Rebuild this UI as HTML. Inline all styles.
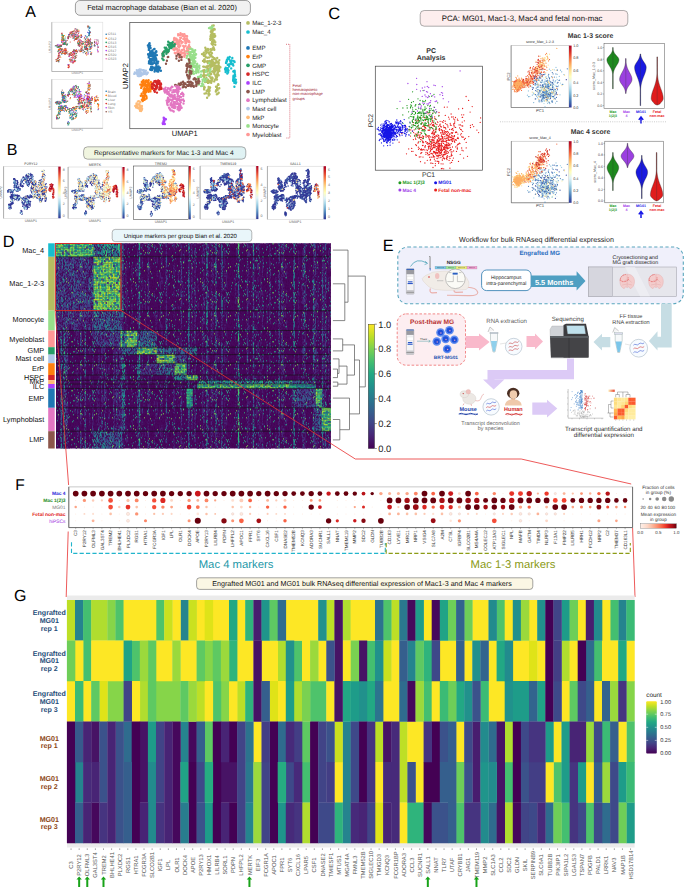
<!DOCTYPE html>
<html><head><meta charset="utf-8"><title>Figure</title>
<style>
html,body{margin:0;padding:0;background:#fff;}
body{width:685px;height:889px;overflow:hidden;}
svg{display:block;font-family:"Liberation Sans",sans-serif;text-rendering:geometricPrecision;}
</style></head><body>
<svg width="685" height="889" viewBox="0 0 685 889">
<rect width="685" height="889" fill="#fff"/>
<!-- panel_a -->
<text x="25.2" y="17.2" font-size="16" fill="#000" text-anchor="start" >A</text>
<rect x="75.4" y="0.5" width="175" height="14.8" rx="4.5" fill="#f1f1f1" stroke="#777" stroke-width="0.7"/>
<text x="162.0" y="10.2" font-size="7.36" fill="#111" text-anchor="middle" >Fetal macrophage database (Bian et al. 2020)</text>
<rect x="129.8" y="22.4" width="110.9" height="106.3" fill="#fff" stroke="#444" stroke-width="0.7"/>
<path stroke="#b5bd61" stroke-width="2.4" stroke-linecap="round" fill="none"  d="M212.7 34.6h0M212.6 44.7h0M214.7 29.6h0M212.6 48.5h0M212.2 36.8h0M211.5 43.6h0M211.5 32.3h0M213.3 43.4h0M214.0 48.8h0M213.0 33.8h0M213.0 29.9h0M211.1 34.4h0M214.6 34.1h0M213.6 48.3h0M214.4 29.0h0M214.3 49.8h0M214.4 36.8h0M211.4 30.8h0M211.1 31.4h0M214.5 37.0h0M213.0 37.8h0M213.7 25.5h0M214.4 40.8h0M211.9 43.9h0M215.3 44.8h0M213.7 48.0h0M213.4 47.3h0M214.5 29.2h0M213.3 40.0h0M212.3 49.2h0M211.3 38.7h0M213.5 35.1h0M215.2 36.0h0M212.3 25.8h0M213.3 44.3h0M210.8 35.4h0M212.6 31.3h0M215.3 42.1h0M212.0 28.0h0M212.1 43.0h0M210.8 31.8h0M211.9 28.8h0M211.8 28.6h0M210.5 36.6h0M211.2 35.4h0M213.8 49.4h0M210.3 38.7h0M213.6 41.4h0M210.4 39.8h0M211.3 36.4h0M213.3 29.1h0M212.1 41.5h0M207.6 57.8h0M203.4 54.8h0M209.8 54.7h0M210.9 62.4h0M204.3 59.5h0M205.7 51.2h0M211.5 50.2h0M211.0 56.4h0M209.5 60.9h0M204.1 55.1h0M210.4 51.8h0M209.1 57.4h0M203.8 52.6h0M210.0 64.8h0M207.9 49.1h0M212.0 53.2h0M202.0 54.1h0M212.7 56.9h0M212.0 59.7h0M203.0 60.9h0M210.4 49.2h0M207.7 61.3h0M205.5 50.5h0M204.6 59.6h0M207.2 61.4h0M206.2 49.3h0M206.3 61.6h0M204.3 62.0h0M207.9 49.0h0M205.6 56.5h0M208.2 50.1h0M203.9 55.8h0M210.0 63.4h0M205.8 57.4h0M209.1 53.5h0M203.7 53.6h0M211.0 55.1h0M212.1 56.5h0M205.6 61.2h0M207.7 52.1h0M205.3 47.7h0M204.8 54.6h0M206.3 53.2h0M209.6 52.8h0M206.1 51.2h0M210.1 64.3h0M204.3 70.0h0M211.7 81.3h0M212.7 78.1h0M218.1 72.0h0M217.7 72.9h0M207.9 63.3h0M215.3 67.2h0M210.9 74.2h0M217.0 74.8h0M204.1 78.4h0M207.3 80.1h0M203.8 74.5h0M205.7 75.4h0M215.7 70.0h0M216.3 78.7h0M213.1 71.3h0M218.7 75.3h0M218.5 68.5h0M206.4 81.7h0M210.3 68.4h0M213.8 72.4h0M202.8 75.7h0M208.3 66.1h0M207.5 68.2h0M212.7 66.0h0M214.9 79.7h0M207.8 74.9h0M206.0 67.3h0M217.9 74.0h0M214.6 64.3h0M209.9 73.0h0M211.0 82.3h0M211.8 79.5h0M207.3 66.5h0M217.2 74.8h0M210.9 78.2h0M208.0 82.1h0M210.5 77.4h0M210.0 64.3h0M207.7 69.9h0M216.5 67.5h0M208.2 62.4h0M208.4 82.3h0M209.3 76.0h0M215.8 78.4h0M211.2 82.7h0M207.6 69.4h0M210.1 65.3h0M208.6 81.3h0M206.5 80.2h0M212.7 65.4h0M217.6 70.1h0M217.0 76.9h0M215.5 75.2h0M211.2 63.5h0M204.0 72.6h0M204.1 76.5h0M206.5 66.5h0M211.1 66.0h0M216.1 75.4h0M219.1 69.8h0M214.5 71.1h0M207.8 74.5h0M209.8 72.6h0M209.6 82.4h0M203.2 66.6h0M212.0 77.5h0M206.3 71.1h0M214.0 69.6h0M203.8 72.0h0M213.7 65.6h0M214.2 81.4h0M213.8 69.0h0M216.7 79.6h0M212.2 79.7h0M209.3 62.6h0M208.2 81.7h0M217.0 79.5h0M216.1 76.4h0M212.6 64.1h0M217.4 73.4h0M214.4 74.0h0M216.7 69.7h0M212.5 62.0h0M204.9 80.0h0M211.2 73.9h0M215.6 65.7h0M212.0 66.2h0M209.1 68.8h0M207.5 71.6h0M202.9 70.8h0M219.4 70.9h0M204.4 71.3h0M215.5 75.8h0M216.4 75.9h0M204.0 66.7h0M209.9 62.9h0M209.2 70.4h0M210.6 67.3h0M208.5 82.2h0M206.4 78.0h0M210.1 81.2h0M205.3 79.3h0M210.0 81.1h0M211.6 60.9h0M214.1 62.8h0M213.7 62.8h0M219.3 60.1h0M218.8 63.0h0M218.6 66.7h0M212.1 71.5h0M220.4 67.2h0M214.1 68.2h0M216.4 61.3h0M214.2 58.7h0M212.2 61.9h0M218.3 67.9h0M217.2 58.0h0M212.6 59.7h0M214.3 73.3h0M216.3 60.2h0M219.7 66.8h0M216.2 67.1h0M216.1 62.5h0M216.9 65.6h0M216.9 67.4h0M211.2 64.8h0M215.0 59.2h0M212.7 61.3h0M219.1 66.4h0M215.4 69.3h0M215.5 62.9h0M214.5 68.3h0M217.4 73.4h0M218.7 65.0h0M215.5 71.2h0M218.1 62.8h0M219.9 67.5h0M211.7 62.2h0M218.4 61.7h0M214.6 58.3h0M215.1 71.0h0M207.1 80.5h0M208.6 87.0h0M210.1 87.5h0M209.2 90.4h0M204.5 93.6h0M209.9 81.8h0M204.1 88.0h0M206.1 93.2h0M208.1 79.8h0M209.9 81.0h0M208.8 93.0h0M204.7 87.5h0M208.4 91.5h0M208.0 91.2h0M204.2 86.7h0M207.4 90.7h0M208.4 81.2h0M206.6 90.8h0M208.7 95.6h0M205.1 82.1h0M207.1 97.8h0M209.6 90.8h0M209.8 88.3h0M208.4 94.0h0M209.6 94.3h0M204.1 89.4h0M208.7 88.4h0M208.0 82.9h0M208.2 89.4h0M209.2 89.5h0M219.3 88.3h0M216.1 90.1h0M218.5 84.7h0M218.2 84.2h0M216.0 86.7h0M217.1 89.3h0M216.0 91.5h0M217.1 88.1h0M217.5 90.0h0M215.8 91.5h0M216.8 86.7h0M216.8 94.3h0M217.7 93.7h0M218.7 92.7h0M217.9 84.8h0"/>
<path stroke="#98df8a" stroke-width="2.4" stroke-linecap="round" fill="none"  d="M189.1 61.4h0M195.4 57.8h0M186.7 57.9h0M188.6 48.9h0M190.3 56.1h0M189.6 47.0h0M191.7 49.0h0M195.5 54.9h0M191.2 57.0h0M189.8 61.0h0M189.0 52.6h0M185.2 54.9h0M186.4 51.5h0M194.5 56.9h0M189.7 60.5h0M192.3 57.5h0M190.7 48.7h0M190.1 52.2h0M189.8 58.2h0M193.0 51.3h0M192.3 56.7h0M194.5 54.9h0M189.8 55.7h0M190.3 53.2h0M193.9 52.8h0M185.1 53.9h0M194.0 59.4h0M187.7 51.3h0M193.3 54.7h0M191.6 51.8h0M189.2 58.9h0M194.5 58.1h0M193.9 60.1h0M192.6 49.5h0M195.2 50.2h0M192.9 60.9h0M196.1 54.2h0M192.9 50.8h0M188.9 59.1h0M193.0 55.3h0M193.3 59.2h0M189.7 54.9h0M191.9 59.5h0M191.8 57.2h0M190.2 59.7h0M192.6 51.9h0M191.0 54.4h0M194.1 51.9h0M187.2 55.9h0M190.5 48.5h0M188.8 54.1h0M194.6 52.4h0M195.4 65.8h0M193.2 71.8h0M190.8 64.0h0M190.6 64.2h0M197.0 66.6h0M193.0 64.1h0M195.3 67.2h0M189.7 65.5h0M199.4 68.3h0M190.8 74.2h0M193.3 63.4h0M190.1 74.2h0M190.1 62.1h0M196.2 70.9h0M192.3 66.1h0M189.2 72.5h0M199.4 65.7h0M198.2 70.7h0M189.6 73.6h0M194.0 63.1h0M190.0 71.4h0M191.9 68.6h0M191.6 72.0h0M198.6 72.2h0M192.7 70.2h0M195.3 66.2h0M193.7 66.8h0M191.9 72.9h0M191.1 63.1h0M194.8 63.0h0M195.3 61.5h0M198.5 70.2h0M196.2 73.1h0M198.3 66.6h0M192.7 73.2h0M193.9 66.1h0M192.2 66.4h0M197.1 63.9h0M196.2 69.7h0M197.3 66.2h0M197.2 64.0h0M193.9 73.8h0M192.8 64.6h0M196.9 68.3h0M195.2 66.1h0M189.1 71.2h0M193.2 61.9h0M194.2 65.6h0M196.8 68.7h0M195.4 66.2h0M197.5 71.6h0M195.5 71.4h0M201.1 86.1h0M197.8 81.2h0M198.0 77.0h0M198.8 84.6h0M201.2 76.9h0M202.3 85.7h0M203.2 84.5h0M199.0 77.5h0M197.8 80.4h0M199.7 76.4h0M202.5 79.6h0M196.0 81.4h0M200.9 76.8h0M198.2 78.0h0M197.6 81.6h0M196.4 81.8h0M202.7 81.6h0M199.1 83.5h0M197.8 83.8h0M198.1 82.4h0M197.9 78.0h0M201.9 83.6h0M210.3 69.2h0M206.5 70.3h0M208.1 75.3h0M208.8 74.5h0M206.5 79.1h0M210.0 71.4h0M210.2 69.5h0M205.8 71.8h0M201.6 71.4h0M209.2 63.1h0M201.1 71.5h0M205.3 81.3h0M204.0 78.9h0M201.0 74.6h0M203.4 79.6h0M212.2 27.7h0M212.1 26.7h0M210.3 27.5h0M209.0 28.1h0M210.7 28.6h0M212.5 26.7h0"/>
<path stroke="#ff9896" stroke-width="2.4" stroke-linecap="round" fill="none"  d="M174.1 43.3h0M185.0 40.8h0M176.2 42.9h0M182.6 53.0h0M185.3 39.9h0M186.8 38.5h0M187.6 53.6h0M181.6 42.7h0M173.9 40.5h0M184.9 55.4h0M179.2 50.1h0M180.5 33.2h0M184.6 55.8h0M175.4 38.8h0M178.5 44.4h0M175.5 43.7h0M184.6 54.9h0M184.4 37.2h0M179.3 44.5h0M178.5 35.3h0M177.4 39.6h0M179.6 50.4h0M180.9 38.1h0M179.1 47.6h0M186.1 41.8h0M180.3 45.7h0M184.4 56.7h0M178.1 46.2h0M177.3 49.7h0M186.0 43.2h0M179.2 53.0h0M185.4 40.7h0M189.7 47.1h0M183.9 49.2h0M178.9 57.0h0M181.1 37.6h0M174.3 38.0h0M176.9 48.8h0M179.2 47.0h0M185.8 35.9h0M182.1 50.0h0M183.2 35.0h0M175.5 53.5h0M179.9 39.9h0M183.4 39.0h0M175.3 49.2h0M184.2 56.0h0M181.9 56.5h0M181.5 53.8h0M186.9 50.5h0M174.2 50.1h0M179.2 41.5h0M174.8 52.9h0M189.4 42.2h0M185.4 43.1h0M182.6 35.7h0M183.4 35.2h0M178.6 54.3h0M181.5 42.0h0M183.5 46.2h0M185.6 46.0h0M184.0 46.9h0M178.8 53.0h0M180.3 34.9h0M188.0 47.1h0M175.1 53.0h0M176.2 40.4h0M184.8 38.5h0M178.4 43.6h0M181.6 57.2h0M187.6 50.4h0M172.5 44.8h0M184.4 34.2h0M182.7 42.1h0M176.3 38.8h0M184.0 53.0h0M188.3 50.1h0M183.2 46.0h0M180.5 55.1h0M174.5 43.2h0M184.6 51.3h0M179.1 42.3h0M178.5 54.6h0M181.9 42.7h0M176.3 43.9h0M181.5 43.2h0M181.2 52.0h0M177.3 42.7h0M186.7 39.0h0M188.7 46.3h0M188.2 41.1h0M176.6 41.0h0M189.1 45.1h0M179.8 55.0h0M174.9 45.8h0M178.2 35.4h0M174.1 38.6h0M176.9 39.4h0M187.1 36.2h0M185.1 53.5h0M180.2 37.8h0M175.6 48.1h0M187.5 40.1h0M186.1 43.1h0M173.3 49.3h0M177.9 51.2h0M187.1 39.6h0M189.1 41.2h0M182.5 34.2h0M187.4 39.6h0M188.5 41.9h0M173.6 46.3h0M177.0 52.5h0M186.9 48.1h0M173.5 49.6h0M182.1 50.0h0M180.9 40.9h0M177.6 40.8h0M185.4 42.9h0M178.1 34.1h0"/>
<path stroke="#8c564b" stroke-width="2.4" stroke-linecap="round" fill="none"  d="M189.7 65.8h0M186.7 71.0h0M189.5 62.8h0M187.1 63.6h0M189.2 59.9h0M186.4 65.1h0M187.8 64.1h0M190.1 67.4h0M186.4 72.3h0M188.5 66.3h0M190.7 67.5h0M191.5 71.5h0M188.5 78.5h0M187.1 74.9h0M186.5 65.9h0M186.8 70.7h0M190.9 66.5h0M189.4 75.3h0M187.7 76.6h0M191.3 73.6h0M189.8 76.8h0M187.6 67.1h0M189.8 70.5h0M191.0 66.2h0M188.8 59.5h0M190.7 73.0h0M189.3 60.5h0M189.8 72.8h0M187.0 68.7h0M189.3 78.6h0M181.6 84.4h0M178.8 83.6h0M196.5 85.6h0M189.5 84.3h0M189.9 85.6h0M191.1 86.3h0M183.1 81.7h0M179.4 84.6h0M188.7 81.8h0M181.2 82.8h0M192.7 85.7h0M176.8 85.4h0M191.4 84.4h0M183.5 86.7h0M187.2 85.1h0M192.7 83.1h0M196.2 86.1h0M183.8 85.0h0M190.0 84.6h0M191.9 82.8h0M193.8 86.8h0M193.7 85.8h0M175.2 84.9h0M183.8 83.0h0M190.6 81.8h0M188.0 85.9h0M177.3 85.8h0M180.0 85.1h0M182.8 87.2h0M185.4 84.1h0M180.1 84.2h0M176.8 86.1h0M187.7 81.9h0M184.0 86.6h0M180.7 83.5h0M188.6 81.7h0M183.7 85.7h0M191.3 84.9h0M189.2 84.6h0M188.7 82.2h0M190.6 81.9h0M185.4 83.5h0M196.3 85.0h0M185.9 87.3h0M191.3 84.2h0M198.7 80.4h0M196.5 83.3h0M198.6 83.4h0M199.4 81.5h0M196.8 82.6h0M198.5 78.9h0M194.2 78.7h0M196.4 84.2h0M193.6 79.2h0M194.7 78.3h0M195.9 81.7h0M198.1 81.1h0M195.9 79.3h0M194.1 79.4h0M198.4 82.2h0M162.8 53.7h0M163.6 56.2h0M162.7 54.7h0M167.8 52.3h0M166.8 52.2h0M168.2 56.9h0M166.0 63.8h0M167.8 57.1h0M163.3 52.3h0M166.9 60.7h0M179.8 57.3h0M181.6 57.3h0M179.7 55.0h0M181.4 59.9h0M176.5 55.9h0M176.4 58.5h0M178.2 54.3h0M178.9 60.8h0"/>
<path stroke="#e377c2" stroke-width="2.4" stroke-linecap="round" fill="none"  d="M181.6 107.7h0M173.8 92.1h0M174.1 107.9h0M176.7 104.1h0M169.0 107.8h0M180.2 88.6h0M178.8 87.0h0M177.5 93.6h0M175.4 106.7h0M167.1 102.8h0M179.0 110.2h0M175.8 103.4h0M178.6 91.3h0M176.9 100.9h0M182.3 92.9h0M183.2 96.1h0M167.3 103.9h0M168.7 92.0h0M180.9 97.0h0M174.3 90.8h0M177.0 88.4h0M175.0 90.2h0M183.5 103.5h0M176.5 90.0h0M173.3 90.3h0M170.6 110.2h0M179.7 100.8h0M172.2 105.1h0M172.9 97.7h0M169.8 108.9h0M169.6 94.2h0M170.5 104.3h0M172.4 87.0h0M183.1 93.9h0M179.3 99.5h0M172.9 95.7h0M178.4 87.2h0M183.9 100.9h0M168.9 101.5h0M177.9 88.2h0M174.8 97.2h0M170.6 105.2h0M173.9 102.1h0M178.4 99.9h0M173.2 98.9h0M178.1 90.0h0M178.3 89.8h0M173.9 90.4h0M167.7 99.3h0M175.3 102.8h0M174.4 105.3h0M177.0 103.9h0M172.2 107.3h0M183.2 99.4h0M171.7 100.6h0M177.0 86.4h0M172.7 105.9h0M177.7 94.2h0M171.1 96.6h0M176.9 87.4h0M176.0 98.9h0M179.9 104.3h0M171.3 103.0h0M178.6 107.4h0M179.0 105.3h0M174.7 94.9h0M178.8 99.1h0M168.0 91.6h0M181.1 93.9h0M167.7 105.1h0M171.9 86.8h0M180.0 106.6h0M175.5 86.1h0M176.2 90.3h0M171.1 95.2h0M182.2 92.9h0M170.4 96.5h0M171.5 95.0h0M181.4 99.9h0M177.7 91.2h0M170.4 109.9h0M172.3 87.0h0M167.7 99.5h0M180.0 109.5h0M170.8 99.8h0M179.4 96.1h0M172.3 92.4h0M180.5 105.7h0M173.9 98.4h0M177.6 96.5h0M179.7 100.0h0M178.0 99.0h0M177.2 92.8h0M172.9 96.6h0M175.3 91.6h0M172.7 106.9h0M169.2 95.1h0M180.0 108.6h0M178.8 103.8h0M170.0 96.2h0M180.2 88.8h0M174.1 98.5h0M181.6 99.9h0M178.3 99.0h0M175.3 97.4h0M169.7 108.4h0M177.6 109.3h0M174.9 108.1h0M182.4 93.3h0M166.6 100.6h0M179.7 106.8h0M177.8 107.2h0M175.5 99.1h0M183.5 94.6h0M167.7 102.1h0M172.5 100.3h0M180.8 102.2h0M174.6 105.5h0M178.5 86.8h0M178.0 92.8h0M172.1 100.6h0M173.7 111.5h0M180.0 97.0h0M173.8 103.3h0M174.9 102.3h0M177.5 103.2h0M169.4 99.4h0M177.7 93.3h0M168.0 97.6h0M179.0 87.5h0M173.7 103.5h0M174.6 96.5h0M178.8 109.4h0M168.3 101.8h0M172.3 110.6h0M168.2 92.4h0M165.6 87.6h0M165.4 90.5h0M170.7 90.3h0M170.1 89.7h0M163.7 89.0h0M168.5 92.0h0M166.9 92.5h0M163.9 89.6h0M168.3 88.5h0M170.5 88.4h0M170.7 87.9h0M168.0 88.3h0M164.4 91.2h0M166.9 90.2h0M167.3 93.7h0M164.9 89.6h0M165.0 92.5h0"/>
<path stroke="#279e68" stroke-width="2.4" stroke-linecap="round" fill="none"  d="M172.2 46.8h0M170.4 43.9h0M171.3 45.4h0M169.4 46.9h0M172.7 42.2h0M169.6 43.1h0M174.8 44.3h0M171.0 44.7h0M168.2 41.8h0M169.7 47.5h0M171.1 44.2h0M173.9 46.4h0M169.1 46.8h0M169.7 42.9h0M167.9 44.8h0M171.4 48.0h0M171.6 45.0h0M170.4 46.2h0M172.1 43.2h0M174.2 45.9h0M172.3 44.8h0M172.1 44.8h0M170.0 43.8h0M174.5 44.8h0M170.5 45.8h0M169.8 47.8h0M170.4 44.5h0M168.7 45.3h0M171.8 43.0h0M170.5 45.8h0M165.5 49.1h0M164.7 47.6h0M166.9 51.6h0M166.3 51.4h0M166.1 50.3h0M169.1 49.5h0M168.7 49.9h0M168.2 51.7h0M166.9 49.2h0M164.3 52.0h0M166.4 50.9h0M164.2 51.2h0M168.8 51.1h0M166.1 47.6h0M166.0 48.5h0M166.4 53.7h0M167.0 50.2h0M166.3 48.1h0M163.4 60.0h0M162.6 55.7h0M163.6 59.9h0M162.3 58.5h0M163.3 54.7h0M163.4 53.3h0M162.4 53.7h0M163.8 55.2h0M163.3 53.7h0"/>
<path stroke="#1f77b4" stroke-width="2.4" stroke-linecap="round" fill="none"  d="M149.1 49.7h0M149.2 43.8h0M148.9 47.9h0M149.0 47.3h0M148.5 46.1h0M148.8 49.9h0M149.6 43.3h0M148.7 45.8h0M150.6 48.0h0M147.9 45.5h0M148.6 47.4h0M150.2 45.7h0M156.2 51.2h0M153.5 55.0h0M153.9 49.3h0M156.0 55.3h0M155.5 53.0h0M153.9 55.0h0M154.8 59.2h0M149.1 55.7h0M154.2 58.6h0M155.9 58.2h0M151.5 55.9h0M155.1 55.6h0M151.8 53.8h0M152.3 51.1h0M148.1 54.3h0M150.0 52.8h0M152.6 59.8h0M148.5 55.3h0M150.2 51.1h0M156.3 52.0h0M150.5 53.9h0M153.8 54.1h0M150.9 55.9h0M151.4 53.1h0M152.4 52.4h0M153.3 55.1h0M153.1 52.9h0M153.3 52.5h0M155.0 57.3h0M151.2 51.5h0M148.7 57.4h0M154.0 58.7h0M153.4 60.1h0M155.0 58.3h0M156.4 51.8h0M154.5 49.0h0M152.3 50.5h0M153.4 57.0h0M152.4 52.6h0M152.1 60.3h0M150.4 54.1h0M156.9 55.1h0M155.8 51.6h0M150.3 58.9h0M152.2 53.2h0M151.9 63.3h0M153.2 60.1h0M155.8 67.5h0M153.3 57.7h0M153.2 67.5h0M150.5 62.0h0M151.6 58.6h0M154.4 68.5h0M158.2 61.6h0M156.9 66.5h0M156.4 60.4h0M157.0 62.0h0M155.5 57.4h0M151.1 63.8h0M154.6 58.5h0M152.0 60.7h0M157.0 62.4h0M152.8 60.0h0M157.1 66.8h0M149.0 61.2h0M156.3 64.5h0M149.2 62.0h0M157.0 66.5h0M148.9 63.3h0M154.9 57.8h0M156.0 63.3h0M151.2 66.7h0M156.1 64.0h0M152.2 66.6h0M152.8 63.8h0M154.3 62.9h0M151.6 68.1h0M152.1 59.1h0M150.2 63.8h0M156.6 66.2h0M152.9 63.4h0M157.7 63.4h0M156.3 66.9h0M152.5 63.4h0M156.1 67.4h0M150.2 61.5h0M156.3 65.8h0M154.1 59.4h0M154.3 61.5h0M154.7 60.4h0M153.8 60.1h0M150.0 59.5h0M156.3 59.2h0M157.3 66.8h0M155.8 63.5h0M151.3 67.5h0M157.8 61.9h0M157.1 71.2h0M151.1 69.1h0M157.3 70.6h0M151.5 70.1h0M150.4 69.8h0M158.4 71.1h0M155.9 69.8h0M152.4 68.4h0M152.9 67.9h0M157.8 68.7h0M155.0 68.7h0M150.9 68.2h0M156.6 69.1h0M159.2 68.9h0M150.9 68.9h0M150.2 69.5h0M159.0 68.6h0M154.8 69.8h0M158.6 66.5h0M157.9 71.5h0M158.3 71.6h0M154.6 71.6h0M150.5 69.1h0M154.7 69.8h0M156.4 70.2h0M160.9 70.7h0M159.0 69.9h0M160.0 67.8h0M157.3 66.7h0M157.0 67.0h0M154.8 68.6h0M151.4 68.2h0M151.6 69.7h0M154.6 67.6h0M152.0 70.0h0M159.3 67.5h0M156.0 69.8h0M152.0 69.7h0"/>
<path stroke="#aec7e8" stroke-width="2.4" stroke-linecap="round" fill="none"  d="M146.9 73.5h0M145.4 71.5h0M139.1 75.7h0M134.9 72.9h0M136.9 73.6h0M138.9 74.9h0M139.7 73.5h0M137.0 72.0h0M138.3 76.0h0M141.2 73.8h0M147.6 73.0h0M137.8 75.7h0M134.8 72.5h0M143.6 73.3h0M147.0 73.9h0M145.9 70.6h0M144.9 73.0h0M143.1 73.6h0M139.2 74.0h0M139.3 71.3h0M139.1 71.4h0M139.1 72.6h0M138.0 73.6h0M137.6 74.2h0M146.8 73.7h0M139.7 69.5h0M141.3 72.7h0M147.6 72.8h0M139.7 76.1h0M134.3 73.9h0M140.7 75.3h0M140.0 70.8h0M140.4 71.3h0M142.5 74.6h0M141.7 74.6h0M144.0 72.0h0M137.1 71.6h0M141.7 73.7h0M139.3 73.9h0M136.7 73.8h0M140.6 72.4h0M143.8 70.1h0M143.0 70.2h0M143.4 74.1h0M146.3 74.3h0M136.8 70.1h0M138.9 70.0h0M144.1 73.9h0M135.4 72.6h0M143.2 70.2h0M141.0 69.7h0M143.7 71.2h0M137.5 72.4h0M136.6 73.5h0M139.9 72.4h0M139.3 69.8h0M140.9 75.7h0M140.7 70.4h0M137.5 74.8h0M147.8 72.8h0"/>
<path stroke="#ff7f0e" stroke-width="2.4" stroke-linecap="round" fill="none"  d="M144.1 83.8h0M146.1 92.1h0M151.9 83.8h0M143.4 81.2h0M148.8 91.0h0M148.6 80.3h0M146.6 84.7h0M150.2 85.2h0M152.7 85.8h0M141.8 86.4h0M148.8 89.3h0M148.4 88.8h0M149.9 86.7h0M146.9 86.9h0M146.2 80.5h0M147.5 86.2h0M141.2 87.9h0M145.8 85.0h0M147.3 88.6h0M143.4 83.1h0M145.5 84.6h0M145.1 85.7h0M152.7 87.1h0M141.8 81.9h0M150.6 89.4h0M151.7 87.5h0M148.0 84.3h0M147.2 85.1h0M149.2 84.6h0M150.0 89.0h0M144.4 91.6h0M148.0 90.4h0M144.6 89.8h0M147.6 87.5h0M143.9 85.5h0M147.9 82.1h0M149.6 85.3h0M147.8 82.1h0M141.5 86.9h0M144.3 88.8h0M143.4 91.9h0M143.0 82.8h0M143.6 80.3h0M143.7 89.8h0M142.8 82.8h0M150.4 91.4h0M150.1 87.6h0M148.0 80.7h0M148.5 91.7h0M148.5 83.8h0M150.1 84.7h0M147.6 90.1h0M146.1 88.5h0M143.3 84.6h0M145.5 89.7h0M151.7 88.4h0M140.3 84.6h0M146.8 86.6h0M141.6 84.4h0M148.4 91.2h0M144.4 83.4h0M148.6 80.5h0M149.1 89.3h0M148.0 85.4h0M145.9 84.7h0M143.6 81.5h0M142.8 80.8h0M145.7 91.1h0M152.1 88.9h0M145.1 83.4h0M144.3 88.3h0M150.8 82.0h0M147.0 90.0h0M146.1 80.6h0M145.9 81.0h0M145.8 81.9h0M142.4 82.4h0M145.7 91.6h0M152.5 84.3h0M144.7 92.2h0M145.1 91.7h0M148.8 83.1h0M146.5 98.6h0M144.6 99.7h0M144.0 97.4h0M145.3 94.1h0M140.8 95.7h0M146.6 98.2h0M144.4 99.1h0M144.8 92.8h0M141.7 93.8h0M142.7 101.1h0M146.6 97.2h0M141.9 99.7h0M142.7 99.8h0M143.2 99.9h0M146.2 95.9h0M144.4 94.6h0M144.0 93.1h0M142.8 96.0h0M144.6 94.6h0M144.0 96.3h0M142.9 96.2h0M142.9 97.5h0"/>
<path stroke="#ffbb78" stroke-width="2.4" stroke-linecap="round" fill="none"  d="M137.6 104.5h0M136.4 105.1h0M137.9 108.1h0M141.0 106.4h0M141.9 109.8h0M139.3 108.3h0M137.4 104.7h0M138.8 101.2h0M140.2 102.0h0M140.3 102.4h0M139.4 107.8h0M139.8 105.1h0M139.6 107.7h0M139.0 108.6h0M139.2 108.7h0M139.0 108.1h0M138.3 107.4h0M137.9 101.4h0M141.1 111.1h0M140.0 110.8h0M136.5 103.4h0M137.2 107.7h0M141.9 105.9h0M141.6 107.2h0M142.1 108.8h0M137.3 106.6h0M140.6 108.6h0M139.0 104.4h0M136.1 107.4h0M135.3 105.9h0M136.7 103.6h0M138.6 104.5h0M137.3 106.8h0"/>
<path stroke="#d62728" stroke-width="2.4" stroke-linecap="round" fill="none"  d="M154.2 85.5h0M155.7 80.9h0M156.8 83.8h0M154.9 89.0h0M156.0 81.1h0M160.2 87.0h0M152.7 88.1h0M154.4 81.3h0M159.5 81.3h0M160.9 84.5h0M156.3 82.5h0M155.9 81.9h0M152.8 88.1h0M152.0 87.7h0M154.8 91.7h0M160.8 83.6h0M154.1 90.6h0M157.0 87.4h0M158.3 82.3h0M151.8 86.2h0M152.8 88.4h0M160.9 83.5h0M161.5 88.8h0M159.5 88.3h0M156.0 85.8h0M161.2 87.5h0M159.6 83.4h0M160.2 85.1h0M156.6 88.2h0M158.6 83.9h0M152.5 87.6h0M152.0 84.1h0M155.9 86.8h0M160.3 83.1h0M155.7 89.4h0M160.7 83.7h0M155.7 88.9h0M157.0 92.6h0M160.2 86.1h0M160.6 89.1h0M159.2 89.5h0M153.5 82.7h0M161.1 84.2h0M158.8 83.2h0M156.8 85.4h0M157.3 86.2h0M159.5 87.6h0M158.2 80.5h0M158.0 81.4h0M160.6 85.6h0M156.3 87.3h0M154.1 85.0h0"/>
<path stroke="#aa40fc" stroke-width="2.4" stroke-linecap="round" fill="none"  d="M164.9 118.8h0M164.4 119.4h0M165.9 119.3h0M162.7 123.1h0M164.4 119.6h0M164.8 124.0h0M163.0 124.1h0M162.8 123.4h0M163.8 123.2h0M164.2 121.2h0M165.1 119.6h0M163.4 121.3h0M163.9 118.0h0M164.5 123.8h0M163.7 117.7h0M163.9 119.0h0M165.2 119.2h0M164.1 122.9h0"/>
<path stroke="#17becf" stroke-width="2.4" stroke-linecap="round" fill="none"  d="M229.7 56.9h0M232.3 58.0h0M228.9 64.5h0M229.2 66.4h0M232.8 64.0h0M234.6 62.1h0M233.3 65.5h0M231.3 61.1h0M232.9 64.8h0M227.1 59.5h0M230.9 61.8h0M226.7 60.5h0M227.0 60.2h0M226.3 62.0h0M231.6 64.1h0M234.4 61.4h0M229.2 59.2h0M233.6 61.0h0M231.5 60.4h0M230.3 64.0h0M230.3 61.3h0M226.9 61.6h0M231.2 68.4h0M226.9 60.5h0M231.2 62.6h0M230.8 63.0h0M227.9 57.6h0M227.7 64.8h0M226.0 62.9h0M228.6 57.9h0M235.2 81.4h0M234.2 77.0h0M235.0 74.2h0M234.6 70.8h0M233.6 71.1h0M235.9 79.8h0M233.3 71.4h0M234.8 72.0h0M234.3 81.1h0M233.2 79.4h0M233.1 80.8h0M233.3 78.1h0M235.0 79.1h0M233.3 77.0h0M234.4 86.8h0M233.5 75.8h0M236.2 82.1h0M234.3 82.7h0M235.8 83.3h0M234.6 70.7h0M235.2 76.3h0M234.4 72.2h0M225.3 69.8h0M228.5 70.4h0M228.1 72.4h0M227.9 69.6h0M226.8 69.7h0M227.3 73.6h0M225.6 72.0h0M225.7 67.6h0M227.7 68.1h0M227.8 71.5h0M226.6 69.7h0M225.1 69.0h0"/>
<text x="184.7" y="135.8" font-size="7.5" fill="#111" text-anchor="middle" >UMAP1</text>
<text transform="translate(127.5,76) rotate(-90)" font-size="7.5" fill="#111" text-anchor="middle">UMAP2</text>
<circle cx="248" cy="22.9" r="1.85" fill="#b5bd61"/>
<text x="252.2" y="25.1" font-size="6.15" fill="#222" text-anchor="start" >Mac_1-2-3</text>
<circle cx="248" cy="32.0" r="1.85" fill="#17becf"/>
<text x="252.2" y="34.2" font-size="6.15" fill="#222" text-anchor="start" >Mac_4</text>
<circle cx="248" cy="47.9" r="1.85" fill="#1f77b4"/>
<text x="252.2" y="50.1" font-size="6.15" fill="#222" text-anchor="start" >EMP</text>
<circle cx="248" cy="56.6" r="1.85" fill="#ff7f0e"/>
<text x="252.2" y="58.8" font-size="6.15" fill="#222" text-anchor="start" >ErP</text>
<circle cx="248" cy="65.3" r="1.85" fill="#279e68"/>
<text x="252.2" y="67.5" font-size="6.15" fill="#222" text-anchor="start" >GMP</text>
<circle cx="248" cy="74.1" r="1.85" fill="#d62728"/>
<text x="252.2" y="76.3" font-size="6.15" fill="#222" text-anchor="start" >HSPC</text>
<circle cx="248" cy="82.9" r="1.85" fill="#aa40fc"/>
<text x="252.2" y="85.1" font-size="6.15" fill="#222" text-anchor="start" >ILC</text>
<circle cx="248" cy="91.6" r="1.85" fill="#8c564b"/>
<text x="252.2" y="93.8" font-size="6.15" fill="#222" text-anchor="start" >LMP</text>
<circle cx="248" cy="100.2" r="1.85" fill="#e377c2"/>
<text x="252.2" y="102.4" font-size="6.15" fill="#222" text-anchor="start" >Lymphoblast</text>
<circle cx="248" cy="108.6" r="1.85" fill="#aec7e8"/>
<text x="252.2" y="110.8" font-size="6.15" fill="#222" text-anchor="start" >Mast cell</text>
<circle cx="248" cy="117.3" r="1.85" fill="#ffbb78"/>
<text x="252.2" y="119.5" font-size="6.15" fill="#222" text-anchor="start" >MkP</text>
<circle cx="248" cy="125.9" r="1.85" fill="#98df8a"/>
<text x="252.2" y="128.1" font-size="6.15" fill="#222" text-anchor="start" >Monocyte</text>
<circle cx="248" cy="134.5" r="1.85" fill="#ff9896"/>
<text x="252.2" y="136.7" font-size="6.15" fill="#222" text-anchor="start" >Myeloblast</text>
<path d="M286 44.3H289.8V138H286.5" stroke="#c8283a" stroke-width="0.8" stroke-dasharray="0.8 1.2" fill="none"/>
<text x="292.6" y="86.6" font-size="4.0" fill="#a02030" text-anchor="start" >Fetal</text>
<text x="292.6" y="90.9" font-size="4.0" fill="#a02030" text-anchor="start" >hematopoietic</text>
<text x="292.6" y="95.2" font-size="4.0" fill="#a02030" text-anchor="start" >non-macrophage</text>
<text x="292.6" y="99.5" font-size="4.0" fill="#a02030" text-anchor="start" >groups</text>
<rect x="51.8" y="22.2" width="51.0" height="49.3" fill="#fff" stroke="#ddd" stroke-width="0.6"/>
<path d="M51.8 22.2V71.5H102.8" stroke="#999" stroke-width="0.6" fill="none"/>
<path stroke="#1f77b4" stroke-width="1.05" stroke-linecap="round" fill="none"  d="M89.3 32.9h0M88.6 26.9h0M89.4 35.8h0M89.2 30.4h0M89.2 33.4h0M89.2 32.6h0M88.8 32.9h0M89.9 28.2h0M88.8 27.3h0M88.5 34.9h0M90.1 31.6h0M89.4 33.9h0M89.5 30.9h0M87.9 32.4h0M88.7 26.1h0M90.0 32.6h0M90.2 32.2h0M89.6 27.0h0M88.8 33.7h0M88.6 35.4h0M89.8 33.4h0M89.4 34.4h0M90.1 31.8h0M89.4 28.3h0M87.9 32.2h0M89.0 28.7h0M89.4 35.2h0M89.7 32.3h0M88.7 29.9h0M89.9 31.7h0M86.8 36.2h0M89.0 39.6h0M89.2 40.4h0M86.2 37.9h0M85.4 36.1h0M85.3 35.6h0M85.3 49.2h0M89.3 46.5h0M84.3 47.8h0M90.4 48.9h0M87.3 44.6h0M84.8 47.9h0M91.9 45.8h0M90.3 48.1h0M86.1 46.9h0M90.8 47.3h0M91.1 46.8h0M86.8 46.9h0M91.5 46.3h0M84.6 46.9h0M86.5 47.8h0M90.5 44.1h0M85.8 48.8h0M90.2 49.3h0M85.1 46.8h0M91.1 44.7h0M90.3 47.0h0M89.1 44.8h0M90.7 44.0h0M87.7 50.9h0M88.1 52.6h0M86.3 49.8h0M85.6 53.4h0M90.2 51.4h0M81.5 37.0h0M81.3 37.5h0M83.3 41.8h0M79.2 42.6h0M88.3 26.2h0M75.6 34.4h0M74.8 35.1h0M78.9 32.7h0M74.8 36.0h0M76.6 35.0h0M73.5 38.0h0M73.4 31.5h0M75.7 38.5h0M74.4 39.1h0M75.6 28.7h0M74.6 36.5h0M79.1 40.1h0M71.5 59.7h0M74.8 52.2h0M71.1 57.5h0M69.9 54.4h0M70.9 61.7h0M69.8 54.3h0M71.1 32.8h0M68.6 34.6h0M68.8 34.5h0M62.1 34.1h0M62.0 34.9h0M61.8 37.2h0M62.6 36.9h0M62.9 36.9h0M62.0 38.5h0M64.2 43.5h0M65.4 42.3h0M61.5 46.0h0M55.3 45.9h0M62.4 51.9h0M61.8 54.4h0M60.1 52.6h0M63.3 51.4h0M58.6 50.4h0M59.0 61.8h0M56.4 61.3h0M65.7 51.5h0M66.7 53.3h0M68.3 64.4h0M98.2 47.1h0M97.7 45.8h0M94.3 45.9h0M95.2 45.6h0"/>
<path stroke="#d62728" stroke-width="1.05" stroke-linecap="round" fill="none"  d="M90.3 32.3h0M88.0 42.4h0M88.0 38.7h0M85.0 42.3h0M87.5 40.9h0M88.6 41.6h0M84.5 37.3h0M88.5 42.0h0M87.2 44.4h0M86.5 45.5h0M90.1 48.2h0M85.5 44.7h0M87.4 41.5h0M87.3 49.6h0M88.0 48.7h0M91.6 44.7h0M91.1 43.3h0M90.9 42.5h0M86.7 46.6h0M88.0 40.5h0M85.3 43.7h0M91.4 47.9h0M86.6 42.5h0M91.0 42.9h0M87.5 43.9h0M88.6 44.6h0M90.7 39.3h0M88.9 40.7h0M89.4 42.0h0M90.5 41.7h0M88.9 43.8h0M92.0 42.7h0M88.3 39.7h0M90.6 46.8h0M86.7 49.6h0M88.0 51.0h0M87.5 48.3h0M85.7 53.8h0M88.0 53.9h0M86.4 48.5h0M91.1 54.6h0M90.8 53.1h0M91.3 53.6h0M90.8 53.0h0M78.5 36.1h0M80.8 37.4h0M78.6 40.7h0M78.0 35.0h0M77.1 37.7h0M81.3 35.9h0M81.5 35.1h0M77.4 36.4h0M79.4 41.9h0M80.4 40.3h0M81.8 44.0h0M81.2 43.6h0M81.4 41.0h0M79.9 43.5h0M80.3 42.1h0M82.5 44.2h0M84.7 48.9h0M81.7 50.0h0M82.4 50.0h0M82.4 47.7h0M87.0 44.4h0M87.3 42.8h0M87.5 49.0h0M86.6 42.3h0M87.4 26.0h0M78.4 37.7h0M74.8 29.0h0M72.5 36.8h0M77.9 36.5h0M78.5 33.3h0M77.2 31.8h0M76.2 37.3h0M75.1 38.8h0M76.1 36.5h0M73.7 34.8h0M77.1 31.0h0M75.5 36.3h0M75.5 36.4h0M74.1 35.6h0M76.1 33.0h0M74.7 33.2h0M78.7 31.4h0M72.8 35.6h0M75.3 39.5h0M72.2 32.8h0M73.3 37.2h0M76.1 29.0h0M76.6 30.4h0M74.0 32.9h0M79.0 31.0h0M71.9 31.7h0M78.4 44.3h0M79.3 45.0h0M78.0 44.9h0M77.7 42.2h0M79.8 45.4h0M79.1 44.6h0M79.4 42.0h0M78.6 45.4h0M78.2 43.8h0M79.5 42.6h0M77.6 41.7h0M75.2 50.8h0M77.3 51.9h0M75.7 51.7h0M76.4 51.6h0M79.8 51.1h0M74.4 50.1h0M81.2 51.5h0M75.8 50.6h0M76.6 50.0h0M76.8 50.4h0M80.1 51.7h0M80.9 51.2h0M76.2 49.8h0M73.7 49.8h0M75.4 50.4h0M82.0 50.7h0M81.3 48.1h0M81.1 49.8h0M81.2 49.4h0M80.7 48.9h0M82.0 50.3h0M68.2 37.2h0M70.8 37.1h0M68.9 36.7h0M68.3 37.5h0M67.3 40.3h0M70.2 41.9h0M76.3 38.7h0M76.8 39.1h0M75.9 39.4h0M74.2 40.6h0M73.6 50.5h0M74.4 58.0h0M71.2 61.9h0M73.9 60.9h0M73.5 51.2h0M70.2 61.2h0M74.7 54.3h0M73.2 62.9h0M72.3 53.7h0M73.6 55.7h0M72.0 54.8h0M73.6 57.4h0M73.2 51.9h0M76.8 55.7h0M75.4 58.2h0M71.5 55.5h0M69.2 55.8h0M74.3 53.1h0M73.4 62.0h0M72.0 57.2h0M75.6 56.6h0M71.0 59.0h0M70.2 53.3h0M75.6 56.7h0M74.5 61.7h0M72.5 54.7h0M70.8 58.9h0M70.8 59.2h0M72.6 56.0h0M74.9 53.2h0M70.7 60.1h0M74.8 61.7h0M75.7 58.0h0M76.6 53.4h0M73.0 57.7h0M74.7 60.2h0M70.8 59.8h0M70.8 61.3h0M75.5 60.9h0M73.7 60.9h0M69.3 59.5h0M73.5 53.0h0M69.0 56.4h0M73.9 54.0h0M72.7 63.0h0M70.7 61.7h0M73.4 62.2h0M74.3 61.2h0M74.1 54.4h0M72.5 51.6h0M69.5 54.7h0M72.5 51.4h0M71.5 53.7h0M68.0 53.8h0M70.3 54.5h0M69.9 53.2h0M69.7 54.5h0M70.1 53.2h0M69.6 53.8h0M69.9 33.0h0M70.1 32.6h0M72.6 33.0h0M71.4 32.0h0M71.8 34.9h0M70.1 33.4h0M70.3 32.0h0M69.0 36.2h0M68.5 37.1h0M68.6 36.7h0M69.7 34.6h0M69.0 35.5h0M67.7 38.2h0M68.5 38.4h0M61.6 33.5h0M62.0 32.9h0M61.9 33.7h0M62.7 40.3h0M63.8 38.4h0M63.9 40.0h0M63.0 35.4h0M62.4 40.1h0M62.8 39.1h0M61.9 40.8h0M63.9 42.9h0M61.8 40.8h0M65.3 43.7h0M61.8 41.7h0M63.8 44.2h0M62.7 43.0h0M65.9 42.1h0M64.9 40.4h0M64.6 42.9h0M66.8 44.0h0M64.8 44.3h0M65.3 43.8h0M62.5 44.5h0M64.1 43.5h0M64.5 42.7h0M63.2 44.4h0M65.0 42.9h0M57.0 45.3h0M60.3 46.2h0M58.5 47.2h0M60.2 46.5h0M56.5 45.3h0M61.0 44.8h0M57.6 46.7h0M61.4 45.6h0M61.5 46.0h0M60.2 45.9h0M60.6 48.2h0M60.3 48.3h0M63.1 49.7h0M59.6 49.1h0M58.1 51.8h0M61.2 50.1h0M62.5 51.0h0M62.3 52.2h0M63.3 53.0h0M60.1 49.3h0M58.8 53.3h0M59.5 52.4h0M61.9 51.6h0M59.3 52.9h0M62.5 49.1h0M59.2 52.9h0M61.4 49.3h0M60.6 51.4h0M58.3 50.1h0M60.2 48.7h0M60.6 52.5h0M59.0 49.6h0M59.2 49.5h0M59.7 49.6h0M59.9 49.8h0M59.1 57.5h0M60.0 56.7h0M58.9 54.0h0M58.8 55.5h0M58.9 55.6h0M59.0 54.7h0M59.3 55.4h0M58.3 56.6h0M58.2 55.8h0M58.6 56.5h0M59.0 53.9h0M57.1 59.0h0M58.6 57.8h0M58.6 60.5h0M58.4 60.4h0M59.0 60.6h0M56.3 61.3h0M56.0 59.4h0M58.1 58.4h0M55.9 59.7h0M57.4 60.7h0M59.7 59.4h0M57.4 57.9h0M58.6 61.8h0M63.1 53.0h0M64.9 49.0h0M65.9 52.8h0M65.2 50.6h0M66.4 50.6h0M64.8 49.8h0M65.8 49.6h0M65.9 49.0h0M63.9 50.6h0M65.5 49.3h0M64.8 50.7h0M67.0 52.2h0M65.7 54.0h0M64.4 53.8h0M65.8 50.2h0M66.6 53.1h0M65.3 52.7h0M63.3 53.1h0M64.5 53.1h0M66.0 51.8h0M65.0 53.4h0M64.9 48.5h0M68.1 65.0h0M69.0 66.0h0M68.0 67.4h0M68.4 65.8h0M68.5 67.7h0M69.1 67.2h0M69.2 64.8h0M69.3 66.3h0M69.0 65.1h0M96.7 42.9h0M96.2 42.0h0M98.3 47.2h0M97.6 44.3h0M94.7 45.7h0"/>
<path stroke="#aa40fc" stroke-width="1.05" stroke-linecap="round" fill="none"  d="M87.8 32.2h0M84.6 47.3h0M90.3 46.8h0M88.0 44.1h0M88.4 53.7h0M91.7 53.2h0M78.1 40.1h0M78.0 38.2h0M82.1 36.5h0M79.6 46.3h0M81.8 41.6h0M80.3 42.4h0M83.1 52.3h0M83.1 50.4h0M85.6 38.9h0M78.3 36.9h0M73.7 34.3h0M75.5 32.0h0M77.8 35.4h0M76.3 49.7h0M72.3 62.0h0M73.1 52.0h0M72.9 61.4h0M69.2 56.6h0M74.0 52.1h0M73.2 58.7h0M72.2 34.7h0M69.0 34.5h0M67.9 38.3h0M61.5 41.5h0M65.2 40.9h0M63.5 41.7h0M62.7 40.9h0M65.6 41.1h0M63.8 44.3h0M63.7 43.4h0M66.0 44.5h0M59.1 44.7h0M60.1 45.7h0M58.0 44.2h0M61.0 46.4h0M57.1 45.3h0M58.3 46.0h0M57.5 45.3h0M62.4 49.2h0M59.7 52.6h0M60.4 50.1h0M62.1 49.2h0M59.4 48.8h0M67.9 64.8h0M94.4 42.2h0M97.5 50.4h0M95.4 43.1h0"/>
<path stroke="#8c564b" stroke-width="1.05" stroke-linecap="round" fill="none"  d="M87.9 27.6h0M85.6 39.4h0M86.7 41.1h0M84.3 38.7h0M88.0 39.3h0M85.0 41.0h0M85.0 46.6h0M90.5 41.4h0M87.2 45.4h0M86.0 46.2h0M86.1 44.8h0M90.6 42.1h0M88.3 42.6h0M85.8 47.4h0M85.4 49.5h0M86.8 45.4h0M89.8 43.4h0M89.3 41.8h0M85.3 49.0h0M88.9 42.7h0M89.1 43.9h0M91.2 42.7h0M88.6 43.0h0M90.0 40.5h0M89.5 40.0h0M90.6 38.8h0M92.5 43.1h0M86.8 53.9h0M86.3 52.2h0M86.8 48.8h0M86.0 48.6h0M90.8 54.2h0M77.2 38.9h0M80.2 35.9h0M81.3 35.6h0M81.1 40.7h0M78.5 36.4h0M77.3 37.3h0M79.2 39.0h0M81.2 43.9h0M82.5 41.5h0M82.3 43.2h0M80.5 45.0h0M79.5 46.3h0M79.0 44.4h0M82.0 45.9h0M79.5 42.6h0M82.4 42.7h0M84.6 51.3h0M81.7 48.5h0M83.2 50.8h0M84.8 51.7h0M88.0 26.6h0M71.6 32.6h0M75.0 35.1h0M77.5 30.3h0M77.3 31.6h0M75.1 31.7h0M72.9 38.2h0M77.0 31.9h0M77.5 34.8h0M76.4 32.5h0M71.9 35.7h0M73.7 36.2h0M76.9 29.4h0M74.4 33.9h0M73.2 31.1h0M75.8 31.3h0M76.2 38.3h0M76.0 36.0h0M74.5 30.8h0M76.0 34.0h0M76.8 38.8h0M73.4 33.2h0M78.0 37.1h0M72.5 31.5h0M77.9 42.7h0M78.3 43.8h0M79.5 44.0h0M81.2 51.3h0M77.7 51.6h0M74.5 51.2h0M76.8 51.0h0M80.2 50.4h0M76.8 50.8h0M75.7 51.1h0M79.9 50.0h0M78.7 49.9h0M81.8 48.8h0M81.7 50.2h0M68.6 35.9h0M75.8 39.1h0M69.0 55.8h0M71.7 52.5h0M72.8 51.2h0M73.9 54.9h0M76.2 57.5h0M70.7 55.4h0M74.3 56.4h0M72.5 60.3h0M75.2 55.8h0M72.5 62.1h0M71.3 60.5h0M74.9 53.4h0M71.4 52.7h0M71.1 35.0h0M72.6 33.0h0M72.1 33.0h0M70.3 33.6h0M72.9 33.3h0M72.1 34.5h0M69.5 34.4h0M68.2 36.2h0M68.4 38.7h0M67.7 37.1h0M68.3 37.6h0M63.0 40.5h0M61.7 39.4h0M66.1 41.1h0M63.9 42.9h0M63.3 40.7h0M63.3 40.4h0M63.8 44.5h0M66.6 44.9h0M62.7 44.5h0M64.0 43.2h0M66.3 44.1h0M59.0 46.5h0M58.4 46.8h0M57.4 45.0h0M58.6 46.0h0M61.5 45.8h0M58.5 46.2h0M60.4 45.2h0M60.1 46.1h0M55.4 45.4h0M59.7 45.3h0M60.7 45.9h0M59.5 46.6h0M61.6 50.1h0M61.5 53.5h0M61.6 49.0h0M59.6 50.8h0M58.7 53.1h0M60.8 52.6h0M58.8 56.2h0M57.6 60.2h0M65.0 54.4h0M65.2 48.2h0M65.0 52.3h0M64.1 53.6h0M94.5 42.7h0M96.8 43.9h0M96.8 40.0h0M98.2 41.7h0M94.7 41.2h0M97.3 44.0h0M94.5 42.0h0M98.1 51.4h0M97.6 47.0h0M94.6 45.0h0M94.4 44.2h0"/>
<path stroke="#ff7f0e" stroke-width="1.05" stroke-linecap="round" fill="none"  d="M89.9 35.3h0M87.2 39.1h0M86.3 40.4h0M84.6 44.7h0M89.8 49.4h0M91.9 44.7h0M89.7 45.4h0M88.2 46.4h0M92.0 46.9h0M89.0 44.8h0M91.0 48.7h0M84.8 42.7h0M88.2 41.7h0M86.3 52.7h0M86.7 52.5h0M86.7 55.1h0M91.7 52.3h0M78.2 37.6h0M80.9 34.8h0M80.1 39.3h0M77.4 38.5h0M78.7 40.8h0M79.9 35.4h0M83.5 42.0h0M81.0 47.0h0M81.2 42.3h0M80.8 45.4h0M79.3 41.6h0M82.8 46.6h0M88.1 26.1h0M73.7 30.9h0M75.2 38.6h0M78.8 30.1h0M75.4 31.6h0M78.7 41.2h0M79.2 40.9h0M76.5 50.4h0M80.8 51.5h0M72.6 58.8h0M69.9 60.6h0M70.5 52.6h0M71.6 33.5h0M62.3 34.2h0M63.5 38.0h0M62.1 36.5h0M63.0 36.5h0M62.4 37.0h0M64.5 35.4h0M62.4 39.7h0M63.5 36.8h0M62.1 38.1h0M63.5 36.9h0M63.4 36.3h0M63.1 36.3h0M62.7 42.6h0M61.9 40.6h0M60.1 49.1h0M63.1 53.2h0M58.7 49.3h0M61.6 49.3h0M60.2 51.6h0M59.5 49.3h0M62.8 49.1h0M58.6 49.5h0M62.1 53.6h0M60.8 57.2h0M57.2 60.6h0M56.9 60.7h0M65.2 49.5h0M67.9 51.2h0M64.2 51.6h0M66.0 49.4h0M65.0 53.5h0M68.3 66.2h0"/>
<path stroke="#279e68" stroke-width="1.05" stroke-linecap="round" fill="none"  d="M90.1 27.3h0M88.2 42.0h0M86.9 37.3h0M85.5 41.3h0M87.8 36.7h0M85.7 42.1h0M90.6 41.9h0M90.2 46.2h0M89.0 49.5h0M87.9 41.6h0M89.3 47.8h0M85.2 42.5h0M91.9 43.2h0M92.1 42.6h0M87.6 50.4h0M90.8 54.2h0M91.0 53.8h0M77.9 37.6h0M79.6 40.7h0M79.4 36.7h0M83.3 43.9h0M82.3 43.7h0M77.8 43.3h0M79.0 44.0h0M83.5 43.3h0M80.0 42.0h0M83.2 52.8h0M84.5 47.5h0M84.8 51.7h0M85.8 38.9h0M88.6 44.1h0M84.7 46.1h0M74.7 37.6h0M77.3 37.4h0M77.1 29.2h0M78.6 45.7h0M78.3 43.5h0M73.9 50.1h0M74.4 50.1h0M82.9 49.2h0M83.1 50.3h0M81.8 50.7h0M72.1 59.7h0M74.5 58.9h0M75.3 57.1h0M76.1 53.5h0M69.7 59.0h0M76.0 54.9h0M75.7 60.3h0M70.1 53.3h0M68.1 54.2h0M71.3 34.4h0M72.8 32.9h0M72.0 35.1h0M69.7 36.8h0M62.7 34.9h0M61.8 34.9h0M65.1 38.7h0M62.7 35.2h0M63.4 35.5h0M63.5 36.2h0M63.7 39.5h0M62.8 38.1h0M65.2 36.9h0M66.1 40.2h0M65.8 42.1h0M65.1 43.9h0M63.8 40.5h0M61.7 42.5h0M63.1 38.9h0M64.5 43.6h0M64.9 39.3h0M64.6 43.5h0M64.5 42.2h0M63.2 43.2h0M67.5 44.4h0M67.7 43.7h0M65.3 44.4h0M65.2 43.6h0M64.0 44.5h0M63.9 43.6h0M67.1 45.0h0M57.1 47.2h0M59.4 47.2h0M60.7 46.7h0M57.6 47.3h0M56.5 46.1h0M56.7 46.0h0M58.2 47.3h0M61.2 46.2h0M58.1 47.0h0M58.2 51.1h0M62.5 52.7h0M57.9 51.5h0M61.6 49.1h0M61.6 49.8h0M60.0 55.7h0M58.7 60.0h0M58.6 57.7h0M56.9 59.8h0M58.1 61.4h0M66.9 52.3h0M97.8 39.9h0M97.4 49.2h0M94.1 45.2h0"/>
<path stroke="#e377c2" stroke-width="1.05" stroke-linecap="round" fill="none"  d="M87.0 38.3h0M87.7 40.8h0M85.5 36.3h0M86.9 41.7h0M85.2 42.0h0M91.5 47.4h0M87.9 40.8h0M90.7 42.0h0M90.5 40.4h0M87.2 53.7h0M81.0 40.4h0M77.6 36.8h0M77.8 35.7h0M79.6 40.0h0M77.6 35.8h0M80.5 39.8h0M81.4 46.8h0M82.5 42.3h0M82.3 50.3h0M87.3 43.8h0M85.1 44.2h0M72.1 32.7h0M72.5 32.8h0M75.0 35.3h0M75.3 32.3h0M77.8 34.6h0M75.6 31.0h0M76.9 32.9h0M76.6 29.7h0M71.8 36.2h0M78.8 45.7h0M73.3 57.2h0M72.0 58.9h0M74.2 54.6h0M70.6 61.4h0M72.8 61.7h0M68.8 53.9h0M71.0 34.7h0M69.7 35.6h0M62.7 42.8h0M63.2 41.5h0M62.3 44.6h0M58.7 56.7h0M66.7 48.7h0M96.6 42.5h0M98.2 42.7h0M98.1 40.1h0M96.1 39.5h0M96.6 44.3h0M96.6 41.9h0M94.8 39.7h0M96.7 43.7h0M98.2 40.3h0M97.9 47.5h0M98.0 52.5h0M97.8 51.5h0M98.5 50.9h0M97.6 48.9h0M98.6 43.2h0M98.2 46.4h0M95.3 45.9h0"/>
<circle cx="106.2" cy="34.2" r="0.8" fill="#1f77b4"/>
<text x="107.8" y="35.4" font-size="3.4" fill="#777" text-anchor="start" >CS11</text>
<circle cx="106.2" cy="38.3" r="0.8" fill="#ff7f0e"/>
<text x="107.8" y="39.5" font-size="3.4" fill="#777" text-anchor="start" >CS12</text>
<circle cx="106.2" cy="42.4" r="0.8" fill="#279e68"/>
<text x="107.8" y="43.6" font-size="3.4" fill="#777" text-anchor="start" >CS13</text>
<circle cx="106.2" cy="46.5" r="0.8" fill="#d62728"/>
<text x="107.8" y="47.7" font-size="3.4" fill="#777" text-anchor="start" >CS15</text>
<circle cx="106.2" cy="50.6" r="0.8" fill="#aa40fc"/>
<text x="107.8" y="51.8" font-size="3.4" fill="#777" text-anchor="start" >CS17</text>
<circle cx="106.2" cy="54.7" r="0.8" fill="#8c564b"/>
<text x="107.8" y="55.9" font-size="3.4" fill="#777" text-anchor="start" >CS20</text>
<circle cx="106.2" cy="58.8" r="0.8" fill="#e377c2"/>
<text x="107.8" y="60.0" font-size="3.4" fill="#777" text-anchor="start" >CS23</text>
<text x="77.3" y="74.3" font-size="3.4" fill="#888" text-anchor="middle" >UMAP1</text>
<text transform="translate(50.599999999999994,46.9) rotate(-90)" font-size="3.4" fill="#888" text-anchor="middle">UMAP2</text>
<rect x="51.8" y="79.3" width="51.0" height="49.0" fill="#fff" stroke="#ddd" stroke-width="0.6"/>
<path d="M51.8 79.3V128.3H102.8" stroke="#999" stroke-width="0.6" fill="none"/>
<path stroke="#ff7f0e" stroke-width="1.05" stroke-linecap="round" fill="none"  d="M89.1 84.8h0M89.6 87.1h0M89.4 90.1h0M88.4 85.8h0M88.5 89.6h0M89.3 90.0h0M88.9 86.0h0M88.4 87.3h0M88.2 86.6h0M89.8 85.6h0M88.9 92.4h0M89.7 87.0h0M89.6 87.1h0M89.3 88.9h0M88.7 84.3h0M88.6 86.0h0M89.3 85.4h0M89.4 89.5h0M86.0 100.1h0M85.9 92.0h0M87.6 96.3h0M89.3 107.0h0M87.0 103.0h0M89.8 102.7h0M90.5 100.3h0M91.3 99.0h0M89.7 104.5h0M88.2 101.4h0M86.9 104.6h0M88.2 102.2h0M87.4 102.9h0M91.1 100.3h0M87.7 106.8h0M90.8 104.0h0M88.3 102.0h0M90.3 102.2h0M89.5 101.7h0M87.8 98.8h0M92.4 99.3h0M89.3 103.0h0M88.9 99.8h0M88.7 101.0h0M88.3 101.7h0M89.9 100.1h0M85.9 106.4h0M85.9 110.9h0M87.2 110.2h0M88.3 110.7h0M86.1 107.7h0M87.8 112.4h0M87.8 108.6h0M86.6 110.3h0M88.0 111.8h0M88.1 107.4h0M90.6 109.7h0M91.0 107.0h0M90.6 109.5h0M79.2 95.3h0M78.3 97.3h0M81.7 103.0h0M82.6 98.3h0M81.1 102.0h0M80.5 103.7h0M83.4 99.4h0M81.2 98.2h0M81.1 100.6h0M82.1 102.8h0M80.8 102.1h0M83.1 104.3h0M84.6 107.0h0M85.9 95.8h0M86.1 106.1h0M76.7 88.1h0M77.7 95.9h0M75.0 89.1h0M75.5 89.3h0M72.3 94.6h0M73.8 87.3h0M74.9 94.4h0M74.7 95.7h0M74.0 92.6h0M73.3 88.5h0M77.7 88.6h0M75.7 93.0h0M76.6 86.3h0M75.4 90.1h0M76.5 92.0h0M75.1 90.9h0M78.2 94.6h0M78.3 87.0h0M79.7 99.6h0M78.8 101.8h0M77.8 99.8h0M78.3 101.4h0M78.7 100.8h0M79.3 102.6h0M78.6 103.4h0M79.4 101.0h0M74.6 107.7h0M79.8 108.9h0M75.3 106.4h0M76.4 108.6h0M78.9 108.2h0M80.3 107.4h0M82.1 107.5h0M76.8 108.7h0M80.0 106.5h0M73.4 106.9h0M82.7 107.1h0M79.6 108.0h0M82.8 106.3h0M82.4 106.4h0M81.7 105.7h0M80.6 106.0h0M68.3 95.9h0M70.0 98.8h0M70.3 98.4h0M70.1 94.7h0M75.1 95.1h0M75.4 95.3h0M69.7 115.8h0M73.1 110.6h0M73.0 117.1h0M74.3 109.9h0M75.5 112.7h0M74.7 109.1h0M71.4 115.0h0M72.6 119.2h0M76.6 113.7h0M70.6 117.3h0M75.0 118.4h0M75.5 109.1h0M76.5 116.9h0M73.7 108.0h0M69.3 112.6h0M75.7 117.8h0M74.2 114.5h0M69.0 112.3h0M68.8 111.3h0M71.2 110.5h0M67.9 109.5h0M71.5 90.4h0M72.7 90.4h0M72.4 90.9h0M71.4 89.5h0M68.6 94.5h0M68.1 94.1h0M67.3 95.1h0M63.1 92.0h0M63.2 96.5h0M62.2 94.2h0M63.1 95.2h0M63.2 98.5h0M58.5 101.9h0M56.9 102.0h0M56.7 103.9h0M60.7 110.3h0M62.0 110.3h0M59.2 110.4h0M61.6 110.5h0M61.3 107.3h0M58.5 107.2h0M61.9 110.3h0M58.9 107.7h0M60.4 106.2h0M60.7 107.0h0M63.1 107.0h0M58.7 107.4h0M59.0 108.7h0M59.2 114.8h0M59.0 114.7h0M58.6 111.5h0M59.5 111.9h0M57.1 119.1h0M59.5 117.3h0M56.4 115.2h0M57.3 117.9h0M66.5 110.2h0M66.9 110.6h0M65.2 109.3h0M65.1 108.6h0M65.6 109.8h0M65.9 110.4h0M64.9 109.8h0M67.8 109.0h0M66.3 110.8h0M67.5 123.0h0M95.3 100.4h0M97.8 100.5h0M96.0 100.2h0M96.2 97.2h0M94.7 99.5h0M95.5 99.1h0M96.9 95.8h0M94.6 97.3h0M96.6 96.0h0M98.1 97.5h0M94.3 98.3h0M98.1 99.2h0M96.6 96.8h0M97.2 99.0h0M94.8 97.4h0M98.7 108.4h0M97.8 103.9h0M98.4 109.3h0M98.1 107.7h0M98.9 104.8h0M98.6 105.8h0M98.6 100.3h0M98.2 105.7h0M98.2 106.6h0M98.6 104.9h0M97.6 104.4h0M94.7 101.5h0M95.9 101.5h0M94.5 102.9h0M95.0 100.7h0"/>
<path stroke="#8c564b" stroke-width="1.05" stroke-linecap="round" fill="none"  d="M90.3 88.8h0M88.6 92.8h0M89.3 82.1h0M90.1 85.0h0M88.0 88.8h0M89.5 82.1h0M89.0 81.9h0M90.2 86.2h0M90.1 84.3h0M88.0 88.0h0M87.9 89.9h0M87.9 90.3h0M88.8 93.1h0M90.1 85.3h0M87.8 93.4h0M87.1 91.4h0M87.0 93.1h0M86.7 92.1h0M86.1 92.7h0M87.9 106.1h0M91.8 100.6h0M89.7 101.0h0M90.8 102.4h0M85.9 106.2h0M84.9 102.6h0M88.6 105.8h0M88.7 101.7h0M90.7 104.8h0M87.1 102.6h0M84.2 102.9h0M89.1 100.5h0M91.6 102.6h0M91.9 99.9h0M89.6 100.8h0M86.4 111.5h0M87.0 112.4h0M91.5 111.5h0M81.7 95.9h0M79.8 98.2h0M82.3 103.3h0M82.4 109.2h0M82.8 107.6h0M88.6 102.1h0M73.2 86.2h0M78.0 90.9h0M72.2 87.9h0M75.8 89.1h0M75.5 85.5h0M78.7 104.0h0M77.9 103.7h0M74.7 108.8h0M77.7 106.7h0M79.1 108.2h0M82.8 105.6h0M70.4 97.4h0M73.5 117.8h0M75.8 113.3h0M75.0 112.7h0M72.5 107.5h0M73.0 114.3h0M69.7 110.4h0M71.6 109.5h0M69.0 109.1h0M69.7 90.6h0M70.4 91.6h0M72.1 89.7h0M68.5 92.3h0M69.2 94.4h0M67.3 95.2h0M62.2 90.1h0M61.7 93.0h0M61.4 91.7h0M61.5 92.1h0M63.7 93.7h0M62.5 94.4h0M65.0 95.3h0M63.1 93.3h0M62.8 96.8h0M63.7 97.5h0M62.1 95.4h0M63.0 92.3h0M65.0 95.6h0M61.5 93.8h0M61.6 93.7h0M63.9 92.4h0M63.4 93.1h0M63.1 96.9h0M62.0 97.1h0M62.7 97.0h0M62.5 100.5h0M64.0 95.5h0M66.1 97.1h0M64.3 98.8h0M63.8 96.0h0M62.6 99.3h0M63.5 97.9h0M63.6 101.2h0M64.3 100.8h0M62.7 100.3h0M66.3 101.0h0M66.2 102.3h0M63.8 100.5h0M64.9 101.9h0M65.9 102.0h0M57.0 104.1h0M57.3 101.6h0M57.0 103.3h0M58.8 101.9h0M60.9 103.8h0M58.6 103.5h0M57.6 102.4h0M60.7 103.2h0M60.2 111.4h0M58.6 108.6h0M63.0 107.5h0M60.1 113.7h0M60.7 111.1h0M58.4 113.1h0M56.6 118.8h0M57.2 118.5h0M56.7 116.4h0M59.4 117.2h0M57.1 117.5h0M64.5 108.2h0M63.7 110.2h0M67.7 107.6h0M64.6 106.1h0M65.6 109.0h0M62.8 108.0h0M68.2 123.3h0M67.5 123.5h0M97.7 99.4h0"/>
<path stroke="#1f77b4" stroke-width="1.05" stroke-linecap="round" fill="none"  d="M89.0 87.7h0M84.4 94.8h0M85.1 102.9h0M90.0 100.9h0M90.9 103.2h0M90.1 102.6h0M89.2 105.0h0M90.6 103.5h0M87.0 99.5h0M88.6 100.3h0M87.7 104.8h0M88.4 106.5h0M87.4 97.8h0M91.2 97.9h0M87.2 108.5h0M86.9 106.3h0M85.4 109.3h0M90.6 108.3h0M91.4 109.0h0M78.9 94.0h0M77.9 96.4h0M80.8 103.1h0M78.8 102.3h0M83.6 110.0h0M72.9 87.7h0M76.8 87.1h0M77.8 88.4h0M74.5 89.8h0M76.3 90.5h0M75.8 91.9h0M74.3 95.9h0M76.3 86.9h0M75.8 95.1h0M75.0 95.9h0M79.9 91.6h0M78.5 100.2h0M78.6 103.4h0M79.2 107.6h0M81.8 106.8h0M79.8 108.2h0M82.9 106.4h0M81.0 106.0h0M68.0 94.6h0M72.2 118.8h0M72.4 114.4h0M73.4 118.5h0M76.4 116.1h0M75.6 116.5h0M71.9 116.4h0M70.3 117.8h0M72.6 115.6h0M76.3 111.0h0M71.4 117.3h0M69.3 111.2h0M76.4 110.5h0M77.1 113.0h0M74.5 113.8h0M71.3 109.1h0M73.7 108.1h0M69.8 116.9h0M76.7 114.1h0M74.4 113.4h0M71.9 119.8h0M69.8 112.6h0M72.3 117.9h0M71.0 110.8h0M70.9 114.5h0M72.0 112.3h0M72.5 114.8h0M70.6 113.3h0M72.2 113.9h0M74.0 114.7h0M70.2 111.0h0M70.2 108.5h0M72.0 89.4h0M71.8 90.6h0M69.9 90.1h0M69.4 94.1h0M68.4 93.9h0M68.8 94.3h0M68.1 92.7h0M62.6 92.4h0M61.5 91.9h0M61.9 92.7h0M63.8 95.9h0M63.5 97.4h0M62.9 92.6h0M64.6 96.7h0M63.6 92.2h0M62.7 100.4h0M63.0 100.5h0M62.8 97.4h0M65.2 100.7h0M64.6 100.8h0M62.8 98.1h0M64.8 98.8h0M62.4 98.9h0M64.1 98.1h0M63.2 97.0h0M63.3 96.5h0M62.8 96.5h0M64.6 102.5h0M63.9 100.6h0M63.4 100.8h0M64.5 102.1h0M62.7 100.5h0M65.0 101.7h0M64.1 102.1h0M57.3 102.9h0M58.0 103.0h0M56.0 103.1h0M56.1 101.8h0M55.7 102.9h0M59.1 103.1h0M57.5 101.3h0M61.4 102.8h0M60.5 102.4h0M58.9 101.2h0M57.3 102.4h0M56.6 101.9h0M57.1 102.8h0M59.3 103.4h0M58.9 104.2h0M59.9 106.2h0M62.8 108.5h0M60.4 109.4h0M59.9 108.2h0M63.0 110.1h0M60.6 111.3h0M62.4 107.4h0M61.0 108.6h0M61.3 106.5h0M61.6 106.8h0M61.8 106.1h0M58.5 106.6h0M61.8 108.2h0M59.3 109.7h0M59.6 106.8h0M60.3 112.0h0M59.4 113.1h0M58.9 113.6h0M60.0 114.5h0M59.8 114.2h0M57.3 115.5h0M56.7 118.6h0M57.9 118.2h0M66.5 107.5h0M64.3 111.2h0M66.4 110.7h0M65.3 107.6h0M64.4 106.3h0M67.7 107.8h0M65.4 106.4h0M66.5 106.7h0M65.3 105.5h0M68.9 122.8h0M68.0 125.0h0M68.3 121.5h0M67.8 122.5h0M97.0 97.3h0M98.0 109.7h0"/>
<path stroke="#279e68" stroke-width="1.05" stroke-linecap="round" fill="none"  d="M88.3 85.3h0M87.3 96.2h0M85.7 92.2h0M86.8 99.8h0M87.9 102.8h0M89.4 98.0h0M89.9 100.5h0M90.7 100.2h0M89.1 103.6h0M90.9 106.4h0M85.0 101.0h0M88.0 97.2h0M92.4 98.4h0M90.2 98.3h0M89.6 99.9h0M88.5 101.6h0M91.6 97.0h0M90.9 111.1h0M90.2 108.1h0M80.8 96.2h0M80.7 94.9h0M77.2 95.0h0M79.1 92.9h0M79.1 97.6h0M82.2 102.5h0M82.6 102.8h0M83.1 101.3h0M81.9 98.6h0M79.4 103.6h0M83.8 105.4h0M85.0 102.6h0M84.6 97.0h0M76.9 86.2h0M75.6 91.9h0M76.6 90.8h0M74.8 90.4h0M79.1 93.8h0M74.4 87.7h0M74.1 88.5h0M75.0 94.5h0M72.9 89.0h0M78.3 86.5h0M74.2 92.0h0M79.5 89.5h0M71.9 91.8h0M73.4 93.6h0M76.1 85.3h0M73.3 95.0h0M78.6 87.6h0M73.7 89.8h0M74.6 93.8h0M74.7 92.8h0M74.2 93.4h0M79.3 90.6h0M76.3 90.6h0M71.8 92.0h0M74.5 86.5h0M73.2 93.0h0M71.8 90.9h0M75.8 86.8h0M78.6 97.3h0M77.3 99.6h0M79.3 101.2h0M78.4 98.0h0M79.0 101.6h0M80.1 102.6h0M76.1 106.8h0M76.3 107.3h0M76.6 106.5h0M80.2 106.8h0M81.4 107.3h0M81.6 106.7h0M78.8 106.2h0M74.8 108.1h0M82.2 105.9h0M82.4 107.2h0M81.3 105.6h0M67.8 95.0h0M73.8 111.7h0M72.1 110.5h0M73.2 119.3h0M73.8 108.2h0M76.7 115.6h0M76.0 115.0h0M72.5 109.1h0M75.3 116.7h0M73.1 112.1h0M76.6 115.8h0M71.9 113.5h0M75.6 110.2h0M70.4 110.5h0M72.7 114.2h0M70.0 118.2h0M73.5 117.9h0M70.3 118.0h0M75.2 114.4h0M74.3 113.4h0M70.7 115.1h0M71.4 119.1h0M73.2 109.1h0M69.1 113.6h0M73.3 119.0h0M73.7 114.9h0M70.5 114.4h0M69.1 111.6h0M68.7 109.5h0M69.0 109.0h0M69.4 109.1h0M72.5 91.8h0M72.1 91.7h0M70.2 91.4h0M72.9 90.9h0M68.8 91.6h0M69.6 92.8h0M69.4 93.2h0M61.9 93.3h0M62.0 94.5h0M63.8 95.2h0M64.8 96.9h0M62.8 97.4h0M62.6 99.8h0M64.1 97.2h0M62.8 97.8h0M61.9 100.1h0M65.6 96.6h0M64.1 98.0h0M65.9 99.1h0M65.8 99.1h0M62.9 101.6h0M66.1 101.7h0M67.4 101.3h0M65.6 100.6h0M64.3 100.0h0M63.8 101.9h0M61.2 102.1h0M56.3 102.5h0M60.2 102.1h0M59.5 104.2h0M60.9 103.1h0M59.1 104.0h0M57.1 103.7h0M59.4 102.6h0M60.0 102.5h0M59.2 108.6h0M61.6 108.0h0M62.8 110.1h0M63.3 107.5h0M61.1 106.3h0M58.6 108.3h0M59.4 110.2h0M60.5 108.8h0M58.7 109.7h0M62.4 107.1h0M62.5 109.0h0M60.4 107.7h0M63.6 108.0h0M59.2 106.1h0M63.0 106.1h0M58.6 112.9h0M58.8 112.0h0M58.3 113.1h0M57.8 117.2h0M58.5 118.8h0M57.9 115.6h0M59.5 118.0h0M57.8 114.4h0M57.8 115.6h0M63.2 108.4h0M64.9 105.8h0M66.5 111.1h0M67.6 109.1h0M63.1 108.0h0M69.2 123.2h0M69.3 122.8h0M68.8 124.7h0M68.0 124.1h0M97.6 103.5h0M95.6 100.3h0M95.9 100.8h0"/>
<path stroke="#aa40fc" stroke-width="1.05" stroke-linecap="round" fill="none"  d="M89.3 94.2h0M87.5 97.6h0M86.7 93.6h0M87.7 94.5h0M87.4 96.2h0M84.1 96.1h0M87.4 98.7h0M89.1 93.9h0M87.6 96.7h0M87.4 98.9h0M87.6 95.8h0M84.7 98.0h0M88.9 101.4h0M90.5 98.8h0M87.3 100.0h0M86.4 98.0h0M87.3 105.7h0M89.5 97.8h0M85.8 99.7h0M91.6 104.7h0M86.4 101.9h0M89.2 99.9h0M86.9 99.1h0M90.5 99.7h0M88.0 98.2h0M88.4 97.3h0M92.0 97.8h0M88.4 96.6h0M79.3 97.9h0M77.6 97.0h0M78.3 96.0h0M80.8 94.2h0M79.7 96.2h0M77.8 95.1h0M79.1 96.5h0M80.5 97.6h0M78.9 97.4h0M81.9 95.2h0M79.6 92.0h0M77.2 96.4h0M80.9 91.5h0M79.5 95.2h0M80.1 91.9h0M80.9 95.6h0M79.2 96.1h0M81.7 96.4h0M77.0 94.9h0M79.5 103.6h0M81.9 98.6h0M83.4 98.8h0M83.0 100.0h0M82.1 102.9h0M78.2 100.2h0M80.1 99.4h0M83.0 108.4h0M83.7 98.1h0M89.1 83.5h0M89.3 83.3h0M88.1 83.2h0M73.2 92.1h0M74.9 96.1h0M78.0 91.9h0M76.9 91.5h0M76.4 93.8h0M74.6 92.7h0M73.6 87.0h0M76.6 95.1h0M78.3 89.0h0M73.8 86.6h0M74.6 90.1h0M76.2 86.7h0M74.1 86.1h0M73.4 88.1h0M79.2 105.0h0M76.3 97.4h0M72.8 110.4h0M73.6 108.0h0M72.1 116.8h0M75.1 112.1h0M73.5 111.9h0M71.0 110.7h0M71.5 91.0h0M70.2 89.6h0M68.9 94.2h0M68.2 96.5h0M65.3 94.6h0M65.1 100.6h0M64.2 97.7h0M63.0 97.7h0M63.3 100.7h0M65.3 100.6h0M59.5 102.2h0M58.0 109.2h0M60.8 105.6h0M60.3 107.5h0M61.8 105.6h0M56.4 117.5h0M57.0 118.8h0M67.6 108.1h0M64.2 110.0h0M66.7 107.1h0M68.1 121.8h0M95.9 96.5h0M98.3 109.1h0"/>
<path stroke="#d62728" stroke-width="1.05" stroke-linecap="round" fill="none"  d="M87.7 99.8h0M89.0 95.9h0M86.3 91.9h0M85.9 95.7h0M87.9 96.2h0M88.3 98.4h0M89.0 93.6h0M87.3 101.1h0M87.5 105.8h0M84.7 103.7h0M88.7 99.4h0M87.9 99.1h0M89.1 103.9h0M90.2 101.9h0M84.6 105.1h0M89.5 97.5h0M86.6 98.2h0M92.2 96.7h0M89.3 96.3h0M91.6 98.0h0M92.3 100.0h0M92.5 98.7h0M89.6 102.7h0M86.6 113.5h0M86.5 105.0h0M88.0 108.5h0M86.8 106.0h0M85.4 112.0h0M91.4 107.9h0M91.2 112.0h0M79.5 97.0h0M80.7 96.3h0M80.7 93.9h0M80.1 98.0h0M81.1 94.4h0M80.2 99.6h0M81.5 102.0h0M79.9 101.9h0M79.5 100.3h0M79.1 97.9h0M81.9 98.1h0M81.4 100.7h0M78.9 103.0h0M81.5 98.7h0M82.2 102.9h0M83.0 100.4h0M83.9 106.2h0M83.0 106.4h0M84.1 107.4h0M84.5 107.8h0M83.8 106.2h0M84.8 104.3h0M83.4 108.9h0M82.6 105.6h0M83.7 100.6h0M86.9 106.2h0M87.7 98.1h0M84.5 99.6h0M87.3 83.8h0M72.3 94.3h0M79.3 91.7h0M76.4 87.1h0M73.0 89.1h0M79.2 99.5h0M77.2 106.6h0M80.8 108.2h0M77.0 106.3h0M75.8 107.9h0M75.3 97.0h0M74.2 97.3h0M72.8 107.8h0M71.3 108.5h0M73.9 118.8h0M74.0 107.5h0M73.9 114.5h0M69.5 108.7h0M70.9 90.4h0M71.4 88.9h0M71.6 89.1h0M70.6 88.9h0M69.6 94.2h0M68.4 95.8h0M67.8 95.0h0M62.6 95.3h0M62.8 95.5h0M63.6 99.6h0M67.8 100.9h0M64.5 100.4h0M63.0 102.1h0M56.9 102.0h0M55.4 102.5h0M58.9 103.5h0M59.9 101.3h0M60.8 107.8h0M62.1 110.1h0M61.5 109.8h0M60.0 108.0h0M63.2 106.8h0M58.3 114.7h0M56.5 117.7h0M63.2 108.3h0M66.1 105.4h0M65.6 107.6h0M94.8 100.1h0M96.6 100.0h0M98.6 104.1h0M95.4 100.4h0M96.0 101.0h0"/>
<circle cx="106.2" cy="91.3" r="0.8" fill="#1f77b4"/>
<text x="107.8" y="92.5" font-size="3.4" fill="#777" text-anchor="start" >Brain</text>
<circle cx="106.2" cy="95.4" r="0.8" fill="#ff7f0e"/>
<text x="107.8" y="96.6" font-size="3.4" fill="#777" text-anchor="start" >Blood</text>
<circle cx="106.2" cy="99.5" r="0.8" fill="#279e68"/>
<text x="107.8" y="100.7" font-size="3.4" fill="#777" text-anchor="start" >Liver</text>
<circle cx="106.2" cy="103.6" r="0.8" fill="#d62728"/>
<text x="107.8" y="104.8" font-size="3.4" fill="#777" text-anchor="start" >Lung</text>
<circle cx="106.2" cy="107.7" r="0.8" fill="#aa40fc"/>
<text x="107.8" y="108.9" font-size="3.4" fill="#777" text-anchor="start" >Skin</text>
<circle cx="106.2" cy="111.8" r="0.8" fill="#8c564b"/>
<text x="107.8" y="113.0" font-size="3.4" fill="#777" text-anchor="start" >YS</text>
<text x="77.3" y="131.1" font-size="3.4" fill="#888" text-anchor="middle" >UMAP1</text>
<text transform="translate(50.599999999999994,103.8) rotate(-90)" font-size="3.4" fill="#888" text-anchor="middle">UMAP2</text>
<!-- panel_b -->
<text x="6.8" y="155.0" font-size="16" fill="#000" text-anchor="start" >B</text>
<defs><linearGradient id="btg" x1="0" y1="0" x2="1" y2="0"><stop offset="0" stop-color="#f1f5df"/><stop offset="1" stop-color="#dff2f4"/></linearGradient><linearGradient id="brd" x1="0" y1="1" x2="0" y2="0"><stop offset="0.0" stop-color="#313695"/><stop offset="0.1" stop-color="#4574b3"/><stop offset="0.2" stop-color="#74add1"/><stop offset="0.3" stop-color="#aad8e9"/><stop offset="0.4" stop-color="#e0f3f8"/><stop offset="0.5" stop-color="#fffebe"/><stop offset="0.6" stop-color="#fee090"/><stop offset="0.7" stop-color="#fdad60"/><stop offset="0.8" stop-color="#f46d43"/><stop offset="0.9" stop-color="#d62f27"/><stop offset="1.0" stop-color="#a50026"/></linearGradient></defs>
<rect x="83.6" y="146.8" width="162.2" height="12.4" rx="4" fill="url(#btg)" stroke="#777" stroke-width="0.6"/>
<text x="163.8" y="155.3" font-size="6.7" fill="#111" text-anchor="middle" >Representative markers for Mac 1-3 and Mac 4</text>
<rect x="3.6" y="166.6" width="54.5" height="51.7" fill="#fff" stroke="#ccc" stroke-width="0.5"/>
<path d="M3.6 166.6V218.3" stroke="#888" stroke-width="0.6"/>
<path stroke="#3a54a4" stroke-width="1.55" stroke-linecap="round" fill="none"  d="M33.6 187.5h0M18.3 190.9h0M31.3 196.1h0M31.3 180.7h0M45.9 200.7h0M25.4 181.0h0M15.0 183.4h0M29.9 182.6h0M36.6 188.6h0M24.1 178.2h0M23.8 179.0h0M26.0 178.5h0M30.8 178.6h0M8.4 191.8h0M43.7 186.7h0M9.2 189.9h0M26.0 196.3h0M29.3 176.3h0M43.0 195.1h0M45.4 195.9h0M43.4 177.4h0M41.2 194.4h0M23.7 197.9h0M13.9 198.5h0M22.5 202.3h0M40.0 187.8h0M16.5 183.8h0M39.7 192.8h0M11.1 191.3h0M38.9 185.4h0M29.5 174.6h0M45.9 188.2h0M28.5 181.9h0M10.2 190.3h0M24.1 202.6h0M32.7 180.9h0M32.6 185.1h0M22.3 198.5h0M11.6 203.8h0M12.8 203.5h0M45.6 187.6h0M17.2 181.6h0M9.3 207.8h0M41.5 192.1h0M13.9 178.8h0M19.8 188.7h0M19.7 198.4h0M19.4 198.5h0M40.5 183.6h0M11.8 196.7h0M10.6 204.1h0M32.5 186.8h0M27.2 203.1h0M16.2 186.6h0M42.0 170.8h0M38.8 189.9h0M9.0 207.0h0M29.4 178.2h0M14.7 186.9h0M42.4 177.2h0M9.5 206.7h0M35.8 184.6h0M22.2 200.2h0M12.1 196.7h0M43.2 186.2h0M17.5 190.5h0M26.0 178.9h0M14.3 182.3h0M16.0 180.5h0M8.7 204.5h0M26.3 205.9h0M50.5 184.8h0M21.6 181.6h0M16.9 186.5h0M16.5 190.9h0M37.4 194.5h0M11.9 203.1h0M15.5 184.1h0M26.5 174.8h0M45.9 190.9h0M43.5 182.1h0M8.4 190.7h0M36.7 189.8h0M27.3 176.3h0M43.4 179.9h0M30.3 201.9h0M14.9 198.8h0M10.6 207.9h0"/>
<path stroke="#313695" stroke-width="1.55" stroke-linecap="round" fill="none"  d="M45.0 189.7h0M28.8 175.0h0M31.2 177.1h0M45.4 190.1h0M19.5 199.2h0M11.3 196.3h0M9.9 208.7h0M11.8 202.7h0M21.1 185.1h0M22.2 202.4h0M11.6 191.8h0M35.5 186.5h0M41.9 186.2h0M10.7 197.5h0M17.4 184.3h0M37.0 197.9h0M18.3 199.4h0M28.1 202.7h0M28.9 202.2h0M26.6 174.9h0M26.3 205.2h0M33.1 188.7h0M27.4 204.9h0M13.5 195.1h0M15.4 197.1h0M23.3 180.2h0M32.2 183.8h0M41.4 193.0h0M28.5 201.0h0M31.3 197.3h0M22.3 200.6h0M11.3 190.5h0M35.6 191.0h0M9.0 191.0h0M17.9 200.4h0M25.8 179.1h0M17.6 196.5h0M29.5 181.8h0M42.8 171.1h0M25.1 208.6h0M26.8 202.7h0M15.2 195.2h0M26.4 198.8h0M27.8 177.0h0M32.3 190.9h0M43.3 176.9h0M22.5 186.8h0M34.8 181.7h0M17.0 196.1h0M32.5 175.3h0M17.0 186.7h0M11.5 199.0h0M45.1 189.4h0M15.2 182.1h0M26.4 202.0h0M30.4 181.6h0M10.2 196.7h0M17.6 182.9h0M40.9 195.2h0M26.1 196.6h0M26.1 200.2h0M22.1 179.3h0M24.3 177.8h0M43.0 190.1h0M12.2 196.6h0M23.4 203.7h0M17.9 182.3h0M29.9 206.2h0M35.1 196.2h0M41.5 188.4h0M16.0 189.0h0M35.0 182.2h0M24.3 177.8h0M13.0 202.3h0M31.8 186.6h0M12.9 194.4h0M16.2 183.8h0M28.6 176.1h0M40.8 201.7h0M14.9 185.9h0M34.6 183.0h0M25.3 177.7h0M18.6 187.6h0M31.0 190.7h0M16.0 183.7h0M23.9 198.4h0M29.0 180.0h0M15.6 183.2h0M29.8 178.2h0M13.7 179.3h0M32.5 178.0h0M46.8 187.1h0M14.6 198.9h0M33.3 197.8h0M35.0 196.0h0M38.4 185.1h0M24.4 178.2h0M32.4 179.5h0M42.9 173.9h0M12.9 200.2h0M15.0 188.7h0M21.6 211.2h0M9.0 190.3h0M28.1 203.2h0M42.3 193.9h0M26.7 182.3h0M22.2 181.6h0M27.5 195.7h0M28.9 196.4h0M15.1 186.2h0M43.6 190.5h0M38.4 191.0h0M18.2 188.3h0M9.3 190.3h0M11.1 195.1h0M28.6 177.2h0M17.4 186.9h0M40.4 200.7h0M30.2 173.6h0M28.9 206.1h0M16.8 187.4h0M41.4 201.4h0M29.4 202.3h0M28.9 201.1h0M44.1 189.2h0M18.9 197.2h0M39.3 192.6h0M31.6 196.3h0M23.7 201.9h0M33.7 196.8h0M30.2 175.2h0M35.4 182.5h0M42.7 193.6h0M26.4 205.7h0M22.2 182.0h0M14.4 198.5h0M14.6 181.9h0M41.2 179.6h0M34.3 196.9h0M13.4 198.0h0M15.9 198.3h0M44.5 177.9h0M43.2 192.3h0M14.8 194.5h0M24.4 179.6h0M16.8 185.0h0M38.8 197.6h0M38.6 190.1h0M14.0 178.7h0M39.0 182.6h0M29.0 184.4h0M32.9 181.2h0M31.7 192.8h0M16.0 198.0h0M29.5 197.9h0M9.6 191.3h0M31.1 176.9h0M40.3 197.4h0M24.8 205.1h0M32.9 176.4h0M23.7 179.4h0M30.7 180.0h0M32.7 181.3h0M15.0 188.0h0M43.9 170.4h0M43.7 190.3h0M28.3 183.3h0M11.9 190.3h0M27.3 203.0h0M14.4 199.1h0M17.8 182.5h0M16.1 199.4h0M45.7 190.9h0M45.1 198.2h0M16.7 188.7h0M28.6 197.5h0M30.7 182.2h0M18.5 198.5h0M23.1 199.2h0M26.1 177.8h0M23.5 204.3h0M46.3 198.9h0M12.2 195.6h0M27.3 204.5h0M42.7 193.4h0M12.7 192.4h0M29.7 178.3h0M23.5 197.5h0M11.9 194.6h0M30.1 195.2h0M11.6 197.2h0M45.8 189.5h0M9.8 206.8h0M20.4 212.9h0M42.8 176.1h0M17.1 186.1h0M32.1 191.8h0M16.3 187.5h0M32.6 179.1h0M30.5 195.3h0M37.9 189.7h0M45.6 190.3h0M35.3 194.5h0M30.2 205.7h0M32.2 189.7h0M25.4 208.3h0M39.3 194.4h0M10.8 190.8h0M14.1 178.8h0M31.9 183.3h0M9.0 204.5h0M41.3 185.4h0M9.4 204.3h0M17.4 190.9h0M14.1 183.0h0M23.6 199.3h0M27.1 197.1h0M25.5 198.3h0M10.3 190.7h0M28.5 207.1h0M21.8 211.5h0M28.2 204.1h0M43.7 179.1h0M28.6 200.9h0M19.0 188.8h0M34.5 195.3h0M20.0 197.3h0M22.5 179.6h0M38.2 196.2h0M15.9 198.0h0M31.1 176.1h0M43.6 195.4h0M31.2 190.6h0M24.1 179.0h0M24.3 198.9h0M26.8 205.0h0M19.2 196.8h0M21.2 182.7h0M35.8 197.2h0M27.0 178.9h0M22.1 182.2h0M12.8 190.9h0M21.6 198.5h0M30.4 196.3h0M27.0 184.0h0M12.1 194.9h0M29.9 177.4h0M34.7 183.4h0M45.0 190.5h0M33.1 184.3h0M33.6 196.3h0M23.2 186.3h0M17.2 187.5h0M24.0 200.0h0M42.7 177.1h0M11.2 197.3h0M22.6 201.1h0M35.8 191.8h0M31.7 179.2h0M14.4 195.9h0M29.1 184.6h0M23.6 177.7h0M28.9 201.5h0M12.3 191.9h0M18.5 188.8h0M29.2 207.3h0M15.7 189.3h0M12.5 192.0h0M28.9 174.1h0M27.9 201.2h0M29.6 179.3h0M19.2 195.7h0M41.7 194.3h0M17.7 184.8h0M10.3 190.1h0M32.8 180.9h0M29.8 204.4h0M33.5 185.3h0M23.4 199.4h0M18.2 187.6h0M9.3 190.7h0M13.0 197.8h0M28.4 186.1h0M45.7 188.8h0M9.0 205.3h0M13.1 200.2h0M20.8 185.4h0M34.0 183.2h0M14.0 198.5h0M31.9 186.0h0M32.9 183.8h0M15.1 188.1h0M43.5 194.8h0M10.9 204.6h0M40.2 201.7h0M21.7 211.0h0M28.4 175.4h0M25.9 201.4h0M35.6 195.0h0M29.3 206.9h0M23.7 199.9h0M16.2 197.2h0M42.4 186.7h0M32.1 188.7h0M27.1 206.4h0M28.1 184.5h0M9.2 205.8h0M21.1 181.4h0M19.3 190.1h0M44.8 193.4h0M39.6 180.7h0M43.3 187.8h0M18.7 199.6h0M32.3 180.9h0M32.4 186.8h0M11.0 205.9h0M34.5 183.0h0M41.9 187.6h0M27.6 204.9h0M36.8 187.3h0M28.7 197.7h0M11.9 203.1h0M24.8 199.7h0M19.2 189.2h0M16.7 189.2h0M28.3 176.3h0M19.1 196.0h0M21.2 184.3h0M24.8 202.7h0M21.3 181.1h0M34.9 180.9h0M9.9 208.9h0M29.2 183.1h0M29.2 175.8h0M21.5 180.0h0M15.6 196.1h0M12.4 190.8h0M44.9 198.7h0M14.8 185.0h0M42.9 177.9h0M15.1 179.8h0M30.1 196.6h0M17.4 180.8h0M14.6 180.1h0M42.6 192.0h0M35.0 183.4h0M45.9 189.1h0M13.8 194.4h0M36.0 197.2h0M46.0 197.9h0M32.6 183.0h0M20.5 212.8h0M12.9 191.8h0M41.8 182.1h0M36.5 194.9h0M9.0 208.3h0M43.5 175.5h0M31.5 182.7h0M34.9 188.7h0M31.9 189.8h0M35.4 192.5h0M34.6 189.6h0M35.2 194.2h0M13.2 200.1h0M16.2 183.7h0M20.6 212.6h0M23.1 199.6h0M8.0 190.5h0M14.7 186.4h0M27.3 208.5h0M21.9 213.3h0M23.4 177.1h0M28.3 207.0h0M24.8 178.7h0M34.0 190.3h0M12.9 203.5h0M40.5 181.1h0M11.6 203.3h0M14.1 187.2h0M11.6 204.1h0M28.8 203.6h0M25.4 207.7h0M15.8 181.4h0M23.7 204.8h0M19.9 189.4h0M17.8 188.8h0M12.6 199.1h0M22.1 214.0h0M15.6 180.7h0M40.2 181.3h0M28.8 196.9h0M17.3 189.3h0M10.9 201.6h0M41.8 193.0h0M34.0 187.3h0M35.9 190.1h0M30.5 201.5h0M37.7 197.9h0M24.2 177.6h0M12.3 192.4h0M38.3 190.4h0M34.7 195.4h0M41.2 195.9h0M36.3 195.0h0M22.7 202.8h0M27.2 176.4h0M13.7 194.7h0M22.4 181.0h0M28.2 184.0h0M43.5 183.1h0M26.7 181.2h0M24.3 203.0h0M12.3 199.1h0M24.9 180.1h0M18.5 186.7h0M20.0 189.4h0M12.5 190.7h0M44.7 188.9h0M39.9 194.5h0M28.1 179.0h0M16.2 181.4h0M30.5 195.6h0M14.9 183.9h0M11.2 203.9h0M15.6 197.6h0M18.2 190.2h0M17.2 197.1h0M35.2 183.5h0M38.8 197.5h0M12.7 203.7h0M45.2 200.7h0M21.4 183.4h0M23.0 177.3h0M14.4 196.9h0M31.4 174.5h0M13.9 199.4h0M44.9 186.4h0M22.3 201.2h0M39.5 197.1h0M20.3 184.4h0M28.9 173.8h0M41.3 187.7h0M42.7 180.2h0M35.8 195.9h0M42.2 195.6h0M30.3 203.9h0M25.2 196.8h0M40.5 192.1h0M10.5 190.2h0M22.6 179.6h0M33.4 183.8h0M15.3 184.3h0M10.2 191.4h0M28.5 202.4h0M41.2 191.8h0M18.5 196.4h0M24.0 177.6h0M13.2 190.6h0M29.4 195.8h0M10.2 206.2h0M34.6 196.4h0M17.5 185.9h0M41.3 189.2h0M44.2 178.2h0M17.7 195.5h0M28.0 180.6h0M16.0 196.9h0M17.7 189.3h0M38.8 193.4h0M29.9 205.8h0M32.4 182.0h0M21.8 211.7h0M13.3 195.3h0M16.5 183.1h0M26.6 199.0h0M23.8 183.8h0M15.9 197.5h0M30.5 174.0h0M21.1 211.9h0M13.1 200.4h0M40.6 192.1h0M11.8 202.0h0M16.4 190.7h0M15.0 184.0h0M28.0 203.0h0M31.6 181.6h0M10.4 205.3h0M16.1 185.2h0M9.5 191.2h0M15.6 182.2h0M29.6 181.7h0M45.2 191.5h0M33.2 184.8h0M19.3 196.4h0M39.4 180.5h0M35.5 181.6h0M35.3 189.9h0M15.5 181.4h0M32.5 197.0h0M43.2 180.2h0M25.2 206.2h0M26.7 175.2h0M26.5 205.7h0M14.4 196.7h0M45.1 186.9h0M23.8 198.0h0M10.8 197.5h0M35.5 186.1h0M13.3 200.1h0M16.1 199.0h0M36.1 195.7h0M17.4 181.9h0M29.0 203.8h0M20.2 189.0h0M32.5 188.5h0M23.7 199.0h0M29.0 197.1h0M45.4 184.6h0M27.4 203.3h0M24.5 201.4h0M12.1 198.5h0M28.5 177.4h0M7.8 190.8h0M35.7 189.3h0M30.5 176.9h0M8.7 190.1h0M42.0 187.9h0M23.3 200.9h0M46.1 191.8h0M39.6 194.8h0M41.5 185.9h0M21.6 180.2h0M22.7 206.3h0M13.5 196.9h0M10.5 204.2h0M35.7 182.9h0M41.3 184.3h0M46.1 192.4h0M11.4 203.4h0M31.8 196.2h0M40.3 194.6h0M10.5 204.6h0M26.0 182.4h0M13.5 200.3h0M42.9 190.8h0M35.9 182.0h0M18.5 190.1h0M42.4 176.8h0M31.3 188.1h0M15.8 187.9h0M36.9 187.4h0M27.1 202.3h0M10.2 205.1h0M10.2 190.7h0M29.1 180.3h0M13.5 197.1h0M44.1 174.4h0M13.6 196.8h0M17.0 195.1h0M40.2 182.3h0M44.9 196.4h0M7.8 192.0h0M15.4 195.4h0M11.2 208.1h0M42.7 186.9h0M31.9 182.2h0M43.6 180.4h0M26.4 204.8h0M28.7 182.0h0M25.6 178.3h0M45.9 189.7h0M18.1 190.0h0M27.1 207.9h0M33.6 191.5h0M16.1 196.3h0M27.3 196.7h0M16.4 199.7h0M26.3 200.1h0M42.3 190.7h0M39.9 189.3h0M22.9 206.2h0M27.5 185.2h0M37.1 192.5h0M22.7 185.4h0M35.1 183.6h0M37.4 192.1h0M21.1 210.5h0M14.7 183.5h0M12.2 203.8h0M43.9 176.3h0M31.2 189.7h0M29.7 204.1h0M42.7 179.3h0M40.9 185.9h0M35.6 183.6h0M20.2 186.0h0M29.7 181.6h0M21.2 182.6h0M39.8 194.0h0M31.0 187.9h0M38.9 185.0h0M46.3 198.3h0M42.4 191.1h0M27.0 209.3h0M24.8 178.4h0M7.9 191.8h0M35.1 185.4h0M42.1 199.4h0M17.7 197.3h0M32.7 191.0h0M35.2 196.3h0M24.6 208.7h0M14.5 179.3h0M11.9 191.0h0M41.4 183.0h0M44.9 192.1h0M34.4 184.3h0M12.3 194.3h0M26.9 178.3h0M42.3 186.8h0M41.7 170.8h0M28.7 176.5h0M25.7 175.9h0M29.4 183.9h0M42.8 198.4h0M13.6 197.1h0M23.3 202.1h0M14.4 179.1h0M46.0 186.8h0M22.2 181.7h0M18.9 195.5h0M11.1 198.1h0M36.1 188.5h0M14.8 179.0h0M15.0 184.3h0M33.7 191.7h0M31.0 178.7h0M39.3 188.9h0M40.6 198.6h0M42.4 195.8h0M44.0 193.1h0M8.6 190.5h0M11.0 198.6h0M44.3 188.3h0M43.2 177.1h0M19.5 196.2h0M26.9 180.0h0M18.4 200.0h0M46.1 183.8h0M23.3 202.1h0M43.6 173.7h0M11.8 201.2h0M17.6 183.3h0M30.1 197.2h0M9.2 208.5h0M31.0 176.9h0M23.5 201.8h0M21.7 213.9h0M32.7 187.5h0M35.7 194.9h0M42.4 187.3h0M25.6 181.0h0M9.3 189.9h0M10.9 207.8h0M34.0 195.5h0M45.3 201.3h0M13.5 195.7h0M12.9 190.4h0M14.0 196.5h0M14.2 185.7h0M18.4 196.8h0M34.6 189.4h0M14.5 186.3h0M11.7 197.2h0M37.1 195.2h0M24.2 201.3h0M22.5 203.8h0M41.8 200.2h0M43.2 192.4h0M24.8 207.4h0M28.5 175.8h0M44.8 175.6h0M17.4 188.4h0M23.7 179.6h0M16.8 186.2h0M27.2 183.2h0M14.8 196.8h0M16.7 195.4h0M28.0 178.7h0M34.9 183.2h0M27.7 201.5h0M27.6 176.2h0M14.4 185.9h0M42.6 181.7h0M37.5 190.1h0M27.9 206.9h0M16.7 187.2h0M40.1 191.1h0M38.8 197.3h0M26.4 204.8h0M32.7 179.0h0M36.7 187.0h0M8.4 191.5h0M34.0 191.6h0M17.4 198.2h0M37.3 195.4h0M15.3 185.4h0M21.5 181.7h0M20.5 183.3h0M35.4 194.4h0M21.5 186.3h0M16.2 188.9h0M42.9 185.2h0M30.5 178.6h0M14.5 189.6h0M23.9 201.6h0M27.5 179.4h0M10.3 192.5h0M53.0 194.3h0M28.2 176.4h0M33.6 183.6h0M38.9 190.6h0M26.8 179.6h0M11.7 191.0h0M10.6 192.8h0M44.3 194.5h0M13.1 196.9h0M19.9 197.3h0M32.5 185.0h0M15.5 182.1h0M19.2 196.7h0M31.8 174.8h0M12.5 195.7h0M41.1 187.8h0M45.5 191.3h0M34.5 195.5h0M34.7 188.4h0M14.5 199.6h0M17.4 187.2h0M8.6 190.5h0"/>
<path stroke="#4574b3" stroke-width="1.55" stroke-linecap="round" fill="none"  d="M17.6 188.3h0M34.7 184.4h0M10.4 190.9h0M38.1 192.3h0M39.0 194.8h0M10.6 189.9h0M15.5 198.0h0M39.6 197.8h0M43.1 175.4h0M33.3 190.1h0M37.2 196.8h0M34.3 184.1h0M16.0 190.3h0M21.9 213.5h0M21.0 212.6h0M23.3 178.5h0M43.5 190.7h0M19.3 199.7h0M14.3 183.3h0M8.4 191.0h0M27.5 199.2h0M16.0 198.6h0M26.5 197.2h0M16.3 196.5h0M11.3 191.0h0M13.2 194.7h0M15.2 181.4h0M22.8 203.5h0M44.6 189.9h0M44.0 186.3h0M14.0 182.7h0M26.3 182.7h0M26.5 197.2h0M40.7 187.0h0M12.5 199.8h0M46.3 198.1h0M16.1 184.1h0M28.1 200.3h0M9.2 206.0h0M32.3 177.8h0M14.4 182.0h0M32.6 179.7h0M13.0 190.5h0M11.6 198.5h0M17.6 185.5h0M39.3 199.0h0M39.0 192.3h0M36.3 187.9h0M16.7 188.8h0M38.8 185.6h0M39.4 184.5h0M26.4 208.1h0M45.8 191.3h0M14.6 186.8h0M11.7 190.9h0M39.9 197.2h0M36.2 190.2h0M25.5 200.0h0M46.3 189.3h0M26.0 177.5h0M15.1 183.1h0M45.3 194.0h0M39.5 200.1h0M14.6 181.9h0M9.6 206.4h0M24.3 208.0h0"/>
<path stroke="#aad8e9" stroke-width="1.55" stroke-linecap="round" fill="none"  d="M34.1 195.6h0M11.7 201.6h0M43.0 170.8h0M25.4 177.8h0M29.7 181.7h0M40.2 191.7h0M18.0 190.2h0M25.2 208.4h0M8.9 206.4h0M29.4 177.8h0M15.7 189.7h0M34.6 186.8h0M33.1 192.1h0M15.0 188.6h0M26.7 200.8h0M43.4 186.3h0M39.9 182.1h0M16.0 184.2h0M23.6 178.8h0M27.9 183.4h0"/>
<path stroke="#74add1" stroke-width="1.55" stroke-linecap="round" fill="none"  d="M26.5 179.1h0M15.9 197.1h0M26.4 201.8h0M40.5 197.1h0M14.3 194.7h0M40.8 199.7h0M32.2 180.7h0M32.3 176.0h0M24.0 207.4h0M18.4 198.2h0M24.3 199.3h0M32.8 193.9h0M22.1 180.2h0M21.4 197.9h0M13.4 191.9h0M21.0 212.5h0M27.3 202.3h0M43.0 175.8h0M21.5 181.9h0M16.1 189.7h0M14.0 196.4h0M28.7 185.4h0M29.7 195.7h0M19.0 197.4h0M43.9 189.8h0M20.1 190.2h0M15.5 186.0h0M14.4 180.6h0M25.9 180.9h0M11.8 200.4h0M29.5 202.5h0M27.6 203.2h0M35.7 194.2h0M16.3 190.4h0M18.7 189.5h0M14.3 181.7h0M36.0 194.9h0M27.1 183.4h0M42.6 174.9h0M23.4 199.1h0M15.8 197.1h0M23.7 202.1h0M25.2 177.5h0M27.3 183.7h0M41.7 182.2h0M14.6 196.9h0M44.7 185.1h0M40.8 189.0h0M34.3 182.1h0"/>
<path stroke="#d62f27" stroke-width="1.55" stroke-linecap="round" fill="none"  d="M53.1 188.3h0M53.0 197.9h0M53.7 193.9h0M49.8 188.6h0M52.6 196.6h0M53.0 188.9h0M51.3 184.6h0M49.9 184.8h0M49.9 188.4h0M51.5 188.2h0M52.1 186.7h0M51.6 187.6h0M49.7 187.3h0M52.7 188.5h0M53.3 189.2h0"/>
<path stroke="#fdad60" stroke-width="1.55" stroke-linecap="round" fill="none"  d="M35.4 181.2h0M41.4 194.0h0M43.4 181.1h0M38.2 186.8h0M44.0 179.4h0M43.6 172.5h0M37.5 189.4h0M43.0 175.3h0M42.3 189.1h0M44.8 198.3h0M40.5 190.7h0M40.7 194.9h0M31.4 182.3h0"/>
<path stroke="#fffebe" stroke-width="1.55" stroke-linecap="round" fill="none"  d="M46.2 189.4h0M34.2 183.5h0M20.8 199.2h0M28.0 174.8h0M38.7 192.2h0M43.9 171.1h0M33.2 197.7h0M40.3 188.9h0M30.9 179.8h0M36.6 188.5h0M44.5 178.1h0M36.2 196.3h0M42.9 170.4h0M40.6 201.7h0M15.9 197.0h0M38.5 197.5h0M36.4 196.1h0"/>
<path stroke="#fee090" stroke-width="1.55" stroke-linecap="round" fill="none"  d="M35.6 181.7h0M26.0 196.9h0M39.4 192.8h0M35.7 195.3h0M42.8 178.3h0M44.0 184.3h0M44.4 185.4h0M34.7 187.5h0M33.9 195.8h0M25.0 180.5h0M35.2 192.3h0M39.9 181.6h0M42.7 185.3h0M38.6 185.7h0"/>
<path stroke="#f88c51" stroke-width="1.55" stroke-linecap="round" fill="none"  d="M39.1 189.4h0M44.2 187.6h0M42.9 175.4h0M38.4 191.1h0M44.0 179.9h0M45.0 191.9h0M42.9 173.4h0M39.5 197.1h0M34.0 188.6h0M44.2 191.8h0M35.4 191.7h0"/>
<path stroke="#e0f3f8" stroke-width="1.55" stroke-linecap="round" fill="none"  d="M41.0 192.7h0M34.9 188.9h0M41.6 186.4h0M43.2 172.6h0M42.0 186.5h0M43.4 177.6h0M41.4 195.5h0M40.9 194.9h0M40.8 193.6h0M42.9 180.5h0M31.5 190.0h0M29.2 206.6h0M26.0 208.6h0M42.9 196.2h0M23.6 201.6h0M44.8 188.3h0M21.6 213.4h0M43.5 182.9h0M34.6 188.2h0M39.0 189.5h0M37.3 189.3h0M16.3 189.2h0M30.1 177.2h0M16.3 182.1h0M17.7 186.0h0M40.5 186.0h0M46.0 187.1h0M45.8 193.5h0M42.5 179.5h0M34.8 190.2h0"/>
<path stroke="#c5e6f0" stroke-width="1.55" stroke-linecap="round" fill="none"  d="M19.3 197.3h0M29.6 173.8h0M44.3 195.4h0M33.1 180.7h0M22.1 183.8h0M32.7 181.2h0M17.4 200.1h0M32.8 178.2h0M15.3 198.3h0M12.3 190.1h0M15.5 188.6h0M27.1 173.8h0M36.4 187.8h0M29.4 175.4h0M36.0 194.5h0M13.7 199.7h0M33.2 180.0h0M32.6 190.7h0M37.5 196.5h0M10.0 208.9h0M44.5 176.3h0M22.5 179.4h0"/>
<path stroke="#bd1726" stroke-width="1.55" stroke-linecap="round" fill="none"  d="M53.6 197.6h0M52.4 186.1h0M53.3 191.9h0M53.4 189.9h0M50.8 186.4h0M53.6 192.7h0M53.7 192.6h0M51.4 186.4h0M52.4 186.9h0M53.2 195.1h0M50.6 189.5h0M50.7 184.5h0M48.9 189.9h0M49.8 190.9h0M52.7 194.2h0M53.3 196.7h0M49.8 188.6h0M52.2 184.8h0M51.7 189.1h0M49.5 189.2h0M53.2 190.0h0M53.6 190.6h0M51.5 185.3h0M49.3 188.7h0M51.6 184.0h0M51.0 186.6h0M52.5 185.8h0"/>
<path stroke="#f0f9db" stroke-width="1.55" stroke-linecap="round" fill="none"  d="M13.5 200.1h0M22.5 200.6h0M43.6 187.6h0M26.7 200.5h0M11.0 200.4h0M46.1 192.9h0M14.1 197.4h0M39.1 193.3h0M33.0 192.0h0M44.5 172.7h0M9.8 190.9h0M41.5 170.6h0M28.3 179.2h0M43.9 175.5h0M41.9 196.3h0M39.9 192.8h0M43.4 188.3h0M46.4 190.5h0"/>
<path stroke="#a50026" stroke-width="1.55" stroke-linecap="round" fill="none"  d="M50.2 188.6h0M50.9 186.3h0M51.6 188.1h0M52.9 184.8h0"/>
<path stroke="#fff0a8" stroke-width="1.55" stroke-linecap="round" fill="none"  d="M46.0 196.6h0M32.4 190.3h0M39.4 183.9h0M32.9 186.2h0M40.6 202.0h0M32.5 185.7h0M35.2 197.4h0M33.5 195.9h0M41.8 195.9h0M42.4 182.2h0M32.5 186.9h0M40.2 188.1h0"/>
<path stroke="#e54e35" stroke-width="1.55" stroke-linecap="round" fill="none"  d="M53.9 197.1h0M52.9 193.2h0M53.8 189.2h0M50.6 191.3h0M51.3 184.9h0M49.2 189.6h0M53.9 191.3h0M50.9 189.9h0"/>
<path stroke="#fdc778" stroke-width="1.55" stroke-linecap="round" fill="none"  d="M42.7 173.8h0M44.0 195.5h0M41.1 186.5h0M34.3 189.5h0M42.9 188.7h0M35.6 182.1h0M41.6 189.5h0M41.6 183.6h0M43.0 192.3h0M43.5 184.7h0M35.5 186.1h0M40.4 190.4h0M42.9 182.8h0M35.7 191.9h0M45.7 191.4h0"/>
<path stroke="#90c3dd" stroke-width="1.55" stroke-linecap="round" fill="none"  d="M26.9 199.9h0M26.6 201.8h0M25.5 207.5h0M8.7 206.7h0"/>
<path stroke="#f46d43" stroke-width="1.55" stroke-linecap="round" fill="none"  d="M46.4 190.5h0M45.5 188.4h0"/>
<rect x="58.3" y="166.6" width="2.4" height="51.7" fill="url(#brd)"/>
<text x="62.7" y="170.9" font-size="3.6" fill="#666" text-anchor="start" >8</text>
<text x="62.7" y="182.3" font-size="3.6" fill="#666" text-anchor="start" >6</text>
<text x="62.7" y="193.8" font-size="3.6" fill="#666" text-anchor="start" >4</text>
<text x="62.7" y="205.2" font-size="3.6" fill="#666" text-anchor="start" >2</text>
<text x="62.7" y="216.6" font-size="3.6" fill="#666" text-anchor="start" >0</text>
<text x="30.9" y="165.3" font-size="3.6" fill="#444" text-anchor="middle" >P2RY12</text>
<text x="30.9" y="221.9" font-size="3.6" fill="#666" text-anchor="middle" >UMAP1</text>
<text transform="translate(2.3,192.4) rotate(-90)" font-size="3.6" fill="#666" text-anchor="middle">UMAP2</text>
<rect x="68.1" y="167.0" width="53.7" height="51.5" fill="#fff" stroke="#ccc" stroke-width="0.5"/>
<path d="M68.1 167.0V218.5" stroke="#888" stroke-width="0.6"/>
<path stroke="#313695" stroke-width="1.55" stroke-linecap="round" fill="none"  d="M81.5 196.6h0M96.9 181.3h0M95.4 184.1h0M80.1 182.3h0M79.2 186.1h0M91.4 175.9h0M82.0 183.5h0M75.4 202.8h0M73.5 204.8h0M82.2 184.9h0M85.7 183.8h0M103.0 195.2h0M75.2 191.7h0M79.4 179.1h0M79.1 182.2h0M103.0 193.2h0M86.6 182.9h0M90.9 201.9h0M98.6 183.8h0M105.8 195.2h0M81.2 185.6h0M90.3 183.2h0M76.6 203.6h0M93.0 183.8h0M87.6 207.4h0M88.0 198.8h0M87.3 200.4h0M93.5 175.3h0M109.5 200.5h0M102.4 186.2h0M87.7 200.3h0M93.0 183.1h0M103.6 189.2h0M95.9 190.5h0M88.5 197.8h0M105.4 196.1h0M89.4 180.1h0M93.5 206.0h0M103.0 185.8h0M92.5 178.4h0M75.7 201.3h0M81.1 189.6h0M93.2 205.3h0M83.7 190.9h0M80.4 189.6h0M107.2 179.3h0M79.7 184.5h0M86.7 182.7h0M108.8 192.6h0M94.3 177.1h0M93.7 184.2h0M97.7 196.5h0M85.7 212.3h0M76.3 204.1h0M93.4 175.4h0M88.9 202.9h0M92.7 178.7h0M76.1 196.7h0M83.4 195.8h0M86.2 184.6h0M86.2 200.1h0M82.9 186.2h0M84.9 183.7h0M96.6 196.9h0M95.7 189.4h0M73.8 192.5h0M75.4 205.1h0M92.7 183.5h0M74.5 192.7h0M106.6 172.1h0M102.1 196.4h0M92.0 204.3h0M80.9 191.0h0M85.5 182.1h0M87.5 207.1h0M83.9 189.7h0M96.9 186.1h0M98.3 196.4h0M109.9 191.3h0M79.7 197.7h0M75.6 190.1h0M84.1 198.4h0M86.2 211.8h0M74.1 193.0h0M91.7 184.2h0M97.0 189.5h0M73.4 190.7h0M81.5 198.3h0M108.5 177.1h0M76.5 192.9h0M81.5 189.7h0M107.8 178.0h0M87.7 203.6h0M83.0 195.4h0M98.3 187.0h0M92.1 179.5h0M88.4 200.3h0M81.0 189.8h0M92.8 203.7h0M89.4 208.9h0M90.8 198.3h0M87.3 207.0h0M107.4 172.0h0M83.9 199.6h0M75.0 196.8h0M80.0 197.5h0M82.7 195.2h0M94.5 178.6h0M83.9 198.0h0M75.9 190.8h0M73.0 205.5h0M76.4 203.4h0M84.9 213.1h0M84.0 198.9h0M97.8 191.7h0M79.5 199.2h0M75.0 204.1h0M91.2 197.5h0M80.9 187.2h0M104.5 194.7h0M100.1 195.5h0M90.4 182.1h0M88.7 178.1h0M92.9 208.1h0M107.7 187.6h0M83.6 199.8h0M90.4 176.3h0M91.5 197.6h0M89.5 179.6h0M108.7 198.5h0M96.2 196.7h0M92.4 207.2h0M95.9 176.1h0M85.7 211.0h0M92.2 207.9h0M89.4 205.3h0M108.8 192.6h0M94.0 181.0h0M89.9 179.4h0M82.2 191.0h0M80.9 188.8h0M73.3 191.8h0M77.3 200.8h0M76.7 197.6h0M101.0 194.9h0M81.5 196.8h0M75.1 198.0h0M74.7 204.8h0M92.5 176.4h0M85.7 212.0h0M72.9 190.6h0M106.4 195.8h0M96.5 185.6h0M86.4 212.5h0M95.5 196.2h0M74.7 207.9h0M91.8 200.0h0M100.8 186.9h0M84.9 185.0h0M88.6 177.1h0M77.8 194.5h0M99.5 183.6h0M89.2 201.3h0M110.1 191.8h0M79.2 185.1h0M82.1 189.4h0M93.3 183.4h0M106.3 195.1h0M102.8 190.5h0M79.2 188.3h0M75.2 192.4h0M92.9 174.5h0M79.8 191.0h0M74.3 206.9h0M84.2 190.1h0M83.3 196.2h0M77.1 196.2h0M97.3 184.8h0M85.7 213.7h0M79.1 189.4h0M76.8 196.6h0M93.6 178.8h0M76.2 190.3h0M83.6 194.8h0M85.0 199.3h0M98.4 181.7h0M75.5 191.4h0M91.3 201.7h0M88.7 205.7h0M89.1 202.8h0M81.7 182.6h0M89.4 205.6h0M87.9 199.6h0M95.4 179.2h0M76.3 200.0h0M108.6 177.8h0M79.9 198.9h0M78.2 191.4h0M95.9 195.6h0M83.0 197.4h0M94.2 184.5h0M97.4 192.0h0M80.6 188.4h0M88.5 199.9h0M73.0 208.3h0M72.8 192.3h0M86.4 213.2h0M79.6 182.5h0M92.9 208.1h0M95.8 193.5h0M101.2 198.5h0M76.1 207.4h0M79.0 182.5h0M82.6 195.1h0M106.1 194.1h0M94.5 196.8h0M76.7 203.6h0M76.3 190.9h0M81.7 187.4h0M98.9 180.4h0M80.6 191.1h0M81.6 187.3h0M78.2 179.3h0M85.2 213.6h0M96.1 183.0h0M79.6 180.7h0M86.6 201.1h0M108.4 175.7h0M87.4 187.0h0M86.7 202.2h0M100.3 187.3h0M96.0 189.0h0M75.8 191.6h0M73.1 192.0h0M91.0 201.9h0M103.9 201.1h0M80.5 189.2h0M75.9 192.6h0M107.9 187.7h0M98.4 188.3h0M91.0 207.5h0M97.0 189.7h0M92.0 204.5h0M85.5 183.9h0M93.3 197.9h0M75.3 195.6h0M77.4 199.2h0M93.9 200.7h0M94.5 182.8h0M79.5 196.9h0M94.6 196.6h0M107.0 183.5h0M86.2 182.8h0M98.5 181.9h0M82.8 187.6h0M76.1 201.0h0M94.0 181.8h0M107.0 191.2h0M95.0 178.3h0M98.3 184.1h0M97.2 187.1h0M94.9 198.0h0M103.1 194.3h0M88.9 197.4h0M75.3 195.8h0M80.1 190.0h0M93.4 198.0h0M107.8 185.7h0M80.9 187.0h0M106.0 197.7h0M80.0 185.2h0M96.0 186.4h0M79.1 190.6h0M99.1 189.5h0M95.3 176.4h0M82.0 191.1h0M88.0 200.9h0M91.6 181.7h0M88.9 204.2h0M80.2 185.1h0M74.8 207.9h0M83.7 198.4h0M75.1 204.6h0M76.5 200.4h0M90.4 179.3h0M100.2 194.4h0M78.8 186.0h0M96.3 190.9h0M87.6 178.6h0M80.7 190.6h0M101.2 193.5h0M80.4 185.7h0M98.5 183.2h0M79.4 198.9h0M77.9 196.7h0M97.7 186.9h0M104.5 198.9h0M91.6 184.5h0M101.3 195.5h0M77.3 198.2h0M95.7 179.5h0M91.1 199.8h0M81.2 182.3h0M91.6 206.9h0M102.8 193.5h0M79.5 189.2h0M73.7 208.7h0M78.5 180.4h0M109.1 198.4h0M109.3 197.3h0M79.1 179.3h0M73.6 207.0h0M90.3 205.4h0M91.9 201.6h0M105.5 198.1h0M106.4 183.1h0M109.0 197.1h0M88.0 198.6h0M75.3 203.4h0M108.7 192.3h0M99.1 195.8h0M78.8 195.7h0M87.4 180.2h0M81.1 189.0h0M86.7 202.7h0M82.1 185.0h0M95.7 181.3h0M96.3 190.7h0M77.5 199.0h0M80.6 191.0h0M108.6 191.5h0M76.7 192.9h0M88.4 204.6h0M92.2 205.9h0M86.9 206.2h0M95.4 192.4h0M79.9 196.9h0M93.3 174.0h0M97.1 187.7h0M88.7 180.4h0M91.9 198.1h0M77.2 194.6h0M78.8 196.5h0M80.0 196.0h0M80.1 185.2h0M75.2 199.4h0M90.4 177.6h0M85.8 200.0h0M107.2 172.1h0M80.0 196.9h0M80.2 184.4h0M75.3 191.0h0M75.3 205.8h0M108.3 176.6h0M93.0 184.2h0M85.1 213.8h0M75.7 199.7h0M87.3 182.2h0M80.1 199.1h0M79.3 198.3h0M98.9 196.9h0M81.4 182.9h0M91.6 199.2h0M90.1 197.6h0M73.8 191.6h0M91.2 198.0h0M75.6 207.7h0M77.4 198.2h0M72.0 191.4h0M86.1 180.8h0M93.2 204.2h0M87.4 178.1h0M81.2 190.5h0M86.1 198.0h0M86.1 186.2h0M112.7 190.7h0M73.8 208.3h0M86.3 181.4h0M104.0 190.2h0M73.3 205.4h0M76.3 193.0h0M87.9 177.3h0M89.8 201.5h0M88.1 199.0h0M98.7 189.1h0M85.6 185.2h0M80.6 184.6h0M77.0 192.6h0M79.9 198.3h0M96.5 189.6h0M76.3 204.5h0M73.4 191.1h0M89.4 198.7h0M109.7 189.6h0M106.9 186.9h0M76.8 192.4h0M110.0 198.0h0M80.7 182.1h0M89.6 206.6h0M77.6 191.5h0M77.7 196.9h0M74.7 190.5h0M91.0 207.2h0M84.1 190.5h0M92.4 200.5h0M77.5 190.8h0M86.8 199.7h0M78.3 197.2h0M94.2 177.2h0M76.9 190.9h0M82.9 187.7h0M74.7 204.4h0M91.5 175.0h0M79.4 197.9h0M75.5 192.1h0M75.7 198.0h0M89.4 205.2h0M93.2 207.9h0M77.1 198.2h0M81.8 186.2h0M82.7 198.0h0M100.6 195.8h0M88.7 178.8h0M85.4 185.2h0M91.4 197.3h0M79.6 197.8h0M75.5 207.8h0M89.6 179.4h0M88.8 199.8h0M83.9 196.1h0M96.4 181.7h0M88.3 201.2h0M106.5 171.0h0M92.9 174.8h0M73.2 192.1h0M85.1 214.3h0M99.0 180.4h0M82.2 200.1h0M87.5 185.8h0M79.2 182.3h0M92.0 202.8h0M92.4 198.0h0M107.2 185.0h0M104.2 188.4h0M78.9 181.3h0M76.9 203.5h0M84.5 197.0h0M94.1 179.9h0M98.9 185.6h0M72.5 191.2h0M72.8 207.5h0M115.0 186.4h0M104.5 188.0h0M98.3 195.7h0M76.4 198.6h0M88.4 178.4h0M96.8 194.0h0M92.3 203.7h0M106.6 189.7h0M108.5 190.5h0M79.4 198.1h0M78.4 197.3h0M87.7 198.6h0M78.0 196.1h0M79.8 199.4h0M87.8 204.7h0M87.4 203.0h0M92.1 185.4h0M98.0 183.4h0M90.7 178.6h0M75.7 208.1h0M92.5 176.8h0M81.2 196.7h0M100.6 195.2h0M100.7 193.8h0M92.2 206.2h0M94.4 196.0h0M81.7 194.9h0M80.1 190.4h0M75.3 204.7h0M93.3 177.6h0M88.2 177.8h0M99.0 195.3h0M93.5 200.1h0M78.9 185.2h0M107.0 171.4h0M107.2 182.4h0M80.9 197.4h0M97.3 190.3h0M89.9 177.6h0M85.3 214.4h0M75.0 198.5h0M108.0 194.0h0"/>
<path stroke="#3a54a4" stroke-width="1.55" stroke-linecap="round" fill="none"  d="M79.8 189.9h0M95.7 183.8h0M100.5 193.4h0M88.0 178.0h0M95.6 192.6h0M89.6 207.4h0M81.3 184.3h0M103.6 190.0h0M77.1 192.4h0M80.6 196.9h0M101.9 198.9h0M92.7 184.5h0M96.6 177.0h0M77.7 199.4h0M81.1 199.8h0M90.2 177.0h0M99.5 184.1h0M99.1 182.9h0M86.4 203.4h0M107.1 186.0h0M97.4 184.5h0M104.5 194.1h0M74.6 208.1h0M76.8 202.7h0M102.0 189.0h0M89.2 199.4h0M82.1 189.9h0M81.1 184.2h0M102.5 184.5h0M104.0 196.2h0M97.2 179.9h0M96.4 188.5h0M87.5 207.3h0M76.3 195.6h0M109.2 189.9h0M93.9 184.0h0M87.7 180.2h0M96.5 175.6h0M92.4 205.7h0M78.8 186.5h0M91.5 177.7h0M106.2 197.8h0M78.8 180.0h0M86.4 185.9h0M91.7 209.1h0M81.2 184.7h0M78.1 197.0h0M73.2 192.2h0M80.9 200.1h0M90.5 201.1h0M99.2 195.8h0M71.9 191.1h0M82.9 197.3h0M106.0 187.5h0M87.5 206.3h0M75.9 207.8h0M102.2 197.4h0M86.0 182.7h0M99.3 192.7h0M98.0 197.0h0M85.8 200.3h0M106.3 178.8h0M106.6 190.0h0M84.8 213.3h0M101.4 194.8h0M80.4 183.4h0M89.2 179.6h0M95.6 177.4h0"/>
<path stroke="#74add1" stroke-width="1.55" stroke-linecap="round" fill="none"  d="M87.6 199.9h0M94.9 181.9h0M82.5 187.3h0M105.2 191.3h0M79.4 189.3h0M81.2 188.0h0M76.2 198.7h0M74.3 205.7h0M84.4 198.6h0M80.9 190.8h0M107.2 175.7h0M80.5 189.5h0M98.7 184.8h0M83.5 190.1h0M89.7 178.0h0M80.8 196.4h0M98.6 187.6h0M74.9 208.8h0M85.9 212.8h0M102.7 182.4h0M107.4 189.6h0M95.8 188.8h0M74.8 205.1h0M83.5 195.1h0M85.4 187.1h0M82.3 198.7h0M81.3 197.6h0M90.9 196.1h0M100.6 198.3h0M82.1 183.1h0M106.2 188.8h0M77.6 197.3h0M95.3 188.4h0M96.7 185.9h0M89.2 179.1h0M90.0 175.9h0"/>
<path stroke="#4574b3" stroke-width="1.55" stroke-linecap="round" fill="none"  d="M100.0 188.6h0M75.8 197.8h0M76.6 191.1h0M94.0 206.4h0M76.6 200.5h0M93.6 179.3h0M110.0 192.1h0M96.8 177.5h0M76.1 203.7h0M80.4 196.9h0M107.3 186.8h0M72.7 190.9h0M81.5 196.6h0M95.6 179.2h0M96.2 182.0h0M101.4 195.2h0M79.9 197.9h0M87.0 180.3h0M97.2 189.4h0M108.2 172.5h0M81.6 200.2h0M85.7 213.8h0M80.1 197.3h0M80.2 180.7h0M104.0 187.2h0M86.3 200.1h0M96.1 182.1h0M97.3 187.3h0M79.1 198.9h0M95.8 197.5h0M91.2 198.6h0M96.1 179.2h0M76.1 192.0h0M90.7 180.2h0M77.9 191.2h0M80.7 182.6h0M108.5 186.5h0M92.7 208.5h0M76.1 190.2h0M87.3 178.4h0M80.8 196.6h0M93.2 205.1h0M105.9 188.2h0M100.3 196.5h0M86.3 198.4h0M79.8 195.6h0M95.6 174.9h0M79.7 185.3h0M78.6 183.6h0M96.1 175.9h0M106.2 199.7h0M77.1 192.4h0"/>
<path stroke="#aad8e9" stroke-width="1.55" stroke-linecap="round" fill="none"  d="M91.3 202.9h0M78.7 178.6h0M82.1 184.3h0M109.9 191.5h0M88.7 202.6h0M78.9 180.1h0M95.4 174.9h0M77.5 201.3h0M87.0 182.7h0M79.8 186.6h0M93.1 195.8h0M85.9 200.5h0M89.5 207.9h0M103.1 190.8h0M77.6 191.8h0M89.7 181.1h0M105.7 190.6h0M106.4 198.5h0M99.0 184.3h0M79.0 185.2h0M84.9 184.5h0M76.4 190.2h0M108.8 195.0h0M85.3 181.6h0M76.2 204.3h0M94.4 202.9h0M96.2 186.7h0M88.3 178.4h0M83.6 198.5h0M77.1 194.9h0M96.9 177.4h0M77.0 194.7h0M94.7 174.5h0M87.5 179.0h0M76.2 190.1h0M96.1 193.0h0M84.5 183.3h0M89.6 207.1h0M101.1 195.3h0M80.2 189.8h0M85.4 215.0h0"/>
<path stroke="#f88c51" stroke-width="1.55" stroke-linecap="round" fill="none"  d="M95.8 183.7h0M107.9 174.8h0M96.7 185.6h0M95.5 182.5h0M89.2 180.4h0M94.5 175.4h0M105.3 194.9h0M104.1 201.4h0M103.4 190.8h0M106.2 191.8h0M94.3 184.1h0M103.4 193.7h0M94.8 183.5h0M108.7 176.6h0M96.6 191.5h0M109.7 194.1h0M104.6 200.9h0M104.8 187.2h0M95.6 191.7h0M90.4 177.8h0M106.8 174.9h0M107.9 171.0h0M106.5 184.6h0M108.0 186.9h0M98.8 191.6h0M94.0 196.3h0M94.8 176.0h0M106.7 172.1h0M107.5 184.4h0M109.2 188.0h0M97.6 189.3h0"/>
<path stroke="#f46d43" stroke-width="1.55" stroke-linecap="round" fill="none"  d="M106.7 179.0h0M97.1 181.4h0M117.4 189.0h0M107.6 185.1h0M107.5 191.9h0M103.9 184.7h0M106.5 184.5h0M115.9 187.2h0M116.5 195.7h0M107.0 189.6h0M114.5 185.7h0M117.5 193.7h0M105.0 186.6h0M117.5 196.5h0M106.6 172.4h0M109.1 201.2h0M117.4 189.3h0M105.4 187.0h0M113.4 186.5h0M107.8 180.1h0M106.5 192.3h0M103.3 197.1h0M106.9 184.4h0M104.2 187.2h0M107.4 191.1h0M107.3 181.1h0M105.9 196.5h0M99.6 189.4h0M108.7 188.7h0M107.6 189.4h0M98.9 188.3h0M110.4 187.3h0M106.3 196.6h0M107.9 189.3h0M117.7 189.9h0M108.9 197.1h0M116.5 196.6h0M117.5 196.8h0"/>
<path stroke="#fdad60" stroke-width="1.55" stroke-linecap="round" fill="none"  d="M107.1 173.8h0M107.6 170.8h0M110.7 189.0h0M110.6 191.5h0M108.0 170.8h0M103.9 191.5h0M97.4 185.5h0M97.4 188.8h0M105.0 192.1h0M107.9 177.8h0M96.7 181.3h0M96.0 191.0h0M106.7 184.4h0M107.8 189.3h0M108.0 179.7h0M88.6 206.0h0M79.1 182.7h0M99.1 186.8h0M103.7 198.0h0M93.8 204.1h0M106.9 193.9h0M107.2 184.9h0M105.3 180.3h0M106.1 192.2h0M87.7 206.1h0M109.8 188.4h0M103.7 194.6h0M107.4 187.3h0M80.8 184.1h0M103.9 188.4h0M79.5 180.4h0M75.5 195.3h0M105.5 187.6h0M99.5 189.0h0M96.5 197.1h0M90.1 176.8h0M101.0 195.0h0M97.4 187.6h0M107.5 187.0h0M81.0 189.1h0M79.3 198.5h0M77.8 196.1h0M106.3 187.9h0M109.5 190.8h0"/>
<path stroke="#fdc778" stroke-width="1.55" stroke-linecap="round" fill="none"  d="M83.1 197.9h0M90.8 208.2h0M105.4 188.2h0M76.6 192.4h0M79.6 186.0h0M108.6 192.4h0M91.8 202.0h0M88.3 206.6h0M105.1 192.4h0M103.3 182.0h0M95.5 178.2h0M90.9 177.9h0M86.7 204.5h0M96.6 192.7h0M95.5 182.2h0M76.8 195.1h0M77.5 199.0h0M79.5 187.2h0M85.3 180.8h0M79.5 189.2h0M76.3 200.0h0M104.9 196.0h0M110.5 187.0h0M105.5 191.4h0M109.3 187.5h0M83.3 199.8h0M78.4 182.9h0M96.6 187.3h0M92.1 182.3h0M103.4 187.1h0M103.5 185.7h0M97.4 182.8h0M90.6 177.4h0M97.8 192.1h0M109.8 197.8h0M79.9 185.6h0M79.2 188.1h0M107.0 188.7h0M107.6 189.9h0M104.1 180.3h0M110.0 198.8h0M107.7 179.4h0M103.8 190.1h0M108.2 195.0h0M86.8 180.9h0M90.5 178.6h0M107.8 191.7h0M85.2 184.1h0M95.7 189.2h0"/>
<path stroke="#fff0a8" stroke-width="1.55" stroke-linecap="round" fill="none"  d="M87.4 200.2h0M80.9 187.3h0M98.4 191.7h0M106.9 183.6h0M82.1 182.1h0M94.0 176.7h0M87.1 178.5h0M92.0 174.6h0M97.7 189.6h0M107.1 193.9h0M108.5 176.7h0M107.4 185.1h0M102.6 192.4h0M96.6 186.7h0M97.8 189.5h0M107.9 194.4h0M105.8 192.8h0M99.4 188.6h0M96.8 193.7h0M99.4 187.8h0M105.3 194.1h0M101.7 193.9h0M95.4 187.9h0M90.3 180.5h0M107.4 176.1h0M106.9 182.2h0M96.4 182.4h0M80.1 180.5h0M105.7 196.3h0M93.6 206.8h0M107.9 174.7h0M81.3 184.0h0M94.4 180.6h0M80.2 187.9h0M91.0 204.1h0M93.1 203.5h0M93.1 184.3h0M91.0 198.9h0M105.6 199.9h0M105.4 181.9h0M89.9 202.4h0M108.8 200.0h0M84.8 184.5h0M106.7 181.1h0M102.4 195.4h0M91.7 197.6h0M87.2 207.0h0M104.7 189.1h0M107.8 185.9h0"/>
<path stroke="#fee090" stroke-width="1.55" stroke-linecap="round" fill="none"  d="M107.8 174.4h0M106.2 171.2h0M75.8 201.9h0M88.9 197.7h0M92.1 179.7h0M103.6 191.0h0M79.0 179.8h0M75.5 199.3h0M97.1 183.9h0M78.5 182.7h0M96.2 189.9h0M76.6 192.4h0M79.6 187.5h0M97.3 178.6h0M96.5 176.8h0M91.8 199.6h0M101.3 198.0h0M104.2 181.9h0M87.5 200.0h0M106.1 186.6h0M77.6 198.5h0M91.8 177.0h0M104.4 182.9h0M108.7 192.1h0M107.5 187.7h0M108.8 190.1h0M106.9 195.5h0M93.7 202.9h0M93.3 204.6h0M95.7 196.2h0M84.2 185.9h0M89.4 201.8h0M96.5 189.0h0M106.7 170.7h0M106.5 194.9h0M76.9 192.8h0M99.9 196.7h0M96.5 182.7h0M101.6 194.4h0M106.8 171.2h0M96.9 181.3h0M101.0 198.9h0M82.7 189.6h0M109.1 187.0h0M84.4 196.2h0"/>
<path stroke="#fffebe" stroke-width="1.55" stroke-linecap="round" fill="none"  d="M105.5 199.0h0M96.7 177.5h0M79.0 180.6h0M106.9 173.5h0M108.0 186.9h0M86.9 182.5h0M107.3 181.1h0M100.0 184.2h0M107.1 172.4h0M107.3 187.5h0M99.4 190.9h0M95.8 178.8h0M98.6 192.5h0M89.3 199.0h0M100.9 192.9h0M73.2 192.5h0M97.3 190.1h0M95.4 183.0h0M95.8 195.7h0M94.6 202.5h0M80.7 185.3h0M97.6 181.6h0M108.6 189.2h0M103.7 188.6h0M88.6 207.5h0M94.2 176.5h0M95.2 188.9h0M106.7 186.1h0M99.0 187.8h0M79.0 185.1h0M109.5 183.9h0M105.1 195.3h0M106.5 186.1h0M72.5 205.7h0M105.6 189.2h0M110.5 190.6h0M95.6 185.3h0M81.1 184.8h0M103.9 190.0h0M96.0 195.7h0M105.2 186.6h0M110.9 188.9h0M83.1 187.8h0M77.4 194.9h0M97.7 185.0h0M76.6 202.9h0M95.3 196.1h0"/>
<path stroke="#c5e6f0" stroke-width="1.55" stroke-linecap="round" fill="none"  d="M87.8 177.7h0M96.3 196.0h0M76.8 203.5h0M98.5 196.7h0M100.8 194.4h0M95.8 181.7h0M94.0 197.6h0M95.4 187.7h0M92.5 176.1h0M87.4 180.8h0M81.8 197.8h0M82.9 196.7h0M94.3 202.4h0M93.0 177.9h0M76.7 195.0h0M74.9 208.7h0M78.1 199.0h0M77.6 200.5h0M96.0 188.2h0M79.2 195.3h0M100.3 191.4h0M82.0 189.1h0M91.7 197.1h0M81.9 183.7h0M98.7 187.3h0M90.5 177.9h0"/>
<path stroke="#e0f3f8" stroke-width="1.55" stroke-linecap="round" fill="none"  d="M81.4 190.9h0M78.7 197.4h0M98.0 195.5h0M89.4 209.3h0M109.9 187.4h0M107.8 177.1h0M81.3 198.1h0M104.8 193.6h0M106.9 180.9h0M93.6 205.6h0M80.0 187.9h0M96.0 189.6h0M95.3 197.1h0M105.6 202.6h0M104.3 187.9h0M95.1 185.0h0M105.1 183.2h0M105.6 189.6h0M106.5 171.7h0M96.6 196.5h0M106.0 196.3h0M91.3 174.3h0M104.0 187.2h0M105.8 198.5h0M92.7 184.4h0M73.9 191.7h0M98.7 191.2h0M92.0 178.5h0M89.6 208.3h0M79.4 181.0h0M105.7 201.6h0M92.7 201.2h0M89.9 179.9h0M98.4 195.6h0M106.8 189.2h0M78.4 197.0h0M97.9 188.2h0M84.5 190.1h0M87.9 177.2h0M105.2 185.4h0M80.7 183.0h0M99.0 190.9h0M92.8 195.7h0M98.4 185.6h0M92.5 203.8h0M97.3 196.4h0M80.3 196.9h0M96.4 183.4h0M91.6 177.0h0"/>
<path stroke="#e54e35" stroke-width="1.55" stroke-linecap="round" fill="none"  d="M116.4 194.2h0M112.6 190.6h0M107.6 173.8h0M116.5 189.8h0M104.7 184.0h0M115.8 186.3h0M103.9 185.2h0M107.8 176.3h0M106.6 177.8h0M107.6 190.7h0M108.0 189.6h0M113.7 189.0h0M114.4 187.2h0M104.5 182.3h0M109.0 189.8h0M115.2 185.6h0M116.2 187.0h0M114.6 186.3h0M113.5 186.4h0"/>
<path stroke="#d62f27" stroke-width="1.55" stroke-linecap="round" fill="none"  d="M117.5 195.1h0M117.0 191.1h0M113.0 189.1h0M115.2 189.0h0M113.5 187.9h0M117.0 191.5h0M113.5 191.7h0M116.4 186.3h0M116.0 186.8h0M113.8 187.9h0"/>
<path stroke="#f0f9db" stroke-width="1.55" stroke-linecap="round" fill="none"  d="M109.0 197.2h0M98.8 195.0h0M106.6 190.1h0M106.3 172.7h0M109.5 197.0h0M97.0 179.9h0M105.3 188.3h0M96.1 182.0h0M108.4 188.5h0M75.2 197.8h0M104.1 200.7h0M82.0 187.4h0M100.6 194.6h0M104.7 184.5h0M106.4 194.1h0M92.8 174.4h0M83.2 189.6h0M77.4 195.0h0M103.9 190.7h0M108.7 175.0h0M107.4 171.9h0M107.1 178.7h0M92.9 178.8h0M105.9 196.6h0M103.6 186.6h0M97.2 179.3h0M96.7 191.4h0M107.8 170.8h0M78.3 194.8h0M94.1 182.4h0M101.5 198.1h0M90.0 179.5h0M108.0 194.5h0M93.4 186.0h0M108.0 192.8h0M99.0 180.7h0M92.5 175.4h0M107.3 186.0h0M81.3 185.1h0M105.3 186.6h0M81.1 185.0h0M99.1 194.8h0M91.8 195.8h0M105.0 197.2h0M86.6 203.8h0M106.0 188.9h0M80.9 187.1h0M103.6 199.2h0M103.8 195.2h0"/>
<path stroke="#bd1726" stroke-width="1.55" stroke-linecap="round" fill="none"  d="M116.3 187.7h0M117.1 196.5h0M117.5 192.2h0M113.9 191.0h0M115.6 188.4h0M117.0 194.1h0M116.1 185.6h0M114.6 188.1h0M116.3 185.7h0M114.4 189.6h0M114.2 189.5h0M116.2 192.1h0M117.0 191.2h0M116.3 186.1h0M117.7 192.6h0M113.3 189.5h0M116.3 194.1h0M115.6 185.5h0"/>
<path stroke="#a50026" stroke-width="1.55" stroke-linecap="round" fill="none"  d="M116.6 186.7h0M113.6 192.0h0M116.8 187.5h0M113.7 190.9h0M116.6 189.1h0"/>
<path stroke="#90c3dd" stroke-width="1.55" stroke-linecap="round" fill="none"  d="M87.3 204.1h0M78.2 191.1h0M86.6 203.3h0M85.3 199.1h0M87.4 178.8h0M79.5 180.7h0"/>
<rect x="122.4" y="167.0" width="2.2" height="51.5" fill="url(#brd)"/>
<text x="126.6" y="171.3" font-size="3.6" fill="#666" text-anchor="start" >8</text>
<text x="126.6" y="182.7" font-size="3.6" fill="#666" text-anchor="start" >6</text>
<text x="126.6" y="194.1" font-size="3.6" fill="#666" text-anchor="start" >4</text>
<text x="126.6" y="205.4" font-size="3.6" fill="#666" text-anchor="start" >2</text>
<text x="126.6" y="216.8" font-size="3.6" fill="#666" text-anchor="start" >0</text>
<text x="94.9" y="165.7" font-size="3.6" fill="#444" text-anchor="middle" >MERTK</text>
<text x="94.9" y="222.1" font-size="3.6" fill="#666" text-anchor="middle" >UMAP1</text>
<text transform="translate(66.8,192.8) rotate(-90)" font-size="3.6" fill="#666" text-anchor="middle">UMAP2</text>
<rect x="133.4" y="166.0" width="55.1" height="53.4" fill="#fff" stroke="#333" stroke-width="0.5"/>
<path stroke="#313695" stroke-width="1.55" stroke-linecap="round" fill="none"  d="M145.7 185.8h0M166.2 197.1h0M143.0 198.5h0M155.1 207.4h0M163.4 198.1h0M164.6 186.3h0M147.4 184.3h0M156.9 179.8h0M149.8 189.5h0M153.8 201.6h0M158.0 203.3h0M137.4 192.0h0M145.4 189.2h0M146.3 197.1h0M160.0 177.1h0M151.4 183.6h0M145.4 199.6h0M160.5 183.5h0M146.1 185.5h0M153.5 198.6h0M149.2 189.3h0M142.5 200.8h0M147.6 199.4h0M170.9 193.9h0M138.1 206.7h0M157.7 181.4h0M176.1 187.5h0M140.0 191.0h0M142.8 190.8h0M144.6 190.3h0M162.8 191.5h0M144.8 195.3h0M141.1 197.0h0M164.8 194.3h0M173.9 194.8h0M140.2 190.9h0M159.3 180.3h0M176.9 185.8h0M148.8 188.7h0M138.1 205.8h0M165.0 196.4h0M148.0 188.4h0M163.7 186.4h0M147.0 184.4h0M149.6 197.3h0M154.4 197.7h0M162.8 193.6h0M160.0 183.0h0M146.3 189.4h0M140.6 196.7h0M162.6 179.7h0M160.9 180.6h0M155.2 209.9h0M142.4 201.9h0M156.5 175.0h0M160.3 173.0h0M153.8 198.8h0M171.8 190.9h0M147.4 198.5h0M162.6 176.1h0M153.1 204.4h0M154.2 176.8h0M140.4 190.5h0M147.0 189.1h0M147.8 189.0h0M158.2 200.1h0M140.8 208.7h0M156.9 178.1h0M145.0 197.5h0M145.6 197.3h0M148.5 196.9h0M146.5 180.4h0M166.3 196.2h0M143.4 191.3h0M145.5 190.2h0M142.2 197.1h0M156.4 174.3h0M145.3 186.9h0M160.8 174.1h0M155.7 197.7h0M147.2 180.7h0M157.7 197.8h0M145.8 181.0h0M158.3 204.4h0M163.5 192.0h0M141.0 202.2h0M149.0 198.9h0M167.3 191.3h0M159.5 204.1h0M141.6 199.3h0M144.0 200.8h0M141.6 191.0h0M140.8 208.8h0M156.8 177.9h0M142.0 204.8h0M140.4 190.5h0M156.2 202.8h0M145.1 189.4h0M173.9 170.5h0M155.3 198.0h0M148.2 189.4h0M162.0 190.9h0M151.9 213.9h0M157.7 173.8h0M153.0 177.4h0M150.2 184.9h0M153.7 206.9h0M140.1 190.2h0M145.2 198.0h0M148.1 200.1h0M148.8 194.5h0M146.2 182.2h0M138.2 192.3h0M157.7 206.3h0M153.8 201.1h0M158.6 184.3h0M151.7 181.5h0M140.6 197.6h0M162.3 185.9h0M158.2 200.2h0M160.1 180.5h0M174.7 188.5h0M152.8 186.9h0M138.9 207.4h0M141.8 195.7h0M144.9 190.6h0M146.9 185.7h0M156.7 208.5h0M141.2 199.3h0M158.2 180.9h0M166.7 197.3h0M148.7 196.7h0M146.7 196.7h0M154.4 198.6h0M141.4 192.4h0M140.7 202.9h0M141.3 190.0h0M142.2 196.1h0M146.3 181.8h0M162.6 198.0h0M161.8 180.7h0M145.7 197.4h0M161.1 174.8h0M141.7 195.2h0M162.6 187.2h0M149.1 196.2h0M162.1 182.1h0M153.0 179.1h0M147.2 188.6h0M163.3 192.8h0M158.2 203.1h0M174.6 174.0h0M159.8 201.8h0M157.8 204.5h0M162.9 188.0h0M147.6 196.6h0M148.1 196.4h0M159.5 183.2h0M155.4 180.7h0M162.6 183.5h0M159.5 185.3h0M152.4 180.9h0M158.0 202.1h0M152.2 199.1h0M154.6 178.7h0M144.7 190.0h0M145.6 180.9h0M164.9 196.3h0M172.8 176.8h0M140.2 192.1h0M155.8 182.1h0M153.8 201.0h0M151.9 214.8h0M162.3 196.9h0M174.9 192.5h0M158.9 182.9h0M153.1 181.0h0M147.5 196.1h0M163.8 190.3h0M140.3 192.3h0M166.2 190.1h0M151.0 199.4h0M150.6 185.1h0M164.0 197.3h0M144.7 187.9h0M157.7 175.9h0M144.9 196.8h0M157.2 175.1h0M169.5 194.2h0M158.4 202.2h0M162.2 189.6h0M161.7 185.2h0M154.7 202.3h0M169.1 192.4h0M167.8 189.1h0M147.0 183.0h0M163.1 197.7h0M157.8 183.4h0M147.5 184.5h0M141.0 191.8h0M160.1 205.8h0M146.9 183.6h0M142.1 196.0h0M164.7 197.9h0M159.4 197.6h0M147.2 185.2h0M145.2 183.3h0M174.3 171.0h0M137.7 190.6h0M163.8 189.7h0M158.3 175.0h0M148.9 196.2h0M154.4 204.7h0M172.9 190.1h0M139.1 209.0h0M141.6 191.4h0M146.8 198.4h0M151.4 180.9h0M148.3 187.0h0M146.1 183.8h0M164.4 195.7h0M140.4 208.1h0M140.0 190.7h0M148.4 189.2h0M150.3 182.7h0M175.1 193.6h0M157.8 195.8h0M158.7 179.3h0M172.9 187.1h0M144.4 198.1h0M138.5 205.4h0M158.1 183.0h0M166.5 194.2h0M170.9 188.0h0M174.7 174.1h0M154.6 200.3h0M140.9 206.6h0M162.7 189.9h0M176.4 191.0h0M160.0 205.5h0M146.1 197.8h0M151.0 213.5h0M163.2 186.6h0M158.6 181.0h0M143.5 196.8h0M154.9 177.1h0M153.9 200.5h0M143.8 194.7h0M173.2 183.8h0M151.2 182.5h0M152.0 213.8h0M151.7 199.9h0M157.5 196.8h0M146.6 186.0h0M154.6 200.6h0M145.5 186.3h0M140.6 191.1h0M164.0 195.9h0M156.4 201.3h0M145.9 180.0h0M156.6 197.9h0M142.4 200.8h0M143.8 182.6h0M151.5 201.0h0M153.5 201.5h0M159.7 199.8h0M158.1 178.3h0M150.5 214.3h0M161.7 189.5h0M147.0 182.1h0M159.7 195.8h0M149.9 199.2h0M146.8 184.2h0M179.3 189.5h0M156.9 206.5h0M155.4 199.3h0M155.0 201.3h0M160.7 198.2h0M143.8 183.4h0M161.8 182.0h0M141.1 201.8h0M160.7 176.0h0M141.0 190.3h0M159.7 183.4h0M152.9 180.6h0M170.2 185.0h0M153.8 199.7h0M164.9 189.6h0M156.4 198.2h0M142.9 197.3h0M141.7 190.6h0M153.1 204.5h0M155.9 204.0h0M142.6 192.1h0M158.5 174.9h0M162.0 181.1h0M139.7 192.0h0M155.8 178.8h0M160.0 195.5h0M175.8 183.6h0M153.9 198.3h0M173.4 175.2h0M160.5 179.7h0M144.6 180.4h0M152.1 213.4h0M145.1 180.2h0M144.5 181.4h0M171.6 191.5h0M164.5 187.5h0M140.8 192.5h0M152.5 180.8h0M153.1 178.1h0M158.0 182.6h0M160.0 202.0h0M164.6 186.3h0M142.1 195.2h0M146.7 189.2h0M140.5 197.0h0M156.0 204.8h0M143.9 181.9h0M154.0 200.3h0M140.7 196.4h0M144.9 188.3h0M169.1 193.1h0M144.6 195.4h0M162.4 189.7h0M138.8 207.1h0M145.3 189.1h0M140.9 208.9h0M150.0 183.2h0M157.6 178.3h0M143.2 197.6h0M150.2 186.2h0M145.3 184.1h0M145.4 198.5h0M156.9 178.4h0M165.5 180.9h0M160.0 183.9h0M138.6 192.8h0M140.6 192.5h0M141.4 203.0h0M138.3 205.9h0M143.4 197.8h0M149.0 194.8h0M153.8 201.9h0M166.2 187.3h0M148.9 189.2h0M152.3 214.2h0M145.9 184.8h0M161.9 188.1h0M145.5 198.7h0M146.1 188.7h0M144.9 190.2h0M147.3 188.7h0M158.1 196.5h0M154.7 178.7h0M162.3 195.7h0M143.2 196.7h0M151.5 214.2h0M153.8 201.0h0M138.4 207.8h0M166.3 195.0h0M162.3 185.0h0M158.0 207.0h0M141.7 195.7h0M162.9 196.9h0M144.3 197.1h0M145.3 185.2h0M148.3 188.5h0M160.2 183.0h0M141.3 197.2h0M153.4 183.2h0M146.1 190.9h0M161.3 191.4h0M172.8 186.4h0M175.7 199.2h0M144.7 188.4h0M165.8 181.9h0M148.4 199.9h0M173.3 170.5h0M158.7 198.7h0M159.5 203.8h0M167.3 196.2h0M159.7 180.6h0M156.5 176.0h0M154.3 207.6h0M146.8 187.6h0M158.7 199.5h0M143.2 191.8h0M143.7 197.3h0M155.6 177.7h0M140.6 207.2h0M147.1 183.9h0M138.7 206.6h0M151.5 214.0h0M146.2 196.5h0M175.1 199.5h0M157.8 174.8h0M143.0 197.5h0M173.4 170.9h0M146.6 184.3h0M153.5 179.1h0M158.6 197.0h0M173.0 170.1h0M149.5 197.7h0M156.0 199.7h0M146.6 185.2h0M141.4 199.1h0M140.5 202.8h0M157.3 178.0h0M147.6 196.4h0M163.4 191.8h0M145.9 198.8h0M146.8 199.3h0M159.5 202.9h0M152.5 204.0h0M161.7 186.1h0M150.0 183.7h0M153.3 205.4h0M144.1 178.1h0M140.4 198.8h0M147.0 183.3h0M140.5 198.7h0M157.2 209.5h0M158.0 183.8h0M139.2 191.6h0M152.7 179.8h0M142.5 200.5h0M159.5 207.8h0M154.8 198.4h0M142.0 201.7h0M149.7 199.9h0M144.4 185.1h0M143.2 198.5h0M174.3 195.4h0M140.2 190.1h0M139.3 190.2h0M167.9 192.6h0M147.0 186.3h0M157.8 199.3h0M174.0 171.3h0M146.2 185.7h0M139.7 190.0h0M158.5 196.5h0M143.7 198.3h0M155.1 204.0h0M163.1 182.8h0M145.6 199.0h0M173.0 170.6h0M142.8 191.3h0M162.7 178.7h0M148.4 199.2h0M151.8 181.2h0M163.0 195.5h0M151.2 215.9h0M164.1 182.0h0M156.8 199.6h0M145.9 185.6h0M147.4 195.7h0M145.1 189.2h0M150.6 182.4h0M143.9 178.2h0M147.2 199.8h0M163.4 186.5h0M160.2 197.4h0M151.3 211.5h0M160.9 198.1h0M162.0 186.2h0M141.2 193.0h0M152.4 201.6h0M154.3 204.2h0M158.6 203.9h0M145.6 189.5h0M166.1 195.3h0M147.1 196.1h0M169.8 189.3h0M173.6 174.6h0M141.1 197.9h0M176.5 198.7h0M147.1 184.5h0M172.7 169.9h0M138.7 206.6h0M164.8 183.1h0M146.3 185.5h0M166.7 197.2h0M152.8 203.9h0M167.5 192.2h0M163.9 181.8h0M151.3 184.0h0M141.5 204.9h0M148.2 196.7h0M157.7 200.4h0M154.4 199.3h0M142.5 198.3h0M140.0 209.4h0M158.3 197.8h0M155.7 179.2h0M164.7 182.8h0M146.7 183.8h0M145.8 180.6h0M138.7 205.3h0M158.7 184.4h0M170.9 194.8h0M154.6 178.2h0M163.4 177.8h0M170.0 186.2h0M159.4 182.6h0M156.2 182.2h0M139.8 209.5h0M142.2 195.5h0M155.0 197.3h0M148.4 199.2h0M166.1 197.5h0M157.1 198.6h0M157.3 181.9h0M152.2 198.6h0M158.3 183.3h0M159.8 200.2h0M151.5 182.0h0M159.5 205.0h0M146.1 188.3h0M144.3 196.2h0M142.1 200.4h0M139.1 206.7h0M155.2 178.4h0M147.0 187.3h0M152.5 206.3h0M168.3 198.2h0M140.7 191.7h0M152.4 179.2h0M157.7 182.6h0M146.7 183.5h0M163.4 186.0h0M151.1 184.9h0M158.0 206.5h0M155.2 177.2h0M145.7 185.4h0M156.4 202.6h0M173.7 188.8h0M163.2 190.1h0M169.0 196.2h0M167.0 195.1h0M154.3 198.6h0M161.3 188.8h0M163.2 177.2h0M158.8 205.8h0M150.2 190.2h0"/>
<path stroke="#4574b3" stroke-width="1.55" stroke-linecap="round" fill="none"  d="M151.4 213.3h0M144.2 179.7h0M155.3 202.5h0M154.1 178.8h0M142.0 192.6h0M159.7 202.0h0M146.3 186.2h0M173.7 173.5h0M140.5 206.7h0M142.1 190.8h0M160.8 183.9h0M146.0 197.2h0M157.3 183.1h0M141.8 200.3h0M158.9 207.2h0M140.8 202.3h0M146.2 190.9h0M158.3 204.6h0M140.6 192.2h0M163.3 188.3h0M153.4 200.4h0M143.3 200.3h0M163.8 180.9h0M141.6 190.0h0M155.5 177.5h0M174.4 192.3h0M144.2 188.2h0M157.7 196.7h0M166.0 193.4h0M168.3 194.7h0M172.7 188.9h0M151.9 214.9h0M153.4 178.4h0M147.6 189.7h0M161.6 184.9h0M154.3 207.2h0M155.3 202.3h0M144.8 196.1h0M155.8 179.2h0M164.3 183.2h0M143.1 191.0h0M140.7 199.6h0M139.0 191.6h0M146.5 186.8h0M146.7 185.7h0M150.0 199.4h0M149.2 196.2h0M145.8 183.2h0M146.0 190.2h0M145.5 198.4h0M147.0 187.3h0"/>
<path stroke="#3a54a4" stroke-width="1.55" stroke-linecap="round" fill="none"  d="M140.5 191.6h0M170.8 194.4h0M141.6 204.8h0M157.5 206.5h0M155.1 177.2h0M161.6 175.5h0M140.8 201.1h0M155.4 206.1h0M151.3 213.0h0M140.6 197.5h0M159.6 173.2h0M145.9 187.5h0M144.6 178.0h0M144.9 188.9h0M144.7 180.6h0M184.0 193.7h0M140.5 208.6h0M146.2 199.6h0M141.6 204.5h0M160.6 202.5h0M148.0 189.2h0M140.8 196.9h0M141.5 207.3h0M157.3 178.2h0M142.8 203.6h0M154.9 180.0h0M144.7 180.1h0M154.6 197.9h0M159.3 207.9h0M164.1 195.6h0M156.3 181.3h0M140.5 206.7h0M138.5 205.8h0M142.5 197.6h0M159.9 197.8h0M140.0 193.1h0M145.1 186.5h0M171.6 196.2h0M141.0 200.6h0M160.7 180.4h0M138.5 191.5h0M173.1 192.6h0M156.5 207.2h0M171.5 188.5h0M144.5 187.5h0M147.5 189.0h0M155.7 201.4h0M162.6 178.7h0M169.4 189.6h0M158.6 202.6h0M163.0 179.0h0M142.9 195.1h0M159.0 176.4h0M140.8 191.2h0M144.7 186.3h0M154.8 179.4h0M154.7 199.3h0M171.7 185.4h0M145.8 183.0h0M155.4 208.8h0M152.1 179.4h0M141.3 201.1h0M158.2 200.9h0"/>
<path stroke="#aad8e9" stroke-width="1.55" stroke-linecap="round" fill="none"  d="M156.0 177.9h0M138.7 192.4h0M147.8 198.7h0M144.2 181.5h0M146.8 187.2h0M158.4 179.7h0M156.3 199.8h0M144.2 200.2h0M142.3 191.0h0M159.8 178.5h0M153.2 186.0h0M154.3 202.3h0M154.7 200.4h0M144.9 178.7h0M140.9 196.6h0M151.5 214.3h0M160.9 178.0h0M151.9 199.5h0M159.9 178.9h0M158.1 173.9h0M145.1 181.4h0M148.0 184.9h0M156.3 209.6h0M157.6 181.1h0M144.6 198.5h0M160.3 181.3h0M154.3 200.7h0M165.9 193.9h0M145.1 183.3h0M140.9 204.4h0M160.4 195.6h0M151.5 180.3h0M146.9 183.2h0M160.4 176.3h0M152.7 179.6h0M154.7 209.6h0"/>
<path stroke="#74add1" stroke-width="1.55" stroke-linecap="round" fill="none"  d="M148.0 188.3h0M146.7 185.0h0M144.1 200.0h0M166.7 191.4h0M169.2 195.4h0M175.3 183.3h0M141.1 193.1h0M160.2 203.0h0M166.6 198.6h0M137.9 206.8h0M159.3 173.8h0M145.4 189.4h0M154.8 176.3h0M160.3 202.3h0M145.6 196.5h0M158.1 180.0h0M166.7 189.7h0M156.9 176.5h0M153.5 184.7h0M141.4 208.2h0M161.7 197.5h0M164.4 196.0h0M151.8 182.4h0M184.1 191.2h0M158.0 199.0h0M157.8 208.0h0M140.1 191.1h0M155.8 200.9h0M160.1 205.4h0M160.7 179.6h0M160.1 205.0h0M148.6 194.5h0M172.3 190.0h0M174.2 184.0h0M161.2 184.8h0M161.9 197.0h0M139.1 207.8h0M158.3 175.1h0"/>
<path stroke="#f88c51" stroke-width="1.55" stroke-linecap="round" fill="none"  d="M171.8 179.5h0M171.0 196.7h0M172.2 185.9h0M175.2 200.9h0M175.4 198.2h0M169.3 190.2h0M165.3 180.9h0M171.8 186.3h0M172.8 190.2h0M169.3 195.7h0M175.2 191.1h0M163.7 191.5h0M167.9 192.7h0M169.9 195.9h0M174.6 179.0h0M171.9 191.2h0M173.8 190.5h0M164.0 192.6h0M173.1 180.7h0M169.3 185.6h0M175.8 198.5h0M170.4 188.6h0M173.9 189.3h0M175.0 188.1h0M169.9 181.5h0M170.8 192.0h0M175.4 187.6h0M171.9 195.1h0M172.1 194.8h0M173.2 193.5h0M174.3 180.2h0M163.6 185.7h0M175.0 192.1h0M175.4 194.4h0M163.6 186.0h0M171.6 193.3h0M160.9 182.6h0M174.6 174.9h0M164.0 190.8h0M170.4 202.9h0M173.5 177.4h0M170.3 200.8h0M173.2 181.0h0"/>
<path stroke="#fdc778" stroke-width="1.55" stroke-linecap="round" fill="none"  d="M173.9 181.2h0M170.9 196.0h0M166.3 197.5h0M173.7 188.0h0M173.9 189.0h0M156.9 182.7h0M170.1 182.2h0M163.9 192.4h0M173.7 190.6h0M173.4 180.8h0M171.8 182.9h0M171.7 189.6h0M172.2 195.4h0M170.7 198.0h0M170.6 192.8h0M173.3 169.9h0M163.6 183.6h0M171.0 197.6h0M168.7 195.9h0M165.5 190.9h0M171.8 200.9h0M163.3 189.9h0M163.0 180.6h0M174.7 172.5h0M175.2 189.0h0M173.1 169.8h0M175.9 186.8h0M173.1 176.0h0M176.7 191.2h0M174.9 172.9h0M171.9 200.0h0M165.9 196.2h0M159.6 175.3h0M170.8 196.2h0M169.6 180.8h0M151.5 181.7h0M176.8 185.0h0M170.8 195.4h0M176.2 197.4h0M171.0 201.0h0"/>
<path stroke="#e54e35" stroke-width="1.55" stroke-linecap="round" fill="none"  d="M182.3 188.8h0M171.5 192.2h0M173.5 174.5h0M171.9 185.6h0M173.1 172.6h0M173.7 195.2h0M173.1 188.1h0M173.4 171.1h0M176.6 192.1h0M170.1 199.7h0M176.2 189.2h0M179.7 185.6h0M176.5 192.4h0M182.8 184.5h0M183.6 195.2h0M172.7 200.4h0M180.7 189.5h0M180.6 191.8h0M174.1 171.7h0M170.8 188.8h0M180.2 185.3h0M174.5 193.5h0M180.4 185.0h0M170.4 184.7h0M171.8 190.6h0M184.4 192.4h0M181.5 184.6h0M171.4 195.8h0M180.0 188.5h0"/>
<path stroke="#fee090" stroke-width="1.55" stroke-linecap="round" fill="none"  d="M166.8 191.4h0M166.3 193.2h0M164.4 186.1h0M175.9 198.3h0M174.9 184.9h0M164.1 189.4h0M171.2 187.3h0M174.2 192.3h0M167.7 189.9h0M172.6 188.9h0M174.1 179.4h0M159.8 204.4h0M175.5 189.1h0M158.7 178.1h0M171.0 188.8h0M171.9 185.2h0M155.4 177.8h0M166.7 193.7h0M154.9 207.1h0M171.2 186.3h0M142.3 200.5h0M172.2 186.4h0M172.0 170.1h0M164.4 180.2h0M172.6 186.4h0M171.1 192.8h0M170.1 184.5h0M174.0 193.8h0M169.6 184.4h0M172.9 175.9h0M176.4 186.5h0M174.1 190.3h0M163.3 185.6h0M174.6 189.3h0M143.9 182.2h0M145.1 195.5h0M174.6 187.9h0M172.5 175.7h0M172.9 180.0h0M166.6 191.6h0M162.8 178.7h0M144.8 195.9h0M170.3 186.8h0M172.6 189.3h0M169.5 190.0h0M162.0 192.4h0M165.8 195.0h0M175.5 197.1h0M168.7 183.9h0M152.1 181.4h0M170.3 188.3h0M158.8 183.8h0M164.8 181.6h0M161.2 178.9h0"/>
<path stroke="#fff0a8" stroke-width="1.55" stroke-linecap="round" fill="none"  d="M158.1 178.6h0M173.8 177.4h0M172.4 201.0h0M173.9 190.7h0M169.7 198.6h0M153.1 179.0h0M165.4 192.6h0M172.9 183.1h0M162.0 179.6h0M165.6 191.0h0M157.8 178.7h0M173.3 181.9h0M172.9 187.2h0M163.6 187.0h0M176.5 187.2h0M175.0 173.5h0M151.8 180.8h0M164.5 189.6h0M145.8 197.9h0M171.8 200.5h0M175.8 188.3h0M156.2 197.0h0M171.2 196.2h0M148.1 188.4h0M171.6 184.1h0M172.1 198.9h0M173.6 178.2h0M160.2 201.5h0M161.1 197.7h0M164.7 184.4h0M172.9 189.6h0M171.4 187.5h0M171.8 181.7h0M138.8 190.4h0M166.9 191.8h0M160.0 197.8h0M158.7 197.5h0M167.6 194.8h0M142.5 195.3h0M170.0 180.1h0M174.5 178.8h0M156.4 179.3h0M169.9 189.4h0M173.6 191.3h0M163.5 195.5h0M170.5 201.5h0M172.8 178.0h0M170.8 198.8h0M172.0 169.7h0M169.5 191.6h0M164.0 191.5h0M161.7 185.7h0M158.4 176.2h0M163.9 188.8h0M175.6 188.1h0M171.6 186.6h0M175.1 188.9h0M169.3 191.8h0M172.4 184.4h0M172.5 190.4h0M171.6 187.9h0M175.6 188.7h0M153.8 179.6h0"/>
<path stroke="#e0f3f8" stroke-width="1.55" stroke-linecap="round" fill="none"  d="M148.4 191.2h0M144.8 182.2h0M162.8 185.0h0M153.6 199.7h0M139.0 205.5h0M167.7 189.9h0M164.3 185.9h0M166.9 193.4h0M145.6 189.0h0M161.7 186.3h0M167.9 196.2h0M144.6 182.1h0M157.4 184.3h0M155.5 204.2h0"/>
<path stroke="#fffebe" stroke-width="1.55" stroke-linecap="round" fill="none"  d="M173.0 173.2h0M157.3 197.3h0M163.1 176.4h0M161.2 188.7h0M174.4 185.0h0M143.0 192.4h0M174.3 186.9h0M170.2 180.6h0M173.1 175.6h0M169.7 188.6h0M144.0 200.3h0M165.3 195.1h0M163.6 181.3h0M148.1 187.0h0M164.5 188.2h0M164.0 189.0h0M156.7 174.7h0M162.1 180.7h0M172.7 186.9h0M143.5 196.9h0M144.0 180.8h0M146.2 181.2h0M156.5 203.1h0M162.5 187.7h0M147.2 198.8h0M172.0 187.4h0M155.1 180.8h0M172.3 180.4h0M171.2 186.8h0M167.0 194.6h0M160.9 174.5h0M172.4 191.3h0M172.9 172.9h0M163.6 189.3h0M143.3 200.3h0M165.2 180.3h0M144.4 187.6h0M140.3 198.2h0M142.2 195.4h0M169.6 189.8h0M175.9 189.0h0"/>
<path stroke="#f0f9db" stroke-width="1.55" stroke-linecap="round" fill="none"  d="M166.1 187.7h0M164.5 183.5h0M141.4 197.4h0M164.5 189.9h0M167.1 194.9h0M162.6 191.1h0M141.5 193.0h0M158.1 204.2h0M153.1 186.2h0M160.0 180.1h0M145.3 199.4h0M161.1 181.2h0M161.1 175.2h0M153.6 206.1h0M163.9 187.1h0M163.1 182.9h0M166.4 188.6h0M161.7 179.1h0M147.7 195.5h0M148.7 197.3h0M155.4 178.0h0"/>
<path stroke="#d62f27" stroke-width="1.55" stroke-linecap="round" fill="none"  d="M181.1 189.5h0M183.0 187.6h0M181.0 187.3h0M182.9 188.3h0M183.5 185.5h0M183.4 192.9h0M182.2 188.0h0M182.5 185.6h0M183.4 187.7h0M181.3 183.9h0M181.1 185.8h0M183.2 187.8h0M184.0 195.6h0M183.2 196.3h0M183.0 194.1h0M182.8 192.3h0M184.1 193.9h0M183.1 185.7h0"/>
<path stroke="#f46d43" stroke-width="1.55" stroke-linecap="round" fill="none"  d="M161.7 184.3h0M173.5 195.2h0M174.3 189.6h0M170.6 190.2h0M170.6 191.2h0M162.2 184.3h0M181.8 188.8h0M174.3 191.4h0M175.2 198.2h0M170.9 201.2h0M164.6 181.1h0M170.2 189.6h0M166.1 197.4h0M181.2 184.2h0M172.9 190.4h0M183.5 195.8h0M170.2 188.2h0M163.8 184.5h0M183.0 192.0h0M171.5 187.0h0M173.3 181.7h0M174.8 174.3h0M172.9 192.0h0M170.7 196.0h0M179.8 190.6h0M171.7 184.3h0M164.9 188.0h0M173.9 174.2h0M183.9 191.3h0M176.4 189.7h0M169.5 191.3h0M171.5 186.8h0"/>
<path stroke="#bd1726" stroke-width="1.55" stroke-linecap="round" fill="none"  d="M179.3 190.2h0M179.9 191.4h0M181.5 187.3h0M179.5 191.5h0M184.4 196.8h0M183.4 190.6h0M183.1 186.1h0M183.7 193.9h0M179.1 190.8h0M182.5 185.1h0M182.6 186.7h0M183.7 188.6h0M183.6 188.7h0"/>
<path stroke="#fdad60" stroke-width="1.55" stroke-linecap="round" fill="none"  d="M173.4 190.3h0M173.5 190.1h0M174.2 193.8h0M165.6 189.8h0M173.5 185.2h0M169.5 188.4h0M169.5 183.5h0M173.7 172.6h0M164.2 197.3h0M171.0 179.7h0M164.3 192.7h0M164.6 186.7h0M173.2 170.6h0M171.7 185.4h0M167.2 187.4h0M173.0 183.3h0M164.9 187.2h0M173.6 177.4h0M162.8 182.1h0M157.7 175.1h0M167.1 195.8h0M162.1 180.4h0M175.1 199.9h0M169.3 195.8h0M173.8 189.8h0M162.3 182.5h0M164.6 190.8h0M171.4 201.8h0M171.6 183.0h0M170.2 189.1h0M172.3 188.0h0M170.2 188.0h0M156.4 177.2h0M172.4 176.8h0M176.9 187.7h0M175.5 199.5h0M167.8 189.1h0M172.0 188.4h0M163.0 185.5h0M173.9 188.0h0M172.4 192.2h0M175.1 197.3h0M162.1 176.3h0M177.3 188.7h0"/>
<path stroke="#c5e6f0" stroke-width="1.55" stroke-linecap="round" fill="none"  d="M143.8 178.6h0M162.9 176.1h0M151.6 214.8h0M158.5 201.1h0M153.0 177.2h0M165.5 194.8h0M145.7 197.9h0M163.2 190.4h0M161.9 174.2h0M155.9 204.7h0M158.5 175.0h0M138.4 191.0h0M156.6 196.8h0M150.5 197.2h0M161.0 183.4h0M160.6 173.5h0M142.4 197.9h0M152.2 199.0h0M144.1 181.7h0"/>
<path stroke="#90c3dd" stroke-width="1.55" stroke-linecap="round" fill="none"  d="M146.4 187.0h0M154.7 177.5h0M148.1 186.3h0M154.4 207.8h0"/>
<path stroke="#a50026" stroke-width="1.55" stroke-linecap="round" fill="none"  d="M179.1 189.3h0M183.1 195.3h0M180.5 185.2h0M182.9 192.2h0M183.7 186.4h0"/>
<rect x="188.9" y="166.0" width="1.9" height="53.4" fill="url(#brd)"/>
<text x="192.8" y="170.3" font-size="3.6" fill="#666" text-anchor="start" >6</text>
<text x="192.8" y="182.2" font-size="3.6" fill="#666" text-anchor="start" >5</text>
<text x="192.8" y="194.0" font-size="3.6" fill="#666" text-anchor="start" >4</text>
<text x="192.8" y="205.9" font-size="3.6" fill="#666" text-anchor="start" >2</text>
<text x="192.8" y="217.7" font-size="3.6" fill="#666" text-anchor="start" >0</text>
<text x="160.9" y="164.7" font-size="3.6" fill="#444" text-anchor="middle" >TREM2</text>
<text x="160.9" y="223.0" font-size="3.6" fill="#666" text-anchor="middle" >UMAP1</text>
<text transform="translate(132.1,192.7) rotate(-90)" font-size="3.6" fill="#666" text-anchor="middle">UMAP2</text>
<rect x="200.1" y="166.0" width="55.9" height="53.1" fill="#fff" stroke="#ccc" stroke-width="0.5"/>
<path d="M200.1 166.0V219.1" stroke="#888" stroke-width="0.6"/>
<path stroke="#4574b3" stroke-width="1.55" stroke-linecap="round" fill="none"  d="M240.8 170.1h0M220.0 178.1h0M243.4 200.8h0M243.3 187.8h0M218.1 198.4h0M205.6 192.4h0M227.3 173.5h0M211.1 180.9h0M240.5 187.6h0M222.7 180.3h0M239.3 193.4h0M207.5 192.7h0M209.5 196.8h0M231.8 194.8h0M209.8 198.5h0M211.9 188.6h0M205.9 191.2h0M222.2 197.8h0M207.9 203.8h0M214.6 187.4h0M230.4 187.4h0M240.9 170.5h0M240.7 186.0h0M241.0 194.0h0M229.7 185.6h0M225.6 175.6h0M217.5 213.6h0M214.9 198.0h0M241.4 190.0h0M221.1 200.2h0M237.2 195.2h0M223.7 207.9h0M215.6 190.7h0M228.6 189.3h0M220.6 199.0h0M238.9 185.0h0M241.3 188.1h0M238.2 202.1h0M224.5 205.3h0M243.2 192.6h0M224.1 180.7h0M212.2 187.4h0M207.4 190.3h0M204.7 205.9h0M214.7 183.4h0M238.5 189.6h0M243.0 199.5h0M217.5 183.3h0M233.8 188.3h0M240.7 169.1h0M240.2 178.9h0M239.5 187.6h0M237.7 201.9h0M219.5 206.0h0M240.2 193.9h0M223.7 201.9h0M207.7 207.3h0M221.3 179.7h0M238.4 187.9h0M205.1 207.2h0M221.8 205.6h0M211.7 187.6h0M217.1 183.7h0M221.4 176.2h0M218.3 198.4h0M212.0 184.2h0M231.6 190.1h0M234.3 198.5h0M229.3 185.3h0M232.7 195.7h0M237.3 191.8h0M204.3 192.1h0M225.5 176.2h0M221.4 177.4h0M210.1 202.1h0M230.0 179.2h0M250.5 184.7h0M206.7 205.2h0M213.4 185.3h0M228.7 178.7h0M235.8 182.9h0M214.5 198.8h0M233.3 186.8h0M238.0 179.4h0M211.4 195.8h0M207.3 198.3h0M223.9 206.2h0M213.6 199.4h0M210.3 199.0h0M227.2 196.2h0M240.1 186.7h0M214.3 199.3h0M227.3 178.9h0M213.1 185.1h0M210.5 179.5h0M223.9 180.5h0M210.0 197.6h0"/>
<path stroke="#313695" stroke-width="1.55" stroke-linecap="round" fill="none"  d="M216.2 196.3h0M208.5 196.2h0M234.5 195.8h0M213.9 182.1h0M216.6 190.0h0M214.7 191.0h0M231.0 189.6h0M221.3 201.3h0M213.5 181.5h0M225.1 198.2h0M213.8 195.6h0M223.5 198.9h0M216.8 196.5h0M225.0 209.2h0M229.5 175.6h0M241.3 188.3h0M234.6 194.8h0M240.5 180.0h0M207.2 204.4h0M239.3 193.0h0M228.7 177.9h0M222.3 179.8h0M230.5 183.8h0M241.5 194.6h0M220.1 180.0h0M241.6 191.2h0M223.3 199.5h0M231.3 197.4h0M222.5 208.4h0M232.4 196.0h0M225.4 205.3h0M230.7 197.0h0M249.3 185.3h0M207.3 197.2h0M237.6 198.1h0M230.1 191.4h0M217.5 183.8h0M250.4 190.6h0M237.1 186.9h0M207.9 195.2h0M242.5 200.0h0M223.0 179.5h0M224.5 200.0h0M223.6 201.7h0M225.1 176.4h0M213.0 187.1h0M224.1 177.7h0M230.0 190.2h0M228.9 189.7h0M250.8 196.8h0M240.6 184.2h0M236.5 188.4h0M223.4 176.4h0M223.0 206.8h0M213.3 183.8h0M209.2 191.0h0M207.4 209.1h0M229.4 197.9h0M221.8 204.2h0M229.1 195.7h0M239.1 189.1h0M232.0 191.5h0M232.3 187.1h0M216.6 197.6h0M210.7 180.4h0M219.9 186.3h0M207.5 189.7h0M229.4 180.1h0M230.6 179.5h0M215.2 196.9h0M211.5 185.8h0M240.7 190.9h0M207.3 197.3h0M218.5 199.3h0M214.7 189.0h0M217.4 182.9h0M238.1 183.8h0M242.5 190.1h0M230.3 186.4h0M209.4 194.5h0M235.2 192.2h0M213.3 185.2h0M211.0 180.1h0M241.7 173.9h0M233.4 193.3h0M218.8 213.4h0M215.0 190.0h0M208.5 192.6h0M204.8 206.9h0M212.5 197.5h0M228.5 181.1h0M240.1 187.4h0M204.8 207.7h0M207.7 202.9h0M222.7 181.9h0M213.6 200.2h0M240.6 176.0h0M209.0 201.4h0M247.1 190.1h0M247.7 184.5h0M212.2 196.6h0M243.0 188.7h0M206.7 208.0h0M238.1 179.0h0M240.6 171.4h0M241.2 176.0h0M225.8 206.0h0M214.5 181.0h0M236.8 189.7h0M218.5 198.3h0M243.4 197.7h0M242.3 200.6h0M240.5 176.2h0M228.4 189.1h0M220.5 199.3h0M211.3 182.5h0M217.1 198.0h0M240.1 195.1h0M227.5 178.1h0M221.3 197.7h0M222.0 198.2h0M224.4 200.6h0M224.0 197.9h0M207.3 206.5h0M228.0 178.4h0M242.9 184.5h0M240.6 190.0h0M230.3 183.9h0M226.3 178.7h0M221.5 178.2h0M220.1 206.0h0M210.1 198.7h0M215.9 195.9h0M232.7 186.2h0M241.6 186.0h0M232.6 192.2h0M209.6 198.9h0M212.7 182.2h0M217.7 183.5h0M221.4 199.5h0M219.8 180.3h0M221.9 179.9h0M209.9 200.5h0M211.7 200.1h0M216.9 188.8h0M240.0 192.8h0M208.0 198.4h0M222.4 176.4h0M219.5 201.8h0M230.1 191.9h0M240.7 184.6h0M221.4 178.3h0M217.9 182.6h0M236.9 184.0h0M231.8 180.8h0M212.9 180.9h0M211.6 180.1h0M225.0 177.3h0M229.5 187.4h0M231.5 192.4h0M207.5 197.6h0M226.7 201.3h0M234.3 191.1h0M220.2 178.4h0M225.8 201.7h0M213.1 183.0h0M238.8 187.2h0M216.9 184.1h0M238.7 196.5h0M215.1 199.8h0M220.1 177.5h0M225.9 195.8h0M232.4 184.3h0M206.3 190.4h0M216.4 195.2h0M234.4 193.9h0M212.7 195.8h0M207.8 202.3h0M242.4 194.9h0M234.1 197.0h0M228.9 175.4h0M213.3 184.5h0M223.0 178.3h0M224.6 209.1h0M210.3 196.6h0M224.5 200.4h0M212.6 188.4h0M225.7 176.2h0M219.7 182.1h0M239.8 174.4h0M227.7 195.7h0M225.8 176.4h0M226.1 178.0h0M239.2 202.2h0M220.0 181.7h0M221.1 179.6h0M220.1 199.6h0M214.2 180.7h0M230.3 197.1h0M210.6 194.3h0M219.3 197.7h0M211.0 196.8h0M240.6 171.5h0M208.7 195.2h0M226.1 198.0h0M231.9 189.5h0M233.0 193.5h0M226.8 183.2h0M240.3 173.4h0M214.8 185.5h0M248.3 190.1h0M213.1 195.7h0M215.6 197.5h0M207.5 195.7h0M233.0 193.9h0M230.1 178.8h0M240.3 194.2h0M234.1 192.8h0M208.2 197.8h0M205.6 190.3h0M207.3 191.7h0M232.1 195.0h0M238.9 196.4h0M210.4 198.3h0M221.4 206.5h0M223.3 199.6h0M237.5 187.6h0M226.5 176.2h0M218.8 212.5h0M238.5 181.5h0M206.2 190.8h0M233.9 190.4h0M237.7 189.7h0M223.0 200.8h0M234.0 191.1h0M207.0 208.0h0M213.6 184.9h0M210.5 192.0h0M209.5 192.3h0M243.9 197.3h0M228.8 189.9h0M241.5 190.6h0M237.8 195.5h0M221.4 200.6h0M206.7 197.5h0M236.9 190.1h0M233.3 187.9h0M212.4 183.4h0M212.0 198.5h0M232.1 184.3h0M215.5 198.2h0M230.9 185.3h0M226.1 203.4h0M241.6 191.3h0M213.9 189.1h0M222.4 208.2h0M211.3 187.4h0M241.0 177.0h0M211.7 184.4h0M228.1 189.7h0M213.6 185.4h0M211.3 197.4h0M214.5 198.1h0M240.6 178.6h0M225.6 196.2h0M207.2 205.6h0M224.0 175.0h0M206.2 206.7h0M247.8 189.1h0M218.4 199.8h0M208.0 208.0h0M243.4 187.8h0M231.7 179.3h0M239.1 196.6h0M230.2 193.1h0M225.0 206.4h0M206.8 192.4h0M236.8 180.2h0M213.6 184.7h0M217.3 189.2h0M221.2 179.1h0M210.6 196.8h0M221.6 200.4h0M237.2 184.2h0M239.8 175.9h0M230.8 181.2h0M215.3 198.1h0M239.3 192.2h0M238.6 201.3h0M238.2 187.1h0M220.9 206.8h0M225.2 178.5h0M212.2 188.6h0M211.5 178.9h0M231.2 196.4h0M213.2 188.8h0M237.7 195.8h0M210.0 191.6h0M240.9 182.4h0M235.3 194.1h0M218.3 180.9h0M233.0 194.4h0M205.6 192.0h0M225.6 199.6h0M240.0 186.3h0M222.6 175.8h0M230.7 186.8h0M244.2 190.4h0M240.8 185.3h0M243.0 199.3h0M232.7 180.3h0M210.7 195.5h0M230.4 195.8h0M215.2 196.7h0M224.3 174.1h0M231.3 189.9h0M220.2 181.8h0M240.2 189.5h0M230.4 180.0h0M213.7 188.8h0M224.3 197.8h0M208.4 203.7h0M209.1 203.3h0M222.5 198.5h0M226.4 176.9h0M231.1 189.0h0M207.8 193.0h0M240.7 180.4h0M236.8 199.2h0M211.2 178.6h0M220.8 177.6h0M220.6 198.6h0M208.7 189.9h0M209.1 202.7h0M209.7 200.7h0M237.0 186.9h0M238.1 191.1h0M213.4 197.7h0M210.5 195.8h0M220.6 198.9h0M228.9 196.7h0M223.9 180.7h0M236.3 185.8h0M232.3 191.2h0M208.4 189.8h0M212.2 198.2h0M215.9 190.1h0M210.7 182.4h0M241.5 175.3h0M239.3 195.3h0M233.5 196.1h0M233.9 192.5h0M228.7 178.5h0M218.2 212.5h0M212.7 188.0h0M240.6 171.3h0M239.9 175.2h0M209.0 200.4h0M233.4 193.9h0M214.4 189.1h0M223.4 181.8h0M228.3 196.0h0M205.6 192.5h0M237.8 190.0h0M218.4 179.9h0M224.9 173.9h0M232.0 192.0h0M216.5 188.8h0M218.5 180.1h0M225.8 184.4h0M222.8 177.5h0M228.8 178.8h0M224.7 200.7h0M222.5 201.3h0M240.4 184.1h0M208.5 199.3h0M241.7 195.4h0M229.1 184.7h0M229.5 180.3h0M230.0 181.4h0M211.8 184.5h0M211.4 194.9h0M207.2 207.1h0M213.0 190.4h0M222.4 201.5h0M226.9 179.0h0M213.5 197.7h0M229.7 194.2h0M220.1 181.2h0M221.1 184.6h0M207.9 190.5h0M237.0 199.4h0M238.8 187.3h0M243.0 191.7h0M227.9 182.6h0M214.6 195.1h0M229.1 182.2h0M227.1 174.4h0M205.2 208.7h0M226.8 182.9h0M205.6 204.4h0M216.5 195.5h0M224.5 184.5h0M235.6 198.7h0M227.1 196.8h0M242.9 199.9h0M244.0 192.9h0M223.0 180.7h0M220.1 178.1h0M210.7 179.1h0M215.6 187.4h0M242.0 190.5h0M207.4 206.1h0M229.8 186.6h0M209.8 191.8h0M211.9 183.2h0M204.1 191.4h0M232.4 185.6h0M239.3 185.6h0M225.0 198.7h0M239.7 200.2h0M239.5 189.6h0M228.9 188.2h0M230.0 179.4h0M227.4 180.5h0M229.7 187.1h0M240.1 187.2h0M233.1 188.1h0M231.0 182.0h0M223.9 205.2h0M240.6 186.0h0M223.9 207.2h0M227.5 203.3h0M225.6 199.8h0M219.7 182.3h0M243.8 193.0h0M213.1 188.7h0M205.0 191.7h0M241.4 170.2h0M208.6 200.4h0M214.8 199.6h0M232.1 184.2h0M227.3 178.7h0M223.2 209.3h0M240.8 178.2h0M219.4 205.0h0M207.3 202.3h0M228.4 182.8h0M239.1 188.2h0M223.3 176.3h0M231.5 196.7h0M236.5 189.3h0M238.4 188.4h0M209.6 194.6h0M218.7 200.0h0M235.8 189.8h0M218.3 213.5h0M223.8 204.0h0M242.0 178.3h0M228.9 187.9h0M220.4 178.8h0M224.2 196.7h0M224.1 197.5h0M242.3 187.2h0M204.2 191.1h0M225.5 195.7h0M242.2 194.2h0M224.2 177.8h0M214.0 200.4h0M214.1 188.7h0M237.0 181.1h0M223.0 203.8h0M213.7 189.4h0M240.4 188.3h0M213.3 188.7h0M228.7 190.3h0M218.4 211.6h0M233.5 195.5h0M242.2 177.8h0M227.8 178.6h0M208.0 195.6h0M212.0 190.5h0M223.6 202.6h0M235.8 195.5h0M239.0 190.3h0M224.9 201.9h0M221.5 176.7h0M227.6 179.9h0M223.0 180.9h0M233.2 181.8h0M205.6 191.3h0M215.5 194.4h0M211.6 187.3h0M226.0 198.6h0M218.2 185.2h0M207.4 208.7h0M207.5 204.9h0M238.9 185.3h0M211.4 183.9h0M212.9 180.6h0M226.2 196.1h0M222.3 178.4h0M240.5 170.4h0M251.0 192.6h0M235.7 189.6h0M212.9 198.0h0M236.1 186.3h0M240.0 176.4h0M240.0 179.0h0M240.0 174.8h0M205.9 206.2h0M228.5 197.5h0M236.1 189.7h0M239.0 189.8h0M207.8 199.0h0M236.5 191.5h0M237.6 191.0h0M216.6 189.3h0M218.3 184.0h0M219.0 213.9h0M224.2 209.4h0M243.0 190.4h0M222.6 200.7h0M226.3 184.2h0M243.6 189.8h0M238.9 188.6h0M226.1 184.4h0M216.2 189.2h0M240.1 169.9h0M224.4 201.0h0M241.8 188.6h0M233.8 195.2h0M204.6 192.4h0M213.6 184.0h0M226.4 197.2h0M219.0 212.5h0M229.9 184.2h0M238.0 186.7h0M239.8 185.7h0M238.5 197.6h0M232.5 184.0h0M206.6 191.4h0M221.7 197.8h0M212.2 198.5h0M223.1 201.0h0M225.9 196.7h0M241.0 170.2h0M209.5 196.6h0M230.3 186.2h0M228.9 183.2h0M231.2 190.8h0M225.6 183.7h0M219.0 182.2h0M212.1 195.6h0M223.7 200.0h0M205.3 190.0h0M220.4 179.2h0M216.0 197.5h0M249.3 186.4h0M225.2 199.0h0M232.5 190.8h0M219.9 181.0h0M218.2 180.4h0M238.7 186.0h0M241.7 189.2h0M239.2 194.1h0M212.5 190.7h0M213.1 189.4h0M226.8 198.1h0M205.2 207.5h0M222.7 178.8h0M224.8 199.4h0M224.6 185.0h0M214.6 186.3h0M209.6 201.7h0M236.6 195.8h0M228.8 174.5h0M213.5 184.5h0M206.9 192.9h0M241.1 190.4h0M216.1 195.0h0M211.5 177.7h0M210.7 191.3h0M233.2 181.6h0M228.1 173.6h0M222.7 209.3h0M226.1 174.5h0M230.2 180.0h0M225.3 208.1h0M218.0 212.0h0M226.9 203.4h0M206.5 204.9h0M223.9 201.1h0M252.1 194.6h0M214.2 182.9h0M235.8 196.2h0M244.3 189.8h0M210.2 196.4h0M223.5 203.2h0M225.2 208.0h0M243.0 188.1h0M240.3 178.1h0M223.0 178.1h0M243.6 197.2h0M217.4 212.3h0M213.4 189.8h0M211.3 189.4h0M224.7 208.8h0M240.1 194.0h0M212.2 190.2h0M226.4 174.3h0M221.1 206.2h0M212.3 183.6h0M224.5 183.1h0M244.6 186.6h0M220.1 200.6h0M231.4 197.9h0M220.1 178.3h0M241.7 175.2h0M239.9 192.7h0M238.4 194.2h0M227.6 197.2h0M208.8 195.4h0M209.1 196.2h0M240.3 182.9h0M210.7 194.6h0M210.8 199.1h0M211.6 180.8h0M212.1 186.4h0M220.6 179.8h0M211.0 199.8h0M228.9 187.1h0M225.5 195.7h0M211.6 182.6h0M230.9 185.9h0M215.0 199.3h0M221.5 198.6h0M209.9 202.7h0M222.9 208.3h0M226.0 175.9h0M212.6 198.6h0M240.6 181.8h0M204.7 191.7h0M221.0 200.6h0M235.4 196.4h0M229.9 185.3h0M217.3 213.3h0M242.2 187.9h0M243.1 200.3h0M213.4 188.4h0M241.0 190.9h0M226.7 195.8h0M243.3 190.2h0M228.9 181.1h0M205.4 189.9h0M226.1 183.1h0M207.9 202.1h0M218.1 184.6h0M224.2 197.5h0M207.0 204.3h0M238.1 190.0h0M209.1 201.3h0M210.7 195.9h0M243.8 186.3h0M222.3 207.8h0M241.3 183.5h0M227.8 177.7h0M232.5 185.1h0M215.3 200.3h0M230.2 188.9h0M211.9 199.7h0M228.6 177.7h0M216.7 197.0h0M230.0 184.7h0M241.4 176.9h0M225.4 205.3h0M230.2 197.6h0M228.9 182.1h0M213.6 181.2h0M229.0 189.3h0M243.8 188.1h0M216.0 194.7h0M239.1 186.4h0M210.2 197.2h0M236.4 181.0h0M206.3 206.5h0M248.7 185.5h0M208.5 201.8h0M217.5 199.3h0M229.9 191.9h0M228.5 182.2h0M207.5 191.4h0M226.8 182.0h0M224.8 204.3h0M239.2 201.1h0M225.7 178.0h0M214.6 197.3h0M239.7 195.0h0M215.7 190.1h0M223.2 199.7h0M243.1 185.9h0M241.3 169.5h0M218.5 181.8h0M224.1 209.6h0M209.3 200.7h0M227.2 182.1h0M218.9 200.8h0M222.1 176.6h0M216.3 190.6h0M233.8 194.6h0M240.9 170.3h0M211.2 181.4h0M208.9 197.6h0M226.1 206.2h0M236.0 191.8h0M215.9 200.3h0M225.8 205.8h0M251.7 190.8h0M225.2 198.1h0M227.4 183.6h0M225.1 200.5h0M231.5 196.8h0M233.7 193.1h0M209.4 195.3h0M240.3 195.6h0M227.6 175.6h0M220.0 202.5h0M239.4 188.4h0M242.7 190.7h0M228.6 178.3h0M229.7 178.5h0M217.1 213.0h0M238.5 180.1h0M228.7 195.8h0M220.1 204.8h0M208.9 191.2h0M226.1 204.4h0M222.4 177.8h0M228.7 198.1h0M212.5 188.4h0M228.4 181.3h0M205.7 191.5h0M211.3 200.2h0M239.3 184.8h0M213.4 184.7h0M220.1 202.0h0M227.0 181.9h0M218.5 181.5h0M232.1 194.7h0M225.1 201.2h0M227.4 176.1h0M215.2 190.5h0M235.9 196.9h0M220.8 177.5h0M210.2 199.1h0M228.6 181.7h0M224.1 183.5h0M207.5 198.3h0M209.9 200.3h0M238.2 189.5h0M250.9 186.7h0M238.8 195.9h0M210.8 196.6h0M232.0 180.5h0M211.9 182.4h0M213.4 185.9h0M206.2 189.9h0M225.6 183.3h0M220.2 178.6h0M250.9 189.6h0M211.3 195.9h0M220.1 200.3h0M229.0 184.8h0M240.2 185.0h0M237.6 180.0h0M212.7 182.5h0M228.7 186.0h0M205.2 191.7h0M233.9 188.8h0M223.5 197.3h0M208.8 201.5h0M220.3 207.2h0M207.4 197.5h0M227.5 177.8h0M217.4 212.6h0M217.0 183.4h0M213.8 190.1h0M241.8 189.9h0M226.1 199.4h0M232.8 195.3h0M237.6 198.1h0"/>
<path stroke="#3a54a4" stroke-width="1.55" stroke-linecap="round" fill="none"  d="M233.0 190.7h0M227.3 202.7h0M214.4 188.9h0M223.9 204.8h0M206.5 191.9h0M226.0 201.6h0M220.1 200.5h0M236.9 192.0h0M247.0 186.0h0M226.0 175.7h0M209.9 191.2h0M210.5 178.7h0M229.5 181.8h0M224.9 204.1h0M232.2 180.3h0M206.2 190.1h0M213.1 186.1h0M206.3 205.2h0M242.3 174.0h0M227.4 183.1h0M242.3 176.7h0M231.1 183.0h0M212.1 187.3h0M242.8 187.9h0M220.0 178.3h0M223.0 176.0h0M222.7 208.4h0M211.2 198.2h0M232.9 191.4h0M211.0 198.0h0M235.1 194.7h0M223.5 205.2h0M204.6 190.3h0M240.3 188.1h0M238.2 196.0h0M239.1 194.8h0M224.9 175.5h0M217.8 185.8h0M228.1 180.5h0M222.5 202.5h0M239.8 177.8h0M210.0 191.3h0M209.6 199.8h0M229.5 192.9h0M207.9 191.9h0M211.4 184.8h0M226.5 181.4h0M210.9 199.8h0M227.4 183.5h0M216.3 196.5h0M238.9 183.0h0M206.0 209.3h0M219.1 200.2h0M221.4 206.3h0M239.5 170.5h0M211.4 185.4h0M210.6 196.4h0M229.6 192.2h0M242.8 190.0h0M229.1 193.3h0M212.7 196.7h0M231.3 190.0h0M211.3 187.6h0M214.1 186.9h0M236.1 181.6h0M209.2 194.5h0M222.7 176.4h0M238.7 184.9h0M213.1 184.2h0M212.8 184.1h0M220.4 206.2h0M241.6 179.9h0M229.9 187.8h0M224.2 175.7h0M239.9 186.1h0M241.1 185.3h0M232.6 180.5h0M226.1 179.7h0M221.1 205.7h0M243.3 201.7h0M234.1 187.5h0M229.6 183.4h0M241.9 180.5h0M204.5 207.0h0M228.5 188.0h0M213.7 188.4h0M224.7 176.4h0M220.5 201.2h0M212.6 187.5h0M241.3 169.9h0M209.9 190.4h0M229.6 185.3h0M232.1 187.0h0M237.4 189.9h0M208.6 202.1h0M218.1 214.7h0M241.7 193.6h0M214.2 183.1h0M213.6 182.2h0M220.3 199.6h0M238.3 179.0h0M229.0 184.0h0"/>
<path stroke="#aad8e9" stroke-width="1.55" stroke-linecap="round" fill="none"  d="M214.5 199.1h0M210.2 191.1h0M221.9 200.9h0M212.6 183.8h0M212.4 186.2h0M236.3 189.8h0M218.4 181.1h0M243.0 194.0h0M241.4 181.2h0M241.2 170.0h0M232.6 195.7h0M217.8 211.3h0M229.7 184.9h0M219.9 181.1h0M236.7 194.5h0M211.4 185.8h0M239.8 187.3h0M230.1 181.6h0M229.5 175.7h0M213.0 199.5h0M212.1 184.5h0M215.2 197.5h0M212.2 188.6h0M233.7 188.0h0M222.1 178.6h0M224.9 178.6h0M230.3 181.0h0M208.5 206.3h0M214.6 186.0h0M212.9 182.1h0M221.4 206.6h0M232.0 187.1h0M211.8 182.8h0M229.6 181.2h0"/>
<path stroke="#74add1" stroke-width="1.55" stroke-linecap="round" fill="none"  d="M226.9 196.3h0M212.7 196.5h0M248.5 189.4h0M214.6 187.8h0M208.7 190.3h0M209.0 204.3h0M242.2 192.0h0M221.8 205.6h0M224.1 173.9h0M212.1 187.3h0M237.1 190.7h0M238.1 184.3h0M213.9 194.4h0M230.6 184.2h0M233.5 190.7h0M214.3 183.8h0M214.5 184.7h0M238.5 181.1h0M205.6 191.9h0M225.0 204.1h0M239.3 188.4h0M224.4 179.6h0M236.7 193.5h0M227.3 180.5h0M233.2 192.1h0M221.2 176.4h0M220.4 200.2h0M232.2 183.8h0M250.0 188.3h0M214.4 199.2h0M225.4 180.0h0M214.4 188.2h0M221.9 202.3h0M212.8 184.6h0M241.4 184.0h0M208.3 190.0h0M209.6 190.9h0M215.0 188.8h0M212.6 198.0h0M240.9 185.3h0M220.4 205.1h0M218.3 213.2h0M243.4 188.8h0M228.7 188.4h0M239.9 188.9h0M229.3 175.7h0M224.9 197.2h0M236.2 190.8h0M227.9 179.3h0M212.7 188.9h0"/>
<path stroke="#fdad60" stroke-width="1.55" stroke-linecap="round" fill="none"  d="M237.9 187.0h0M248.7 186.6h0M242.8 198.3h0M234.1 190.7h0M248.2 186.4h0M250.0 187.4h0M248.8 185.0h0M210.7 199.9h0M249.4 187.4h0M214.9 185.5h0M234.4 197.3h0"/>
<path stroke="#fee090" stroke-width="1.55" stroke-linecap="round" fill="none"  d="M210.3 199.9h0M238.9 183.8h0M218.3 180.7h0M235.0 186.4h0M239.9 195.5h0M239.1 199.1h0"/>
<path stroke="#f46d43" stroke-width="1.55" stroke-linecap="round" fill="none"  d="M236.3 188.1h0M248.5 186.7h0M248.4 190.3h0M241.9 179.1h0M211.0 186.7h0M250.4 185.8h0M237.4 201.1h0M248.9 183.8h0M243.1 184.1h0M249.9 185.4h0M228.0 197.1h0M231.6 186.8h0"/>
<path stroke="#d62f27" stroke-width="1.55" stroke-linecap="round" fill="none"  d="M237.2 190.3h0M213.6 181.8h0M237.3 181.9h0M213.9 180.6h0M247.1 186.8h0M229.8 194.4h0M250.3 195.3h0M247.7 190.7h0M248.2 190.6h0M252.0 194.8h0M230.6 188.8h0M251.9 194.7h0M250.8 192.8h0"/>
<path stroke="#bd1726" stroke-width="1.55" stroke-linecap="round" fill="none"  d="M251.5 189.7h0M251.5 197.1h0M242.8 191.8h0M250.5 188.8h0M249.5 186.2h0M238.0 193.8h0M240.4 185.6h0M228.9 188.5h0M246.8 191.3h0M240.3 173.0h0M234.4 198.4h0M248.7 188.0h0M251.1 197.7h0M240.8 170.8h0"/>
<path stroke="#fdc778" stroke-width="1.55" stroke-linecap="round" fill="none"  d="M205.0 190.5h0M239.0 186.8h0M236.1 184.2h0M237.2 198.9h0"/>
<path stroke="#a50026" stroke-width="1.55" stroke-linecap="round" fill="none"  d="M241.0 176.1h0M246.6 190.1h0M251.5 197.4h0M251.6 192.4h0M231.5 183.4h0M251.8 191.0h0M241.7 175.3h0"/>
<path stroke="#e54e35" stroke-width="1.55" stroke-linecap="round" fill="none"  d="M248.7 189.7h0M216.9 185.5h0M230.3 191.8h0M242.5 183.0h0M240.7 178.4h0M241.5 179.3h0M233.1 197.3h0M240.1 191.7h0M240.5 190.5h0M233.0 194.3h0M251.1 191.6h0M230.5 192.0h0M250.1 184.5h0M243.8 189.3h0"/>
<path stroke="#f0f9db" stroke-width="1.55" stroke-linecap="round" fill="none"  d="M208.3 200.2h0"/>
<path stroke="#f88c51" stroke-width="1.55" stroke-linecap="round" fill="none"  d="M230.7 192.0h0M242.2 199.3h0M247.1 185.9h0M250.9 189.2h0M246.9 191.6h0M242.4 191.3h0M239.3 200.8h0M251.3 197.8h0M228.7 177.0h0M226.0 198.0h0M239.2 195.9h0M248.3 184.1h0M223.1 198.8h0M250.3 190.7h0M250.1 184.2h0M243.8 191.7h0"/>
<path stroke="#fff0a8" stroke-width="1.55" stroke-linecap="round" fill="none"  d="M212.4 197.9h0M229.9 184.7h0"/>
<path stroke="#fffebe" stroke-width="1.55" stroke-linecap="round" fill="none"  d="M208.0 202.4h0"/>
<rect x="256.2" y="166.0" width="2.2" height="53.1" fill="url(#brd)"/>
<text x="260.4" y="170.3" font-size="3.6" fill="#666" text-anchor="start" >6</text>
<text x="260.4" y="186.0" font-size="3.6" fill="#666" text-anchor="start" >4</text>
<text x="260.4" y="201.7" font-size="3.6" fill="#666" text-anchor="start" >2</text>
<text x="260.4" y="217.4" font-size="3.6" fill="#666" text-anchor="start" >0</text>
<text x="228.1" y="164.7" font-size="3.6" fill="#444" text-anchor="middle" >TMEM119</text>
<text x="228.1" y="222.7" font-size="3.6" fill="#666" text-anchor="middle" >UMAP1</text>
<text transform="translate(198.79999999999998,192.6) rotate(-90)" font-size="3.6" fill="#666" text-anchor="middle">UMAP2</text>
<rect x="267.4" y="166.2" width="55.8" height="53.1" fill="#fff" stroke="#ccc" stroke-width="0.5"/>
<path d="M267.4 166.2V219.3" stroke="#888" stroke-width="0.6"/>
<path stroke="#74add1" stroke-width="1.55" stroke-linecap="round" fill="none"  d="M303.2 198.0h0M278.2 194.7h0M300.1 181.7h0M280.3 196.5h0M299.9 187.5h0M307.1 186.9h0M274.6 206.2h0M298.4 196.2h0M281.2 189.3h0M286.7 182.1h0M308.1 170.2h0M289.3 203.9h0M279.6 185.8h0M273.4 193.0h0M287.8 181.4h0M288.9 202.2h0M297.7 179.5h0M301.9 191.1h0M280.5 189.2h0M273.3 204.9h0M310.3 193.6h0M296.2 189.5h0M282.0 194.5h0M298.4 179.7h0M281.7 188.6h0M292.8 208.8h0M293.1 180.2h0M291.5 197.7h0M311.2 199.2h0M290.1 178.5h0M279.4 184.6h0M310.3 190.3h0M291.1 182.7h0M292.1 178.4h0M307.0 190.5h0M273.7 206.5h0M295.8 177.4h0M309.1 193.7h0M276.1 196.6h0M299.4 191.3h0M285.4 184.2h0M293.8 203.2h0M296.6 182.6h0M308.3 174.1h0M271.8 192.1h0M306.3 190.0h0M297.1 177.4h0M296.8 195.7h0M273.9 192.8h0M281.1 180.5h0M273.0 190.2h0M277.6 199.6h0M284.2 199.0h0M279.0 199.2h0M277.1 203.8h0M285.1 212.5h0M306.6 191.3h0M307.3 196.2h0M288.6 203.3h0M276.7 202.9h0"/>
<path stroke="#4574b3" stroke-width="1.55" stroke-linecap="round" fill="none"  d="M305.2 187.2h0M280.3 199.5h0M285.1 212.8h0M305.6 193.2h0M309.9 187.0h0M300.6 197.7h0M300.1 194.0h0M297.2 189.5h0M282.1 187.8h0M285.7 199.4h0M303.2 196.2h0M293.6 200.8h0M296.1 186.7h0M303.0 190.9h0M304.2 185.4h0M302.8 193.7h0M298.6 189.5h0M276.4 195.5h0M308.6 190.2h0M309.1 193.7h0M296.0 195.7h0M284.8 184.5h0M280.0 188.6h0M296.9 176.4h0M279.3 188.5h0M295.2 182.2h0M286.9 200.8h0M293.3 178.9h0M291.6 205.5h0M310.4 194.5h0M307.3 185.5h0M308.0 193.5h0M304.4 198.5h0M275.9 195.3h0M294.0 183.4h0M306.6 181.9h0M293.2 175.7h0M306.5 170.7h0M278.7 200.1h0M294.8 178.4h0M286.2 213.1h0M276.5 203.4h0M279.7 199.0h0M301.3 198.2h0M289.3 207.2h0M277.0 195.2h0M300.3 196.7h0M295.9 179.8h0M281.0 182.8h0M297.5 191.5h0M307.8 173.6h0M288.9 178.9h0M277.1 197.6h0M288.8 203.4h0M297.2 179.7h0M292.5 208.4h0M308.1 174.6h0M300.5 196.6h0M282.0 195.9h0M278.7 199.4h0M305.2 181.1h0M310.6 190.9h0M308.4 186.2h0M285.1 185.0h0M291.1 203.3h0M272.4 208.2h0M282.6 194.8h0M280.6 182.5h0M289.8 177.5h0M311.1 188.9h0M282.0 196.8h0M292.0 174.1h0M309.8 197.1h0M276.3 191.1h0M274.0 193.0h0M278.8 178.5h0M307.5 186.0h0M280.6 185.1h0M290.6 196.9h0M294.6 177.6h0M293.1 178.7h0M293.0 207.3h0M291.2 180.5h0M275.1 197.3h0M307.7 191.5h0M281.9 200.6h0M303.7 193.2h0M305.8 194.0h0M308.5 179.9h0"/>
<path stroke="#313695" stroke-width="1.55" stroke-linecap="round" fill="none"  d="M299.1 190.4h0M281.5 184.1h0M308.1 169.4h0M309.6 183.8h0M280.1 188.3h0M272.9 206.6h0M307.6 186.0h0M289.0 199.3h0M306.5 185.8h0M294.6 178.4h0M282.9 188.6h0M304.3 182.6h0M289.0 200.0h0M279.1 196.5h0M292.8 198.3h0M295.0 175.2h0M279.3 180.9h0M298.4 186.5h0M275.0 208.5h0M297.0 186.2h0M300.8 188.7h0M305.3 201.2h0M289.5 206.1h0M279.6 189.3h0M292.0 205.2h0M286.7 201.4h0M295.4 174.9h0M277.1 197.9h0M303.2 190.3h0M287.2 201.2h0M306.0 189.1h0M292.7 208.8h0M278.5 198.4h0M284.4 189.4h0M285.6 186.3h0M289.7 198.1h0M297.5 180.8h0M308.2 187.1h0M296.5 180.5h0M272.5 192.2h0M279.3 184.1h0M291.7 205.7h0M309.5 189.8h0M305.5 191.8h0M301.2 196.9h0M286.9 200.7h0M292.1 197.5h0M284.0 198.8h0M294.8 202.0h0M293.3 176.0h0M273.2 207.0h0M280.0 184.3h0M285.7 214.3h0M276.3 200.4h0M289.4 200.4h0M307.9 189.3h0M286.9 205.7h0M293.4 207.9h0M280.9 190.7h0M279.6 185.7h0M280.6 189.6h0M295.9 173.8h0M277.7 191.9h0M281.7 188.5h0M297.3 177.8h0M291.7 185.4h0M307.8 174.1h0M293.6 176.4h0M305.9 180.4h0M294.2 195.7h0M281.7 190.7h0M274.3 206.4h0M281.8 199.6h0M284.7 213.9h0M297.6 187.0h0M286.9 200.9h0M277.9 196.4h0M303.4 193.2h0M281.8 189.2h0M290.0 201.7h0M282.1 195.9h0M310.0 198.0h0M308.8 172.3h0M309.6 200.7h0M287.9 200.4h0M295.5 182.8h0M304.0 194.9h0M304.5 195.2h0M294.6 183.2h0M298.3 180.3h0M315.6 188.8h0M279.8 185.8h0M297.4 191.9h0M309.3 187.5h0M310.3 194.8h0M304.2 185.1h0M293.1 181.3h0M308.4 183.8h0M274.6 198.2h0M279.8 198.5h0M274.0 191.6h0M278.5 178.0h0M298.2 188.8h0M288.5 204.8h0M300.4 192.1h0M305.8 201.3h0M305.8 187.7h0M304.0 182.2h0M278.3 182.9h0M280.0 182.8h0M296.0 182.7h0M291.1 178.1h0M308.9 190.1h0M296.0 182.3h0M308.9 173.4h0M272.9 205.8h0M295.7 185.3h0M297.6 186.6h0M305.3 187.9h0M281.2 196.0h0M290.7 209.4h0M293.0 203.8h0M299.2 188.2h0M289.8 204.7h0M276.6 192.5h0M276.1 191.2h0M273.7 209.6h0M301.7 196.9h0M301.2 187.5h0M304.8 180.9h0M278.0 178.2h0M298.0 183.8h0M299.2 179.7h0M286.1 214.8h0M299.3 186.0h0M286.3 179.6h0M295.8 180.5h0M306.8 195.6h0M282.6 185.6h0M282.3 196.9h0M273.8 204.3h0M308.9 171.1h0M282.8 198.2h0M297.1 181.9h0M296.6 196.3h0M306.6 196.8h0M279.2 196.6h0M296.2 177.5h0M296.6 185.3h0M281.9 187.9h0M305.9 197.7h0M307.1 193.1h0M293.1 204.7h0M295.9 178.8h0M283.0 191.1h0M289.8 177.7h0M308.5 170.6h0M289.4 199.5h0M294.4 178.1h0M306.1 202.6h0M280.7 184.3h0M309.0 192.8h0M306.9 175.7h0M280.9 188.7h0M295.3 197.5h0M289.3 178.3h0M301.9 194.5h0M278.0 191.5h0M288.8 198.7h0M271.3 191.3h0M303.6 194.8h0M307.9 194.0h0M306.7 186.4h0M293.2 199.0h0M308.1 184.5h0M305.8 192.1h0M299.6 192.3h0M295.6 197.7h0M310.3 200.7h0M308.8 187.9h0M279.3 188.8h0M290.4 209.3h0M293.6 176.7h0M297.2 189.3h0M309.2 179.5h0M295.3 178.1h0M280.5 185.8h0M309.8 197.0h0M293.4 206.1h0M308.1 179.5h0M309.6 191.9h0M288.8 206.4h0M298.3 187.3h0M282.6 190.8h0M275.9 201.4h0M283.9 198.3h0M294.0 180.7h0M304.6 195.1h0M282.7 198.6h0M293.4 178.5h0M292.6 174.4h0M310.2 199.8h0M298.7 180.7h0M283.1 194.8h0M292.7 196.2h0M307.8 195.7h0M308.1 170.0h0M287.0 199.6h0M306.6 189.8h0M307.5 183.6h0M274.3 207.4h0M288.3 178.1h0M285.7 213.1h0M304.8 194.8h0M307.9 173.0h0M273.5 190.5h0M274.4 191.4h0M307.9 180.2h0M286.4 181.3h0M292.7 177.2h0M301.1 197.2h0M274.9 199.2h0M299.8 196.6h0M308.6 173.0h0M298.3 186.8h0M275.4 204.7h0M294.6 203.1h0M278.8 180.2h0M307.6 186.8h0M273.5 192.0h0M298.3 188.2h0M292.3 182.9h0M302.2 196.6h0M275.9 196.8h0M279.7 196.5h0M280.2 185.5h0M285.2 200.5h0M280.3 184.4h0M304.4 190.8h0M275.5 192.3h0M280.1 190.3h0M313.7 191.2h0M286.3 202.5h0M308.7 172.5h0M277.3 199.0h0M296.9 191.1h0M281.5 184.9h0M299.2 185.9h0M282.7 194.7h0M316.9 189.2h0M297.5 188.4h0M297.5 187.4h0M286.6 206.2h0M280.8 198.6h0M280.2 196.1h0M289.7 178.6h0M279.5 198.7h0M283.9 196.1h0M297.1 176.8h0M292.1 185.8h0M275.4 191.8h0M281.5 182.0h0M283.5 195.1h0M273.5 190.7h0M272.1 206.8h0M282.7 186.8h0M273.6 204.6h0M273.4 193.0h0M303.0 183.1h0M308.2 182.0h0M311.3 186.0h0M297.9 187.3h0M279.0 199.7h0M288.6 179.1h0M304.1 192.6h0M280.9 195.4h0M299.5 188.9h0M308.1 191.9h0M282.5 190.6h0M308.7 186.5h0M300.0 190.5h0M280.7 199.1h0M279.6 185.8h0M295.2 180.7h0M298.2 187.9h0M307.7 189.8h0M293.6 198.8h0M296.7 184.1h0M274.0 191.7h0M284.6 185.4h0M306.1 188.8h0M307.6 189.9h0M309.5 192.1h0M273.8 190.0h0M275.5 195.4h0M304.1 181.2h0M290.1 208.3h0M281.2 185.9h0M300.0 196.2h0M287.6 205.7h0M303.5 192.0h0M289.9 178.2h0M287.4 178.0h0M275.8 204.3h0M297.7 197.2h0M273.3 192.8h0M275.6 198.3h0M309.0 174.9h0M280.1 184.0h0M293.2 179.7h0M290.1 200.6h0M307.6 169.8h0M299.4 189.3h0M304.2 191.0h0M308.9 189.5h0M279.9 180.0h0M308.9 188.7h0M292.1 185.1h0M299.1 189.4h0M291.1 174.6h0M275.2 206.4h0M306.4 186.5h0M297.8 181.8h0M274.2 191.2h0M296.9 182.3h0M274.8 203.5h0M300.7 196.8h0M306.6 196.4h0M300.9 194.8h0M304.9 190.0h0M303.0 194.5h0M300.6 195.3h0M297.0 188.3h0M288.3 178.0h0M297.4 194.1h0M280.5 195.6h0M289.0 205.4h0M309.5 191.2h0M276.8 197.2h0M296.5 186.9h0M278.9 188.7h0M291.2 204.9h0M298.7 179.4h0M307.3 187.0h0M281.0 185.3h0M280.4 185.1h0M278.8 180.8h0M284.7 187.4h0M305.2 190.0h0M296.2 195.8h0M297.2 181.3h0M305.9 196.0h0M309.2 195.6h0M281.8 184.4h0M305.7 191.7h0M285.3 180.3h0M291.4 204.2h0M278.8 179.8h0M296.7 182.8h0M298.4 187.8h0M273.6 208.9h0M294.2 173.0h0M305.4 200.5h0M300.3 191.4h0M279.1 199.3h0M281.7 188.9h0M315.9 185.5h0M281.7 196.8h0M302.5 197.5h0M296.0 175.6h0M300.0 197.3h0M318.4 194.5h0M290.8 175.2h0M273.0 205.1h0M273.6 190.5h0M292.7 204.2h0M274.5 201.9h0M294.7 177.6h0M291.3 185.2h0M276.3 191.9h0M318.2 193.6h0M295.2 181.8h0M274.7 191.4h0M294.6 201.2h0M278.5 182.2h0M274.0 204.6h0M307.1 177.5h0M285.8 212.7h0M309.5 192.8h0M305.7 186.9h0M278.0 180.5h0M311.5 187.9h0M293.6 201.3h0M300.2 195.7h0M276.0 191.2h0M279.3 183.5h0M300.3 184.3h0M296.7 186.6h0M288.6 178.5h0M286.8 200.3h0M292.0 180.6h0M288.4 206.8h0M308.3 179.8h0M300.0 193.7h0M279.1 182.3h0M316.8 189.4h0M297.0 180.4h0M275.5 198.0h0M297.0 181.5h0M304.1 180.7h0M289.1 206.7h0M307.5 190.4h0M279.4 189.6h0M284.8 214.3h0M295.1 175.9h0M289.6 179.3h0M301.2 196.5h0M276.6 197.4h0M311.4 185.7h0M316.2 186.9h0M287.5 178.6h0M309.4 191.1h0M300.4 184.4h0M275.3 197.0h0M289.4 202.6h0M296.7 192.5h0M277.5 199.1h0M281.9 196.9h0M314.6 189.4h0M305.3 192.3h0M302.6 192.3h0M278.2 198.8h0M282.2 195.2h0M293.8 207.2h0M282.3 189.5h0M273.6 204.4h0M300.5 196.3h0M296.6 178.9h0M283.7 197.2h0M308.3 181.5h0M297.0 181.5h0M279.5 196.5h0M317.7 185.3h0M310.2 190.6h0M275.7 192.9h0M303.3 195.5h0M309.6 188.3h0M275.0 190.3h0M293.3 204.5h0M295.0 173.3h0M290.3 207.1h0M307.7 184.5h0M281.1 200.5h0M290.1 178.8h0M281.9 197.2h0M306.3 191.2h0M292.6 197.2h0M279.4 186.7h0M283.2 198.0h0M274.3 198.9h0M275.5 191.7h0M277.3 194.4h0M291.4 205.7h0M313.8 190.9h0M292.7 173.3h0M275.5 207.8h0M308.4 180.2h0M291.3 209.9h0M274.7 198.1h0M298.0 183.8h0M310.7 188.4h0M276.7 195.2h0M298.2 187.3h0M290.7 209.1h0M290.8 200.1h0M276.5 190.3h0M315.3 188.8h0M304.4 199.8h0M295.4 195.6h0M305.7 194.8h0M295.8 188.8h0M274.4 196.8h0M296.2 176.4h0M279.1 189.3h0M293.9 206.5h0M315.5 184.6h0M274.9 199.2h0M300.3 196.7h0M281.1 189.1h0M318.7 192.4h0M292.6 200.9h0M280.7 186.5h0M306.2 190.7h0M304.9 185.2h0M303.8 180.7h0M301.2 191.2h0M289.4 180.2h0M272.6 192.7h0M278.4 197.9h0M277.9 200.8h0M304.4 191.0h0M291.6 197.6h0M296.8 178.3h0M290.7 181.2h0M275.9 195.1h0M295.9 180.1h0M306.8 189.4h0M282.5 200.9h0M308.2 195.4h0M280.1 186.5h0M307.0 188.9h0M280.0 184.5h0M293.6 199.3h0M306.2 170.7h0M301.5 196.0h0M276.2 197.8h0M294.6 183.0h0M285.1 213.2h0M285.2 212.1h0M292.7 175.9h0M292.7 206.0h0M286.9 182.5h0M304.0 181.9h0M304.5 188.4h0M289.2 199.6h0M302.9 198.6h0M292.8 183.7h0M309.9 198.9h0M295.5 180.8h0M294.4 205.5h0M279.0 199.5h0M303.8 183.8h0M278.4 187.3h0M307.0 181.9h0M287.9 179.1h0M286.1 182.1h0M288.8 199.1h0M277.8 191.2h0M308.1 176.8h0M295.9 173.9h0M286.7 204.1h0M301.1 191.2h0M297.5 187.7h0M295.7 182.6h0M298.2 189.7h0M304.8 189.7h0M291.1 209.8h0M306.3 198.0h0M306.7 186.5h0M294.1 206.6h0M285.2 215.0h0M290.0 209.0h0M272.6 191.7h0M280.7 191.2h0M295.3 195.8h0M277.9 183.2h0M281.9 194.7h0M296.2 193.1h0M294.2 200.7h0M288.8 204.3h0M300.5 183.1h0M309.0 179.9h0M279.8 196.1h0M301.0 188.1h0M304.5 187.1h0M276.3 192.9h0M306.2 200.8h0M283.5 190.0h0M292.0 203.3h0M287.8 178.7h0M278.2 199.2h0M308.2 181.5h0M310.3 193.3h0M278.3 199.8h0M306.7 193.9h0M272.6 208.4h0M306.1 187.9h0M287.3 179.0h0M291.2 199.4h0M280.7 187.5h0M288.0 204.3h0M311.2 193.3h0M284.6 182.5h0M281.5 195.0h0M279.6 183.6h0M306.3 194.2h0M307.8 179.6h0M278.0 196.8h0M303.9 199.7h0M274.9 191.6h0M308.6 171.7h0M297.9 180.5h0M297.8 196.9h0M281.1 191.2h0M311.1 199.4h0M279.2 186.3h0M296.5 180.1h0M294.3 183.5h0M286.9 198.0h0M305.2 201.4h0M293.2 199.8h0M298.1 191.5h0M304.0 181.8h0M305.0 200.2h0M283.9 198.4h0M300.6 191.7h0M288.2 199.0h0M275.9 203.4h0M280.5 185.3h0M309.6 187.3h0M307.0 182.8h0M300.5 190.2h0M282.4 190.3h0M296.0 180.4h0M297.4 184.0h0M297.8 185.2h0M276.1 191.4h0M297.0 180.3h0M318.1 193.2h0M308.8 173.4h0M279.0 185.6h0M292.9 181.8h0M294.8 197.9h0M274.8 197.6h0M309.2 176.6h0M290.8 181.0h0M302.3 189.0h0M281.6 190.0h0M288.8 198.2h0M274.0 191.0h0M310.2 191.5h0M279.8 198.5h0M276.6 192.7h0M288.4 176.7h0M305.4 201.3h0M307.9 175.0h0M297.2 177.0h0M295.5 175.9h0M288.5 177.7h0M294.8 177.0h0M273.7 191.6h0M309.1 178.5h0M305.1 195.8h0M302.5 188.4h0M273.3 206.2h0M279.2 181.4h0M282.7 191.0h0M284.5 183.3h0M283.1 188.8h0M280.8 187.3h0M301.4 194.4h0M304.6 195.3h0M306.2 182.5h0M292.0 198.0h0M294.6 180.2h0M292.5 176.0h0M281.8 186.5h0M317.2 189.0h0M297.2 186.0h0M308.1 186.0h0M272.5 206.9h0M288.0 203.9h0M274.2 196.7h0M294.4 204.7h0M281.8 198.4h0M305.3 186.8h0M299.4 186.3h0M306.8 189.6h0M274.7 198.0h0M278.0 183.8h0M295.6 173.6h0M304.8 198.7h0M307.4 188.9h0M288.1 207.6h0M296.6 183.4h0M318.5 196.2h0M279.1 196.8h0M281.2 199.3h0M298.2 186.2h0M279.8 185.4h0M286.7 179.2h0M306.3 188.6h0M291.2 201.8h0M275.9 204.9h0M314.8 186.3h0M293.1 204.7h0M286.6 199.5h0M293.2 200.6h0M285.5 181.9h0M294.1 174.3h0M288.3 178.2h0M289.6 203.1h0M275.9 204.8h0M294.5 198.0h0M277.3 203.3h0M299.0 180.6h0M285.0 184.1h0M300.2 180.8h0M281.9 188.9h0M307.2 182.5h0M301.1 187.6h0M280.1 183.4h0M311.5 187.6h0M306.8 185.7h0M300.3 186.7h0M293.7 197.3h0M305.9 192.7h0M275.4 191.7h0M293.9 176.2h0M307.6 180.2h0M297.0 182.1h0M273.5 207.7h0M306.1 193.2h0M294.8 197.0h0M274.1 205.0h0M296.1 189.4h0M290.5 210.0h0M309.6 191.8h0M307.5 181.6h0M298.0 183.4h0M283.7 197.6h0M292.8 179.6h0M275.3 198.7h0M301.2 196.4h0M298.5 196.6h0M286.1 214.8h0M276.1 199.0h0M318.8 196.8h0M286.1 182.5h0M296.2 187.1h0M283.8 189.0h0M288.9 176.5h0M294.8 203.6h0M291.0 176.5h0M291.3 200.7h0M271.3 191.4h0M295.7 190.7h0M307.8 187.1h0M304.8 197.0h0M291.2 175.4h0M280.9 199.5h0M307.4 184.5h0M301.0 191.5h0M276.7 197.3h0M308.4 173.9h0M282.0 182.2h0M280.9 189.1h0M309.1 178.4h0M298.4 189.1h0M279.9 196.6h0M279.1 182.0h0M297.2 181.6h0M310.3 194.8h0M284.7 183.6h0M274.6 192.9h0M309.4 190.0h0M288.8 208.7h0M277.8 179.1h0M311.0 190.0h0M295.5 196.0h0M309.1 188.2h0M287.1 183.6h0M294.9 205.3h0M308.6 187.6h0M302.4 192.8h0M292.9 196.5h0M307.7 172.1h0M306.9 196.5h0M307.3 194.7h0M275.5 191.0h0M308.1 173.1h0M289.4 176.5h0M287.4 206.0h0M294.6 181.7h0M294.7 203.5h0M301.2 197.2h0M296.3 181.4h0M296.2 178.4h0M273.8 204.7h0M299.8 180.6h0M285.5 180.9h0M290.4 196.9h0M289.6 176.2h0M311.0 189.0h0M286.4 198.7h0M296.0 196.4h0M291.4 207.0h0M290.2 178.3h0M277.0 200.1h0M273.0 208.1h0M280.1 187.1h0M295.7 183.4h0M300.2 197.9h0M279.2 184.4h0M316.7 185.1h0M278.1 187.2h0M275.9 202.8h0M275.6 192.6h0M272.6 190.5h0M297.0 185.1h0M281.2 188.7h0M279.9 180.8h0M281.2 189.8h0M285.3 185.1h0M286.4 214.0h0M297.6 188.9h0M278.6 197.0h0M272.9 208.0h0M306.5 202.1h0M279.1 187.0h0M307.5 188.9h0M281.4 181.5h0M305.1 179.8h0M308.8 177.0h0M292.6 181.9h0M310.5 192.4h0M289.5 178.3h0M310.8 186.5h0M293.1 202.5h0M309.2 172.1h0M278.2 178.2h0M308.8 177.2h0M309.0 171.9h0M279.6 187.4h0M287.8 199.2h0M297.3 186.0h0M280.4 188.5h0M303.1 196.3h0M316.4 189.4h0M297.7 181.1h0M308.9 188.5h0M280.5 182.4h0M292.0 173.5h0M307.8 170.3h0M282.0 188.6h0M293.6 204.6h0M285.7 181.3h0M310.8 200.2h0M292.9 185.9h0"/>
<path stroke="#aad8e9" stroke-width="1.55" stroke-linecap="round" fill="none"  d="M275.3 191.2h0M286.4 203.2h0M282.1 189.1h0M298.1 180.4h0M301.1 188.9h0M275.8 200.6h0M288.1 206.4h0M292.3 185.9h0M281.2 189.3h0M288.3 177.9h0M285.4 198.5h0M307.7 186.7h0M276.7 204.1h0M286.7 179.3h0M295.8 180.6h0M296.2 185.9h0M310.0 185.6h0M278.5 194.9h0M278.3 199.1h0M292.1 204.9h0M315.8 186.7h0M295.7 189.3h0M288.6 200.4h0M305.2 185.0h0M308.7 186.6h0M288.8 205.0h0M279.6 197.7h0M279.0 184.6h0M292.5 175.5h0M280.4 184.8h0M289.3 203.9h0M282.9 196.9h0M310.5 200.9h0M298.5 183.4h0M300.5 183.6h0M274.7 198.8h0M302.2 192.4h0"/>
<path stroke="#3a54a4" stroke-width="1.55" stroke-linecap="round" fill="none"  d="M303.6 193.5h0M294.3 200.1h0M282.0 187.5h0M290.3 178.5h0M302.6 199.0h0M310.1 183.8h0M307.5 169.8h0M279.9 183.1h0M289.5 198.2h0M286.9 200.3h0M306.6 189.7h0M289.6 181.3h0M292.3 178.4h0M275.8 191.1h0M297.2 176.6h0M276.4 191.9h0M276.0 202.6h0M286.7 179.4h0M302.0 199.0h0M271.9 191.0h0M309.2 191.6h0M278.9 187.0h0M307.3 195.1h0M301.8 197.9h0M307.8 182.4h0M280.7 184.3h0M303.6 188.4h0M304.1 187.2h0M277.1 200.6h0M302.4 192.4h0M285.1 185.6h0M308.4 188.3h0M285.6 181.3h0M291.5 196.8h0M287.4 207.9h0M296.0 195.7h0M278.1 198.3h0M294.3 205.1h0M282.6 195.4h0M276.2 197.0h0M306.6 190.1h0M275.8 200.4h0M309.8 195.0h0M291.2 196.4h0M278.8 181.0h0M287.6 180.5h0M316.6 189.0h0M310.4 201.5h0M277.7 194.9h0M304.4 185.9h0M307.9 172.2h0M295.0 203.0h0M292.6 199.3h0M293.2 204.7h0M292.3 199.0h0M281.1 188.4h0M295.6 177.3h0M301.5 195.5h0M297.3 198.3h0M300.2 188.3h0M282.9 187.8h0M276.1 195.9h0M306.5 199.1h0M273.8 190.2h0M286.1 186.8h0M289.7 180.1h0M280.7 200.4h0M309.5 198.7h0M292.0 197.1h0M286.0 215.4h0M282.5 197.2h0M282.2 187.8h0M291.6 177.5h0M308.2 195.2h0M275.2 200.7h0M276.4 199.2h0M296.9 180.2h0M295.4 183.9h0M291.0 208.7h0M306.0 202.2h0M276.4 200.5h0M285.2 182.4h0M308.4 180.6h0M287.5 178.8h0M308.0 169.5h0M297.0 183.9h0M299.6 189.5h0M302.8 193.8h0M293.1 207.0h0M308.8 190.5h0M275.2 195.4h0M286.6 180.5h0M295.4 180.1h0M296.8 186.5h0M305.2 200.7h0M297.9 195.7h0M274.7 198.2h0M301.2 196.1h0M272.5 207.4h0M279.0 178.4h0M282.4 185.3h0M281.3 197.0h0M290.2 179.6h0M281.6 183.9h0M285.6 215.7h0M288.1 186.1h0M306.6 199.7h0"/>
<path stroke="#f46d43" stroke-width="1.55" stroke-linecap="round" fill="none"  d="M314.8 191.2h0M314.2 191.1h0M317.5 188.4h0"/>
<path stroke="#d62f27" stroke-width="1.55" stroke-linecap="round" fill="none"  d="M318.0 190.9h0M287.4 207.7h0M318.8 194.1h0M315.7 186.4h0M316.4 183.9h0M318.9 196.8h0"/>
<path stroke="#f88c51" stroke-width="1.55" stroke-linecap="round" fill="none"  d="M317.7 195.4h0M314.3 190.7h0M318.1 188.9h0M315.8 189.9h0M315.3 190.9h0M315.3 188.9h0M318.0 186.2h0"/>
<path stroke="#fff0a8" stroke-width="1.55" stroke-linecap="round" fill="none"  d="M305.7 189.3h0M296.5 182.2h0M296.3 189.6h0"/>
<path stroke="#fdad60" stroke-width="1.55" stroke-linecap="round" fill="none"  d="M318.9 196.0h0M315.6 190.2h0M318.2 189.1h0M317.9 197.9h0M314.4 187.9h0M315.5 185.9h0"/>
<path stroke="#fee090" stroke-width="1.55" stroke-linecap="round" fill="none"  d="M293.6 200.1h0M297.6 190.1h0M282.6 189.3h0M318.2 193.8h0M317.2 185.9h0"/>
<path stroke="#fdc778" stroke-width="1.55" stroke-linecap="round" fill="none"  d="M294.0 199.7h0M315.3 185.9h0M318.5 196.9h0M315.6 188.5h0M296.9 180.3h0"/>
<path stroke="#bd1726" stroke-width="1.55" stroke-linecap="round" fill="none"  d="M318.4 193.0h0M315.8 185.4h0M318.2 194.0h0"/>
<path stroke="#e54e35" stroke-width="1.55" stroke-linecap="round" fill="none"  d="M317.2 185.3h0M314.6 188.4h0M278.2 184.4h0M319.1 191.2h0"/>
<path stroke="#a50026" stroke-width="1.55" stroke-linecap="round" fill="none"  d="M317.8 191.9h0"/>
<rect x="323.6" y="166.2" width="2.4" height="53.1" fill="url(#brd)"/>
<text x="328.0" y="170.5" font-size="3.6" fill="#666" text-anchor="start" >6</text>
<text x="328.0" y="178.3" font-size="3.6" fill="#666" text-anchor="start" >5</text>
<text x="328.0" y="186.2" font-size="3.6" fill="#666" text-anchor="start" >4</text>
<text x="328.0" y="194.1" font-size="3.6" fill="#666" text-anchor="start" >3</text>
<text x="328.0" y="201.9" font-size="3.6" fill="#666" text-anchor="start" >2</text>
<text x="328.0" y="209.8" font-size="3.6" fill="#666" text-anchor="start" >1</text>
<text x="328.0" y="217.6" font-size="3.6" fill="#666" text-anchor="start" >0</text>
<text x="295.3" y="164.9" font-size="3.6" fill="#444" text-anchor="middle" >SALL1</text>
<text x="295.3" y="222.9" font-size="3.6" fill="#666" text-anchor="middle" >UMAP1</text>
<text transform="translate(266.09999999999997,192.8) rotate(-90)" font-size="3.6" fill="#666" text-anchor="middle">UMAP2</text>
<!-- panel_c -->
<text x="328.3" y="19.0" font-size="16.5" fill="#000" text-anchor="start" >C</text>
<defs><linearGradient id="crd" x1="0" y1="1" x2="0" y2="0"><stop offset="0.0" stop-color="#313695"/><stop offset="0.1" stop-color="#4574b3"/><stop offset="0.2" stop-color="#74add1"/><stop offset="0.3" stop-color="#aad8e9"/><stop offset="0.4" stop-color="#e0f3f8"/><stop offset="0.5" stop-color="#fffebe"/><stop offset="0.6" stop-color="#fee090"/><stop offset="0.7" stop-color="#fdad60"/><stop offset="0.8" stop-color="#f46d43"/><stop offset="0.9" stop-color="#d62f27"/><stop offset="1.0" stop-color="#a50026"/></linearGradient></defs>
<rect x="420.2" y="10.5" width="207.6" height="15.7" rx="4" fill="#fdeeee" stroke="#777" stroke-width="0.6"/>
<text x="522.1" y="21.0" font-size="7.85" fill="#111" text-anchor="middle" >PCA: MG01, Mac1-3, Mac4 and fetal non-mac</text>
<text x="431.1" y="52.7" font-size="7.0" fill="#333" text-anchor="middle" font-weight="bold" >PC</text>
<text x="431.1" y="60.2" font-size="7.0" fill="#333" text-anchor="middle" font-weight="bold" >Analysis</text>
<rect x="375.3" y="66.2" width="107.3" height="104.0" fill="#fff" stroke="#444" stroke-width="0.7"/>
<path stroke="#e82020" stroke-width="1.3" stroke-linecap="round" fill="none"  d="M441.9 145.7h0M426.1 137.2h0M438.1 140.4h0M442.2 138.7h0M444.6 147.8h0M442.7 136.7h0M426.3 134.9h0M421.3 137.4h0M438.5 138.6h0M445.3 138.9h0M430.6 144.7h0M432.5 154.1h0M429.1 154.4h0M419.0 129.6h0M448.2 143.3h0M456.5 132.2h0M419.6 128.5h0M446.4 147.2h0M448.4 135.9h0M472.4 124.7h0M463.6 158.1h0M470.4 125.3h0M442.1 121.6h0M440.7 145.7h0M434.5 136.5h0M413.5 122.6h0M424.8 149.9h0M452.9 128.8h0M441.4 129.7h0M424.0 129.5h0M444.4 149.1h0M462.2 122.1h0M456.4 140.2h0M460.6 129.4h0M422.0 140.2h0M433.0 157.2h0M439.7 143.3h0M454.8 121.8h0M435.2 161.0h0M447.2 107.1h0M443.0 149.5h0M454.9 140.3h0M412.4 131.1h0M442.5 156.4h0M444.6 158.3h0M439.4 145.2h0M429.8 143.3h0M448.4 132.6h0M428.8 146.8h0M428.1 122.0h0M451.3 139.8h0M448.6 143.1h0M429.8 112.7h0M423.6 142.6h0M438.7 146.0h0M432.8 163.4h0M441.5 149.4h0M447.5 135.3h0M441.8 142.9h0M423.1 145.3h0M441.4 144.5h0M443.6 158.0h0M425.0 146.5h0M438.7 151.4h0M436.3 142.3h0M431.7 146.1h0M434.6 151.6h0M444.5 158.9h0M436.6 135.9h0M439.0 147.1h0M440.1 153.3h0M418.0 143.0h0M421.0 117.8h0M433.5 130.7h0M433.6 137.7h0M413.3 124.6h0M434.8 152.5h0M420.8 153.6h0M444.9 144.3h0M448.8 137.8h0M441.6 148.0h0M463.7 114.8h0M420.8 156.8h0M417.3 133.1h0M427.3 160.3h0M451.5 139.8h0M446.7 131.9h0M436.4 148.9h0M452.2 133.4h0M451.6 135.3h0M424.4 117.5h0M441.3 136.2h0M447.4 155.7h0M437.9 134.8h0M441.3 139.1h0M453.4 158.1h0M438.7 161.4h0M422.5 129.4h0M446.7 144.6h0M439.4 145.3h0M470.5 127.5h0M399.6 135.1h0M457.9 137.4h0M455.5 132.5h0M428.2 135.8h0M438.0 145.0h0M444.3 154.6h0M435.0 147.7h0M447.0 145.2h0M442.3 159.8h0M427.6 153.0h0M416.4 145.5h0M444.3 146.9h0M460.5 124.9h0M437.0 140.1h0M444.8 127.5h0M444.6 132.1h0M436.1 152.7h0M462.6 108.5h0M421.1 132.3h0M445.2 141.5h0M445.5 127.8h0M426.1 141.9h0M443.1 133.2h0M443.5 149.2h0M446.3 141.8h0M431.1 141.5h0M429.2 145.9h0M445.2 146.1h0M432.1 118.7h0M431.2 163.1h0M462.0 150.2h0M440.7 150.7h0M433.5 122.6h0M451.3 143.7h0M446.4 153.2h0M446.3 140.6h0M468.6 100.4h0M420.5 161.7h0M410.5 136.1h0M447.8 153.3h0M467.5 156.3h0M437.1 136.5h0M436.5 149.8h0M432.0 149.4h0M432.9 140.9h0M439.4 151.7h0M432.9 131.9h0M411.6 151.3h0M442.8 137.6h0M457.9 134.1h0M444.9 133.1h0M440.6 150.2h0M431.1 147.2h0M418.9 128.8h0M432.3 148.8h0M444.7 151.6h0M431.6 133.6h0M432.7 139.7h0M426.0 152.5h0M453.2 116.9h0M444.0 134.4h0M444.3 130.6h0M443.3 139.2h0M437.0 158.4h0M438.7 150.1h0M446.7 138.4h0M430.5 159.3h0M426.6 118.8h0M415.8 139.3h0M453.2 130.5h0M462.7 131.3h0M428.1 155.1h0M422.6 149.9h0M429.1 138.9h0M434.4 152.0h0M415.0 135.9h0M443.8 141.6h0M445.8 128.9h0M421.1 153.0h0M429.2 143.7h0M424.2 126.5h0M435.4 137.0h0M449.2 145.7h0M453.6 138.5h0M433.7 130.4h0M438.8 162.1h0M429.7 152.1h0M432.4 125.3h0M447.7 131.4h0M444.4 107.2h0M432.0 153.3h0M436.0 143.8h0M451.7 117.0h0M422.5 141.7h0M448.4 139.4h0M442.4 150.6h0M435.8 153.9h0M444.8 136.7h0M445.8 145.1h0M453.8 123.7h0M415.5 138.1h0M416.3 134.5h0M441.3 151.3h0M418.8 132.6h0M437.5 161.3h0M436.3 129.7h0M435.3 165.7h0M443.0 122.4h0M419.7 136.0h0M434.5 142.7h0M445.5 123.6h0M421.1 150.0h0M428.4 130.2h0M447.2 137.1h0M446.0 151.1h0M429.6 154.7h0M455.7 146.9h0M454.2 126.9h0M436.0 146.5h0M480.2 122.4h0M422.6 122.8h0M413.4 139.6h0M419.0 138.0h0M453.6 150.9h0M447.2 148.0h0M452.1 139.4h0M410.8 129.9h0M435.5 123.7h0M438.6 155.7h0M447.6 144.9h0M478.6 132.6h0M415.7 144.6h0M434.6 156.9h0M450.2 139.8h0M451.1 149.5h0M434.2 133.2h0M428.8 137.5h0M430.5 151.2h0M444.6 132.1h0M431.4 142.1h0M464.4 120.8h0M457.4 147.8h0M437.9 141.4h0M437.9 122.3h0M439.6 145.3h0M438.8 147.4h0M440.2 155.4h0M443.5 143.4h0M429.7 140.8h0M439.1 149.5h0M432.4 142.8h0M418.5 141.9h0M441.6 135.0h0M439.8 140.5h0M438.9 135.9h0M433.1 147.6h0M442.9 132.2h0M428.3 146.5h0M432.2 148.3h0M413.0 151.3h0M433.5 151.5h0M419.3 148.3h0M466.1 96.5h0M447.3 148.8h0M441.7 146.1h0M438.0 148.2h0M422.9 142.7h0M420.0 137.4h0M448.3 145.6h0M446.3 135.7h0M432.3 132.2h0M438.6 155.8h0M413.6 132.6h0M428.7 147.7h0M453.1 138.3h0M451.8 129.4h0M457.4 119.1h0M418.4 120.7h0M448.0 127.1h0M435.2 145.5h0M416.4 155.3h0M461.7 114.8h0M429.9 157.1h0M436.8 142.9h0M424.9 127.5h0M442.8 138.9h0M429.2 136.2h0M434.9 118.3h0M419.3 157.0h0M435.0 132.5h0M444.8 153.0h0M436.2 119.6h0M425.9 135.8h0M444.2 147.1h0M439.0 155.0h0M460.0 143.6h0M438.8 141.4h0M443.8 127.6h0M442.3 141.6h0M435.2 152.4h0M441.8 154.1h0M441.1 163.8h0M460.6 134.8h0M440.1 121.3h0M457.0 145.8h0M466.2 147.9h0M438.9 157.8h0M434.9 118.7h0M453.7 118.9h0M438.0 140.6h0M452.5 147.0h0M445.9 152.1h0M440.9 133.2h0M440.7 126.7h0M446.4 134.6h0M435.7 153.5h0M452.4 128.6h0M443.9 141.2h0M440.2 152.8h0M437.5 141.2h0M443.0 156.2h0M436.5 155.8h0M447.0 159.5h0M427.0 112.0h0M433.7 124.4h0M440.4 139.3h0M445.7 150.4h0M423.2 137.7h0M447.8 125.8h0M446.4 158.4h0M459.5 143.1h0M448.8 136.6h0M457.4 138.4h0M439.1 147.7h0M447.0 138.4h0M433.9 156.7h0M431.2 141.1h0M447.0 156.5h0M417.6 123.3h0M449.3 134.9h0M445.8 131.7h0M452.7 132.6h0M421.4 148.9h0M439.0 147.9h0M435.5 143.5h0M428.0 125.5h0M449.6 129.3h0M462.2 117.3h0M431.7 127.4h0M425.9 154.3h0M452.4 138.1h0M461.7 148.0h0M442.2 140.7h0M452.7 136.2h0M454.5 135.7h0M451.6 132.8h0M445.3 115.4h0M433.4 155.4h0M460.2 154.3h0M411.7 148.4h0M455.6 127.4h0M447.7 151.3h0M444.8 149.6h0M447.4 157.6h0M458.5 161.4h0M438.5 135.6h0M429.1 146.6h0M450.2 123.3h0M432.5 136.8h0M431.7 143.5h0M441.3 148.8h0M440.6 139.0h0M433.0 113.1h0M437.9 150.4h0M452.1 151.8h0M465.3 138.4h0M451.1 114.0h0M421.8 152.6h0M439.2 145.8h0M440.2 124.1h0M442.9 134.1h0M417.6 135.6h0M457.7 144.5h0M417.0 121.0h0M426.9 143.4h0M442.2 137.0h0M443.6 141.4h0M432.7 133.6h0M430.7 124.7h0M425.4 145.7h0M422.5 135.9h0M435.7 154.1h0M446.4 132.2h0M434.8 138.6h0M406.5 153.8h0M443.5 125.9h0M451.1 125.4h0M439.2 148.3h0M444.1 152.2h0M444.1 149.5h0M454.8 142.3h0M430.7 163.1h0M408.7 148.9h0M433.0 133.2h0M423.0 157.1h0M437.7 139.7h0M462.6 117.3h0M440.8 153.0h0M423.6 136.5h0M442.0 130.3h0M423.3 149.5h0M438.7 145.9h0M446.1 151.7h0M445.7 147.6h0M438.3 152.2h0M438.5 146.0h0M446.7 157.1h0M443.5 147.7h0M456.0 131.9h0M420.5 149.7h0M452.3 138.7h0M448.6 117.2h0M441.7 129.9h0M442.7 130.9h0M443.6 120.6h0M447.5 133.8h0M442.2 132.2h0M458.6 144.0h0M433.8 146.1h0M441.1 150.5h0M434.0 146.3h0M472.2 106.6h0M439.9 155.5h0M461.9 136.4h0M454.5 141.4h0M428.0 130.1h0M430.7 136.9h0M445.2 133.7h0M454.0 125.6h0M444.1 148.5h0M438.4 143.3h0M437.2 158.5h0M433.9 145.7h0M441.3 141.4h0M473.7 126.6h0M447.2 138.2h0M430.9 117.9h0M414.6 135.9h0M425.8 128.2h0M420.8 132.8h0M432.4 137.8h0M430.6 150.3h0M444.3 147.5h0M453.8 124.8h0M452.1 141.0h0M425.4 127.5h0M438.2 141.7h0M441.4 168.7h0M442.1 141.8h0M418.5 149.3h0M438.2 156.3h0M443.7 168.8h0M448.7 138.0h0M424.9 163.0h0M417.4 126.7h0M432.3 120.5h0M451.2 155.1h0M432.5 125.4h0M443.6 154.5h0M438.0 156.0h0M444.8 132.8h0M414.2 129.8h0M441.1 147.4h0M451.4 132.7h0M451.3 137.6h0M431.0 153.5h0M421.9 149.8h0M423.0 141.4h0M431.0 127.5h0M429.2 143.9h0M442.7 146.2h0M427.5 136.2h0M464.4 139.5h0M437.5 156.1h0M425.2 120.6h0M451.1 151.9h0M439.0 112.5h0M443.2 155.2h0M430.0 142.9h0M450.7 149.7h0M445.2 121.2h0M440.9 152.6h0M418.4 147.2h0M437.8 153.5h0M430.4 148.7h0M470.1 112.1h0M451.5 154.0h0M430.3 160.2h0M434.3 126.4h0M476.9 130.1h0M462.2 137.3h0M457.9 120.4h0M431.7 146.1h0M432.5 122.0h0M425.0 147.6h0M454.0 136.7h0M436.4 141.9h0M450.1 133.9h0M450.6 137.5h0M438.7 148.8h0M456.5 151.4h0M441.4 152.5h0M449.2 140.4h0M455.6 139.6h0M453.0 140.8h0M436.2 150.8h0M431.3 144.9h0M441.3 144.4h0M439.4 130.5h0M438.6 163.3h0M448.1 140.1h0M420.7 139.5h0M446.0 150.3h0M439.7 139.0h0M427.5 153.6h0M421.4 123.9h0M446.0 148.7h0M462.7 126.0h0M433.7 142.5h0M415.2 133.9h0M441.3 143.3h0M445.8 154.0h0M441.0 152.8h0M438.1 144.1h0M449.1 160.4h0M435.4 163.6h0M422.4 138.3h0M428.7 149.0h0M431.4 157.1h0M446.7 138.6h0M429.2 135.7h0M442.0 146.3h0M435.3 132.1h0M437.5 147.9h0M437.2 146.5h0M451.0 156.3h0M451.2 137.0h0M434.4 134.4h0M450.0 140.0h0M452.0 155.4h0M438.8 137.4h0M453.9 139.2h0M461.3 133.6h0M439.5 143.9h0M428.7 143.3h0M434.2 140.9h0M422.8 126.4h0M480.6 117.9h0M447.9 148.6h0M426.9 149.8h0M439.8 124.9h0M415.3 120.2h0M458.6 108.9h0M441.5 150.9h0M434.4 159.2h0M431.3 149.6h0M439.0 115.4h0M420.1 134.7h0M432.1 153.7h0M436.1 135.4h0M431.7 139.7h0M454.5 136.2h0M417.6 137.1h0M441.3 143.6h0M449.2 156.7h0M424.6 129.5h0M440.0 125.6h0M439.6 153.0h0M449.3 144.2h0M450.0 158.4h0M444.9 154.6h0M437.0 155.4h0M444.9 138.5h0M447.5 147.1h0M428.5 125.0h0M459.1 124.9h0M459.6 127.9h0M442.4 160.2h0M449.8 150.6h0M451.5 129.6h0M435.9 128.3h0M439.6 149.9h0M449.5 134.0h0M458.4 138.6h0M452.5 160.4h0M437.5 121.8h0M450.4 124.9h0M401.8 133.5h0M422.5 145.5h0M429.8 139.5h0M434.1 147.7h0M415.6 154.9h0M446.7 146.0h0M446.8 140.5h0M445.0 146.3h0M454.6 123.2h0M440.2 146.0h0M434.0 147.2h0M433.0 167.5h0M433.3 125.7h0M446.5 144.2h0M433.1 145.4h0M437.3 152.6h0M450.2 147.3h0M450.2 163.1h0M466.2 142.4h0M434.6 133.1h0M443.4 140.8h0M405.9 126.8h0M440.7 132.6h0M454.7 119.9h0M450.1 144.9h0M433.3 134.9h0M436.9 124.5h0M418.2 135.0h0M439.8 130.0h0M429.1 130.4h0M463.2 150.8h0M455.5 117.5h0M399.1 142.2h0M423.8 125.5h0M439.5 146.8h0M419.8 137.3h0M448.7 144.8h0M433.8 139.9h0M433.3 156.1h0M431.4 123.2h0M429.2 126.9h0M442.1 168.5h0M468.8 136.6h0M447.0 124.5h0M439.8 145.6h0M457.2 148.3h0M457.4 149.0h0M463.5 137.1h0M439.6 128.4h0M448.4 152.3h0M445.1 145.2h0M437.1 161.2h0M452.4 141.6h0M425.5 119.8h0M461.5 129.9h0M448.9 148.0h0M419.5 117.3h0M427.8 144.3h0M429.1 125.0h0M441.5 126.9h0M432.7 124.7h0M440.9 157.5h0M435.4 131.2h0M434.0 126.3h0M421.5 128.2h0M440.9 148.9h0M450.6 149.4h0M429.9 129.8h0M443.0 158.2h0M434.7 116.8h0M433.1 129.1h0M443.0 163.9h0M438.4 126.3h0M436.7 152.9h0M438.9 129.2h0M456.7 132.4h0M428.1 113.8h0M433.6 144.3h0M437.9 142.7h0M451.6 162.4h0M461.9 125.8h0M446.9 142.5h0M439.5 140.3h0M434.2 144.4h0M429.6 157.3h0M442.4 137.9h0M449.6 136.9h0M434.4 136.8h0M449.3 119.1h0M438.0 149.1h0M430.3 146.8h0M409.1 129.5h0M445.1 131.7h0M425.6 141.6h0M449.9 168.2h0M438.0 149.0h0M432.7 140.7h0M433.8 152.9h0M440.2 153.5h0M427.5 142.6h0M427.3 150.5h0M441.8 154.8h0M454.4 135.6h0"/>
<path stroke="#1515e6" stroke-width="1.3" stroke-linecap="round" fill="none"  d="M382.7 131.0h0M392.4 127.3h0M385.5 135.6h0M385.5 135.3h0M386.9 138.5h0M382.9 133.4h0M387.8 137.1h0M384.3 131.0h0M402.4 127.6h0M397.8 127.0h0M389.3 129.1h0M384.0 128.8h0M385.5 126.4h0M394.2 128.8h0M386.3 120.3h0M385.3 132.6h0M389.5 131.6h0M391.0 132.1h0M381.5 131.2h0M389.9 130.8h0M386.5 127.6h0M384.5 133.4h0M400.1 130.7h0M380.6 127.9h0M387.8 138.1h0M405.2 131.4h0M383.5 127.4h0M392.0 137.4h0M391.8 134.4h0M390.1 137.4h0M386.7 127.4h0M387.9 131.8h0M398.7 129.8h0M387.5 136.7h0M389.3 132.4h0M390.9 138.4h0M386.3 133.0h0M389.8 130.4h0M387.6 124.6h0M391.2 124.0h0M384.8 133.0h0M399.8 121.8h0M390.5 132.9h0M383.4 139.0h0M387.4 135.5h0M391.4 127.6h0M386.9 136.8h0M382.2 132.1h0M386.9 131.3h0M388.5 131.8h0M392.5 140.2h0M389.1 130.1h0M396.0 121.7h0M384.3 134.9h0M379.2 134.5h0M390.2 137.0h0M386.7 141.9h0M384.2 125.8h0M388.4 128.8h0M402.4 122.6h0M393.6 125.9h0M388.5 129.4h0M381.8 137.2h0M396.1 137.6h0M392.9 133.9h0M385.1 137.7h0M385.1 129.9h0M385.4 133.6h0M390.5 130.1h0M389.0 133.2h0M399.5 128.9h0M387.5 131.3h0M390.8 128.4h0M393.9 135.7h0M392.9 143.1h0M388.3 128.8h0M387.8 136.8h0M387.9 131.4h0M385.4 133.2h0M383.2 135.2h0M387.8 131.8h0M397.9 126.8h0M398.8 131.7h0M398.9 123.4h0M393.1 126.5h0M389.0 138.3h0M402.1 135.2h0M388.5 129.2h0M386.4 131.0h0M391.4 130.0h0M385.6 130.9h0M404.2 119.6h0M385.6 132.7h0M396.8 120.0h0M394.3 136.6h0M405.7 128.9h0M387.9 120.6h0M387.3 142.9h0M400.6 120.6h0M381.4 134.9h0M400.2 123.3h0M385.1 137.4h0M396.7 129.6h0M392.7 139.4h0M382.2 128.3h0M385.8 128.3h0M390.2 129.6h0M383.2 129.4h0M390.6 136.1h0M394.7 127.8h0M387.7 136.5h0M390.1 132.8h0M387.1 140.6h0M405.5 129.5h0M387.7 134.7h0M406.1 130.2h0M391.9 130.8h0M393.7 132.5h0M400.4 129.4h0M385.8 133.0h0M389.4 128.7h0M385.1 123.9h0M387.8 135.5h0M386.5 135.8h0M384.9 132.0h0M402.9 132.8h0M385.4 133.0h0M388.4 137.0h0M393.8 128.2h0M409.0 135.2h0M391.0 127.2h0M384.1 132.9h0M380.6 129.6h0M391.0 133.9h0M390.2 124.2h0M379.3 133.8h0M399.5 129.6h0M386.7 137.7h0M386.0 131.6h0M387.3 132.0h0M390.0 139.4h0M405.7 128.4h0M393.9 130.3h0M385.2 139.3h0M383.0 136.9h0M396.2 131.8h0M399.9 130.2h0M382.0 124.1h0M383.7 145.8h0M382.5 128.0h0M395.4 132.6h0M386.5 133.1h0M380.6 125.1h0M387.8 137.6h0M387.0 134.2h0M387.6 145.6h0M391.7 136.9h0M386.1 123.4h0M399.8 130.2h0M388.3 133.2h0M400.0 126.7h0M389.9 133.0h0M390.8 130.4h0M389.5 131.1h0M387.1 129.7h0M390.8 128.9h0M390.2 134.5h0M386.5 142.7h0M401.8 130.4h0M382.3 132.8h0M386.4 133.6h0M387.4 133.8h0M392.3 126.0h0M392.0 135.3h0M386.3 130.7h0M387.5 127.2h0M383.4 128.6h0M393.3 132.3h0M386.7 133.1h0M389.9 134.1h0M386.3 133.6h0M383.8 136.1h0M389.4 135.3h0M387.8 137.7h0M390.2 137.5h0M387.5 131.4h0M383.9 126.7h0M390.6 138.8h0M389.4 138.3h0M392.5 127.6h0M384.7 132.5h0M385.2 130.9h0M385.1 137.0h0M378.8 129.8h0M384.9 134.2h0M388.9 127.7h0M387.3 129.8h0M394.8 139.7h0M391.4 132.8h0M384.3 133.0h0M390.7 131.3h0M387.7 135.6h0M383.8 140.4h0M397.2 139.8h0M398.7 130.2h0M395.9 133.5h0M378.8 134.1h0M405.3 129.0h0M392.4 129.3h0M386.2 138.5h0M385.3 136.6h0M377.2 129.0h0M390.7 127.7h0M385.2 133.2h0M392.6 133.1h0M394.8 133.6h0M386.6 125.2h0M383.6 134.1h0M386.4 123.7h0M386.3 134.5h0M393.9 138.1h0M407.4 128.8h0M388.0 133.8h0M386.4 128.1h0M386.3 136.3h0M383.3 136.4h0M389.9 128.9h0M388.9 131.7h0M387.4 134.0h0M400.7 127.7h0M405.8 133.8h0M383.1 131.0h0M396.3 130.7h0M386.6 135.8h0M385.9 134.3h0M379.3 140.5h0M385.1 131.7h0M395.2 126.6h0M402.7 127.8h0M389.7 135.4h0M384.2 131.2h0M389.3 134.0h0M378.4 127.3h0M386.8 125.7h0M408.9 134.6h0M390.9 134.7h0M397.3 133.2h0M393.7 131.1h0M409.9 122.1h0M384.1 135.9h0M383.7 135.1h0M394.7 125.2h0M388.0 130.3h0M394.3 133.5h0M385.1 121.4h0M392.3 131.2h0M381.5 142.9h0M389.1 130.6h0M388.1 132.6h0M387.0 133.5h0M386.3 132.5h0M392.8 132.5h0M388.0 127.3h0M389.5 131.7h0M388.7 129.2h0M387.5 136.6h0M385.8 140.3h0M389.3 137.6h0M388.6 130.9h0M386.7 125.3h0M392.4 124.7h0M387.8 128.4h0M386.4 127.7h0M388.9 121.8h0M399.0 129.3h0M384.7 125.4h0M383.9 135.1h0M387.6 139.3h0M394.6 128.8h0M398.2 123.1h0M384.2 130.6h0M387.4 128.9h0M388.7 138.4h0M386.7 132.5h0M388.6 134.9h0M386.3 130.1h0M391.7 125.5h0M402.7 129.3h0M390.9 134.0h0M382.5 137.0h0M384.4 136.2h0M384.4 131.2h0M384.8 122.1h0M397.9 131.9h0M386.6 136.3h0M389.9 126.5h0M391.0 128.7h0M384.2 135.8h0M392.3 132.9h0M400.6 132.0h0M386.9 135.9h0M400.9 130.1h0M385.2 136.4h0M382.1 132.0h0M391.7 133.4h0M390.8 132.5h0M404.3 125.3h0M391.0 124.3h0M388.2 135.4h0M391.7 134.3h0M388.7 125.1h0M383.9 135.8h0M386.5 132.2h0M390.6 136.0h0M383.6 127.2h0M399.5 134.3h0M404.6 133.5h0M391.4 126.5h0M388.6 141.0h0M382.4 132.2h0M397.1 129.6h0M400.2 130.0h0M389.2 133.6h0M386.9 132.2h0M387.1 136.7h0M386.4 134.9h0M399.9 135.8h0M389.3 130.4h0M387.3 131.0h0M388.4 129.6h0M400.9 128.9h0M383.3 125.5h0M382.5 130.7h0M385.4 128.8h0M383.9 132.8h0M385.8 134.2h0M391.8 126.6h0M401.6 132.7h0M385.8 136.1h0M389.1 128.2h0M386.9 131.5h0M386.8 130.0h0M383.8 141.5h0M390.6 141.1h0M384.6 134.0h0M389.1 136.4h0M384.5 133.1h0M399.0 133.9h0M383.9 133.0h0M390.6 133.1h0M402.1 127.1h0M381.8 136.5h0M386.4 129.8h0M385.0 131.6h0M385.9 121.0h0M398.5 131.3h0M386.5 126.5h0M384.3 136.8h0M384.0 136.4h0M398.3 126.8h0M383.0 135.0h0M390.3 136.2h0M382.9 131.7h0M397.5 125.9h0M392.3 127.1h0M394.4 134.2h0M383.0 129.0h0M401.3 124.2h0M387.4 136.8h0M383.6 130.7h0M384.9 141.3h0M402.1 125.5h0M387.0 132.1h0M382.8 136.9h0M393.5 129.4h0M394.0 140.2h0M383.1 135.6h0M387.4 138.9h0M387.6 138.3h0M391.1 129.9h0M391.6 132.9h0M384.4 135.9h0M379.1 130.8h0M386.5 130.9h0M393.1 132.7h0M391.3 125.6h0M383.7 139.9h0M383.3 133.0h0M383.9 127.8h0M389.3 140.3h0M392.1 125.1h0M393.4 136.1h0M388.0 134.7h0M390.8 126.8h0M383.3 133.3h0M389.0 135.8h0M387.4 128.9h0M398.0 126.9h0M402.4 126.3h0M378.1 129.1h0M390.3 130.7h0M385.2 137.4h0M390.3 133.2h0M383.4 133.6h0M388.8 136.1h0M390.9 135.7h0M398.7 130.4h0M390.8 131.6h0M386.6 129.1h0M388.8 134.8h0M384.5 127.3h0M388.4 132.0h0M393.5 133.1h0M400.3 129.2h0M389.5 132.3h0M387.6 130.6h0M385.9 126.6h0M393.8 127.8h0M388.4 131.2h0M404.8 131.8h0M400.1 130.0h0M384.0 128.0h0M391.3 135.2h0M397.3 132.8h0M388.6 132.6h0M389.0 133.1h0M393.8 132.9h0M386.3 136.6h0M393.6 131.1h0M396.2 123.7h0M388.8 135.7h0M391.7 129.5h0M385.9 122.8h0M394.2 125.4h0M395.8 122.7h0M386.5 131.2h0M385.7 131.9h0M386.5 127.1h0M386.7 130.5h0M397.3 130.2h0M384.6 130.7h0M407.1 128.8h0M384.6 134.1h0M396.8 122.7h0M388.7 137.7h0M385.7 129.6h0M385.7 127.1h0M389.4 129.5h0M381.7 132.6h0M391.5 123.4h0M389.2 129.0h0M389.2 133.1h0M396.0 129.3h0M384.1 137.4h0M390.9 137.8h0M389.4 127.6h0M389.8 128.4h0M388.4 136.9h0M385.7 135.4h0M383.8 140.2h0M388.5 125.4h0M396.6 127.6h0M398.7 127.8h0M387.7 126.0h0M381.9 130.4h0M391.1 131.2h0M383.6 129.7h0M388.4 133.8h0M384.4 129.6h0M387.0 136.9h0M392.4 136.0h0M387.5 132.9h0M388.1 131.6h0M392.4 133.9h0M400.9 130.1h0M387.8 130.3h0M388.4 136.3h0M387.4 133.0h0M381.7 136.1h0M396.2 127.2h0M381.1 135.8h0M405.1 129.6h0M392.8 133.3h0M386.6 133.7h0M388.5 132.5h0M386.1 130.8h0M382.8 129.2h0M388.8 124.7h0M392.1 126.3h0M385.0 132.1h0M389.9 128.1h0M385.1 137.7h0M402.3 126.7h0M404.5 125.4h0M391.0 125.4h0M391.5 130.0h0M395.5 126.1h0M385.6 128.7h0M389.5 131.1h0M397.1 129.4h0M385.4 123.7h0M391.8 132.7h0M386.7 130.8h0M388.2 140.1h0M391.9 128.5h0M386.2 138.0h0M390.0 142.7h0M390.5 137.4h0M383.1 129.8h0M390.3 130.4h0M397.9 132.0h0M386.4 137.4h0M385.1 135.6h0M389.2 131.1h0M406.8 132.4h0M394.5 132.7h0M380.2 130.7h0M388.0 139.2h0M400.9 121.5h0M392.1 135.3h0M405.7 136.0h0M388.0 136.3h0M401.1 130.1h0M383.0 128.3h0M389.8 130.1h0M394.0 129.4h0M399.5 128.4h0M390.9 129.5h0M386.6 135.5h0M386.3 135.0h0M389.5 126.4h0M382.9 132.9h0M385.2 129.3h0M383.8 129.5h0M386.1 133.9h0M381.1 138.9h0M382.1 126.2h0M391.0 134.2h0M389.5 127.6h0M393.3 126.2h0M390.4 137.1h0M386.5 122.4h0M385.2 133.4h0M391.3 125.5h0M383.9 128.0h0M385.7 133.2h0M383.5 130.0h0M392.5 131.1h0M407.0 129.3h0M388.8 128.1h0M389.4 127.8h0M394.1 125.1h0M404.4 127.1h0M388.0 130.3h0M398.3 124.5h0M388.0 130.8h0M381.7 128.3h0M380.5 133.7h0M387.0 136.7h0M384.4 125.2h0M388.4 136.7h0M384.1 130.8h0M389.4 128.0h0M397.8 121.9h0M390.2 123.6h0M394.1 131.2h0M391.8 134.0h0M386.2 130.5h0M386.2 135.6h0M383.6 135.4h0M387.2 129.2h0M392.2 125.3h0M386.8 133.1h0M388.6 129.7h0M393.3 134.7h0M388.4 135.9h0M384.2 134.5h0M399.2 127.3h0M387.4 129.6h0M388.0 131.8h0M388.6 133.0h0M393.3 133.0h0M388.1 133.3h0M384.2 135.0h0M387.4 135.6h0M387.5 124.5h0M383.4 129.7h0M397.5 136.3h0M382.2 132.7h0M389.2 133.4h0M385.7 129.8h0M384.6 131.3h0M386.2 123.2h0M390.2 133.1h0M406.2 134.5h0M383.9 124.0h0M385.7 133.7h0M390.4 131.6h0M389.8 131.6h0M385.5 129.1h0M404.1 127.2h0M390.2 134.8h0M383.1 134.2h0M389.9 131.6h0M382.1 131.5h0M386.0 132.9h0M397.9 123.7h0M386.5 134.6h0M388.8 133.9h0M385.4 129.9h0M385.6 135.6h0M402.4 126.3h0M387.7 130.8h0M400.0 132.6h0M390.7 139.3h0M402.8 129.0h0M391.5 127.5h0M388.7 136.1h0M385.3 131.8h0M390.4 126.7h0M387.2 130.5h0M383.7 125.7h0M384.4 132.5h0M398.3 124.8h0M405.1 130.8h0M388.6 139.8h0M390.8 128.8h0M389.5 126.0h0M388.7 135.4h0M398.9 122.9h0M393.3 129.6h0M387.7 130.2h0M394.8 129.2h0M390.4 123.9h0M389.0 135.1h0M390.6 123.9h0M393.7 132.3h0M390.3 128.7h0M394.5 133.0h0M389.8 131.9h0M404.0 127.0h0M389.5 121.8h0M393.8 132.2h0M385.4 133.5h0M386.8 130.8h0M392.1 130.3h0M389.8 133.5h0M382.9 132.3h0M391.9 130.4h0M388.9 129.6h0M386.9 138.4h0M387.8 134.1h0M405.7 127.8h0M391.9 129.6h0M384.5 132.8h0M405.5 126.3h0M388.5 135.4h0M390.2 128.1h0M386.4 133.9h0M404.8 129.7h0M388.9 136.9h0M387.7 133.6h0M389.1 135.0h0M385.9 130.3h0M389.0 131.7h0M388.6 138.8h0M394.1 133.0h0M385.5 135.5h0M389.5 137.0h0M390.6 132.5h0M387.7 132.4h0M391.8 127.7h0M382.6 138.7h0M387.5 124.9h0M388.6 133.0h0M390.3 132.0h0M387.5 138.7h0M390.0 136.9h0M392.4 136.0h0M386.3 128.5h0M390.7 131.6h0M389.3 137.9h0M388.2 131.7h0M391.4 132.3h0M390.2 134.7h0M386.7 129.3h0M387.9 133.3h0M390.5 129.9h0M392.3 126.6h0M389.6 128.1h0M388.9 139.5h0M383.9 131.2h0M383.5 133.7h0M386.2 139.4h0M381.2 134.8h0M387.4 127.3h0M381.8 136.6h0M386.0 129.6h0M412.6 131.1h0M387.5 141.2h0M388.8 129.4h0M384.4 141.2h0M383.5 133.0h0M390.9 130.9h0M396.5 135.5h0M405.4 125.4h0M389.6 129.0h0M384.8 141.1h0M387.0 129.6h0M387.0 138.0h0M385.5 139.8h0M387.0 135.0h0M390.1 145.2h0M384.6 127.1h0M390.6 139.7h0M390.3 132.9h0M391.2 136.8h0M386.7 137.8h0M392.7 130.5h0M385.8 130.0h0M409.2 126.4h0M407.8 131.0h0M380.6 135.2h0M390.4 130.8h0M402.9 125.6h0M395.3 134.5h0M392.1 136.6h0M387.3 137.5h0M388.7 133.7h0M402.8 132.5h0M390.9 131.7h0M396.3 136.3h0M388.0 138.9h0M395.5 127.3h0M391.6 133.6h0M386.8 133.1h0M395.0 128.7h0M389.3 136.7h0M388.4 133.3h0M385.4 135.4h0M382.5 132.8h0M383.9 131.2h0M389.8 131.5h0M379.9 139.3h0M385.5 134.1h0M388.0 133.9h0M387.4 132.5h0M390.5 130.3h0M387.2 126.0h0"/>
<path stroke="#1f9a1f" stroke-width="1.3" stroke-linecap="round" fill="none"  d="M421.7 115.4h0M419.6 120.7h0M418.8 104.6h0M423.5 129.8h0M403.0 123.3h0M433.4 110.2h0M409.1 129.3h0M424.9 109.6h0M418.4 132.7h0M429.2 115.4h0M415.6 123.5h0M419.6 137.8h0M426.2 115.9h0M417.1 118.1h0M416.1 123.6h0M429.2 112.5h0M423.4 114.0h0M418.2 119.6h0M415.8 120.7h0M411.5 127.9h0M432.2 110.6h0M421.1 112.1h0M412.6 91.8h0M413.1 117.1h0M421.0 108.9h0M415.5 112.5h0M434.0 94.3h0M415.1 106.0h0M412.7 109.8h0M410.8 133.0h0M402.8 114.9h0M412.6 107.8h0M429.2 96.6h0M430.4 105.5h0M432.7 128.4h0M415.7 128.7h0M418.4 119.0h0M412.8 126.9h0M419.7 103.6h0M429.2 110.1h0M412.3 113.5h0M413.7 117.5h0M434.2 112.1h0M422.9 117.1h0M423.2 120.1h0M421.3 123.3h0M415.9 109.4h0M423.7 116.9h0M428.3 122.6h0M422.8 110.7h0M419.8 128.2h0M413.0 111.5h0M426.9 119.3h0M418.3 127.1h0M412.8 122.4h0M423.8 113.6h0M434.5 107.4h0M418.5 112.4h0M431.7 115.2h0M418.4 125.2h0M419.6 117.9h0M425.5 100.3h0M418.0 116.7h0M414.2 114.6h0M422.9 109.3h0M425.1 130.7h0M408.6 99.3h0M423.6 104.6h0M418.8 122.5h0M428.7 123.7h0M411.8 116.6h0M424.9 133.5h0M415.4 123.0h0M424.5 110.1h0M432.3 117.6h0M421.7 113.3h0M427.6 117.1h0M418.4 131.6h0M410.1 123.0h0M425.8 119.7h0M427.9 112.3h0M437.7 102.8h0M430.4 119.1h0M408.6 111.8h0M428.6 119.9h0M427.6 112.1h0M413.7 119.0h0M413.5 125.1h0M421.6 133.6h0M421.7 122.8h0M425.0 107.0h0M418.0 98.8h0M410.3 116.3h0M417.2 134.9h0M430.0 128.7h0M435.2 123.0h0M427.8 105.6h0M410.8 104.9h0M409.2 130.8h0M408.9 117.9h0M424.3 125.7h0M407.0 105.6h0M425.5 125.6h0M431.0 116.5h0M402.9 108.0h0M423.7 113.2h0M428.1 126.1h0M413.4 101.6h0M429.9 127.4h0M419.0 122.1h0M424.8 130.1h0M424.3 113.9h0M423.1 90.6h0M422.8 120.0h0M423.3 101.6h0M412.4 121.4h0M419.8 113.0h0M427.3 119.5h0M419.0 121.4h0M421.1 128.2h0M418.0 117.5h0M414.1 111.4h0M426.0 113.6h0M415.4 125.6h0M411.5 102.5h0M428.3 118.8h0M417.9 119.9h0M424.9 101.7h0M421.2 123.7h0M435.7 113.0h0M420.7 123.8h0M413.0 119.3h0M425.6 134.5h0M431.5 118.8h0M424.9 119.5h0M410.5 107.9h0M417.9 126.0h0M418.8 108.6h0M429.8 108.3h0M420.2 117.0h0M423.6 124.1h0M423.5 120.5h0M436.5 111.7h0M425.6 117.8h0M430.5 141.6h0M424.7 124.2h0M423.9 113.2h0M423.5 113.5h0M433.9 121.0h0M416.1 122.5h0M436.0 126.7h0M422.0 130.5h0M430.1 110.4h0M420.1 104.5h0M425.0 113.4h0M421.0 115.2h0M412.0 125.0h0M416.4 136.0h0M427.6 117.7h0M429.4 111.8h0M416.8 134.6h0M427.7 125.9h0M415.8 129.0h0M410.6 106.9h0M431.4 108.8h0M422.9 112.1h0M435.3 129.4h0M436.4 128.1h0M430.3 116.4h0M414.5 135.8h0M434.0 111.1h0M421.7 123.0h0M421.1 124.2h0M432.7 113.3h0M420.2 141.7h0M422.7 101.0h0M430.6 121.2h0M426.7 125.6h0M429.9 118.7h0M426.1 108.3h0M429.8 110.8h0M435.7 119.1h0M423.0 130.8h0M415.6 104.8h0M431.9 116.8h0M420.8 118.7h0M413.6 119.3h0M412.3 120.7h0M436.0 131.9h0M419.8 112.0h0M430.8 119.7h0M431.4 127.6h0M429.8 106.3h0M426.2 123.5h0M413.8 116.7h0M417.4 118.0h0M414.5 125.3h0M434.4 125.9h0M424.6 110.2h0M415.4 123.2h0M431.9 114.9h0M436.0 127.7h0M416.3 127.0h0M397.1 108.6h0M417.6 113.6h0M416.7 122.0h0M420.1 100.5h0M420.4 117.4h0M417.7 115.9h0M431.6 96.2h0M420.6 119.0h0M425.5 125.1h0M423.1 110.9h0M438.8 116.1h0M421.0 120.9h0M407.2 108.0h0M415.8 104.7h0M420.2 113.2h0M418.4 119.8h0M423.9 115.6h0M426.7 117.6h0M423.3 138.5h0M411.4 127.4h0M424.2 131.8h0M421.0 119.0h0M428.0 121.1h0M426.9 116.4h0M417.5 123.2h0M418.0 128.5h0M411.6 105.9h0M424.8 109.2h0M423.4 120.4h0M418.7 113.2h0M425.3 109.6h0M416.0 119.4h0M409.8 126.9h0M425.1 122.6h0M415.5 113.5h0M424.9 123.7h0M411.3 114.3h0"/>
<path stroke="#a040e8" stroke-width="1.3" stroke-linecap="round" fill="none"  d="M428.7 87.5h0M424.8 87.1h0M442.3 86.7h0M442.6 95.4h0M429.2 102.8h0M429.6 108.5h0M430.4 93.7h0M422.3 88.0h0M436.7 112.0h0M436.7 101.2h0M427.0 81.7h0M442.6 93.1h0M425.1 113.0h0M420.6 108.7h0M430.2 102.5h0M428.3 104.0h0M424.1 90.4h0M420.9 107.3h0M419.6 103.9h0M448.6 101.8h0M434.0 107.2h0M427.5 97.6h0M426.0 96.7h0M428.0 97.3h0M427.3 86.5h0M425.0 95.0h0M434.0 110.9h0M426.5 91.6h0M432.8 95.7h0M421.3 106.0h0M400.0 101.3h0M435.3 85.6h0M426.8 112.2h0M412.0 112.0h0M443.2 98.7h0M428.6 95.9h0M441.4 92.6h0M435.8 109.7h0M434.7 96.9h0M416.7 89.3h0M418.5 107.2h0M424.3 103.4h0M433.9 85.2h0M416.8 84.5h0M415.7 119.1h0M435.2 101.5h0M416.6 78.3h0M427.0 103.9h0M422.8 102.9h0M440.0 94.7h0M427.6 92.1h0M429.9 114.7h0M420.5 90.9h0M417.5 111.0h0M430.7 100.7h0M432.4 117.0h0M422.2 96.4h0M436.5 101.0h0M460.1 70.9h0M419.6 103.7h0M407.9 83.5h0"/>
<text x="428.5" y="177.0" font-size="6.8" fill="#333" text-anchor="middle" >PC1</text>
<text transform="translate(373.2,120.7) rotate(-90)" font-size="6.8" fill="#333" text-anchor="middle">PC2</text>
<circle cx="399.9" cy="182.7" r="1.5" fill="#1f9a1f"/>
<text x="402.5" y="184.4" font-size="4.9" fill="#1f9a1f" text-anchor="start" font-weight="bold" >Mac 1(2)3</text>
<circle cx="435.6" cy="182.7" r="1.5" fill="#1515e6"/>
<text x="438.2" y="184.4" font-size="4.9" fill="#1515e6" text-anchor="start" font-weight="bold" >MG01</text>
<circle cx="399.9" cy="190.1" r="1.5" fill="#a040e8"/>
<text x="402.5" y="191.8" font-size="4.9" fill="#a040e8" text-anchor="start" font-weight="bold" >Mac 4</text>
<circle cx="435.6" cy="190.1" r="1.5" fill="#e82020"/>
<text x="438.2" y="191.8" font-size="4.9" fill="#e82020" text-anchor="start" font-weight="bold" >Fetal non-mac</text>
<text x="590.5" y="38.1" font-size="6.9" fill="#333" text-anchor="middle" font-weight="bold" >Mac 1-3 score</text>
<rect x="511.1" y="45.6" width="57.9" height="61.9" fill="#fff" stroke="#aaa" stroke-width="0.5"/>
<path d="M511.1 45.6V107.5H569.0" stroke="#555" stroke-width="0.5" fill="none"/>
<path stroke="#f88c51" stroke-width="1.25" stroke-linecap="round" fill="none"  d="M541.3 71.9h0M537.9 60.1h0M521.5 82.8h0M515.4 84.0h0M516.4 82.6h0M545.0 60.8h0M515.7 83.2h0M537.0 77.1h0M518.6 83.0h0M514.9 84.9h0M518.4 85.6h0M517.0 79.9h0M532.2 70.0h0M546.8 67.5h0M516.1 84.9h0M521.7 85.4h0M519.0 86.9h0M521.8 78.5h0M516.9 82.2h0M535.7 70.5h0M533.1 72.9h0M524.8 86.1h0M516.2 83.4h0M519.1 86.8h0M523.0 80.5h0M515.7 86.6h0M536.1 68.4h0M516.8 85.5h0M547.3 56.6h0M517.6 80.4h0M517.3 85.6h0M520.7 87.3h0M516.7 82.5h0M528.0 82.3h0M536.1 73.8h0M519.5 80.5h0M517.1 83.6h0M517.2 89.3h0M517.8 86.3h0M519.4 84.8h0M522.8 82.7h0M518.8 84.3h0M521.3 82.8h0M521.9 79.4h0M515.6 81.6h0M518.8 84.5h0M524.0 84.9h0M542.4 65.5h0M518.9 83.8h0M517.9 88.7h0M526.1 83.5h0M519.6 84.0h0M516.7 86.7h0M520.4 82.0h0M524.2 84.5h0M519.6 87.0h0M517.8 87.7h0M516.7 83.7h0M520.0 88.4h0M519.3 87.4h0M514.8 83.4h0M514.4 83.5h0M517.8 86.5h0M516.4 87.1h0M519.7 84.7h0M527.5 83.4h0M519.9 89.3h0M514.4 85.6h0M544.7 66.2h0M535.7 74.6h0M515.9 88.3h0M518.2 85.1h0M519.6 86.3h0M542.1 66.1h0M521.8 81.5h0M518.8 84.8h0M519.1 87.2h0M538.2 66.4h0M519.5 85.7h0M546.0 63.2h0M521.1 84.3h0M532.2 78.9h0M518.1 87.6h0M528.7 84.0h0M517.4 90.3h0M522.5 84.3h0M515.7 82.5h0M515.7 86.6h0M531.0 78.4h0M514.7 82.9h0M515.9 83.9h0M520.4 85.1h0M520.5 87.1h0M529.2 83.0h0M522.6 87.7h0M518.2 85.5h0M543.5 60.8h0M514.6 86.6h0M513.3 86.0h0M518.2 86.2h0M517.5 85.6h0M535.6 75.9h0M516.7 85.0h0M515.0 83.5h0M541.0 66.9h0M517.3 83.1h0M536.0 71.7h0M531.3 77.7h0M518.1 87.9h0M540.3 63.3h0M515.9 83.8h0M535.1 71.3h0M517.2 86.2h0M544.1 65.9h0M527.8 86.3h0M515.9 84.6h0M540.2 64.4h0M516.3 83.8h0M518.8 84.0h0M515.9 82.7h0M516.8 83.4h0M520.0 82.6h0M545.6 54.6h0M517.7 79.7h0M522.4 81.6h0M519.3 81.6h0M518.3 80.8h0M515.4 83.9h0M518.9 82.9h0M537.3 70.3h0M519.7 83.3h0M515.6 83.1h0M516.6 89.9h0M520.9 84.6h0M518.0 87.3h0M517.3 86.5h0M517.0 82.3h0M517.1 86.0h0M517.2 85.1h0M518.9 88.1h0M529.5 84.8h0M516.9 85.6h0M541.9 69.6h0M515.6 86.6h0M517.1 88.0h0M523.9 81.8h0M525.1 83.0h0M519.0 78.2h0M527.4 82.5h0M525.7 80.2h0M532.3 74.1h0M526.8 78.6h0M516.3 81.8h0M528.7 79.8h0M528.0 79.6h0M517.6 85.3h0M525.9 87.0h0M530.3 79.3h0M519.4 88.0h0M519.6 83.0h0M516.2 84.6h0M515.7 85.0h0M512.1 87.1h0M515.6 81.9h0M539.3 67.5h0M515.7 87.9h0M522.0 81.6h0M518.9 80.6h0M519.1 82.4h0M517.8 86.5h0M541.7 64.7h0M535.8 69.6h0M513.2 89.1h0M541.0 62.7h0M531.1 70.5h0M518.3 86.5h0M516.3 84.2h0M519.1 84.0h0M537.1 62.1h0M517.3 87.4h0M520.4 88.2h0M520.0 87.5h0M520.0 85.8h0M519.5 85.5h0M531.6 72.3h0M516.8 91.9h0M519.3 89.0h0M523.8 87.5h0M525.0 83.0h0M518.2 82.8h0M541.0 58.7h0M542.6 58.0h0M523.2 79.9h0M515.6 85.3h0M515.7 91.7h0M528.3 76.5h0M536.2 70.4h0M535.6 68.4h0M527.5 80.4h0M544.4 60.0h0M548.5 60.9h0M520.0 86.6h0M519.2 85.9h0M528.6 80.6h0M516.0 89.1h0M519.1 82.9h0M524.5 82.7h0M519.5 80.1h0M515.2 87.3h0M516.8 84.1h0M513.0 85.9h0M544.3 59.3h0M519.9 84.5h0M518.0 86.3h0M519.4 79.3h0M531.3 81.7h0M520.1 83.8h0M527.1 81.2h0M520.8 85.8h0M527.8 79.0h0M546.5 53.4h0M532.6 67.9h0M536.9 73.0h0M528.9 74.5h0M534.1 71.3h0M518.9 87.9h0M518.6 90.2h0M515.9 80.8h0M519.0 83.8h0M521.8 84.5h0M514.4 91.7h0M519.8 86.3h0M543.2 59.1h0M519.8 83.2h0M526.7 83.5h0M517.8 86.8h0M517.4 80.0h0M536.2 66.6h0M516.4 86.1h0M516.1 82.3h0M535.6 67.8h0M521.9 85.7h0M521.0 83.6h0M518.7 88.7h0M529.1 83.4h0M531.0 76.8h0M523.4 83.1h0M515.5 82.5h0M518.1 89.1h0M516.3 80.2h0M524.6 84.1h0M517.1 83.4h0M524.5 83.2h0M516.7 83.8h0M518.4 81.6h0M525.5 80.5h0M518.8 82.9h0"/>
<path stroke="#d62f27" stroke-width="1.25" stroke-linecap="round" fill="none"  d="M540.2 66.4h0M541.6 64.6h0M536.0 70.6h0M523.5 83.4h0M542.3 68.3h0M538.3 59.4h0M532.0 79.3h0M541.1 66.1h0M533.3 75.8h0M532.5 79.8h0M536.7 70.8h0M531.4 72.3h0M536.9 68.5h0M534.5 69.2h0M537.2 73.7h0M538.2 60.6h0M538.3 68.6h0M536.5 76.3h0M525.9 78.3h0M534.7 72.3h0M530.4 76.7h0M542.3 60.4h0M535.0 76.1h0M538.8 63.4h0M537.0 78.1h0M538.3 72.2h0M523.4 79.4h0M537.2 64.6h0M534.1 76.3h0M523.7 79.8h0M539.0 62.5h0M535.4 67.6h0M542.6 62.0h0M537.1 70.9h0M534.0 78.2h0M537.8 62.7h0M526.4 78.8h0M527.6 84.5h0M533.6 82.4h0M536.6 79.9h0M540.3 69.5h0M536.0 62.1h0M526.0 85.5h0M533.4 84.3h0M530.3 75.3h0M537.7 68.8h0M532.9 68.9h0M532.3 79.2h0M540.2 61.3h0M531.2 76.5h0M539.7 72.0h0M538.2 73.0h0M544.9 69.4h0M537.3 69.0h0M537.9 67.0h0M534.8 72.7h0M536.7 70.2h0"/>
<path stroke="#90c3dd" stroke-width="1.25" stroke-linecap="round" fill="none"  d="M550.1 88.7h0M541.1 85.9h0M555.4 99.2h0M548.3 82.5h0M542.1 80.7h0M543.2 89.7h0M543.0 93.3h0M545.7 91.8h0M551.8 91.3h0M537.8 83.7h0M544.9 73.9h0M548.5 95.3h0M542.3 95.9h0M537.5 97.7h0M542.7 91.4h0M549.5 92.2h0M548.1 91.7h0M542.4 96.7h0M555.0 82.0h0M553.3 97.8h0M540.2 90.2h0M552.4 77.7h0M553.2 86.5h0M541.1 86.6h0M542.8 93.1h0M543.6 84.7h0M544.3 83.7h0M546.6 93.9h0M546.8 84.5h0M554.2 96.9h0M556.0 86.1h0M548.7 97.7h0M548.4 97.1h0M535.9 98.8h0M550.8 70.6h0M549.2 93.7h0M545.0 79.9h0M543.3 89.4h0M546.3 87.3h0M538.8 93.1h0M545.7 93.0h0M543.6 87.8h0M563.0 84.3h0M546.9 93.0h0M534.6 84.8h0M541.2 94.5h0M547.6 103.3h0M550.3 84.2h0M548.9 92.1h0M557.3 79.6h0M547.3 96.1h0M528.0 82.1h0M549.3 87.1h0M545.7 96.2h0M543.7 96.3h0M531.8 86.9h0M549.4 69.2h0M541.0 96.4h0M556.0 90.8h0M528.4 90.9h0M538.9 101.0h0M542.0 98.5h0M548.0 84.0h0M541.2 90.2h0M557.2 74.4h0M545.8 86.7h0M548.2 84.4h0M555.5 103.0h0M546.8 95.1h0M527.4 95.2h0M555.1 89.5h0M556.0 67.4h0M549.7 87.1h0M546.9 94.4h0M555.8 80.6h0M544.3 88.8h0M546.3 80.9h0M548.9 83.7h0M529.8 96.5h0M543.1 100.3h0M547.6 91.7h0M543.4 88.6h0M559.3 76.4h0M553.1 96.6h0M552.6 92.7h0M541.6 89.3h0M542.0 97.7h0M545.8 91.0h0M544.1 83.8h0M553.3 81.8h0M551.1 90.5h0M536.1 84.7h0M556.1 85.9h0M542.8 81.9h0M560.0 94.8h0M541.9 87.6h0M547.0 93.1h0M554.2 69.8h0M557.2 83.1h0M548.3 96.5h0M530.6 85.4h0"/>
<path stroke="#aad8e9" stroke-width="1.25" stroke-linecap="round" fill="none"  d="M550.2 95.0h0M544.4 93.1h0M548.2 85.1h0M523.7 85.5h0M557.6 90.1h0M556.5 77.2h0M537.9 84.2h0M527.1 82.1h0M546.1 94.4h0M546.4 99.3h0M538.9 95.1h0M537.3 79.8h0M548.2 95.0h0M544.3 92.8h0M545.6 81.1h0M533.1 92.7h0M542.1 100.9h0M550.4 93.8h0M551.8 93.5h0M534.6 81.5h0M544.0 82.3h0M547.9 94.0h0M544.9 96.3h0M547.0 90.3h0M551.1 89.9h0M544.0 103.5h0M540.8 93.3h0M546.6 91.6h0M539.5 96.3h0M542.1 85.2h0M550.0 87.5h0M543.5 99.6h0M547.3 96.4h0M558.4 85.3h0M545.3 92.3h0M555.0 93.2h0M547.5 81.5h0M537.8 94.7h0M554.9 85.0h0M544.5 87.9h0M560.4 83.1h0M529.9 86.2h0M546.3 84.0h0M547.0 101.7h0M546.7 98.8h0M542.4 80.1h0"/>
<path stroke="#f46d43" stroke-width="1.25" stroke-linecap="round" fill="none"  d="M516.3 83.0h0M519.1 86.3h0M538.8 75.6h0M541.6 76.2h0M523.0 87.2h0M517.3 86.4h0M516.0 81.3h0M526.6 84.2h0M518.3 82.6h0M522.2 86.3h0M520.1 85.4h0M515.1 85.7h0M524.1 84.0h0M531.5 73.6h0M515.9 82.8h0M517.6 91.4h0M516.0 83.1h0M518.0 88.2h0M518.2 84.6h0M519.8 83.8h0M532.7 72.9h0M517.4 82.7h0M514.9 82.4h0M517.9 86.8h0M521.1 86.7h0M520.8 85.3h0M518.8 85.1h0M518.3 82.3h0M519.1 84.2h0M527.7 80.3h0M535.8 71.7h0M519.4 82.0h0M518.5 83.5h0M516.9 81.2h0M521.9 84.3h0M523.8 82.0h0M527.4 81.7h0M517.6 85.1h0M530.6 75.7h0M516.1 86.3h0M522.9 86.7h0M536.8 80.4h0M520.5 88.2h0M517.8 82.7h0M518.7 86.4h0M519.8 80.7h0M518.6 82.1h0M515.7 82.6h0M536.6 71.6h0M529.1 81.5h0M520.8 85.9h0M540.4 73.0h0M539.8 72.3h0M542.6 75.7h0M528.1 85.2h0M518.2 90.0h0M518.2 82.9h0M523.4 81.3h0M526.0 80.0h0M519.5 83.8h0M519.5 84.1h0M515.9 88.1h0M521.3 84.6h0M518.7 85.4h0M528.8 80.8h0M542.6 68.6h0M521.5 90.4h0M529.8 74.7h0M538.1 71.0h0M520.5 87.4h0M542.2 68.7h0M521.9 82.2h0M516.0 85.3h0M519.4 88.5h0M519.5 83.7h0M520.3 85.0h0M515.9 82.1h0M541.6 77.1h0M518.9 83.7h0M525.3 82.1h0M542.5 65.2h0M517.7 83.9h0M518.0 86.3h0M518.8 82.8h0M514.0 84.7h0M530.3 83.0h0M517.1 81.7h0M516.9 83.1h0M514.5 90.2h0M535.9 72.7h0M516.5 84.6h0M521.3 88.1h0M519.5 87.2h0M520.5 82.9h0M529.5 72.3h0M516.8 83.7h0M515.9 83.8h0M517.8 88.3h0M514.6 85.3h0M519.6 84.8h0M538.6 63.8h0M513.9 82.6h0M541.4 69.4h0M521.7 85.3h0M544.5 71.9h0M517.2 84.1h0M532.4 71.5h0M517.7 83.9h0M519.7 86.8h0M520.1 82.5h0M516.1 84.6h0M520.5 84.5h0M520.9 87.8h0M529.4 74.4h0M515.9 86.8h0M528.7 87.2h0M516.5 83.1h0M521.2 84.1h0M516.8 83.4h0M523.8 84.9h0M519.3 84.2h0M520.9 85.7h0M523.8 80.8h0M522.8 83.1h0M536.5 68.0h0M517.4 85.9h0M514.9 81.1h0M514.8 83.9h0M517.9 82.7h0M518.3 85.0h0M519.2 84.3h0M516.3 84.0h0M532.8 78.7h0M521.4 85.5h0M519.6 87.4h0M519.3 85.7h0M530.3 68.7h0M518.2 82.2h0M533.0 79.3h0M518.7 85.6h0M528.4 80.6h0M527.8 84.7h0M540.1 67.8h0M530.5 80.5h0M517.2 85.5h0M527.6 79.4h0M521.6 85.2h0M540.8 62.4h0M530.3 85.8h0M533.8 73.2h0M518.6 87.7h0M514.7 83.6h0M516.3 82.7h0M536.7 71.6h0M518.7 84.2h0M516.2 82.8h0M514.7 87.1h0M518.3 84.8h0M517.9 84.4h0M528.2 83.8h0M515.0 86.1h0M539.7 61.2h0M522.7 80.4h0M516.2 80.2h0M525.4 82.8h0M520.1 86.6h0M544.6 60.0h0M530.4 86.3h0M526.1 80.0h0M529.5 82.1h0M539.7 67.4h0M541.6 72.2h0M543.9 63.9h0M522.0 82.7h0M543.6 69.1h0M521.4 84.6h0M517.4 83.3h0M520.9 87.2h0M527.5 75.5h0M517.8 84.7h0M519.1 86.2h0M524.4 83.4h0M518.0 87.5h0M532.8 83.3h0M536.1 69.8h0M535.6 79.9h0M519.0 80.8h0M518.1 85.4h0M522.3 80.6h0M524.7 84.5h0M515.0 86.4h0M519.8 85.3h0M514.2 81.5h0M521.5 85.5h0M517.9 86.9h0M515.8 84.7h0M518.6 90.3h0M532.4 81.3h0M516.8 90.4h0M517.1 85.8h0M516.6 86.3h0M517.4 84.7h0M517.6 82.5h0M518.1 85.9h0M517.1 85.5h0M533.6 76.2h0M530.5 81.6h0M534.9 69.2h0M519.0 90.0h0M539.5 73.2h0M541.4 67.0h0M519.4 82.1h0M519.2 83.6h0M519.6 84.7h0M515.2 87.5h0M517.2 82.8h0M515.0 87.7h0M522.3 81.0h0M516.5 78.0h0M529.1 79.2h0M515.9 82.8h0M519.2 85.6h0M518.8 82.8h0M518.9 82.1h0M519.6 86.4h0M536.2 71.9h0M518.2 89.6h0M528.6 77.9h0M524.0 84.6h0M518.9 90.8h0M515.3 86.2h0M535.6 75.7h0M519.3 88.4h0M514.8 83.5h0M517.8 87.0h0M514.3 87.2h0M541.4 72.7h0M518.6 83.4h0M524.2 83.4h0M529.9 68.0h0M518.7 83.8h0M517.8 88.4h0M519.6 82.2h0M531.1 83.0h0M518.0 84.2h0M516.8 83.9h0M518.0 82.6h0M530.7 76.6h0"/>
<path stroke="#e54e35" stroke-width="1.25" stroke-linecap="round" fill="none"  d="M542.8 68.1h0M526.4 82.6h0M532.5 78.3h0M540.0 66.8h0M518.8 82.4h0M519.5 88.1h0M515.5 83.6h0M538.6 56.2h0M524.4 87.1h0M527.7 82.8h0M533.0 75.2h0M518.9 87.7h0M534.6 78.1h0M517.5 85.2h0M533.5 66.6h0M537.9 72.7h0M532.7 82.1h0M549.5 59.6h0M528.2 84.6h0M527.5 82.7h0M514.4 83.9h0M517.8 88.1h0M538.5 65.5h0M520.2 80.3h0M526.7 81.2h0M538.8 62.0h0M522.8 84.8h0M534.9 70.0h0M529.7 82.6h0M523.8 81.2h0M518.8 81.9h0M530.6 75.4h0M515.6 87.0h0M534.8 80.1h0M536.4 78.1h0M515.9 81.1h0M539.3 69.7h0M539.7 65.7h0M518.1 86.3h0M543.1 63.4h0M541.6 66.0h0M519.8 81.2h0M527.6 81.9h0M521.0 84.3h0M526.0 80.1h0M518.4 84.5h0M528.6 83.5h0M528.0 71.9h0M514.9 85.3h0M517.9 85.8h0M531.1 78.7h0M544.3 65.6h0M539.9 77.4h0M538.6 66.5h0M516.7 83.3h0M517.8 89.0h0M533.2 77.0h0M517.5 85.7h0M517.4 88.9h0M537.6 75.0h0M539.8 65.2h0M534.0 69.7h0M517.1 81.6h0M519.7 84.0h0M527.6 85.4h0M514.0 81.7h0M520.4 84.7h0M517.2 85.6h0M539.4 67.5h0M529.2 73.3h0M517.5 82.2h0M526.1 76.6h0M517.9 84.6h0M535.4 67.5h0M519.3 85.7h0M542.7 63.9h0M530.3 81.4h0M537.6 70.8h0M543.5 72.2h0M516.7 85.4h0M530.5 67.4h0M519.6 83.9h0M529.1 70.9h0M518.0 86.9h0M518.4 86.5h0M516.2 85.9h0M520.2 84.5h0M526.3 80.9h0M523.6 82.5h0M539.7 61.0h0M538.9 69.7h0M520.8 81.7h0M531.7 76.9h0M533.1 81.4h0M517.3 87.1h0M519.9 85.3h0M527.5 82.4h0M523.0 81.0h0M515.8 86.5h0M517.5 83.5h0M516.7 84.0h0M518.1 86.4h0M529.0 71.1h0"/>
<path stroke="#5c90c2" stroke-width="1.25" stroke-linecap="round" fill="none"  d="M546.2 93.6h0M535.6 84.1h0M547.3 98.8h0M548.5 76.9h0M549.4 102.6h0M542.4 76.6h0M537.3 86.9h0M555.9 73.9h0M545.8 89.8h0M544.7 87.5h0M547.4 95.1h0M552.4 82.6h0M536.2 88.2h0M550.4 96.7h0M536.7 96.0h0M544.9 81.8h0M537.3 89.6h0M548.2 86.9h0M554.4 77.0h0M543.2 96.4h0M547.3 86.5h0M540.3 76.1h0M541.1 95.6h0M549.7 95.9h0M539.4 78.1h0M544.7 74.5h0M550.4 97.7h0M541.6 82.5h0M543.0 98.1h0M552.4 86.8h0M552.6 85.4h0M542.6 94.6h0M546.6 91.3h0M550.4 94.5h0M551.0 93.5h0M539.2 101.8h0M548.9 87.1h0M537.3 87.3h0M549.2 98.9h0M557.9 86.6h0M553.1 73.9h0M539.0 80.2h0M550.4 84.9h0M542.3 87.7h0M541.8 99.8h0M546.5 92.1h0M535.6 94.7h0M532.9 87.6h0M544.8 91.7h0M540.2 94.6h0M548.8 101.9h0M546.3 87.9h0M547.6 80.0h0M544.3 92.6h0M549.1 90.4h0M545.7 91.2h0M544.1 94.5h0M539.3 96.8h0M546.3 97.2h0M556.9 101.3h0M539.2 100.2h0M543.4 96.3h0M562.3 84.4h0M536.9 82.1h0M553.6 84.1h0M550.8 93.8h0M546.1 94.6h0M544.8 84.1h0M547.9 84.7h0M541.4 94.3h0M552.5 92.9h0M546.6 90.7h0M534.8 80.8h0M548.1 93.7h0M542.0 69.7h0M551.8 76.7h0M541.2 101.7h0M542.5 95.8h0M537.9 84.9h0M539.4 93.1h0M546.8 78.4h0"/>
<path stroke="#fdad60" stroke-width="1.25" stroke-linecap="round" fill="none"  d="M519.1 88.3h0M514.8 86.6h0M545.3 90.7h0M532.5 76.0h0M516.6 85.0h0M517.2 84.5h0M514.5 83.1h0M516.1 83.6h0M525.6 80.2h0M546.2 66.2h0M518.5 81.8h0M518.7 85.2h0M519.1 88.0h0M518.3 83.6h0M520.1 85.0h0M519.1 85.3h0M527.2 84.0h0M518.7 84.3h0M517.8 88.1h0M521.4 84.9h0M518.8 86.5h0M518.0 87.3h0M517.9 79.6h0M517.0 83.6h0M513.5 84.0h0M514.4 87.0h0M519.3 82.8h0M520.3 89.3h0M530.5 83.2h0M523.0 86.5h0M520.4 86.1h0M520.4 86.8h0M519.4 84.4h0M516.8 87.8h0M547.0 70.3h0M518.0 86.9h0M536.4 78.4h0M516.8 82.5h0M517.7 75.9h0M520.8 83.2h0M517.9 85.0h0M542.4 62.5h0M516.1 86.5h0M515.5 86.7h0M516.6 82.4h0M517.9 80.3h0M518.1 90.1h0M547.7 57.7h0M518.2 86.6h0M515.0 89.7h0M522.6 85.1h0M518.3 86.2h0M518.3 82.6h0M516.2 82.2h0M515.8 83.4h0M519.0 81.1h0M517.4 81.1h0M518.5 85.8h0M524.1 81.9h0M517.0 82.5h0M516.1 88.1h0M515.2 86.4h0M540.0 56.2h0M557.7 94.6h0M547.8 58.3h0M517.7 80.9h0M516.8 83.7h0M540.1 64.4h0M519.8 88.6h0M515.5 85.3h0M521.3 82.9h0M526.3 84.5h0M518.5 84.5h0M517.1 86.6h0M516.3 82.5h0M517.0 87.2h0M522.8 84.2h0M540.0 64.4h0M516.0 89.0h0M512.3 81.4h0M536.6 73.8h0M520.7 84.7h0M515.6 83.2h0M518.2 86.1h0M539.8 69.0h0M515.4 84.3h0M523.1 83.5h0M552.6 77.5h0M518.2 82.5h0M519.9 80.2h0M516.4 83.2h0M521.3 86.4h0M531.5 80.7h0M531.8 83.1h0M519.1 87.0h0M521.4 81.9h0M518.2 80.1h0M517.0 82.3h0M527.5 80.3h0M517.8 88.0h0M514.0 83.1h0M517.6 80.6h0M518.8 85.4h0M513.8 85.8h0M517.2 82.5h0M521.0 82.2h0M519.9 82.5h0M520.7 86.3h0M519.5 83.7h0M518.7 85.2h0M514.2 84.3h0M547.4 92.6h0M513.5 85.1h0M512.7 89.4h0M521.1 81.4h0M529.9 78.2h0M516.8 88.3h0M516.7 83.4h0M516.1 84.8h0M519.9 83.2h0M524.4 85.0h0M518.2 84.2h0M540.6 60.7h0M556.6 88.4h0M520.4 81.7h0M527.5 78.9h0M551.8 92.4h0M520.5 83.7h0M517.7 83.2h0M517.8 84.9h0M520.8 83.2h0M516.8 87.9h0M518.3 84.7h0M521.4 78.1h0M515.8 77.3h0M516.5 90.0h0M518.3 80.0h0M518.0 86.3h0M518.3 86.2h0M519.2 79.5h0M528.5 83.1h0M517.6 84.9h0M517.8 85.2h0M525.8 85.4h0M521.6 84.6h0M517.7 88.7h0M516.3 85.5h0M517.0 87.1h0M515.9 84.6h0M518.5 84.3h0M541.6 62.3h0M530.0 80.3h0M519.5 82.4h0M544.9 57.9h0M514.5 87.1h0M556.8 48.4h0M517.1 81.9h0M517.2 84.3h0M518.3 84.0h0M519.1 85.1h0M518.5 85.7h0M516.6 86.0h0M518.1 82.0h0M546.1 99.3h0M514.5 86.9h0M516.8 83.6h0M520.1 82.5h0"/>
<path stroke="#3a54a4" stroke-width="1.25" stroke-linecap="round" fill="none"  d="M552.5 101.9h0M549.5 78.7h0M552.4 82.7h0M557.2 70.2h0M538.5 87.1h0M548.1 93.6h0M550.7 85.4h0M537.1 78.4h0M544.1 95.9h0M546.7 92.1h0M545.2 87.0h0M549.6 92.7h0M544.2 90.2h0M543.1 94.5h0M547.0 97.5h0M534.5 78.4h0M557.5 89.1h0M542.5 92.1h0M539.3 77.1h0M544.4 87.9h0M542.1 80.1h0M544.2 98.6h0M547.5 90.9h0M555.4 94.0h0M553.2 80.1h0M556.4 92.6h0M548.7 97.2h0M551.7 89.3h0M544.3 89.5h0M542.0 95.3h0M545.9 96.8h0M540.7 78.0h0M546.0 86.1h0M550.5 93.1h0M544.7 92.7h0M545.0 94.9h0M550.5 98.5h0M541.3 100.2h0M548.5 94.6h0M556.9 86.6h0M554.9 98.6h0M543.7 92.2h0M540.5 96.9h0M532.5 89.3h0M533.3 87.9h0M552.5 89.3h0M546.7 81.0h0M535.1 76.0h0M556.2 93.4h0M538.9 93.1h0M539.6 90.3h0M548.7 88.5h0M557.9 82.4h0M535.3 98.9h0M554.2 91.2h0M536.9 91.2h0M552.9 89.3h0M554.8 95.1h0M546.2 96.1h0M550.9 82.0h0M545.3 94.2h0M543.7 86.2h0M546.2 97.7h0M542.4 85.5h0M547.4 87.9h0M543.4 74.6h0M556.8 94.3h0M547.1 92.9h0M540.3 76.1h0M544.7 95.2h0"/>
<path stroke="#74add1" stroke-width="1.25" stroke-linecap="round" fill="none"  d="M540.7 90.6h0M555.7 91.3h0M545.8 92.8h0M542.5 99.6h0M544.6 92.5h0M528.6 96.7h0M538.3 89.9h0M557.2 70.1h0M548.4 97.9h0M547.6 85.7h0M544.4 96.3h0M547.6 82.2h0M532.3 95.0h0M553.9 88.0h0M544.7 89.5h0M538.7 87.3h0M545.6 95.4h0M547.4 99.8h0M551.7 95.9h0M546.7 96.7h0M550.2 85.4h0M541.5 90.0h0M552.5 100.9h0M538.2 89.7h0M548.1 86.7h0M549.8 103.5h0M538.1 93.0h0M564.0 74.6h0M548.3 75.6h0M538.9 85.0h0M544.5 100.9h0M551.5 82.8h0M535.3 80.3h0M553.5 90.8h0M546.0 76.8h0M545.3 91.6h0M552.2 93.9h0M548.2 82.4h0M550.6 92.5h0M552.0 102.0h0M549.5 92.3h0M533.7 80.8h0M533.7 102.6h0M547.5 86.6h0M544.0 97.7h0M543.2 91.3h0M549.6 80.2h0M549.5 77.5h0M559.6 80.1h0M547.2 92.3h0M541.3 82.1h0M544.1 97.3h0M547.4 90.3h0M557.4 83.0h0M560.5 70.2h0M544.2 97.9h0M555.2 81.0h0M546.4 91.2h0M548.8 93.1h0M540.0 92.2h0M542.6 86.6h0M535.3 85.2h0M543.7 86.6h0M547.0 87.3h0M538.6 86.7h0M545.8 89.8h0M546.8 86.6h0M547.8 96.7h0M542.7 101.6h0M553.8 93.4h0M552.3 101.1h0M553.4 90.4h0M548.4 90.1h0M561.7 71.8h0M547.7 84.2h0M544.6 93.9h0M545.0 106.9h0M533.7 93.8h0M537.0 84.2h0M544.2 94.0h0"/>
<path stroke="#4574b3" stroke-width="1.25" stroke-linecap="round" fill="none"  d="M549.2 94.3h0M559.1 80.4h0M548.1 86.7h0M544.2 96.0h0M540.5 73.4h0M547.6 93.5h0M545.2 86.7h0M539.9 91.4h0M548.7 74.3h0M546.4 92.1h0M550.1 95.0h0M543.8 95.5h0M550.6 89.4h0M552.7 83.9h0M540.5 82.0h0M547.2 100.0h0M543.4 95.4h0M547.8 80.9h0M542.7 84.5h0M551.7 101.1h0M546.4 99.2h0M552.3 96.6h0M543.5 97.4h0M548.1 82.1h0M550.0 89.3h0M540.1 74.0h0M551.1 84.8h0M552.3 72.5h0M545.8 83.9h0M549.0 86.3h0M542.8 98.2h0M556.4 97.4h0M546.6 93.8h0M548.2 85.1h0M545.9 85.0h0M538.9 80.3h0M547.2 96.8h0M543.6 92.4h0M538.1 94.8h0M550.6 93.6h0M542.7 94.5h0M542.0 87.6h0M537.8 91.8h0M549.8 95.9h0M538.4 79.0h0M553.4 96.4h0M553.8 92.3h0M550.1 81.7h0M552.1 87.8h0M555.1 89.4h0M547.1 100.5h0M536.3 81.6h0M567.3 68.8h0M540.5 93.3h0M550.2 95.5h0M535.5 90.5h0M543.2 94.4h0M541.6 94.2h0M545.0 97.5h0M543.3 86.3h0M540.8 87.5h0M552.8 87.2h0M535.2 94.5h0M541.1 90.5h0"/>
<path stroke="#f0f9db" stroke-width="1.25" stroke-linecap="round" fill="none"  d="M540.7 76.2h0M544.8 96.6h0M546.3 98.6h0M541.7 77.4h0M554.2 92.9h0M544.7 89.7h0M551.8 85.1h0M537.8 96.6h0M540.7 89.7h0M555.8 93.9h0M553.5 85.7h0"/>
<path stroke="#fee090" stroke-width="1.25" stroke-linecap="round" fill="none"  d="M549.8 87.6h0M552.6 69.7h0M549.4 93.3h0M556.2 70.3h0M544.4 57.8h0M543.0 88.2h0M543.9 89.7h0M562.0 85.6h0M549.5 54.2h0M538.5 69.4h0M539.2 70.4h0M540.0 63.3h0M541.3 87.7h0M545.5 77.7h0M544.9 94.7h0M544.3 58.9h0M544.8 90.7h0M543.8 67.0h0M536.4 67.3h0M546.7 56.3h0M536.9 69.6h0M564.6 75.2h0M539.3 64.9h0M553.2 93.1h0M548.2 65.0h0M540.0 65.8h0M552.2 91.9h0M548.0 58.9h0M548.5 82.4h0M532.2 92.1h0M544.9 60.9h0M551.2 97.0h0M546.8 59.5h0M553.8 99.6h0M538.1 79.7h0M536.6 67.3h0M544.8 87.1h0"/>
<path stroke="#fff0a8" stroke-width="1.25" stroke-linecap="round" fill="none"  d="M547.5 54.9h0M538.5 72.9h0M544.2 57.7h0M544.8 58.7h0M538.2 64.7h0M532.0 71.6h0M554.6 91.2h0M539.7 62.0h0M545.3 62.3h0M543.3 64.4h0M540.9 63.8h0M534.5 93.4h0M546.3 88.7h0M553.8 94.2h0M535.8 61.2h0M538.6 90.8h0M539.8 72.2h0M537.7 67.3h0M541.1 92.1h0M542.0 58.2h0M538.6 68.4h0M546.3 83.9h0M539.8 81.2h0M544.7 59.0h0M548.2 81.4h0"/>
<path stroke="#fffebe" stroke-width="1.25" stroke-linecap="round" fill="none"  d="M542.9 63.7h0M544.5 86.8h0M541.7 90.0h0M547.2 89.6h0M547.7 90.4h0M543.3 88.8h0M541.4 63.8h0M537.1 91.0h0M540.5 93.6h0M549.5 98.0h0M548.1 101.0h0M538.3 83.1h0M547.3 55.6h0M547.2 92.9h0M551.2 87.7h0M545.3 100.9h0"/>
<path stroke="#fdc778" stroke-width="1.25" stroke-linecap="round" fill="none"  d="M545.7 72.8h0M546.2 100.7h0M539.9 66.4h0M539.0 96.4h0M543.2 65.1h0M542.4 60.0h0M543.7 61.5h0M546.6 96.2h0M547.1 98.2h0M541.0 64.4h0M542.6 66.7h0M543.6 90.4h0M544.4 65.2h0M538.1 84.9h0M547.5 58.8h0M536.1 68.8h0M548.0 97.9h0M549.6 83.4h0M538.5 99.0h0M544.5 89.0h0"/>
<path stroke="#e0f3f8" stroke-width="1.25" stroke-linecap="round" fill="none"  d="M551.1 87.7h0M549.5 97.7h0M543.9 77.7h0M538.6 87.1h0M532.7 85.0h0M539.9 93.3h0M543.7 78.9h0M548.4 91.6h0M556.6 79.2h0M541.9 94.6h0"/>
<path stroke="#313695" stroke-width="1.25" stroke-linecap="round" fill="none"  d="M566.3 79.7h0M541.9 74.7h0M535.0 77.6h0M540.3 85.1h0M535.2 83.3h0"/>
<text x="540.0" y="43.4" font-size="3.6" fill="#333" text-anchor="middle" >score_Mac_1-2-3</text>
<text x="540.0" y="111.7" font-size="4.2" fill="#444" text-anchor="middle" >PC1</text>
<text transform="translate(509.6,76.5) rotate(-90)" font-size="4.2" fill="#444" text-anchor="middle">PC2</text>
<rect x="569.0" y="45.6" width="2.6" height="61.9" fill="url(#crd)"/>
<text x="573.2" y="47.0" font-size="3.8" fill="#444" text-anchor="start" >1.0</text>
<text x="573.2" y="59.4" font-size="3.8" fill="#444" text-anchor="start" >0.8</text>
<text x="573.2" y="71.8" font-size="3.8" fill="#444" text-anchor="start" >0.6</text>
<text x="573.2" y="84.1" font-size="3.8" fill="#444" text-anchor="start" >0.4</text>
<text x="573.2" y="96.5" font-size="3.8" fill="#444" text-anchor="start" >0.2</text>
<text x="573.2" y="108.9" font-size="3.8" fill="#444" text-anchor="start" >0.0</text>
<rect x="604.0" y="43.5" width="60.7" height="64.8" fill="#fff" stroke="#555" stroke-width="0.5"/>
<line x1="602.8" y1="105.6" x2="604.0" y2="105.6" stroke="#555" stroke-width="0.4"/>
<text x="602.2" y="106.9" font-size="3.6" fill="#444" text-anchor="end" >0.0</text>
<line x1="602.8" y1="94.0" x2="604.0" y2="94.0" stroke="#555" stroke-width="0.4"/>
<text x="602.2" y="95.3" font-size="3.6" fill="#444" text-anchor="end" >0.2</text>
<line x1="602.8" y1="82.4" x2="604.0" y2="82.4" stroke="#555" stroke-width="0.4"/>
<text x="602.2" y="83.7" font-size="3.6" fill="#444" text-anchor="end" >0.4</text>
<line x1="602.8" y1="70.8" x2="604.0" y2="70.8" stroke="#555" stroke-width="0.4"/>
<text x="602.2" y="72.1" font-size="3.6" fill="#444" text-anchor="end" >0.6</text>
<line x1="602.8" y1="59.2" x2="604.0" y2="59.2" stroke="#555" stroke-width="0.4"/>
<text x="602.2" y="60.5" font-size="3.6" fill="#444" text-anchor="end" >0.8</text>
<line x1="602.8" y1="47.6" x2="604.0" y2="47.6" stroke="#555" stroke-width="0.4"/>
<text x="602.2" y="48.9" font-size="3.6" fill="#444" text-anchor="end" >1.0</text>
<text transform="translate(594.8,75.9) rotate(-90)" font-size="3.6" fill="#444" text-anchor="middle">score_Mac_1-2-3</text>
<path d="M613.20 88.78L613.14 88.08L613.14 87.38L613.14 86.69L613.14 85.99L613.14 85.29L613.14 84.59L613.14 83.89L613.14 83.20L613.14 82.50L613.14 81.80L613.14 81.10L613.14 80.40L613.14 79.71L613.14 79.01L613.14 78.31L613.14 77.61L613.14 76.91L613.14 76.22L613.14 75.52L613.14 74.82L613.18 74.12L613.28 73.42L613.40 72.73L613.55 72.03L613.73 71.33L613.94 70.63L614.20 69.93L614.49 69.24L614.82 68.54L615.19 67.84L615.59 67.14L616.01 66.45L616.44 65.75L616.88 65.05L617.31 64.35L617.71 63.65L618.08 62.96L618.39 62.26L618.64 61.56L618.81 60.86L618.90 60.16L618.90 59.47L618.73 58.77L618.40 58.07L617.94 57.37L617.39 56.67L616.78 55.98L616.15 55.28L615.55 54.58L614.99 53.88L614.51 53.18L614.10 52.49L613.77 51.79L613.51 51.09L613.31 50.39L613.17 49.69L613.14 49.00L613.14 48.30L613.20 47.60L612.60 47.60L612.66 48.30L612.66 49.00L612.63 49.69L612.49 50.39L612.29 51.09L612.03 51.79L611.70 52.49L611.29 53.18L610.81 53.88L610.25 54.58L609.65 55.28L609.02 55.98L608.41 56.67L607.86 57.37L607.40 58.07L607.07 58.77L606.90 59.47L606.90 60.16L606.99 60.86L607.16 61.56L607.41 62.26L607.72 62.96L608.09 63.65L608.49 64.35L608.92 65.05L609.36 65.75L609.79 66.45L610.21 67.14L610.61 67.84L610.98 68.54L611.31 69.24L611.60 69.93L611.86 70.63L612.07 71.33L612.25 72.03L612.40 72.73L612.52 73.42L612.62 74.12L612.66 74.82L612.66 75.52L612.66 76.22L612.66 76.91L612.66 77.61L612.66 78.31L612.66 79.01L612.66 79.71L612.66 80.40L612.66 81.10L612.66 81.80L612.66 82.50L612.66 83.20L612.66 83.89L612.66 84.59L612.66 85.29L612.66 85.99L612.66 86.69L612.66 87.38L612.66 88.08L612.60 88.78Z" fill="#1e8a1e" stroke="#222" stroke-width="0.35"/><line x1="612.9" y1="47.6" x2="612.9" y2="88.8" stroke="#333" stroke-width="0.3"/>
<path d="M626.10 93.42L626.05 92.83L626.12 92.24L626.21 91.65L626.33 91.06L626.48 90.47L626.66 89.88L626.87 89.29L627.11 88.70L627.39 88.11L627.70 87.52L628.05 86.93L628.43 86.34L628.83 85.75L629.24 85.16L629.67 84.57L630.09 83.98L630.50 83.39L630.88 82.80L631.22 82.21L631.51 81.62L631.74 81.03L631.90 80.44L631.99 79.85L632.00 79.26L631.96 78.67L631.88 78.08L631.75 77.49L631.59 76.90L631.39 76.31L631.16 75.73L630.90 75.14L630.62 74.55L630.32 73.96L630.01 73.37L629.69 72.78L629.37 72.19L629.06 71.60L628.75 71.01L628.45 70.42L628.16 69.83L627.89 69.24L627.64 68.65L627.41 68.06L627.19 67.47L627.00 66.88L626.82 66.29L626.67 65.70L626.53 65.11L626.41 64.52L626.31 63.93L626.22 63.34L626.14 62.75L626.08 62.16L626.05 61.57L626.05 60.98L626.05 60.39L626.05 59.80L626.05 59.21L626.10 58.62L625.50 58.62L625.55 59.21L625.55 59.80L625.55 60.39L625.55 60.98L625.55 61.57L625.52 62.16L625.46 62.75L625.38 63.34L625.29 63.93L625.19 64.52L625.07 65.11L624.93 65.70L624.78 66.29L624.60 66.88L624.41 67.47L624.19 68.06L623.96 68.65L623.71 69.24L623.44 69.83L623.15 70.42L622.85 71.01L622.54 71.60L622.23 72.19L621.91 72.78L621.59 73.37L621.28 73.96L620.98 74.55L620.70 75.14L620.44 75.73L620.21 76.31L620.01 76.90L619.85 77.49L619.72 78.08L619.64 78.67L619.60 79.26L619.61 79.85L619.70 80.44L619.86 81.03L620.09 81.62L620.38 82.21L620.72 82.80L621.10 83.39L621.51 83.98L621.93 84.57L622.36 85.16L622.77 85.75L623.17 86.34L623.55 86.93L623.90 87.52L624.21 88.11L624.49 88.70L624.73 89.29L624.94 89.88L625.12 90.47L625.27 91.06L625.39 91.65L625.48 92.24L625.55 92.83L625.50 93.42Z" fill="#9b40e0" stroke="#222" stroke-width="0.35"/><line x1="625.8" y1="58.6" x2="625.8" y2="93.4" stroke="#333" stroke-width="0.3"/>
<path d="M640.70 105.60L640.63 104.73L640.63 103.85L640.63 102.98L640.63 102.10L640.63 101.23L640.63 100.35L640.63 99.48L640.63 98.60L640.63 97.73L640.63 96.85L640.63 95.98L640.63 95.10L640.63 94.23L640.63 93.35L640.63 92.48L640.63 91.60L640.63 90.73L640.63 89.85L640.66 88.98L640.73 88.10L640.82 87.23L640.93 86.35L641.06 85.48L641.21 84.60L641.38 83.73L641.58 82.85L641.80 81.98L642.06 81.10L642.33 80.23L642.63 79.35L642.95 78.48L643.29 77.60L643.64 76.73L643.99 75.85L644.34 74.98L644.68 74.10L645.01 73.23L645.31 72.35L645.58 71.48L645.81 70.60L645.99 69.73L646.12 68.85L646.19 67.98L646.20 67.10L646.08 66.23L645.81 65.35L645.41 64.48L644.91 63.60L644.34 62.73L643.76 61.85L643.18 60.98L642.63 60.10L642.15 59.23L641.73 58.35L641.38 57.48L641.11 56.60L640.89 55.73L640.74 54.85L640.70 53.98L640.10 53.98L640.06 54.85L639.91 55.73L639.69 56.60L639.42 57.48L639.07 58.35L638.65 59.23L638.17 60.10L637.62 60.98L637.04 61.85L636.46 62.73L635.89 63.60L635.39 64.48L634.99 65.35L634.72 66.23L634.60 67.10L634.61 67.98L634.68 68.85L634.81 69.73L634.99 70.60L635.22 71.48L635.49 72.35L635.79 73.23L636.12 74.10L636.46 74.98L636.81 75.85L637.16 76.73L637.51 77.60L637.85 78.48L638.17 79.35L638.47 80.23L638.74 81.10L639.00 81.98L639.22 82.85L639.42 83.73L639.59 84.60L639.74 85.48L639.87 86.35L639.98 87.23L640.07 88.10L640.14 88.98L640.17 89.85L640.17 90.73L640.17 91.60L640.17 92.48L640.17 93.35L640.17 94.23L640.17 95.10L640.17 95.98L640.17 96.85L640.17 97.73L640.17 98.60L640.17 99.48L640.17 100.35L640.17 101.23L640.17 102.10L640.17 102.98L640.17 103.85L640.17 104.73L640.10 105.60Z" fill="#1a1ae0" stroke="#222" stroke-width="0.35"/><line x1="640.4" y1="54.0" x2="640.4" y2="105.6" stroke="#333" stroke-width="0.3"/>
<path d="M657.50 105.02L659.55 104.20L660.23 103.39L660.95 102.57L661.67 101.76L662.31 100.94L662.81 100.12L663.12 99.31L663.20 98.49L663.17 97.68L663.10 96.86L663.00 96.04L662.85 95.23L662.67 94.41L662.46 93.60L662.23 92.78L661.97 91.97L661.70 91.15L661.41 90.33L661.11 89.52L660.81 88.70L660.51 87.89L660.21 87.07L659.93 86.25L659.65 85.44L659.38 84.62L659.14 83.81L658.90 82.99L658.69 82.17L658.49 81.36L658.31 80.54L658.15 79.73L658.01 78.91L657.88 78.09L657.77 77.28L657.68 76.46L657.60 75.65L657.53 74.83L657.47 74.01L657.44 73.20L657.44 72.38L657.44 71.57L657.44 70.75L657.44 69.93L657.44 69.12L657.44 68.30L657.44 67.49L657.44 66.67L657.44 65.86L657.44 65.04L657.44 64.22L657.44 63.41L657.44 62.59L657.44 61.78L657.44 60.96L657.44 60.14L657.44 59.33L657.44 58.51L657.44 57.70L657.50 56.88L656.90 56.88L656.96 57.70L656.96 58.51L656.96 59.33L656.96 60.14L656.96 60.96L656.96 61.78L656.96 62.59L656.96 63.41L656.96 64.22L656.96 65.04L656.96 65.86L656.96 66.67L656.96 67.49L656.96 68.30L656.96 69.12L656.96 69.93L656.96 70.75L656.96 71.57L656.96 72.38L656.96 73.20L656.93 74.01L656.87 74.83L656.80 75.65L656.72 76.46L656.63 77.28L656.52 78.09L656.39 78.91L656.25 79.73L656.09 80.54L655.91 81.36L655.71 82.17L655.50 82.99L655.26 83.81L655.02 84.62L654.75 85.44L654.47 86.25L654.19 87.07L653.89 87.89L653.59 88.70L653.29 89.52L652.99 90.33L652.70 91.15L652.43 91.97L652.17 92.78L651.94 93.60L651.73 94.41L651.55 95.23L651.40 96.04L651.30 96.86L651.23 97.68L651.20 98.49L651.28 99.31L651.59 100.12L652.09 100.94L652.73 101.76L653.45 102.57L654.17 103.39L654.85 104.20L656.90 105.02Z" fill="#e01c1c" stroke="#222" stroke-width="0.35"/><line x1="657.2" y1="56.9" x2="657.2" y2="105.0" stroke="#333" stroke-width="0.3"/>
<text x="612.9" y="112.9" font-size="3.6" fill="#1f9a1f" text-anchor="middle" font-weight="bold" >Mac</text>
<text x="612.9" y="116.7" font-size="3.6" fill="#1f9a1f" text-anchor="middle" font-weight="bold" >1(2)3</text>
<text x="626.5" y="112.9" font-size="3.6" fill="#a040e8" text-anchor="middle" font-weight="bold" >Mac</text>
<text x="626.5" y="116.7" font-size="3.6" fill="#a040e8" text-anchor="middle" font-weight="bold" >4</text>
<text x="641.0" y="112.9" font-size="3.6" fill="#1515e6" text-anchor="middle" font-weight="bold" >MG01</text>
<text x="657.0" y="112.9" font-size="3.6" fill="#e82020" text-anchor="middle" font-weight="bold" >Fetal</text>
<text x="657.0" y="116.7" font-size="3.6" fill="#e82020" text-anchor="middle" font-weight="bold" >non-mac</text>
<path d="M641 123.39999999999999V117.39999999999999M638.8 119.89999999999999L641 116.89999999999999L643.2 119.89999999999999" stroke="#1515e6" stroke-width="1.5" fill="none"/>
<line x1="500" y1="121.8" x2="666" y2="121.8" stroke="#aaa" stroke-width="0.6" stroke-dasharray="1 1.2"/>
<text x="590.5" y="134.4" font-size="6.9" fill="#333" text-anchor="middle" font-weight="bold" >Mac 4 score</text>
<rect x="511.3" y="141.2" width="57.6" height="61.6" fill="#fff" stroke="#aaa" stroke-width="0.5"/>
<path d="M511.3 141.2V202.8H568.9" stroke="#555" stroke-width="0.5" fill="none"/>
<path stroke="#74add1" stroke-width="1.25" stroke-linecap="round" fill="none"  d="M540.5 188.7h0M545.2 182.4h0M543.0 193.5h0M546.4 186.6h0M550.8 166.1h0M544.8 187.0h0M549.5 187.6h0M557.5 185.5h0M552.3 168.0h0M537.8 190.1h0M550.6 184.8h0M550.5 193.9h0M549.6 188.0h0M541.9 183.0h0M542.1 180.6h0M563.0 179.7h0M546.1 194.6h0M546.6 191.5h0M536.5 173.9h0M562.2 179.8h0M536.8 191.3h0M544.9 191.6h0M549.5 174.1h0M548.8 188.5h0M552.2 189.2h0M539.8 176.6h0M545.6 173.1h0M544.4 188.4h0M540.8 185.0h0M529.9 191.9h0M549.4 188.7h0M551.8 186.7h0M538.9 175.7h0M542.0 189.9h0M546.6 186.7h0M530.0 181.6h0M540.0 186.7h0M548.2 190.3h0M547.6 176.9h0M547.3 191.8h0M545.1 192.8h0M548.2 182.3h0M544.8 186.0h0M543.8 187.6h0M542.3 191.2h0M537.3 184.9h0M541.1 181.4h0M540.1 169.5h0M540.3 171.5h0M545.8 182.1h0M548.4 187.0h0M543.4 184.0h0M538.2 185.0h0M552.9 184.6h0M550.6 189.0h0M547.1 195.9h0M558.3 180.7h0M541.2 182.0h0M557.1 165.6h0M539.5 188.5h0M557.2 178.5h0M544.9 179.6h0M553.4 186.2h0M546.7 194.1h0M547.4 195.1h0M544.1 198.8h0M552.4 182.2h0M542.5 191.1h0M552.6 165.2h0M539.4 192.2h0M543.7 182.0h0M548.2 180.5h0M547.4 188.0h0M541.4 189.6h0"/>
<path stroke="#f46d43" stroke-width="1.25" stroke-linecap="round" fill="none"  d="M539.8 162.9h0M536.2 165.3h0M530.5 172.2h0M537.0 163.9h0M538.3 154.9h0M529.9 170.2h0M544.6 155.5h0M539.3 165.9h0M531.1 173.9h0M535.8 170.1h0M528.7 176.0h0M543.5 156.4h0M544.2 153.2h0M543.5 167.7h0M546.9 163.0h0M549.5 155.2h0M527.6 170.9h0M539.7 161.2h0M530.0 163.5h0M527.8 175.7h0M528.9 179.4h0M542.6 160.7h0M527.6 178.0h0M535.0 165.5h0M546.8 155.0h0M538.2 168.5h0M526.5 178.1h0M541.6 172.5h0M536.7 175.3h0M539.3 165.2h0M532.4 169.6h0M536.9 175.8h0M538.6 162.0h0M536.3 162.1h0M536.6 167.1h0M542.2 164.2h0M531.8 172.4h0M540.5 168.5h0M539.9 161.9h0M537.4 164.5h0M538.9 158.9h0M535.9 167.2h0M533.7 171.7h0M536.3 165.9h0M539.5 168.7h0M535.9 168.2h0M542.6 164.1h0M533.2 176.9h0M533.1 170.7h0M546.7 151.9h0M533.1 174.7h0M542.3 155.9h0M537.9 168.2h0M535.6 171.4h0M556.8 144.0h0"/>
<path stroke="#90c3dd" stroke-width="1.25" stroke-linecap="round" fill="none"  d="M543.7 185.8h0M540.2 190.0h0M561.6 167.3h0M538.5 174.4h0M548.9 182.5h0M544.8 191.9h0M535.1 173.1h0M549.4 164.7h0M547.8 176.3h0M553.3 191.7h0M542.8 188.5h0M549.6 175.6h0M544.1 191.2h0M538.3 178.5h0M542.7 189.9h0M555.8 176.0h0M549.2 194.2h0M546.1 172.3h0M541.8 195.2h0M553.8 183.4h0M527.6 190.6h0M550.8 189.2h0M535.7 190.1h0M543.3 184.8h0M534.6 173.9h0M550.2 180.8h0M552.3 173.2h0M543.3 186.7h0M554.2 192.2h0M538.1 190.2h0M540.1 187.6h0M541.7 185.4h0M544.7 184.9h0M545.9 192.1h0M546.4 192.6h0M547.6 188.9h0M555.1 184.8h0M539.0 191.7h0M544.5 183.3h0M556.1 181.3h0M540.6 168.9h0M555.2 176.4h0M538.2 175.1h0M556.4 188.0h0M543.3 185.0h0M551.7 191.3h0M548.4 192.5h0M548.8 169.7h0M549.5 193.3h0M549.6 178.8h0M546.4 194.5h0M541.1 185.9h0M545.4 196.2h0M548.2 177.8h0M550.4 189.8h0M542.9 193.5h0M523.9 180.9h0M538.7 182.5h0M546.3 176.3h0M545.8 188.2h0M547.6 198.7h0M543.6 194.9h0M544.3 184.9h0M553.2 175.5h0M545.7 188.4h0M556.0 162.9h0M543.1 195.7h0M537.4 175.2h0M531.9 182.3h0M553.3 177.2h0M556.9 182.0h0M548.0 180.1h0M540.7 171.6h0M548.8 197.2h0M543.7 174.3h0M554.4 172.4h0M553.5 181.1h0M532.8 180.4h0M550.9 177.4h0M546.9 189.7h0M543.4 170.0h0M557.3 178.4h0"/>
<path stroke="#3a54a4" stroke-width="1.25" stroke-linecap="round" fill="none"  d="M540.4 180.5h0M540.5 192.2h0M544.9 182.5h0M543.7 181.6h0M533.8 176.3h0M553.8 189.6h0M545.1 175.4h0M538.6 194.4h0M555.4 198.3h0M546.4 187.4h0M545.3 189.5h0M539.6 191.7h0M552.3 191.9h0M547.1 193.5h0M541.6 178.0h0M540.5 177.5h0M546.6 189.3h0M552.5 184.7h0M547.1 188.3h0M537.5 193.1h0M544.8 170.0h0M555.4 189.3h0M546.3 193.1h0M537.1 179.6h0M550.4 192.0h0M543.7 187.7h0M546.1 181.6h0M554.1 165.2h0M540.8 188.7h0M547.6 175.5h0M544.2 191.3h0M542.0 190.6h0M548.1 182.1h0M546.3 191.4h0M544.6 187.9h0M553.8 188.8h0M547.0 188.5h0M543.1 183.6h0M544.9 177.3h0M547.6 177.6h0M535.4 180.6h0M551.2 183.1h0M548.5 190.6h0M559.2 171.8h0M547.0 197.0h0M535.3 189.8h0M544.4 191.7h0M543.1 189.9h0M537.8 187.2h0M549.8 183.0h0M538.0 180.3h0M542.6 195.0h0M551.1 183.1h0M549.5 193.1h0M533.2 188.1h0M546.8 179.9h0M548.7 193.0h0M554.9 177.4h0M535.4 175.7h0M554.2 188.3h0M534.9 176.3h0M543.9 190.8h0M547.3 181.9h0M551.8 172.1h0M560.0 190.2h0M551.8 180.5h0M556.0 186.2h0M555.1 184.9h0M547.4 185.7h0M544.2 179.2h0M559.0 175.8h0M564.0 170.0h0M542.7 186.7h0M543.3 191.7h0M545.9 180.4h0M542.4 172.0h0M553.5 179.5h0M548.5 190.0h0M549.3 182.5h0M566.3 175.2h0M539.3 195.5h0M544.1 192.7h0"/>
<path stroke="#fff0a8" stroke-width="1.25" stroke-linecap="round" fill="none"  d="M541.2 191.0h0M555.8 189.2h0M552.7 179.3h0M542.8 179.9h0M552.5 197.2h0M536.4 177.0h0M562.0 181.0h0M549.8 198.8h0M539.4 173.6h0"/>
<path stroke="#fee090" stroke-width="1.25" stroke-linecap="round" fill="none"  d="M519.5 179.6h0M521.7 185.8h0M517.2 177.4h0M517.0 177.9h0M521.8 180.6h0M519.1 176.0h0M515.9 177.9h0M516.3 179.0h0M520.4 184.7h0M519.0 181.9h0M539.6 185.7h0M527.5 177.1h0M519.3 183.4h0M516.2 176.7h0M519.0 179.1h0M517.0 179.3h0M517.9 182.4h0M516.4 175.6h0M519.7 179.5h0M522.6 179.7h0M517.3 181.6h0M519.2 183.7h0M549.1 185.8h0M528.2 167.3h0M518.0 175.7h0M525.9 175.6h0M516.1 184.5h0M516.9 177.9h0M520.4 179.9h0M523.3 175.3h0M515.0 178.8h0M518.4 179.6h0M532.3 165.5h0M516.1 176.2h0M518.5 179.9h0M535.7 163.9h0M516.5 178.1h0M521.9 173.9h0M516.5 179.6h0M514.4 177.0h0M514.2 178.5h0M518.3 175.5h0M521.1 177.6h0M522.8 180.5h0M517.2 177.9h0M516.4 180.0h0M518.6 177.3h0M550.5 188.5h0M519.0 180.5h0M518.5 180.1h0M520.2 178.1h0M521.1 179.7h0M518.0 181.7h0M519.2 180.7h0M514.9 178.3h0M520.9 180.7h0M517.0 178.8h0M527.9 174.4h0M519.8 179.4h0M516.6 178.6h0M514.7 182.5h0M535.5 163.0h0M515.8 178.7h0M517.6 181.0h0M530.8 172.0h0M521.5 178.2h0M523.6 176.8h0M518.3 177.5h0M545.7 186.6h0M514.6 182.4h0M520.8 181.7h0M518.1 184.1h0M536.3 167.4h0M516.0 180.1h0M516.3 183.5h0M520.2 178.0h0M515.1 181.6h0M536.6 163.5h0M522.1 181.1h0M515.8 182.4h0M526.1 180.9h0M532.6 175.2h0M520.7 182.5h0M542.7 157.5h0M516.0 182.2h0M517.9 183.5h0M522.7 183.1h0M516.9 180.5h0M517.8 175.2h0M548.3 177.9h0M516.5 177.9h0M525.5 177.5h0M516.7 178.5h0M515.7 182.1h0M518.0 181.9h0M522.2 177.1h0M515.9 180.4h0M518.9 179.7h0M544.9 164.8h0M554.1 186.6h0M517.5 185.7h0M516.6 185.4h0M517.6 175.5h0M522.9 178.6h0M527.7 180.8h0M516.1 180.0h0M516.0 183.7h0M522.9 178.1h0M529.1 166.5h0M518.7 179.7h0M517.7 180.6h0M527.2 176.7h0M519.8 179.4h0M517.1 177.7h0M519.4 181.3h0M517.6 180.6h0M518.7 178.9h0M515.1 177.8h0M515.3 181.1h0M519.0 183.1h0M537.0 168.5h0M520.6 182.8h0M518.6 177.0h0M564.5 170.7h0M518.2 182.7h0M515.4 182.7h0M530.6 177.0h0M519.7 177.8h0M546.7 176.5h0M518.5 177.7h0M515.0 180.7h0M535.1 166.8h0M519.1 183.5h0M520.1 177.9h0M519.7 182.6h0M518.2 185.5h0M517.9 176.4h0M521.5 180.3h0M519.5 181.1h0M523.1 176.4h0M522.1 179.8h0M519.0 178.3h0M518.5 181.9h0M517.0 187.3h0M518.0 182.2h0M525.6 175.9h0M517.4 184.6h0M518.4 178.0h0M518.1 175.1h0M517.2 177.7h0M516.8 178.8h0M536.0 194.2h0M519.8 180.1h0M533.2 168.4h0M518.1 180.4h0M524.6 182.5h0M518.6 181.9h0M531.9 178.5h0M515.9 178.0h0M531.2 174.2h0M535.1 171.5h0M518.0 180.3h0M515.8 177.3h0M520.1 179.9h0M516.0 178.8h0M557.9 182.0h0M521.8 180.7h0M514.5 182.6h0M544.4 155.5h0M546.2 196.0h0M524.2 179.4h0M518.4 178.0h0M527.6 177.8h0M514.6 187.0h0M516.9 179.4h0M520.5 180.4h0M538.3 185.3h0M524.2 180.3h0M523.1 182.1h0M516.9 179.2h0M522.5 176.0h0M515.1 180.3h0M517.8 186.7h0M528.3 180.0h0M532.6 173.7h0M522.0 177.0h0M518.9 177.8h0M519.1 179.3h0M530.6 162.9h0M518.0 183.7h0M541.3 189.9h0M512.5 176.8h0M536.1 157.6h0M519.5 183.8h0M516.0 179.3h0M519.4 181.0h0M519.0 183.3h0M537.2 173.8h0M526.5 174.3h0M518.8 185.6h0M519.3 177.8h0M519.5 183.9h0M544.5 167.3h0M515.7 178.6h0M520.2 182.9h0M520.1 184.7h0M516.1 178.2h0M533.6 162.1h0M517.6 181.3h0M516.7 180.1h0M542.8 163.6h0M518.3 180.0h0M521.0 181.3h0M520.0 180.7h0M527.6 174.3h0M524.6 180.4h0M513.7 180.5h0M519.8 179.4h0M515.8 182.0h0M519.4 179.7h0M523.1 182.6h0M547.4 183.3h0M532.8 174.1h0M518.4 178.2h0M517.6 176.5h0M544.6 196.2h0M530.7 171.2h0M532.3 174.4h0M519.4 181.1h0M516.3 181.3h0M519.1 176.3h0"/>
<path stroke="#4574b3" stroke-width="1.25" stroke-linecap="round" fill="none"  d="M548.1 187.1h0M556.1 188.8h0M547.7 185.8h0M546.6 186.1h0M535.7 179.5h0M538.1 188.4h0M552.6 180.8h0M555.0 188.6h0M541.7 184.7h0M545.2 182.1h0M546.3 184.1h0M548.5 172.3h0M542.6 182.0h0M552.6 172.9h0M551.0 188.9h0M544.7 188.1h0M554.5 186.6h0M528.5 186.3h0M551.1 185.9h0M540.0 188.7h0M544.5 183.3h0M545.8 179.3h0M535.2 171.4h0M557.4 184.4h0M532.6 184.7h0M542.7 196.9h0M542.6 189.9h0M546.8 190.4h0M545.7 191.6h0M548.1 196.3h0M543.7 191.6h0M545.6 190.8h0M550.1 184.1h0M548.1 177.6h0M556.8 189.7h0M527.2 177.5h0M539.0 175.6h0M538.8 182.7h0M550.0 182.9h0M535.4 194.2h0M555.9 169.3h0M557.3 175.0h0M528.7 192.0h0M538.9 180.4h0M552.4 178.0h0M541.6 185.4h0M544.5 184.4h0M550.4 180.3h0M544.9 190.1h0M542.0 170.1h0M543.6 180.1h0M536.2 183.6h0M546.3 179.4h0M567.3 164.3h0M550.1 190.4h0M553.2 193.1h0M541.0 191.8h0M555.4 194.5h0M533.4 183.3h0M553.1 169.3h0M547.7 179.6h0M543.7 183.2h0M550.7 180.8h0M541.7 189.5h0M539.0 190.4h0M545.8 186.4h0M544.7 182.9h0M536.2 180.1h0M548.3 171.1h0M537.8 191.9h0M534.7 176.9h0M544.3 188.0h0M552.6 188.1h0M533.8 189.1h0M548.9 187.5h0M538.9 188.5h0M544.4 179.1h0M532.2 187.5h0M541.2 187.5h0M546.4 194.0h0M548.4 185.5h0M551.5 178.2h0"/>
<path stroke="#fdc778" stroke-width="1.25" stroke-linecap="round" fill="none"  d="M515.8 177.0h0M519.3 182.6h0M515.7 179.0h0M553.3 185.8h0M526.9 176.7h0M530.6 178.7h0M519.7 177.6h0M519.7 182.4h0M521.4 178.4h0M521.7 180.0h0M527.8 174.8h0M547.2 185.0h0M518.0 184.4h0M529.3 178.4h0M521.0 180.0h0M519.5 184.4h0M523.9 175.3h0M531.4 173.1h0M521.1 182.6h0M518.4 177.6h0M517.4 181.0h0M525.5 178.2h0M518.1 181.7h0M548.1 189.0h0M516.1 178.2h0M526.4 180.0h0M518.3 181.3h0M541.1 158.2h0M517.3 179.0h0M519.9 181.7h0M523.6 174.8h0M536.6 169.3h0M518.2 178.0h0M526.2 175.4h0M519.3 174.9h0M517.9 171.4h0M519.1 176.5h0M515.0 179.0h0M531.1 172.2h0M519.7 179.1h0M540.1 163.3h0M520.7 178.4h0M520.5 177.4h0M534.2 166.8h0M520.0 176.1h0M538.8 171.1h0M542.4 175.5h0M514.8 179.0h0M528.1 177.7h0M517.9 179.3h0M521.0 181.2h0M527.6 175.7h0M530.0 173.7h0M516.9 179.1h0M518.6 179.9h0M528.5 176.0h0M514.7 185.6h0M519.9 182.2h0M518.0 182.2h0M514.7 178.5h0M524.4 178.8h0M518.5 179.4h0M519.2 173.6h0M517.4 181.9h0M519.6 174.8h0M531.6 167.8h0M517.7 176.0h0M520.3 182.0h0M523.9 176.3h0M518.8 178.4h0M519.7 180.2h0M519.7 180.2h0M516.5 180.9h0M519.0 180.8h0M517.8 175.8h0M518.5 180.2h0M519.1 178.4h0M549.7 182.5h0M544.7 161.7h0M518.4 178.3h0M520.1 178.7h0M516.8 185.3h0M518.2 182.3h0M518.4 179.0h0M519.5 178.2h0M514.0 181.2h0M519.7 179.1h0M520.7 183.6h0M522.1 174.8h0M518.7 178.8h0M523.9 182.9h0M519.2 179.2h0M514.5 179.3h0M523.5 178.5h0M529.6 177.5h0M516.9 183.2h0M516.2 177.7h0M512.3 182.5h0M518.2 181.7h0M521.3 176.8h0M521.3 182.1h0M518.5 181.0h0M519.3 181.6h0M518.4 181.6h0M517.4 178.2h0M514.9 182.5h0M519.4 179.0h0M518.2 180.8h0M516.1 179.2h0M514.2 177.2h0M541.6 160.1h0M537.7 164.3h0M521.5 180.0h0M516.5 175.6h0M520.9 178.7h0M517.3 177.1h0M538.1 166.5h0M525.7 175.6h0M525.2 178.4h0M514.6 178.9h0M521.5 181.8h0M532.8 178.8h0M518.8 177.5h0M529.6 167.8h0M526.9 179.0h0M519.7 180.9h0M533.5 179.7h0M530.7 180.8h0M523.7 178.0h0M516.3 178.8h0M518.3 181.8h0M517.4 182.5h0M524.6 178.1h0M516.5 179.4h0M517.5 182.8h0M519.4 177.0h0M515.8 180.7h0M519.0 179.9h0M542.5 180.9h0M517.0 178.8h0M520.0 184.0h0M515.2 183.1h0M519.5 182.8h0M519.8 181.8h0M516.0 172.7h0M517.0 180.9h0M518.5 176.2h0M515.1 185.1h0M517.2 182.6h0M519.1 186.2h0M518.2 179.6h0M517.2 181.4h0M514.7 182.3h0M518.2 181.7h0M518.5 175.5h0M537.6 170.4h0M518.0 178.1h0M520.2 181.3h0M542.6 171.2h0M519.6 177.4h0M524.1 180.0h0M520.3 178.0h0M534.8 167.7h0M516.3 180.3h0M529.5 169.9h0M519.3 182.2h0M519.8 181.7h0M539.3 163.0h0M517.1 176.6h0M516.8 177.8h0M522.5 176.4h0M529.6 180.2h0M535.0 164.7h0M519.5 177.5h0M516.6 181.5h0M528.3 180.6h0M515.9 187.1h0M517.6 178.1h0M517.8 179.3h0M517.6 180.1h0M519.3 179.5h0M530.1 175.7h0M527.6 175.8h0M519.5 183.4h0M519.7 181.1h0M525.9 180.8h0M516.4 177.7h0M530.4 178.4h0M531.2 178.4h0M515.1 178.9h0M526.1 175.5h0M518.4 180.9h0M518.9 178.2h0M521.4 183.5h0M520.3 175.7h0M542.7 159.4h0M515.1 176.5h0M517.3 178.8h0M521.4 179.5h0M519.7 182.8h0M518.1 183.6h0M518.7 183.1h0M513.6 179.4h0M516.1 176.5h0M517.4 178.6h0M543.9 159.4h0M519.6 179.8h0M523.3 178.9h0M521.5 180.9h0M547.9 189.4h0M520.6 177.2h0M515.6 179.7h0M519.0 177.4h0M541.6 167.7h0M514.8 180.7h0M531.6 169.0h0M521.0 181.1h0M517.4 180.9h0M519.8 178.7h0M526.2 175.4h0M515.9 182.0h0M516.2 181.9h0M519.3 180.5h0M518.9 179.7h0M516.4 178.2h0M537.3 165.7h0M517.5 181.1h0M518.0 183.8h0M517.0 179.1h0M529.8 178.0h0M535.7 175.4h0M520.3 180.4h0M520.9 182.7h0M516.1 178.1h0M531.6 176.1h0M517.8 178.0h0M523.2 181.9h0M516.8 180.4h0M519.6 176.0h0M518.8 181.0h0M526.1 173.7h0M517.9 184.1h0M520.7 179.9h0M518.8 179.7h0M520.5 181.5h0M521.6 180.9h0M533.4 171.3h0"/>
<path stroke="#f88c51" stroke-width="1.25" stroke-linecap="round" fill="none"  d="M535.8 166.0h0M537.8 158.2h0M526.2 172.0h0M535.7 171.2h0M540.3 164.9h0M536.7 165.7h0M524.8 180.0h0M526.5 176.3h0M530.6 176.0h0M528.7 173.3h0M534.9 175.6h0M523.0 180.2h0M539.8 156.5h0M533.0 164.4h0M530.4 164.2h0M532.4 174.6h0M540.3 161.9h0M541.5 164.9h0M541.5 162.5h0M536.8 166.2h0M535.5 163.1h0M533.8 168.7h0M531.2 171.9h0M538.3 161.9h0M538.7 151.7h0M536.1 166.1h0M537.1 166.4h0M530.4 181.2h0M538.4 167.7h0M530.4 176.9h0M538.7 159.4h0M538.9 157.5h0M541.5 168.2h0M535.7 163.3h0M541.9 165.1h0M528.4 172.0h0M530.7 170.9h0M526.0 182.4h0M539.8 156.7h0M533.7 177.8h0M536.1 167.1h0M537.1 173.5h0M528.0 181.7h0M537.3 169.1h0M530.5 181.7h0M541.2 161.6h0"/>
<path stroke="#fdad60" stroke-width="1.25" stroke-linecap="round" fill="none"  d="M518.2 183.0h0M517.7 180.8h0M519.3 179.6h0M516.8 181.4h0M520.2 180.8h0M528.9 176.2h0M515.9 181.9h0M518.2 182.7h0M539.9 160.7h0M523.7 178.8h0M518.8 179.2h0M518.4 185.4h0M520.6 180.5h0M528.7 178.9h0M520.6 183.6h0M545.0 156.3h0M532.5 171.4h0M540.1 162.3h0M524.0 180.3h0M532.8 168.4h0M530.4 170.8h0M516.5 178.4h0M513.5 181.4h0M519.9 176.7h0M517.4 177.9h0M537.9 162.5h0M527.3 179.5h0M519.7 183.5h0M518.9 180.2h0M519.2 181.7h0M527.7 177.3h0M535.8 165.1h0M516.2 180.7h0M534.6 164.6h0M515.5 181.6h0M524.6 178.6h0M539.5 163.0h0M516.1 180.0h0M517.2 179.0h0M526.7 179.6h0M538.3 156.1h0M517.3 183.3h0M527.9 180.1h0M524.1 177.2h0M536.5 173.5h0M517.0 183.7h0M515.1 181.8h0M517.3 181.2h0M519.2 182.4h0M538.6 161.0h0M517.9 183.1h0M528.6 178.6h0M517.3 182.0h0M518.9 180.6h0M523.9 177.4h0M544.2 189.4h0M536.1 169.3h0M522.8 175.8h0M518.7 181.2h0M520.5 182.2h0M518.1 180.0h0M515.6 179.4h0M534.9 168.1h0M518.3 181.7h0M516.3 181.7h0M534.1 173.6h0M517.2 180.9h0M542.3 163.8h0M517.0 185.8h0M521.9 180.8h0M517.2 175.3h0M526.9 174.0h0M520.1 182.0h0M544.4 161.1h0M539.8 167.5h0M517.0 179.0h0M519.2 185.4h0M523.1 176.0h0M519.8 178.4h0M520.3 179.2h0M527.6 178.9h0M517.7 179.0h0M543.2 158.9h0M516.8 181.7h0M520.1 175.7h0M536.8 167.0h0M515.4 182.9h0M518.0 181.9h0M515.7 180.7h0M527.7 179.9h0M518.1 181.2h0M518.0 179.8h0M517.0 179.5h0M517.3 179.7h0M518.3 184.5h0M522.5 177.1h0M517.4 179.5h0M539.0 165.2h0M518.3 177.9h0M517.6 178.7h0M517.7 181.1h0M514.1 178.0h0M522.0 179.9h0M517.0 179.1h0M521.3 179.8h0M527.8 178.3h0M519.9 178.6h0M517.7 177.6h0M517.9 180.1h0M513.2 181.3h0M519.0 178.3h0M529.2 166.3h0M518.5 180.4h0M517.0 181.0h0M534.1 165.1h0M518.4 182.0h0M518.2 182.3h0M532.8 177.5h0M518.0 180.6h0M550.2 190.4h0M518.4 185.0h0M520.9 177.1h0M521.7 178.2h0M516.1 179.2h0M518.3 183.3h0M512.9 184.8h0M518.7 185.6h0M520.2 183.8h0M516.8 178.7h0M518.8 181.8h0M516.1 178.5h0M521.1 179.0h0M536.2 163.9h0M518.2 182.9h0M517.0 178.6h0M524.5 178.8h0M517.1 177.7h0M528.1 175.0h0M518.4 181.6h0M521.4 180.0h0M519.7 179.2h0M522.0 177.7h0M519.2 182.3h0M514.8 182.0h0M513.4 184.5h0M521.0 183.2h0M516.7 173.4h0M516.5 179.2h0M518.0 183.5h0M516.2 180.3h0M517.4 180.5h0M519.2 178.3h0M521.0 178.6h0M531.5 167.8h0M517.2 182.5h0M516.6 178.1h0M515.9 183.3h0M518.6 181.1h0M516.2 184.4h0M518.4 180.5h0M518.9 179.4h0M524.2 177.4h0M522.4 181.7h0M532.1 174.8h0M523.9 176.6h0M521.5 173.6h0M528.8 182.6h0M532.5 176.7h0M515.6 179.4h0M516.9 180.8h0M515.3 181.8h0M533.3 172.4h0M518.3 181.5h0M517.6 184.3h0M541.4 167.3h0M520.6 180.1h0M518.0 183.4h0M516.8 182.1h0M518.4 181.6h0M534.7 173.5h0M526.2 178.9h0M519.7 175.5h0M515.7 177.9h0M516.1 183.5h0M542.4 161.0h0M519.0 177.6h0M525.2 178.4h0M537.2 160.1h0M534.2 171.8h0M522.9 179.6h0M518.8 184.1h0M516.5 177.2h0M516.6 182.5h0M520.6 179.1h0M514.6 181.0h0M517.0 183.3h0M515.0 179.4h0M538.0 155.7h0M524.4 179.9h0M519.9 180.7h0M529.2 176.9h0M517.4 181.8h0M524.8 179.6h0M515.8 182.0h0M520.0 179.2h0M518.1 178.2h0M521.6 177.3h0M518.9 180.6h0M515.0 182.0h0M517.3 177.1h0M514.3 179.7h0M527.6 178.1h0M518.9 180.8h0M531.2 166.0h0M519.5 180.2h0M514.2 180.1h0M518.1 182.3h0M520.8 180.1h0M516.3 180.0h0M517.8 178.6h0M517.8 180.4h0M516.1 177.5h0M515.8 178.6h0M517.4 179.9h0M539.9 167.7h0M522.2 178.2h0M548.4 193.3h0M546.5 187.4h0"/>
<path stroke="#5c90c2" stroke-width="1.25" stroke-linecap="round" fill="none"  d="M546.7 187.5h0M556.1 165.8h0M543.2 189.7h0M551.1 180.2h0M542.2 175.5h0M550.6 187.8h0M556.4 192.8h0M532.4 190.3h0M545.7 176.6h0M538.1 180.3h0M545.0 169.4h0M545.0 202.2h0M552.2 187.2h0M546.3 179.4h0M543.3 181.7h0M555.7 186.7h0M537.0 186.6h0M547.8 192.0h0M547.6 181.1h0M542.0 193.1h0M541.4 177.6h0M554.8 190.4h0M546.3 182.7h0M553.8 187.7h0M535.3 178.8h0M542.5 187.5h0M538.7 182.1h0M552.3 196.5h0M547.0 182.7h0M542.2 176.1h0M546.6 187.0h0M551.8 187.8h0M540.8 182.9h0M552.7 182.6h0M540.2 185.6h0M545.3 187.7h0M544.2 193.2h0M547.3 188.2h0M546.3 183.3h0M552.1 183.2h0M546.6 189.1h0M547.2 187.7h0M556.6 174.7h0M547.7 187.1h0M548.7 192.5h0M552.5 188.3h0M551.7 184.7h0M547.5 186.3h0M539.0 196.4h0M545.1 190.3h0M549.2 189.6h0M559.5 175.5h0M537.4 182.3h0M548.2 179.8h0M552.3 178.1h0M550.4 193.0h0M545.3 187.0h0M551.8 188.9h0M547.2 192.1h0M541.2 197.0h0M550.1 177.2h0M542.1 193.9h0M547.0 192.8h0M548.1 189.0h0M547.3 191.5h0M544.4 184.2h0M544.7 185.1h0M557.2 165.7h0M541.3 183.1h0M542.0 182.9h0M540.7 186.0h0M542.2 196.3h0M537.4 182.7h0M548.1 182.1h0M543.4 191.7h0M560.4 178.5h0M546.8 182.0h0"/>
<path stroke="#fffebe" stroke-width="1.25" stroke-linecap="round" fill="none"  d="M541.3 195.5h0M545.7 187.1h0M548.2 176.8h0M542.1 165.2h0M544.3 185.6h0M544.4 188.1h0M550.4 189.1h0M547.5 182.0h0M557.9 177.8h0M557.7 189.9h0M543.9 185.1h0M549.5 187.7h0M543.0 188.7h0M546.2 188.9h0M556.5 172.6h0M551.2 192.3h0M553.8 194.9h0M544.6 189.3h0"/>
<path stroke="#e0f3f8" stroke-width="1.25" stroke-linecap="round" fill="none"  d="M546.8 173.8h0M540.6 189.0h0M539.2 197.2h0M548.0 179.4h0M545.8 185.2h0M554.8 193.9h0M539.3 172.6h0M538.6 182.5h0M543.3 184.2h0M537.9 179.6h0M556.9 196.6h0M544.2 194.0h0M538.9 188.5h0M544.1 189.9h0M543.9 173.1h0M549.1 181.7h0M543.5 192.8h0M548.3 191.8h0"/>
<path stroke="#c5e6f0" stroke-width="1.25" stroke-linecap="round" fill="none"  d="M546.1 189.8h0M540.4 171.6h0M549.7 191.2h0M556.5 183.8h0M528.1 177.6h0M542.9 177.4h0M543.5 190.8h0"/>
<path stroke="#bd1726" stroke-width="1.25" stroke-linecap="round" fill="none"  d="M544.1 161.4h0M548.0 154.4h0M543.3 159.9h0M549.5 149.8h0M545.7 168.3h0M547.3 151.2h0M532.7 163.4h0M542.1 161.6h0M538.6 163.9h0M536.7 162.8h0M539.8 164.5h0M536.5 162.8h0M537.7 162.8h0M536.1 164.3h0M543.3 160.6h0M536.9 165.1h0M538.6 168.4h0M539.9 167.6h0M539.3 160.5h0M541.5 159.3h0M537.2 157.6h0M535.9 156.7h0"/>
<path stroke="#aad8e9" stroke-width="1.25" stroke-linecap="round" fill="none"  d="M545.8 185.2h0M550.0 184.6h0M547.0 185.6h0M553.2 181.9h0M541.8 172.8h0M541.2 185.5h0M552.0 197.4h0M544.7 190.6h0M537.2 186.3h0M546.1 190.0h0M534.6 188.7h0M548.9 179.2h0M553.1 192.0h0M537.9 179.1h0M544.5 182.2h0M548.2 180.5h0M538.7 186.2h0M552.5 196.3h0M546.7 192.1h0M560.4 165.7h0M534.7 180.2h0M549.4 197.9h0M546.4 194.6h0M549.5 173.0h0M553.2 188.4h0M550.3 179.6h0M542.4 192.0h0M533.0 183.0h0M540.7 173.4h0M549.8 191.2h0M545.4 186.1h0M549.2 189.1h0M550.2 190.9h0M533.8 197.9h0"/>
<path stroke="#e54e35" stroke-width="1.25" stroke-linecap="round" fill="none"  d="M542.6 153.5h0M541.8 160.2h0M530.4 174.7h0M532.5 167.0h0M537.6 166.3h0M539.1 158.1h0M540.0 159.9h0M529.0 170.0h0M542.4 155.6h0M539.9 172.9h0M547.5 150.5h0M547.6 154.4h0M545.0 156.4h0M545.4 157.8h0M547.0 165.8h0M538.4 164.1h0M524.9 181.5h0M543.7 164.6h0M541.6 161.5h0M531.4 177.1h0M543.7 157.0h0M544.3 154.4h0M544.4 153.4h0M546.2 161.7h0M544.5 160.7h0M528.8 175.2h0M529.2 174.7h0M542.4 158.1h0M529.3 168.8h0M544.3 154.9h0M536.6 171.8h0M543.9 162.5h0M546.5 148.9h0M528.3 179.2h0M541.0 159.3h0M540.2 156.8h0M541.7 157.9h0M543.2 154.6h0M542.7 162.2h0M540.7 156.2h0M547.8 153.9h0M529.2 178.8h0M537.1 172.6h0"/>
<path stroke="#f0f9db" stroke-width="1.25" stroke-linecap="round" fill="none"  d="M537.0 177.5h0M554.9 180.4h0M547.2 195.3h0M548.0 193.3h0M551.1 185.2h0M551.7 196.4h0M547.4 190.5h0M548.7 183.9h0M544.0 193.1h0M556.0 181.5h0M547.3 194.2h0"/>
<path stroke="#313695" stroke-width="1.25" stroke-linecap="round" fill="none"  d="M546.9 188.4h0M542.3 183.1h0M548.5 177.8h0M544.0 177.7h0M535.5 185.9h0M557.2 169.9h0"/>
<path stroke="#d62f27" stroke-width="1.25" stroke-linecap="round" fill="none"  d="M538.6 164.9h0M541.1 154.3h0M538.3 160.2h0M541.1 159.9h0M544.7 154.5h0M547.7 153.3h0M548.5 156.4h0M541.0 162.4h0M540.1 159.9h0M541.7 171.7h0M546.1 158.8h0M540.3 159.9h0M539.8 157.6h0M540.1 158.8h0M545.0 153.5h0M540.1 151.7h0M532.1 167.0h0M544.8 154.3h0M540.3 158.8h0M542.9 159.2h0M545.7 150.2h0M547.3 152.1h0M548.2 160.5h0M542.0 153.8h0M540.1 161.3h0M540.8 157.9h0"/>
<text x="540.1" y="139.0" font-size="3.6" fill="#333" text-anchor="middle" >score_Mac_4</text>
<text x="540.1" y="207.0" font-size="4.2" fill="#444" text-anchor="middle" >PC1</text>
<text transform="translate(509.8,172.0) rotate(-90)" font-size="4.2" fill="#444" text-anchor="middle">PC2</text>
<rect x="568.9" y="141.2" width="2.7" height="61.6" fill="url(#crd)"/>
<text x="573.2" y="142.6" font-size="3.8" fill="#444" text-anchor="start" >1.0</text>
<text x="573.2" y="154.9" font-size="3.8" fill="#444" text-anchor="start" >0.8</text>
<text x="573.2" y="167.2" font-size="3.8" fill="#444" text-anchor="start" >0.6</text>
<text x="573.2" y="179.6" font-size="3.8" fill="#444" text-anchor="start" >0.4</text>
<text x="573.2" y="191.9" font-size="3.8" fill="#444" text-anchor="start" >0.2</text>
<text x="573.2" y="204.2" font-size="3.8" fill="#444" text-anchor="start" >0.0</text>
<rect x="604.8" y="141.2" width="58.8" height="61.6" fill="#fff" stroke="#555" stroke-width="0.5"/>
<line x1="603.5999999999999" y1="200.9" x2="604.8" y2="200.9" stroke="#555" stroke-width="0.4"/>
<text x="603.0" y="202.2" font-size="3.6" fill="#444" text-anchor="end" >0.0</text>
<line x1="603.5999999999999" y1="189.4" x2="604.8" y2="189.4" stroke="#555" stroke-width="0.4"/>
<text x="603.0" y="190.7" font-size="3.6" fill="#444" text-anchor="end" >0.2</text>
<line x1="603.5999999999999" y1="177.9" x2="604.8" y2="177.9" stroke="#555" stroke-width="0.4"/>
<text x="603.0" y="179.2" font-size="3.6" fill="#444" text-anchor="end" >0.4</text>
<line x1="603.5999999999999" y1="166.4" x2="604.8" y2="166.4" stroke="#555" stroke-width="0.4"/>
<text x="603.0" y="167.7" font-size="3.6" fill="#444" text-anchor="end" >0.6</text>
<line x1="603.5999999999999" y1="154.9" x2="604.8" y2="154.9" stroke="#555" stroke-width="0.4"/>
<text x="603.0" y="156.2" font-size="3.6" fill="#444" text-anchor="end" >0.8</text>
<line x1="603.5999999999999" y1="143.4" x2="604.8" y2="143.4" stroke="#555" stroke-width="0.4"/>
<text x="603.0" y="144.7" font-size="3.6" fill="#444" text-anchor="end" >1.0</text>
<text transform="translate(595.5999999999999,172.0) rotate(-90)" font-size="3.6" fill="#444" text-anchor="middle">score_Mac_4</text>
<path d="M613.20 190.55L613.13 189.91L613.13 189.26L613.13 188.62L613.13 187.98L613.13 187.33L613.13 186.69L613.13 186.05L613.13 185.40L613.13 184.76L613.13 184.12L613.14 183.47L613.21 182.83L613.30 182.19L613.40 181.54L613.53 180.90L613.67 180.26L613.84 179.62L614.04 178.97L614.26 178.33L614.51 177.69L614.78 177.04L615.08 176.40L615.40 175.76L615.74 175.11L616.09 174.47L616.45 173.83L616.80 173.18L617.15 172.54L617.48 171.90L617.79 171.25L618.06 170.61L618.29 169.97L618.48 169.32L618.61 168.68L618.69 168.04L618.70 167.39L618.63 166.75L618.48 166.11L618.25 165.46L617.95 164.82L617.59 164.18L617.19 163.53L616.77 162.89L616.33 162.25L615.90 161.61L615.48 160.96L615.09 160.32L614.72 159.68L614.40 159.03L614.11 158.39L613.86 157.75L613.66 157.10L613.48 156.46L613.34 155.82L613.23 155.17L613.14 154.53L613.13 153.89L613.13 153.24L613.20 152.60L612.60 152.60L612.67 153.24L612.67 153.89L612.66 154.53L612.57 155.17L612.46 155.82L612.32 156.46L612.14 157.10L611.94 157.75L611.69 158.39L611.40 159.03L611.08 159.68L610.71 160.32L610.32 160.96L609.90 161.61L609.47 162.25L609.03 162.89L608.61 163.53L608.21 164.18L607.85 164.82L607.55 165.46L607.32 166.11L607.17 166.75L607.10 167.39L607.11 168.04L607.19 168.68L607.32 169.32L607.51 169.97L607.74 170.61L608.01 171.25L608.32 171.90L608.65 172.54L609.00 173.18L609.35 173.83L609.71 174.47L610.06 175.11L610.40 175.76L610.72 176.40L611.02 177.04L611.29 177.69L611.54 178.33L611.76 178.97L611.96 179.62L612.13 180.26L612.27 180.90L612.40 181.54L612.50 182.19L612.59 182.83L612.66 183.47L612.67 184.12L612.67 184.76L612.67 185.40L612.67 186.05L612.67 186.69L612.67 187.33L612.67 187.98L612.67 188.62L612.67 189.26L612.67 189.91L612.60 190.55Z" fill="#1e8a1e" stroke="#222" stroke-width="0.35"/><line x1="612.9" y1="152.6" x2="612.9" y2="190.6" stroke="#333" stroke-width="0.3"/>
<path d="M627.80 167.55L627.85 167.14L627.93 166.73L628.03 166.32L628.14 165.91L628.27 165.50L628.43 165.09L628.60 164.68L628.79 164.28L629.01 163.87L629.25 163.46L629.51 163.05L629.79 162.64L630.10 162.23L630.41 161.82L630.75 161.41L631.09 161.00L631.43 160.59L631.78 160.18L632.11 159.77L632.44 159.36L632.74 158.95L633.02 158.54L633.28 158.14L633.49 157.73L633.66 157.32L633.79 156.91L633.87 156.50L633.90 156.09L633.88 155.68L633.81 155.27L633.69 154.86L633.53 154.45L633.32 154.04L633.08 153.63L632.80 153.22L632.50 152.81L632.18 152.41L631.84 152.00L631.50 151.59L631.15 151.18L630.81 150.77L630.48 150.36L630.16 149.95L629.85 149.54L629.56 149.13L629.30 148.72L629.05 148.31L628.83 147.90L628.63 147.49L628.46 147.08L628.30 146.67L628.17 146.27L628.05 145.86L627.95 145.45L627.86 145.04L627.79 144.63L627.76 144.22L627.76 143.81L627.80 143.40L627.20 143.40L627.24 143.81L627.24 144.22L627.21 144.63L627.14 145.04L627.05 145.45L626.95 145.86L626.83 146.27L626.70 146.67L626.54 147.08L626.37 147.49L626.17 147.90L625.95 148.31L625.70 148.72L625.44 149.13L625.15 149.54L624.84 149.95L624.52 150.36L624.19 150.77L623.85 151.18L623.50 151.59L623.16 152.00L622.82 152.41L622.50 152.81L622.20 153.22L621.92 153.63L621.68 154.04L621.47 154.45L621.31 154.86L621.19 155.27L621.12 155.68L621.10 156.09L621.13 156.50L621.21 156.91L621.34 157.32L621.51 157.73L621.72 158.14L621.98 158.54L622.26 158.95L622.56 159.36L622.89 159.77L623.22 160.18L623.57 160.59L623.91 161.00L624.25 161.41L624.59 161.82L624.90 162.23L625.21 162.64L625.49 163.05L625.75 163.46L625.99 163.87L626.21 164.28L626.40 164.68L626.57 165.09L626.73 165.50L626.86 165.91L626.97 166.32L627.07 166.73L627.15 167.14L627.20 167.55Z" fill="#9b40e0" stroke="#222" stroke-width="0.35"/><line x1="627.5" y1="143.4" x2="627.5" y2="167.6" stroke="#333" stroke-width="0.3"/>
<path d="M642.10 198.60L642.03 197.87L642.03 197.14L642.03 196.41L642.03 195.68L642.03 194.95L642.03 194.21L642.03 193.48L642.03 192.75L642.03 192.02L642.03 191.29L642.03 190.56L642.03 189.83L642.08 189.10L642.17 188.37L642.27 187.64L642.39 186.91L642.54 186.17L642.71 185.44L642.91 184.71L643.13 183.98L643.39 183.25L643.68 182.52L643.99 181.79L644.32 181.06L644.67 180.33L645.04 179.60L645.41 178.86L645.78 178.13L646.14 177.40L646.48 176.67L646.79 175.94L647.06 175.21L647.28 174.48L647.45 173.75L647.56 173.02L647.60 172.29L647.57 171.56L647.45 170.82L647.24 170.09L646.96 169.36L646.61 168.63L646.21 167.90L645.79 167.17L645.34 166.44L644.90 165.71L644.46 164.98L644.06 164.25L643.68 163.52L643.34 162.78L643.04 162.05L642.79 161.32L642.57 160.59L642.39 159.86L642.25 159.13L642.13 158.40L642.04 157.67L642.03 156.94L642.03 156.21L642.10 155.47L641.50 155.47L641.57 156.21L641.57 156.94L641.56 157.67L641.47 158.40L641.35 159.13L641.21 159.86L641.03 160.59L640.81 161.32L640.56 162.05L640.26 162.78L639.92 163.52L639.54 164.25L639.14 164.98L638.70 165.71L638.26 166.44L637.81 167.17L637.39 167.90L636.99 168.63L636.64 169.36L636.36 170.09L636.15 170.82L636.03 171.56L636.00 172.29L636.04 173.02L636.15 173.75L636.32 174.48L636.54 175.21L636.81 175.94L637.12 176.67L637.46 177.40L637.82 178.13L638.19 178.86L638.56 179.60L638.93 180.33L639.28 181.06L639.61 181.79L639.92 182.52L640.21 183.25L640.47 183.98L640.69 184.71L640.89 185.44L641.06 186.17L641.21 186.91L641.33 187.64L641.43 188.37L641.52 189.10L641.57 189.83L641.57 190.56L641.57 191.29L641.57 192.02L641.57 192.75L641.57 193.48L641.57 194.21L641.57 194.95L641.57 195.68L641.57 196.41L641.57 197.14L641.57 197.87L641.50 198.60Z" fill="#1a1ae0" stroke="#222" stroke-width="0.35"/><line x1="641.8" y1="155.5" x2="641.8" y2="198.6" stroke="#333" stroke-width="0.3"/>
<path d="M656.90 200.90L658.83 200.08L659.65 199.26L660.53 198.44L661.39 197.63L662.12 196.81L662.62 195.99L662.80 195.17L662.78 194.35L662.72 193.53L662.61 192.71L662.47 191.89L662.28 191.08L662.07 190.26L661.83 189.44L661.56 188.62L661.27 187.80L660.97 186.98L660.66 186.16L660.35 185.35L660.04 184.53L659.73 183.71L659.42 182.89L659.13 182.07L658.86 181.25L658.60 180.43L658.35 179.62L658.13 178.80L657.93 177.98L657.74 177.16L657.57 176.34L657.43 175.52L657.30 174.70L657.18 173.88L657.08 173.07L657.00 172.25L656.93 171.43L656.87 170.61L656.85 169.79L656.85 168.97L656.85 168.15L656.85 167.34L656.85 166.52L656.85 165.70L656.85 164.88L656.85 164.06L656.85 163.24L656.85 162.42L656.85 161.61L656.85 160.79L656.85 159.97L656.85 159.15L656.85 158.33L656.85 157.51L656.85 156.69L656.85 155.87L656.85 155.06L656.85 154.24L656.85 153.42L656.90 152.60L656.30 152.60L656.35 153.42L656.35 154.24L656.35 155.06L656.35 155.87L656.35 156.69L656.35 157.51L656.35 158.33L656.35 159.15L656.35 159.97L656.35 160.79L656.35 161.61L656.35 162.42L656.35 163.24L656.35 164.06L656.35 164.88L656.35 165.70L656.35 166.52L656.35 167.34L656.35 168.15L656.35 168.97L656.35 169.79L656.33 170.61L656.27 171.43L656.20 172.25L656.12 173.07L656.02 173.88L655.90 174.70L655.77 175.52L655.63 176.34L655.46 177.16L655.27 177.98L655.07 178.80L654.85 179.62L654.60 180.43L654.34 181.25L654.07 182.07L653.78 182.89L653.47 183.71L653.16 184.53L652.85 185.35L652.54 186.16L652.23 186.98L651.93 187.80L651.64 188.62L651.37 189.44L651.13 190.26L650.92 191.08L650.73 191.89L650.59 192.71L650.48 193.53L650.42 194.35L650.40 195.17L650.58 195.99L651.08 196.81L651.81 197.63L652.67 198.44L653.55 199.26L654.37 200.08L656.30 200.90Z" fill="#e01c1c" stroke="#222" stroke-width="0.35"/><line x1="656.6" y1="152.6" x2="656.6" y2="200.9" stroke="#333" stroke-width="0.3"/>
<text x="612.9" y="207.4" font-size="3.6" fill="#1f9a1f" text-anchor="middle" font-weight="bold" >Mac</text>
<text x="612.9" y="211.2" font-size="3.6" fill="#1f9a1f" text-anchor="middle" font-weight="bold" >1(2)3</text>
<text x="626.5" y="207.4" font-size="3.6" fill="#a040e8" text-anchor="middle" font-weight="bold" >Mac</text>
<text x="626.5" y="211.2" font-size="3.6" fill="#a040e8" text-anchor="middle" font-weight="bold" >4</text>
<text x="641.0" y="207.4" font-size="3.6" fill="#1515e6" text-anchor="middle" font-weight="bold" >MG01</text>
<text x="657.0" y="207.4" font-size="3.6" fill="#e82020" text-anchor="middle" font-weight="bold" >Fetal</text>
<text x="657.0" y="211.2" font-size="3.6" fill="#e82020" text-anchor="middle" font-weight="bold" >non-mac</text>
<path d="M641 217.9V211.9M638.8 214.4L641 211.4L643.2 214.4" stroke="#1515e6" stroke-width="1.5" fill="none"/>
<!-- panel_d -->
<rect x="56.0" y="243.3" width="274.9" height="205.2" fill="#46085c"/>
<path stroke="#2e6f8e" stroke-width="1.55" fill="none" d="M94.3 243.3v6.8M122.8 243.3v6.8M222.0 243.3v6.8M253.5 243.3v6.8M107.8 250.1v6.8M115.3 250.1v6.8M253.5 250.1v6.8M294.1 256.8v6.7M304.6 256.8v6.7M65.8 263.5v6.7M304.6 270.3v6.7M188.9 277.0v6.7M238.5 283.8v6.7M188.9 290.5v6.7M188.9 297.2v6.7M222.0 304.0v6.7M313.6 304.0v6.7M116.8 310.7v6.6M294.1 310.7v6.6M304.6 310.7v6.6M98.8 317.3v6.6M101.8 317.3v6.6M107.8 317.3v6.6M113.8 317.3v6.6M116.8 317.3v6.6M304.6 317.3v6.6M85.3 323.9v6.6M94.3 323.9v6.6M110.8 323.9v6.6M116.8 323.9v6.6M166.4 323.9v6.6M124.3 330.5v5.6M151.4 330.5v5.6M85.3 336.1v5.6M124.3 336.1v5.6M143.9 336.1v5.6M145.4 336.1v5.6M216.0 336.1v5.6M294.1 336.1v5.6M137.9 341.6v5.6M145.4 341.6v5.6M146.9 341.6v5.6M207.0 341.6v5.6M294.1 341.6v5.6M130.4 347.2v7.4M133.4 347.2v7.4M136.4 347.2v7.4M157.4 347.2v7.4M166.4 347.2v7.4M169.4 347.2v7.4M170.9 347.2v7.4M188.9 347.2v7.4M190.4 347.2v7.4M175.4 354.6v8.6M313.6 354.6v8.6M160.4 363.2v5.9M163.4 363.2v5.9M164.9 363.2v5.9M172.4 363.2v5.9M238.5 363.2v5.9M253.5 363.2v5.9M139.4 369.1v5.9M161.9 369.1v5.9M166.4 369.1v5.9M61.3 375.0v5.2M185.9 375.0v5.2M243.0 380.2v3.8M244.5 380.2v3.8M288.1 380.2v3.8M166.4 384.0v4.4M124.3 388.4v6.5M139.4 388.4v6.5M222.0 388.4v6.5M315.1 388.4v6.5M139.4 394.9v6.5M298.6 394.9v6.5M294.1 401.3v6.5M322.6 401.3v6.5M188.9 407.8v5.8M216.0 413.6v5.8M253.5 413.6v5.8M313.6 413.6v5.8M319.6 413.6v5.8M321.1 413.6v5.8M64.3 419.5v5.8M124.3 419.5v5.8M294.1 419.5v5.8M304.6 425.4v5.8M313.6 425.4v5.8M61.3 431.2v5.8M103.3 431.2v5.8M109.3 431.2v5.8M118.3 431.2v5.8M207.0 431.2v5.8M313.6 431.2v5.8M322.6 431.2v5.8M100.3 437.0v5.8M322.6 437.0v5.8M85.3 442.7v5.8M100.3 442.7v5.8M106.3 442.7v5.8M112.3 442.7v5.8M238.5 442.7v5.8"/>
<path stroke="#3c4f8a" stroke-width="1.55" fill="none" d="M95.8 243.3v6.8M313.6 243.3v6.8M315.1 243.3v6.8M325.6 243.3v6.8M95.8 250.1v6.8M139.4 250.1v6.8M188.9 250.1v6.8M315.1 250.1v6.8M58.3 256.8v6.7M62.8 256.8v6.7M64.3 256.8v6.7M76.3 256.8v6.7M82.3 256.8v6.7M216.0 256.8v6.7M253.5 256.8v6.7M58.3 263.5v6.7M62.8 263.5v6.7M67.3 263.5v6.7M68.8 263.5v6.7M70.3 263.5v6.7M73.3 263.5v6.7M56.8 270.3v6.7M68.8 270.3v6.7M76.3 270.3v6.7M91.3 270.3v6.7M207.0 270.3v6.7M216.0 270.3v6.7M59.8 277.0v6.7M65.8 277.0v6.7M70.3 277.0v6.7M73.3 277.0v6.7M74.8 277.0v6.7M79.3 277.0v6.7M82.3 277.0v6.7M92.8 277.0v6.7M207.0 277.0v6.7M322.6 277.0v6.7M58.3 283.8v6.7M62.8 283.8v6.7M64.3 283.8v6.7M71.8 283.8v6.7M74.8 283.8v6.7M222.0 283.8v6.7M325.6 283.8v6.7M56.8 290.5v6.7M58.3 290.5v6.7M65.8 290.5v6.7M73.3 290.5v6.7M79.3 290.5v6.7M82.3 290.5v6.7M83.8 290.5v6.7M88.3 290.5v6.7M91.3 290.5v6.7M92.8 290.5v6.7M181.4 290.5v6.7M207.0 290.5v6.7M68.8 297.2v6.7M70.3 297.2v6.7M73.3 297.2v6.7M85.3 297.2v6.7M89.8 297.2v6.7M279.1 297.2v6.7M56.8 304.0v6.7M58.3 304.0v6.7M76.3 304.0v6.7M85.3 304.0v6.7M253.5 304.0v6.7M279.1 304.0v6.7M107.8 310.7v6.6M110.8 310.7v6.6M113.8 310.7v6.6M121.3 310.7v6.6M216.0 310.7v6.6M222.0 310.7v6.6M67.3 317.3v6.6M80.8 317.3v6.6M100.3 317.3v6.6M103.3 317.3v6.6M110.8 317.3v6.6M118.3 317.3v6.6M315.1 317.3v6.6M322.6 317.3v6.6M56.8 323.9v6.6M65.8 323.9v6.6M89.8 323.9v6.6M103.3 323.9v6.6M119.8 323.9v6.6M121.3 323.9v6.6M65.8 330.5v5.6M95.8 330.5v5.6M104.8 330.5v5.6M106.3 330.5v5.6M116.8 330.5v5.6M139.4 330.5v5.6M145.4 330.5v5.6M148.4 330.5v5.6M154.4 330.5v5.6M315.1 330.5v5.6M67.3 336.1v5.6M80.8 336.1v5.6M94.3 336.1v5.6M95.8 336.1v5.6M97.3 336.1v5.6M103.3 336.1v5.6M113.8 336.1v5.6M137.9 336.1v5.6M142.4 336.1v5.6M148.4 336.1v5.6M325.6 336.1v5.6M100.3 341.6v5.6M104.8 341.6v5.6M119.8 341.6v5.6M222.0 341.6v5.6M313.6 341.6v5.6M128.9 347.2v7.4M158.9 347.2v7.4M178.4 347.2v7.4M187.4 347.2v7.4M222.0 347.2v7.4M238.5 347.2v7.4M279.1 347.2v7.4M181.4 354.6v8.6M322.6 354.6v8.6M65.8 363.2v5.9M113.8 363.2v5.9M146.9 363.2v5.9M158.9 363.2v5.9M167.9 363.2v5.9M170.9 363.2v5.9M65.8 369.1v5.9M116.8 369.1v5.9M146.9 369.1v5.9M158.9 369.1v5.9M170.9 369.1v5.9M207.0 369.1v5.9M80.8 375.0v5.2M113.8 375.0v5.2M216.0 375.0v5.2M98.8 380.2v3.8M188.9 380.2v3.8M301.6 380.2v3.8M309.1 380.2v3.8M121.3 384.0v4.4M322.6 384.0v4.4M64.3 388.4v6.5M137.9 388.4v6.5M253.5 388.4v6.5M297.1 388.4v6.5M298.6 388.4v6.5M303.1 388.4v6.5M309.1 388.4v6.5M310.6 388.4v6.5M313.6 388.4v6.5M80.8 394.9v6.5M85.3 394.9v6.5M253.5 394.9v6.5M300.1 394.9v6.5M301.6 394.9v6.5M303.1 394.9v6.5M304.6 394.9v6.5M309.1 394.9v6.5M64.3 401.3v6.5M137.9 401.3v6.5M298.6 401.3v6.5M303.1 401.3v6.5M306.1 401.3v6.5M313.6 401.3v6.5M85.3 407.8v5.8M319.6 407.8v5.8M321.1 407.8v5.8M315.1 413.6v5.8M139.4 419.5v5.8M315.1 419.5v5.8M113.8 425.4v5.8M122.8 425.4v5.8M166.4 425.4v5.8M279.1 425.4v5.8M188.9 431.2v5.8M67.3 437.0v5.8M80.8 437.0v5.8M101.8 437.0v5.8M109.3 437.0v5.8M115.3 437.0v5.8M188.9 437.0v5.8M279.1 437.0v5.8M313.6 437.0v5.8M325.6 437.0v5.8M109.3 442.7v5.8M115.3 442.7v5.8M118.3 442.7v5.8M121.3 442.7v5.8M222.0 442.7v5.8M253.5 442.7v5.8"/>
<path stroke="#375a8c" stroke-width="1.55" fill="none" d="M97.3 243.3v6.8M304.6 243.3v6.8M97.3 250.1v6.8M122.8 250.1v6.8M304.6 250.1v6.8M61.3 256.8v6.7M79.3 256.8v6.7M85.3 256.8v6.7M88.3 256.8v6.7M207.0 256.8v6.7M222.0 256.8v6.7M238.5 256.8v6.7M85.3 263.5v6.7M92.8 263.5v6.7M222.0 263.5v6.7M315.1 263.5v6.7M70.3 270.3v6.7M121.3 270.3v6.7M322.6 270.3v6.7M62.8 277.0v6.7M64.3 277.0v6.7M77.8 277.0v6.7M83.8 277.0v6.7M91.3 277.0v6.7M325.6 277.0v6.7M56.8 283.8v6.7M73.3 283.8v6.7M76.3 283.8v6.7M89.8 283.8v6.7M188.9 283.8v6.7M315.1 283.8v6.7M77.8 290.5v6.7M253.5 290.5v6.7M294.1 290.5v6.7M304.6 290.5v6.7M313.6 290.5v6.7M322.6 290.5v6.7M61.3 297.2v6.7M64.3 297.2v6.7M79.3 297.2v6.7M80.8 297.2v6.7M88.3 297.2v6.7M74.8 304.0v6.7M139.4 304.0v6.7M304.6 304.0v6.7M322.6 304.0v6.7M68.8 310.7v6.6M94.3 310.7v6.6M103.3 310.7v6.6M104.8 310.7v6.6M106.3 310.7v6.6M109.3 310.7v6.6M118.3 310.7v6.6M238.5 310.7v6.6M279.1 310.7v6.6M71.8 317.3v6.6M106.3 317.3v6.6M115.3 317.3v6.6M119.8 317.3v6.6M64.3 323.9v6.6M97.3 323.9v6.6M104.8 323.9v6.6M107.8 323.9v6.6M118.3 323.9v6.6M304.6 323.9v6.6M315.1 323.9v6.6M113.8 330.5v5.6M149.9 330.5v5.6M98.8 336.1v5.6M140.9 336.1v5.6M322.6 336.1v5.6M103.3 341.6v5.6M140.9 341.6v5.6M143.9 341.6v5.6M155.9 341.6v5.6M253.5 341.6v5.6M85.3 347.2v7.4M121.3 347.2v7.4M122.8 347.2v7.4M131.9 347.2v7.4M161.9 347.2v7.4M164.9 347.2v7.4M173.9 347.2v7.4M191.9 347.2v7.4M196.5 347.2v7.4M315.1 347.2v7.4M121.3 354.6v8.6M176.9 354.6v8.6M185.9 354.6v8.6M222.0 354.6v8.6M279.1 354.6v8.6M325.6 354.6v8.6M85.3 363.2v5.9M155.9 363.2v5.9M161.9 363.2v5.9M188.9 363.2v5.9M163.4 369.1v5.9M164.9 369.1v5.9M64.3 375.0v5.2M116.8 375.0v5.2M279.1 375.0v5.2M61.3 380.2v3.8M292.6 380.2v3.8M295.6 380.2v3.8M297.1 380.2v3.8M310.6 380.2v3.8M313.6 380.2v3.8M315.1 380.2v3.8M85.3 388.4v6.5M300.1 388.4v6.5M322.6 388.4v6.5M116.8 394.9v6.5M306.1 394.9v6.5M307.6 394.9v6.5M322.6 394.9v6.5M253.5 401.3v6.5M279.1 401.3v6.5M300.1 401.3v6.5M304.6 401.3v6.5M312.1 401.3v6.5M116.8 407.8v5.8M166.4 407.8v5.8M238.5 407.8v5.8M61.3 413.6v5.8M116.8 413.6v5.8M188.9 413.6v5.8M316.6 413.6v5.8M316.6 419.5v5.8M321.1 419.5v5.8M318.1 425.4v5.8M319.6 425.4v5.8M97.3 431.2v5.8M112.3 431.2v5.8M119.8 431.2v5.8M121.3 431.2v5.8M253.5 431.2v5.8M94.3 437.0v5.8M104.8 437.0v5.8M107.8 437.0v5.8M110.8 437.0v5.8M113.8 437.0v5.8M116.8 437.0v5.8M121.3 437.0v5.8M166.4 437.0v5.8M253.5 437.0v5.8M94.3 442.7v5.8M95.8 442.7v5.8M98.8 442.7v5.8M101.8 442.7v5.8M107.8 442.7v5.8M279.1 442.7v5.8M315.1 442.7v5.8M325.6 442.7v5.8"/>
<path stroke="#1f958b" stroke-width="1.55" fill="none" d="M98.8 243.3v6.8M112.3 243.3v6.8M139.4 243.3v6.8M109.3 250.1v6.8M112.3 250.1v6.8M119.8 250.1v6.8M207.0 250.1v6.8M139.4 270.3v6.7M207.0 310.7v6.6M207.0 317.3v6.6M238.5 323.9v6.6M64.3 330.5v5.6M207.0 336.1v5.6M195.0 347.2v7.4M64.3 363.2v5.9M122.8 363.2v5.9M122.8 369.1v5.9M238.5 369.1v5.9M175.4 375.0v5.2M184.4 375.0v5.2M207.0 380.2v3.8M213.0 380.2v3.8M247.5 380.2v3.8M249.0 380.2v3.8M258.0 380.2v3.8M271.6 380.2v3.8M122.8 394.9v6.5M124.3 394.9v6.5M139.4 413.6v5.8"/>
<path stroke="#2a788e" stroke-width="1.55" fill="none" d="M100.3 243.3v6.8M101.8 243.3v6.8M188.9 243.3v6.8M113.8 250.1v6.8M139.4 263.5v6.7M222.0 270.3v6.7M139.4 290.5v6.7M216.0 290.5v6.7M222.0 297.2v6.7M294.1 297.2v6.7M313.6 297.2v6.7M294.1 304.0v6.7M95.8 310.7v6.6M97.3 310.7v6.6M98.8 310.7v6.6M313.6 310.7v6.6M95.8 317.3v6.6M139.4 317.3v6.6M238.5 317.3v6.6M294.1 317.3v6.6M109.3 323.9v6.6M113.8 323.9v6.6M188.9 323.9v6.6M294.1 323.9v6.6M85.3 330.5v5.6M140.9 330.5v5.6M143.9 330.5v5.6M188.9 330.5v5.6M294.1 330.5v5.6M152.9 336.1v5.6M155.9 336.1v5.6M188.9 336.1v5.6M313.6 336.1v5.6M124.3 341.6v5.6M154.4 341.6v5.6M61.3 347.2v7.4M124.3 347.2v7.4M134.9 347.2v7.4M160.4 347.2v7.4M163.4 347.2v7.4M167.9 347.2v7.4M193.4 347.2v7.4M253.5 347.2v7.4M313.6 347.2v7.4M61.3 363.2v5.9M313.6 363.2v5.9M167.9 369.1v5.9M222.0 369.1v5.9M207.0 375.0v5.2M222.0 380.2v3.8M226.5 380.2v3.8M238.5 380.2v3.8M256.5 380.2v3.8M265.6 380.2v3.8M267.1 380.2v3.8M277.6 380.2v3.8M283.6 380.2v3.8M294.1 388.4v6.5M137.9 394.9v6.5M122.8 401.3v6.5M216.0 401.3v6.5M124.3 407.8v5.8M122.8 413.6v5.8M294.1 413.6v5.8M216.0 419.5v5.8M222.0 419.5v5.8M313.6 419.5v5.8M124.3 425.4v5.8M216.0 425.4v5.8M253.5 425.4v5.8M95.8 431.2v5.8M139.4 431.2v5.8M294.1 431.2v5.8M97.3 437.0v5.8M61.3 442.7v5.8M97.3 442.7v5.8M139.4 442.7v5.8M188.9 442.7v5.8M294.1 442.7v5.8"/>
<path stroke="#2cb17e" stroke-width="1.55" fill="none" d="M103.3 243.3v6.8M107.8 243.3v6.8M122.8 330.5v5.6M64.3 347.2v7.4M199.5 380.2v3.8M205.5 380.2v3.8M237.0 380.2v3.8M253.5 380.2v3.8M262.6 380.2v3.8M268.6 380.2v3.8M291.1 380.2v3.8M139.4 425.4v5.8M238.5 431.2v5.8M238.5 437.0v5.8"/>
<path stroke="#1f9f88" stroke-width="1.55" fill="none" d="M104.8 243.3v6.8M113.8 243.3v6.8M98.8 250.1v6.8M103.3 250.1v6.8M139.4 256.8v6.7M238.5 270.3v6.7M139.4 277.0v6.7M122.8 341.6v5.6M139.4 354.6v8.6M124.3 363.2v5.9M124.3 369.1v5.9M122.8 375.0v5.2M201.0 380.2v3.8M202.5 380.2v3.8M208.5 380.2v3.8M214.5 380.2v3.8M219.0 380.2v3.8M225.0 380.2v3.8M228.0 380.2v3.8M232.5 380.2v3.8M235.5 380.2v3.8M255.0 380.2v3.8M259.5 380.2v3.8M261.0 380.2v3.8M276.1 380.2v3.8M285.1 380.2v3.8M238.5 394.9v6.5M294.1 407.8v5.8M238.5 413.6v5.8M64.3 425.4v5.8M64.3 431.2v5.8M139.4 437.0v5.8"/>
<path stroke="#228b8d" stroke-width="1.55" fill="none" d="M106.3 243.3v6.8M110.8 243.3v6.8M115.3 243.3v6.8M119.8 243.3v6.8M110.8 250.1v6.8M116.8 250.1v6.8M207.0 263.5v6.7M216.0 277.0v6.7M294.1 277.0v6.7M207.0 283.8v6.7M139.4 341.6v5.6M139.4 363.2v5.9M137.9 369.1v5.9M124.3 375.0v5.2M139.4 375.0v5.2M179.9 375.0v5.2M181.4 375.0v5.2M238.5 375.0v5.2M204.0 380.2v3.8M210.0 380.2v3.8M229.5 380.2v3.8M240.0 380.2v3.8M241.5 380.2v3.8M280.6 380.2v3.8M64.3 384.0v4.4M61.3 388.4v6.5M61.3 394.9v6.5M294.1 394.9v6.5M64.3 407.8v5.8M124.3 413.6v5.8M207.0 419.5v5.8M207.0 425.4v5.8M294.1 425.4v5.8M100.3 431.2v5.8M294.1 437.0v5.8M103.3 442.7v5.8M207.0 442.7v5.8"/>
<path stroke="#22a884" stroke-width="1.55" fill="none" d="M109.3 243.3v6.8M104.8 250.1v6.8M238.5 250.1v6.8M238.5 263.5v6.7M238.5 330.5v5.6M64.3 341.6v5.6M223.5 380.2v3.8M252.0 380.2v3.8M279.1 380.2v3.8M289.6 380.2v3.8M139.4 407.8v5.8M64.3 413.6v5.8M64.3 442.7v5.8"/>
<path stroke="#26828e" stroke-width="1.55" fill="none" d="M116.8 243.3v6.8M100.3 250.1v6.8M101.8 250.1v6.8M118.3 250.1v6.8M216.0 250.1v6.8M216.0 263.5v6.7M253.5 263.5v6.7M188.9 270.3v6.7M294.1 270.3v6.7M253.5 283.8v6.7M294.1 283.8v6.7M122.8 297.2v6.7M207.0 304.0v6.7M216.0 304.0v6.7M112.3 310.7v6.6M122.8 310.7v6.6M188.9 310.7v6.6M95.8 323.9v6.6M106.3 323.9v6.6M115.3 323.9v6.6M216.0 323.9v6.6M253.5 323.9v6.6M152.9 330.5v5.6M61.3 336.1v5.6M122.8 336.1v5.6M146.9 336.1v5.6M149.9 336.1v5.6M142.4 341.6v5.6M148.4 341.6v5.6M151.4 341.6v5.6M125.9 347.2v7.4M137.9 363.2v5.9M137.9 375.0v5.2M176.9 375.0v5.2M178.4 375.0v5.2M182.9 375.0v5.2M64.3 380.2v3.8M211.5 380.2v3.8M216.0 380.2v3.8M217.5 380.2v3.8M220.5 380.2v3.8M234.0 380.2v3.8M246.0 380.2v3.8M264.1 380.2v3.8M270.1 380.2v3.8M274.6 380.2v3.8M282.1 380.2v3.8M286.6 380.2v3.8M122.8 388.4v6.5M61.3 401.3v6.5M61.3 407.8v5.8M61.3 419.5v5.8M253.5 419.5v5.8M94.3 431.2v5.8M98.8 431.2v5.8M64.3 437.0v5.8M95.8 437.0v5.8M104.8 442.7v5.8M119.8 442.7v5.8"/>
<path stroke="#3bbb75" stroke-width="1.55" fill="none" d="M118.3 243.3v6.8M106.3 250.1v6.8M238.5 304.0v6.7M238.5 336.1v5.6M64.3 369.1v5.9M231.0 380.2v3.8M273.1 380.2v3.8M64.3 394.9v6.5"/>
<path stroke="#481d6f" stroke-width="1.55" fill="none" d="M121.3 243.3v6.8M125.9 243.3v6.8M137.9 243.3v6.8M142.4 243.3v6.8M149.9 243.3v6.8M154.4 243.3v6.8M155.9 243.3v6.8M191.9 243.3v6.8M195.0 243.3v6.8M208.5 243.3v6.8M213.0 243.3v6.8M249.0 243.3v6.8M256.5 243.3v6.8M259.5 243.3v6.8M270.1 243.3v6.8M280.6 243.3v6.8M282.1 243.3v6.8M285.1 243.3v6.8M286.6 243.3v6.8M318.1 243.3v6.8M322.6 243.3v6.8M324.1 243.3v6.8M127.4 250.1v6.8M161.9 250.1v6.8M181.4 250.1v6.8M184.4 250.1v6.8M202.5 250.1v6.8M208.5 250.1v6.8M211.5 250.1v6.8M217.5 250.1v6.8M219.0 250.1v6.8M226.5 250.1v6.8M237.0 250.1v6.8M259.5 250.1v6.8M276.1 250.1v6.8M298.6 250.1v6.8M303.1 250.1v6.8M325.6 250.1v6.8M328.6 250.1v6.8M89.8 256.8v6.7M92.8 256.8v6.7M121.3 256.8v6.7M137.9 256.8v6.7M142.4 256.8v6.7M148.4 256.8v6.7M154.4 256.8v6.7M157.4 256.8v6.7M184.4 256.8v6.7M191.9 256.8v6.7M213.0 256.8v6.7M225.0 256.8v6.7M237.0 256.8v6.7M256.5 256.8v6.7M259.5 256.8v6.7M270.1 256.8v6.7M282.1 256.8v6.7M283.6 256.8v6.7M298.6 256.8v6.7M313.6 256.8v6.7M315.1 256.8v6.7M316.6 256.8v6.7M325.6 256.8v6.7M83.8 263.5v6.7M121.3 263.5v6.7M125.9 263.5v6.7M127.4 263.5v6.7M131.9 263.5v6.7M136.4 263.5v6.7M142.4 263.5v6.7M149.9 263.5v6.7M161.9 263.5v6.7M188.9 263.5v6.7M195.0 263.5v6.7M225.0 263.5v6.7M237.0 263.5v6.7M259.5 263.5v6.7M262.6 263.5v6.7M270.1 263.5v6.7M285.1 263.5v6.7M286.6 263.5v6.7M298.6 263.5v6.7M316.6 263.5v6.7M318.1 263.5v6.7M322.6 263.5v6.7M324.1 263.5v6.7M328.6 263.5v6.7M67.3 270.3v6.7M79.3 270.3v6.7M125.9 270.3v6.7M131.9 270.3v6.7M136.4 270.3v6.7M157.4 270.3v6.7M160.4 270.3v6.7M173.9 270.3v6.7M191.9 270.3v6.7M204.0 270.3v6.7M208.5 270.3v6.7M211.5 270.3v6.7M226.5 270.3v6.7M249.0 270.3v6.7M259.5 270.3v6.7M267.1 270.3v6.7M283.6 270.3v6.7M285.1 270.3v6.7M286.6 270.3v6.7M316.6 270.3v6.7M86.8 277.0v6.7M125.9 277.0v6.7M131.9 277.0v6.7M142.4 277.0v6.7M160.4 277.0v6.7M178.4 277.0v6.7M195.0 277.0v6.7M198.0 277.0v6.7M202.5 277.0v6.7M226.5 277.0v6.7M235.5 277.0v6.7M258.0 277.0v6.7M261.0 277.0v6.7M276.1 277.0v6.7M280.6 277.0v6.7M298.6 277.0v6.7M303.1 277.0v6.7M304.6 277.0v6.7M306.1 277.0v6.7M318.1 277.0v6.7M68.8 283.8v6.7M125.9 283.8v6.7M131.9 283.8v6.7M136.4 283.8v6.7M142.4 283.8v6.7M145.4 283.8v6.7M160.4 283.8v6.7M181.4 283.8v6.7M182.9 283.8v6.7M198.0 283.8v6.7M211.5 283.8v6.7M216.0 283.8v6.7M226.5 283.8v6.7M235.5 283.8v6.7M237.0 283.8v6.7M261.0 283.8v6.7M282.1 283.8v6.7M283.6 283.8v6.7M301.6 283.8v6.7M303.1 283.8v6.7M318.1 283.8v6.7M324.1 283.8v6.7M125.9 290.5v6.7M127.4 290.5v6.7M131.9 290.5v6.7M145.4 290.5v6.7M154.4 290.5v6.7M173.9 290.5v6.7M178.4 290.5v6.7M182.9 290.5v6.7M204.0 290.5v6.7M208.5 290.5v6.7M211.5 290.5v6.7M213.0 290.5v6.7M226.5 290.5v6.7M235.5 290.5v6.7M256.5 290.5v6.7M261.0 290.5v6.7M262.6 290.5v6.7M267.1 290.5v6.7M286.6 290.5v6.7M298.6 290.5v6.7M315.1 290.5v6.7M318.1 290.5v6.7M324.1 290.5v6.7M121.3 297.2v6.7M125.9 297.2v6.7M127.4 297.2v6.7M145.4 297.2v6.7M195.0 297.2v6.7M198.0 297.2v6.7M213.0 297.2v6.7M225.0 297.2v6.7M226.5 297.2v6.7M235.5 297.2v6.7M249.0 297.2v6.7M259.5 297.2v6.7M262.6 297.2v6.7M286.6 297.2v6.7M298.6 297.2v6.7M301.6 297.2v6.7M306.1 297.2v6.7M324.1 297.2v6.7M325.6 297.2v6.7M71.8 304.0v6.7M121.3 304.0v6.7M125.9 304.0v6.7M127.4 304.0v6.7M131.9 304.0v6.7M137.9 304.0v6.7M142.4 304.0v6.7M145.4 304.0v6.7M160.4 304.0v6.7M178.4 304.0v6.7M181.4 304.0v6.7M198.0 304.0v6.7M202.5 304.0v6.7M208.5 304.0v6.7M225.0 304.0v6.7M258.0 304.0v6.7M261.0 304.0v6.7M267.1 304.0v6.7M270.1 304.0v6.7M283.6 304.0v6.7M285.1 304.0v6.7M298.6 304.0v6.7M306.1 304.0v6.7M316.6 304.0v6.7M318.1 304.0v6.7M324.1 304.0v6.7M328.6 304.0v6.7M61.3 310.7v6.6M65.8 310.7v6.6M74.8 310.7v6.6M77.8 310.7v6.6M100.3 310.7v6.6M131.9 310.7v6.6M137.9 310.7v6.6M148.4 310.7v6.6M154.4 310.7v6.6M155.9 310.7v6.6M157.4 310.7v6.6M160.4 310.7v6.6M161.9 310.7v6.6M173.9 310.7v6.6M213.0 310.7v6.6M225.0 310.7v6.6M235.5 310.7v6.6M247.5 310.7v6.6M259.5 310.7v6.6M261.0 310.7v6.6M262.6 310.7v6.6M267.1 310.7v6.6M285.1 310.7v6.6M298.6 310.7v6.6M306.1 310.7v6.6M315.1 310.7v6.6M316.6 310.7v6.6M325.6 310.7v6.6M328.6 310.7v6.6M82.3 317.3v6.6M125.9 317.3v6.6M131.9 317.3v6.6M145.4 317.3v6.6M155.9 317.3v6.6M157.4 317.3v6.6M160.4 317.3v6.6M191.9 317.3v6.6M211.5 317.3v6.6M217.5 317.3v6.6M237.0 317.3v6.6M267.1 317.3v6.6M270.1 317.3v6.6M276.1 317.3v6.6M280.6 317.3v6.6M286.6 317.3v6.6M298.6 317.3v6.6M301.6 317.3v6.6M318.1 317.3v6.6M80.8 323.9v6.6M127.4 323.9v6.6M145.4 323.9v6.6M155.9 323.9v6.6M160.4 323.9v6.6M161.9 323.9v6.6M181.4 323.9v6.6M191.9 323.9v6.6M213.0 323.9v6.6M225.0 323.9v6.6M237.0 323.9v6.6M256.5 323.9v6.6M279.1 323.9v6.6M280.6 323.9v6.6M286.6 323.9v6.6M298.6 323.9v6.6M303.1 323.9v6.6M318.1 323.9v6.6M324.1 323.9v6.6M76.3 330.5v5.6M77.8 330.5v5.6M181.4 330.5v5.6M191.9 330.5v5.6M198.0 330.5v5.6M204.0 330.5v5.6M213.0 330.5v5.6M216.0 330.5v5.6M217.5 330.5v5.6M222.0 330.5v5.6M226.5 330.5v5.6M256.5 330.5v5.6M258.0 330.5v5.6M261.0 330.5v5.6M267.1 330.5v5.6M276.1 330.5v5.6M298.6 330.5v5.6M303.1 330.5v5.6M318.1 330.5v5.6M328.6 330.5v5.6M74.8 336.1v5.6M77.8 336.1v5.6M161.9 336.1v5.6M178.4 336.1v5.6M181.4 336.1v5.6M191.9 336.1v5.6M208.5 336.1v5.6M217.5 336.1v5.6M219.0 336.1v5.6M222.0 336.1v5.6M226.5 336.1v5.6M235.5 336.1v5.6M270.1 336.1v5.6M303.1 336.1v5.6M315.1 336.1v5.6M316.6 336.1v5.6M92.8 341.6v5.6M95.8 341.6v5.6M109.3 341.6v5.6M116.8 341.6v5.6M160.4 341.6v5.6M173.9 341.6v5.6M191.9 341.6v5.6M195.0 341.6v5.6M204.0 341.6v5.6M211.5 341.6v5.6M219.0 341.6v5.6M225.0 341.6v5.6M226.5 341.6v5.6M261.0 341.6v5.6M285.1 341.6v5.6M303.1 341.6v5.6M306.1 341.6v5.6M324.1 341.6v5.6M328.6 341.6v5.6M65.8 347.2v7.4M76.3 347.2v7.4M89.8 347.2v7.4M91.3 347.2v7.4M98.8 347.2v7.4M103.3 347.2v7.4M115.3 347.2v7.4M202.5 347.2v7.4M213.0 347.2v7.4M225.0 347.2v7.4M226.5 347.2v7.4M235.5 347.2v7.4M256.5 347.2v7.4M258.0 347.2v7.4M259.5 347.2v7.4M267.1 347.2v7.4M270.1 347.2v7.4M280.6 347.2v7.4M282.1 347.2v7.4M283.6 347.2v7.4M301.6 347.2v7.4M325.6 347.2v7.4M92.8 354.6v8.6M113.8 354.6v8.6M115.3 354.6v8.6M142.4 354.6v8.6M154.4 354.6v8.6M191.9 354.6v8.6M204.0 354.6v8.6M208.5 354.6v8.6M217.5 354.6v8.6M219.0 354.6v8.6M226.5 354.6v8.6M237.0 354.6v8.6M258.0 354.6v8.6M259.5 354.6v8.6M261.0 354.6v8.6M270.1 354.6v8.6M286.6 354.6v8.6M294.1 354.6v8.6M298.6 354.6v8.6M318.1 354.6v8.6M324.1 354.6v8.6M76.3 363.2v5.9M77.8 363.2v5.9M97.3 363.2v5.9M103.3 363.2v5.9M106.3 363.2v5.9M109.3 363.2v5.9M131.9 363.2v5.9M148.4 363.2v5.9M195.0 363.2v5.9M202.5 363.2v5.9M204.0 363.2v5.9M211.5 363.2v5.9M225.0 363.2v5.9M235.5 363.2v5.9M247.5 363.2v5.9M280.6 363.2v5.9M282.1 363.2v5.9M285.1 363.2v5.9M294.1 363.2v5.9M298.6 363.2v5.9M303.1 363.2v5.9M318.1 363.2v5.9M324.1 363.2v5.9M328.6 363.2v5.9M76.3 369.1v5.9M77.8 369.1v5.9M80.8 369.1v5.9M97.3 369.1v5.9M98.8 369.1v5.9M101.8 369.1v5.9M103.3 369.1v5.9M109.3 369.1v5.9M115.3 369.1v5.9M119.8 369.1v5.9M125.9 369.1v5.9M202.5 369.1v5.9M208.5 369.1v5.9M217.5 369.1v5.9M226.5 369.1v5.9M237.0 369.1v5.9M258.0 369.1v5.9M259.5 369.1v5.9M261.0 369.1v5.9M267.1 369.1v5.9M279.1 369.1v5.9M298.6 369.1v5.9M318.1 369.1v5.9M324.1 369.1v5.9M58.3 375.0v5.2M67.3 375.0v5.2M77.8 375.0v5.2M89.8 375.0v5.2M98.8 375.0v5.2M103.3 375.0v5.2M106.3 375.0v5.2M125.9 375.0v5.2M127.4 375.0v5.2M131.9 375.0v5.2M142.4 375.0v5.2M151.4 375.0v5.2M198.0 375.0v5.2M204.0 375.0v5.2M213.0 375.0v5.2M235.5 375.0v5.2M237.0 375.0v5.2M249.0 375.0v5.2M256.5 375.0v5.2M261.0 375.0v5.2M267.1 375.0v5.2M285.1 375.0v5.2M298.6 375.0v5.2M318.1 375.0v5.2M89.8 380.2v3.8M101.8 380.2v3.8M103.3 380.2v3.8M115.3 380.2v3.8M116.8 380.2v3.8M118.3 380.2v3.8M125.9 380.2v3.8M127.4 380.2v3.8M131.9 380.2v3.8M137.9 380.2v3.8M142.4 380.2v3.8M149.9 380.2v3.8M151.4 380.2v3.8M154.4 380.2v3.8M155.9 380.2v3.8M157.4 380.2v3.8M161.9 380.2v3.8M178.4 380.2v3.8M318.1 380.2v3.8M325.6 380.2v3.8M92.8 384.0v4.4M97.3 384.0v4.4M116.8 384.0v4.4M127.4 384.0v4.4M155.9 384.0v4.4M157.4 384.0v4.4M161.9 384.0v4.4M173.9 384.0v4.4M178.4 384.0v4.4M324.1 384.0v4.4M325.6 384.0v4.4M89.8 388.4v6.5M97.3 388.4v6.5M106.3 388.4v6.5M113.8 388.4v6.5M118.3 388.4v6.5M131.9 388.4v6.5M142.4 388.4v6.5M149.9 388.4v6.5M178.4 388.4v6.5M195.0 388.4v6.5M217.5 388.4v6.5M235.5 388.4v6.5M262.6 388.4v6.5M267.1 388.4v6.5M286.6 388.4v6.5M295.6 388.4v6.5M324.1 388.4v6.5M67.3 394.9v6.5M76.3 394.9v6.5M89.8 394.9v6.5M97.3 394.9v6.5M98.8 394.9v6.5M103.3 394.9v6.5M115.3 394.9v6.5M118.3 394.9v6.5M125.9 394.9v6.5M131.9 394.9v6.5M136.4 394.9v6.5M142.4 394.9v6.5M178.4 394.9v6.5M208.5 394.9v6.5M222.0 394.9v6.5M225.0 394.9v6.5M226.5 394.9v6.5M259.5 394.9v6.5M262.6 394.9v6.5M285.1 394.9v6.5M324.1 394.9v6.5M325.6 394.9v6.5M328.6 394.9v6.5M76.3 401.3v6.5M77.8 401.3v6.5M91.3 401.3v6.5M92.8 401.3v6.5M97.3 401.3v6.5M98.8 401.3v6.5M101.8 401.3v6.5M103.3 401.3v6.5M104.8 401.3v6.5M118.3 401.3v6.5M119.8 401.3v6.5M143.9 401.3v6.5M149.9 401.3v6.5M154.4 401.3v6.5M157.4 401.3v6.5M160.4 401.3v6.5M178.4 401.3v6.5M195.0 401.3v6.5M202.5 401.3v6.5M208.5 401.3v6.5M211.5 401.3v6.5M225.0 401.3v6.5M235.5 401.3v6.5M247.5 401.3v6.5M249.0 401.3v6.5M256.5 401.3v6.5M258.0 401.3v6.5M259.5 401.3v6.5M261.0 401.3v6.5M267.1 401.3v6.5M283.6 401.3v6.5M74.8 407.8v5.8M92.8 407.8v5.8M97.3 407.8v5.8M98.8 407.8v5.8M101.8 407.8v5.8M104.8 407.8v5.8M106.3 407.8v5.8M109.3 407.8v5.8M118.3 407.8v5.8M121.3 407.8v5.8M155.9 407.8v5.8M157.4 407.8v5.8M161.9 407.8v5.8M202.5 407.8v5.8M208.5 407.8v5.8M211.5 407.8v5.8M219.0 407.8v5.8M226.5 407.8v5.8M249.0 407.8v5.8M256.5 407.8v5.8M258.0 407.8v5.8M259.5 407.8v5.8M261.0 407.8v5.8M262.6 407.8v5.8M276.1 407.8v5.8M285.1 407.8v5.8M286.6 407.8v5.8M298.6 407.8v5.8M301.6 407.8v5.8M304.6 407.8v5.8M58.3 413.6v5.8M89.8 413.6v5.8M101.8 413.6v5.8M109.3 413.6v5.8M115.3 413.6v5.8M125.9 413.6v5.8M155.9 413.6v5.8M157.4 413.6v5.8M160.4 413.6v5.8M161.9 413.6v5.8M166.4 413.6v5.8M213.0 413.6v5.8M217.5 413.6v5.8M225.0 413.6v5.8M226.5 413.6v5.8M235.5 413.6v5.8M249.0 413.6v5.8M256.5 413.6v5.8M259.5 413.6v5.8M262.6 413.6v5.8M267.1 413.6v5.8M280.6 413.6v5.8M283.6 413.6v5.8M286.6 413.6v5.8M298.6 413.6v5.8M303.1 413.6v5.8M89.8 419.5v5.8M92.8 419.5v5.8M97.3 419.5v5.8M98.8 419.5v5.8M104.8 419.5v5.8M116.8 419.5v5.8M131.9 419.5v5.8M137.9 419.5v5.8M142.4 419.5v5.8M148.4 419.5v5.8M154.4 419.5v5.8M173.9 419.5v5.8M219.0 419.5v5.8M226.5 419.5v5.8M249.0 419.5v5.8M259.5 419.5v5.8M267.1 419.5v5.8M270.1 419.5v5.8M285.1 419.5v5.8M286.6 419.5v5.8M298.6 419.5v5.8M67.3 425.4v5.8M76.3 425.4v5.8M106.3 425.4v5.8M115.3 425.4v5.8M118.3 425.4v5.8M125.9 425.4v5.8M131.9 425.4v5.8M137.9 425.4v5.8M148.4 425.4v5.8M160.4 425.4v5.8M161.9 425.4v5.8M181.4 425.4v5.8M191.9 425.4v5.8M202.5 425.4v5.8M204.0 425.4v5.8M208.5 425.4v5.8M211.5 425.4v5.8M213.0 425.4v5.8M217.5 425.4v5.8M225.0 425.4v5.8M234.0 425.4v5.8M235.5 425.4v5.8M247.5 425.4v5.8M249.0 425.4v5.8M259.5 425.4v5.8M261.0 425.4v5.8M282.1 425.4v5.8M298.6 425.4v5.8M303.1 425.4v5.8M122.8 431.2v5.8M127.4 431.2v5.8M142.4 431.2v5.8M145.4 431.2v5.8M154.4 431.2v5.8M155.9 431.2v5.8M157.4 431.2v5.8M160.4 431.2v5.8M161.9 431.2v5.8M166.4 431.2v5.8M178.4 431.2v5.8M181.4 431.2v5.8M213.0 431.2v5.8M217.5 431.2v5.8M219.0 431.2v5.8M226.5 431.2v5.8M237.0 431.2v5.8M247.5 431.2v5.8M249.0 431.2v5.8M259.5 431.2v5.8M261.0 431.2v5.8M262.6 431.2v5.8M276.1 431.2v5.8M283.6 431.2v5.8M301.6 431.2v5.8M316.6 431.2v5.8M318.1 431.2v5.8M324.1 431.2v5.8M328.6 431.2v5.8M89.8 437.0v5.8M125.9 437.0v5.8M127.4 437.0v5.8M137.9 437.0v5.8M148.4 437.0v5.8M154.4 437.0v5.8M160.4 437.0v5.8M173.9 437.0v5.8M211.5 437.0v5.8M225.0 437.0v5.8M259.5 437.0v5.8M261.0 437.0v5.8M262.6 437.0v5.8M276.1 437.0v5.8M285.1 437.0v5.8M286.6 437.0v5.8M316.6 437.0v5.8M318.1 437.0v5.8M76.3 442.7v5.8M89.8 442.7v5.8M122.8 442.7v5.8M131.9 442.7v5.8M155.9 442.7v5.8M161.9 442.7v5.8M166.4 442.7v5.8M178.4 442.7v5.8M182.9 442.7v5.8M198.0 442.7v5.8M202.5 442.7v5.8M217.5 442.7v5.8M249.0 442.7v5.8M258.0 442.7v5.8M259.5 442.7v5.8M261.0 442.7v5.8M270.1 442.7v5.8M276.1 442.7v5.8M322.6 442.7v5.8M324.1 442.7v5.8"/>
<path stroke="#453781" stroke-width="1.55" fill="none" d="M148.4 243.3v6.8M294.1 243.3v6.8M121.3 250.1v6.8M148.4 250.1v6.8M191.9 250.1v6.8M204.0 250.1v6.8M270.1 250.1v6.8M279.1 250.1v6.8M313.6 250.1v6.8M322.6 250.1v6.8M70.3 256.8v6.7M71.8 256.8v6.7M77.8 256.8v6.7M86.8 256.8v6.7M91.3 256.8v6.7M122.8 256.8v6.7M322.6 256.8v6.7M56.8 263.5v6.7M61.3 263.5v6.7M76.3 263.5v6.7M77.8 263.5v6.7M80.8 263.5v6.7M82.3 263.5v6.7M88.3 263.5v6.7M91.3 263.5v6.7M148.4 263.5v6.7M166.4 263.5v6.7M191.9 263.5v6.7M258.0 263.5v6.7M303.1 263.5v6.7M65.8 270.3v6.7M71.8 270.3v6.7M77.8 270.3v6.7M83.8 270.3v6.7M85.3 270.3v6.7M88.3 270.3v6.7M92.8 270.3v6.7M270.1 270.3v6.7M279.1 270.3v6.7M303.1 270.3v6.7M315.1 270.3v6.7M325.6 270.3v6.7M56.8 277.0v6.7M61.3 277.0v6.7M67.3 277.0v6.7M68.8 277.0v6.7M80.8 277.0v6.7M85.3 277.0v6.7M88.3 277.0v6.7M121.3 277.0v6.7M122.8 277.0v6.7M148.4 277.0v6.7M204.0 277.0v6.7M270.1 277.0v6.7M279.1 277.0v6.7M59.8 283.8v6.7M61.3 283.8v6.7M83.8 283.8v6.7M121.3 283.8v6.7M139.4 283.8v6.7M166.4 283.8v6.7M173.9 283.8v6.7M191.9 283.8v6.7M195.0 283.8v6.7M247.5 283.8v6.7M270.1 283.8v6.7M328.6 283.8v6.7M59.8 290.5v6.7M64.3 290.5v6.7M71.8 290.5v6.7M89.8 290.5v6.7M195.0 290.5v6.7M270.1 290.5v6.7M303.1 290.5v6.7M59.8 297.2v6.7M71.8 297.2v6.7M76.3 297.2v6.7M86.8 297.2v6.7M92.8 297.2v6.7M148.4 297.2v6.7M181.4 297.2v6.7M247.5 297.2v6.7M270.1 297.2v6.7M282.1 297.2v6.7M304.6 297.2v6.7M59.8 304.0v6.7M70.3 304.0v6.7M83.8 304.0v6.7M88.3 304.0v6.7M91.3 304.0v6.7M188.9 304.0v6.7M211.5 304.0v6.7M56.8 310.7v6.6M58.3 310.7v6.6M70.3 310.7v6.6M73.3 310.7v6.6M76.3 310.7v6.6M82.3 310.7v6.6M191.9 310.7v6.6M195.0 310.7v6.6M204.0 310.7v6.6M211.5 310.7v6.6M303.1 310.7v6.6M322.6 310.7v6.6M56.8 317.3v6.6M70.3 317.3v6.6M73.3 317.3v6.6M76.3 317.3v6.6M77.8 317.3v6.6M79.3 317.3v6.6M83.8 317.3v6.6M86.8 317.3v6.6M121.3 317.3v6.6M137.9 317.3v6.6M181.4 317.3v6.6M204.0 317.3v6.6M222.0 317.3v6.6M247.5 317.3v6.6M58.3 323.9v6.6M59.8 323.9v6.6M67.3 323.9v6.6M73.3 323.9v6.6M77.8 323.9v6.6M88.3 323.9v6.6M148.4 323.9v6.6M195.0 323.9v6.6M222.0 323.9v6.6M322.6 323.9v6.6M325.6 323.9v6.6M61.3 330.5v5.6M67.3 330.5v5.6M92.8 330.5v5.6M98.8 330.5v5.6M101.8 330.5v5.6M118.3 330.5v5.6M142.4 330.5v5.6M173.9 330.5v5.6M207.0 330.5v5.6M253.5 330.5v5.6M270.1 330.5v5.6M282.1 330.5v5.6M304.6 330.5v5.6M92.8 336.1v5.6M106.3 336.1v5.6M110.8 336.1v5.6M112.3 336.1v5.6M115.3 336.1v5.6M119.8 336.1v5.6M211.5 336.1v5.6M279.1 336.1v5.6M65.8 341.6v5.6M67.3 341.6v5.6M80.8 341.6v5.6M106.3 341.6v5.6M118.3 341.6v5.6M166.4 341.6v5.6M238.5 341.6v5.6M270.1 341.6v5.6M279.1 341.6v5.6M282.1 341.6v5.6M304.6 341.6v5.6M325.6 341.6v5.6M101.8 347.2v7.4M104.8 347.2v7.4M176.9 347.2v7.4M216.0 347.2v7.4M322.6 347.2v7.4M328.6 347.2v7.4M61.3 354.6v8.6M98.8 354.6v8.6M104.8 354.6v8.6M116.8 354.6v8.6M119.8 354.6v8.6M188.9 354.6v8.6M282.1 354.6v8.6M303.1 354.6v8.6M315.1 354.6v8.6M328.6 354.6v8.6M67.3 363.2v5.9M101.8 363.2v5.9M145.4 363.2v5.9M149.9 363.2v5.9M151.4 363.2v5.9M152.9 363.2v5.9M154.4 363.2v5.9M169.4 363.2v5.9M173.9 363.2v5.9M213.0 363.2v5.9M304.6 363.2v5.9M325.6 363.2v5.9M61.3 369.1v5.9M67.3 369.1v5.9M92.8 369.1v5.9M113.8 369.1v5.9M148.4 369.1v5.9M151.4 369.1v5.9M191.9 369.1v5.9M247.5 369.1v5.9M282.1 369.1v5.9M294.1 369.1v5.9M328.6 369.1v5.9M211.5 375.0v5.2M253.5 375.0v5.2M282.1 375.0v5.2M322.6 375.0v5.2M325.6 375.0v5.2M328.6 375.0v5.2M85.3 380.2v3.8M104.8 380.2v3.8M148.4 380.2v3.8M300.1 380.2v3.8M307.6 380.2v3.8M312.1 380.2v3.8M67.3 384.0v4.4M80.8 384.0v4.4M85.3 384.0v4.4M101.8 384.0v4.4M113.8 384.0v4.4M119.8 384.0v4.4M181.4 384.0v4.4M328.6 384.0v4.4M98.8 388.4v6.5M101.8 388.4v6.5M104.8 388.4v6.5M116.8 388.4v6.5M121.3 388.4v6.5M148.4 388.4v6.5M173.9 388.4v6.5M213.0 388.4v6.5M279.1 388.4v6.5M304.6 388.4v6.5M306.1 388.4v6.5M77.8 394.9v6.5M119.8 394.9v6.5M148.4 394.9v6.5M166.4 394.9v6.5M207.0 394.9v6.5M258.0 394.9v6.5M282.1 394.9v6.5M292.6 394.9v6.5M295.6 394.9v6.5M312.1 394.9v6.5M65.8 401.3v6.5M67.3 401.3v6.5M80.8 401.3v6.5M116.8 401.3v6.5M207.0 401.3v6.5M222.0 401.3v6.5M282.1 401.3v6.5M295.6 401.3v6.5M297.1 401.3v6.5M301.6 401.3v6.5M315.1 401.3v6.5M113.8 407.8v5.8M119.8 407.8v5.8M137.9 407.8v5.8M173.9 407.8v5.8M181.4 407.8v5.8M191.9 407.8v5.8M207.0 407.8v5.8M222.0 407.8v5.8M247.5 407.8v5.8M279.1 407.8v5.8M303.1 407.8v5.8M80.8 413.6v5.8M92.8 413.6v5.8M98.8 413.6v5.8M113.8 413.6v5.8M119.8 413.6v5.8M191.9 413.6v5.8M195.0 413.6v5.8M204.0 413.6v5.8M207.0 413.6v5.8M211.5 413.6v5.8M304.6 413.6v5.8M101.8 419.5v5.8M166.4 419.5v5.8M181.4 419.5v5.8M191.9 419.5v5.8M204.0 419.5v5.8M77.8 425.4v5.8M92.8 425.4v5.8M101.8 425.4v5.8M195.0 425.4v5.8M315.1 425.4v5.8M65.8 431.2v5.8M80.8 431.2v5.8M92.8 431.2v5.8M116.8 431.2v5.8M148.4 431.2v5.8M191.9 431.2v5.8M195.0 431.2v5.8M204.0 431.2v5.8M211.5 431.2v5.8M216.0 431.2v5.8M222.0 431.2v5.8M279.1 431.2v5.8M315.1 431.2v5.8M106.3 437.0v5.8M181.4 437.0v5.8M216.0 437.0v5.8M80.8 442.7v5.8M113.8 442.7v5.8M303.1 442.7v5.8M328.6 442.7v5.8"/>
<path stroke="#472a7a" stroke-width="1.55" fill="none" d="M160.4 243.3v6.8M173.9 243.3v6.8M181.4 243.3v6.8M211.5 243.3v6.8M247.5 243.3v6.8M258.0 243.3v6.8M267.1 243.3v6.8M283.6 243.3v6.8M137.9 250.1v6.8M166.4 250.1v6.8M225.0 250.1v6.8M247.5 250.1v6.8M249.0 250.1v6.8M282.1 250.1v6.8M283.6 250.1v6.8M294.1 250.1v6.8M68.8 256.8v6.7M161.9 256.8v6.7M181.4 256.8v6.7M188.9 256.8v6.7M202.5 256.8v6.7M204.0 256.8v6.7M211.5 256.8v6.7M262.6 256.8v6.7M328.6 256.8v6.7M137.9 263.5v6.7M173.9 263.5v6.7M211.5 263.5v6.7M213.0 263.5v6.7M313.6 263.5v6.7M325.6 263.5v6.7M61.3 270.3v6.7M137.9 270.3v6.7M148.4 270.3v6.7M178.4 270.3v6.7M195.0 270.3v6.7M213.0 270.3v6.7M225.0 270.3v6.7M247.5 270.3v6.7M262.6 270.3v6.7M282.1 270.3v6.7M313.6 270.3v6.7M324.1 270.3v6.7M58.3 277.0v6.7M76.3 277.0v6.7M161.9 277.0v6.7M191.9 277.0v6.7M213.0 277.0v6.7M247.5 277.0v6.7M253.5 277.0v6.7M282.1 277.0v6.7M328.6 277.0v6.7M67.3 283.8v6.7M70.3 283.8v6.7M80.8 283.8v6.7M82.3 283.8v6.7M86.8 283.8v6.7M148.4 283.8v6.7M202.5 283.8v6.7M225.0 283.8v6.7M67.3 290.5v6.7M68.8 290.5v6.7M86.8 290.5v6.7M121.3 290.5v6.7M137.9 290.5v6.7M148.4 290.5v6.7M160.4 290.5v6.7M161.9 290.5v6.7M191.9 290.5v6.7M222.0 290.5v6.7M258.0 290.5v6.7M279.1 290.5v6.7M282.1 290.5v6.7M283.6 290.5v6.7M325.6 290.5v6.7M74.8 297.2v6.7M82.3 297.2v6.7M137.9 297.2v6.7M160.4 297.2v6.7M166.4 297.2v6.7M191.9 297.2v6.7M211.5 297.2v6.7M253.5 297.2v6.7M303.1 297.2v6.7M315.1 297.2v6.7M316.6 297.2v6.7M61.3 304.0v6.7M148.4 304.0v6.7M166.4 304.0v6.7M173.9 304.0v6.7M191.9 304.0v6.7M204.0 304.0v6.7M213.0 304.0v6.7M247.5 304.0v6.7M262.6 304.0v6.7M325.6 304.0v6.7M64.3 310.7v6.6M67.3 310.7v6.6M71.8 310.7v6.6M86.8 310.7v6.6M89.8 310.7v6.6M91.3 310.7v6.6M166.4 310.7v6.6M226.5 310.7v6.6M258.0 310.7v6.6M270.1 310.7v6.6M283.6 310.7v6.6M58.3 317.3v6.6M59.8 317.3v6.6M61.3 317.3v6.6M85.3 317.3v6.6M88.3 317.3v6.6M92.8 317.3v6.6M122.8 317.3v6.6M195.0 317.3v6.6M202.5 317.3v6.6M213.0 317.3v6.6M226.5 317.3v6.6M253.5 317.3v6.6M258.0 317.3v6.6M262.6 317.3v6.6M282.1 317.3v6.6M313.6 317.3v6.6M328.6 317.3v6.6M62.8 323.9v6.6M68.8 323.9v6.6M71.8 323.9v6.6M79.3 323.9v6.6M82.3 323.9v6.6M83.8 323.9v6.6M86.8 323.9v6.6M122.8 323.9v6.6M202.5 323.9v6.6M211.5 323.9v6.6M247.5 323.9v6.6M249.0 323.9v6.6M262.6 323.9v6.6M283.6 323.9v6.6M328.6 323.9v6.6M94.3 330.5v5.6M107.8 330.5v5.6M109.3 330.5v5.6M161.9 330.5v5.6M202.5 330.5v5.6M211.5 330.5v5.6M247.5 330.5v5.6M316.6 330.5v5.6M324.1 330.5v5.6M65.8 336.1v5.6M100.3 336.1v5.6M104.8 336.1v5.6M107.8 336.1v5.6M195.0 336.1v5.6M202.5 336.1v5.6M247.5 336.1v5.6M253.5 336.1v5.6M77.8 341.6v5.6M85.3 341.6v5.6M115.3 341.6v5.6M181.4 341.6v5.6M202.5 341.6v5.6M258.0 341.6v5.6M267.1 341.6v5.6M315.1 341.6v5.6M322.6 341.6v5.6M67.3 347.2v7.4M80.8 347.2v7.4M92.8 347.2v7.4M113.8 347.2v7.4M116.8 347.2v7.4M118.3 347.2v7.4M119.8 347.2v7.4M316.6 347.2v7.4M101.8 354.6v8.6M122.8 354.6v8.6M137.9 354.6v8.6M148.4 354.6v8.6M202.5 354.6v8.6M216.0 354.6v8.6M225.0 354.6v8.6M262.6 354.6v8.6M283.6 354.6v8.6M316.6 354.6v8.6M80.8 363.2v5.9M92.8 363.2v5.9M104.8 363.2v5.9M119.8 363.2v5.9M157.4 363.2v5.9M207.0 363.2v5.9M222.0 363.2v5.9M262.6 363.2v5.9M267.1 363.2v5.9M270.1 363.2v5.9M279.1 363.2v5.9M283.6 363.2v5.9M316.6 363.2v5.9M104.8 369.1v5.9M106.3 369.1v5.9M118.3 369.1v5.9M142.4 369.1v5.9M145.4 369.1v5.9M152.9 369.1v5.9M154.4 369.1v5.9M195.0 369.1v5.9M204.0 369.1v5.9M213.0 369.1v5.9M216.0 369.1v5.9M253.5 369.1v5.9M270.1 369.1v5.9M283.6 369.1v5.9M313.6 369.1v5.9M315.1 369.1v5.9M316.6 369.1v5.9M322.6 369.1v5.9M85.3 375.0v5.2M101.8 375.0v5.2M121.3 375.0v5.2M148.4 375.0v5.2M166.4 375.0v5.2M173.9 375.0v5.2M202.5 375.0v5.2M222.0 375.0v5.2M247.5 375.0v5.2M262.6 375.0v5.2M303.1 375.0v5.2M304.6 375.0v5.2M315.1 375.0v5.2M92.8 380.2v3.8M119.8 380.2v3.8M121.3 380.2v3.8M122.8 380.2v3.8M173.9 380.2v3.8M191.9 380.2v3.8M324.1 380.2v3.8M61.3 384.0v4.4M98.8 384.0v4.4M148.4 384.0v4.4M160.4 384.0v4.4M92.8 388.4v6.5M115.3 388.4v6.5M166.4 388.4v6.5M181.4 388.4v6.5M202.5 388.4v6.5M204.0 388.4v6.5M211.5 388.4v6.5M216.0 388.4v6.5M258.0 388.4v6.5M292.6 388.4v6.5M312.1 388.4v6.5M325.6 388.4v6.5M65.8 394.9v6.5M92.8 394.9v6.5M101.8 394.9v6.5M106.3 394.9v6.5M161.9 394.9v6.5M173.9 394.9v6.5M181.4 394.9v6.5M202.5 394.9v6.5M211.5 394.9v6.5M213.0 394.9v6.5M216.0 394.9v6.5M247.5 394.9v6.5M267.1 394.9v6.5M283.6 394.9v6.5M85.3 401.3v6.5M113.8 401.3v6.5M148.4 401.3v6.5M161.9 401.3v6.5M173.9 401.3v6.5M204.0 401.3v6.5M270.1 401.3v6.5M307.6 401.3v6.5M309.1 401.3v6.5M67.3 407.8v5.8M77.8 407.8v5.8M142.4 407.8v5.8M148.4 407.8v5.8M195.0 407.8v5.8M213.0 407.8v5.8M216.0 407.8v5.8M270.1 407.8v5.8M282.1 407.8v5.8M313.6 407.8v5.8M77.8 413.6v5.8M118.3 413.6v5.8M121.3 413.6v5.8M137.9 413.6v5.8M247.5 413.6v5.8M270.1 413.6v5.8M80.8 419.5v5.8M113.8 419.5v5.8M121.3 419.5v5.8M195.0 419.5v5.8M211.5 419.5v5.8M225.0 419.5v5.8M247.5 419.5v5.8M258.0 419.5v5.8M262.6 419.5v5.8M279.1 419.5v5.8M65.8 425.4v5.8M116.8 425.4v5.8M119.8 425.4v5.8M173.9 425.4v5.8M188.9 425.4v5.8M270.1 425.4v5.8M283.6 425.4v5.8M67.3 431.2v5.8M77.8 431.2v5.8M137.9 431.2v5.8M173.9 431.2v5.8M258.0 431.2v5.8M270.1 431.2v5.8M282.1 431.2v5.8M325.6 431.2v5.8M92.8 437.0v5.8M122.8 437.0v5.8M161.9 437.0v5.8M195.0 437.0v5.8M247.5 437.0v5.8M283.6 437.0v5.8M304.6 437.0v5.8M315.1 437.0v5.8M324.1 437.0v5.8M328.6 437.0v5.8M67.3 442.7v5.8M137.9 442.7v5.8M173.9 442.7v5.8M181.4 442.7v5.8M204.0 442.7v5.8M211.5 442.7v5.8M216.0 442.7v5.8M225.0 442.7v5.8M262.6 442.7v5.8M267.1 442.7v5.8M304.6 442.7v5.8M316.6 442.7v5.8"/>
<path stroke="#414487" stroke-width="1.55" fill="none" d="M166.4 243.3v6.8M204.0 243.3v6.8M207.0 243.3v6.8M279.1 243.3v6.8M195.0 250.1v6.8M56.8 256.8v6.7M59.8 256.8v6.7M65.8 256.8v6.7M67.3 256.8v6.7M73.3 256.8v6.7M74.8 256.8v6.7M83.8 256.8v6.7M195.0 256.8v6.7M279.1 256.8v6.7M303.1 256.8v6.7M59.8 263.5v6.7M64.3 263.5v6.7M71.8 263.5v6.7M79.3 263.5v6.7M86.8 263.5v6.7M89.8 263.5v6.7M181.4 263.5v6.7M247.5 263.5v6.7M282.1 263.5v6.7M58.3 270.3v6.7M59.8 270.3v6.7M62.8 270.3v6.7M64.3 270.3v6.7M74.8 270.3v6.7M80.8 270.3v6.7M82.3 270.3v6.7M86.8 270.3v6.7M122.8 270.3v6.7M166.4 270.3v6.7M181.4 270.3v6.7M71.8 277.0v6.7M166.4 277.0v6.7M181.4 277.0v6.7M238.5 277.0v6.7M65.8 283.8v6.7M77.8 283.8v6.7M79.3 283.8v6.7M85.3 283.8v6.7M88.3 283.8v6.7M91.3 283.8v6.7M204.0 283.8v6.7M279.1 283.8v6.7M322.6 283.8v6.7M61.3 290.5v6.7M62.8 290.5v6.7M70.3 290.5v6.7M74.8 290.5v6.7M76.3 290.5v6.7M80.8 290.5v6.7M85.3 290.5v6.7M122.8 290.5v6.7M166.4 290.5v6.7M238.5 290.5v6.7M247.5 290.5v6.7M56.8 297.2v6.7M65.8 297.2v6.7M67.3 297.2v6.7M77.8 297.2v6.7M91.3 297.2v6.7M204.0 297.2v6.7M216.0 297.2v6.7M322.6 297.2v6.7M62.8 304.0v6.7M64.3 304.0v6.7M65.8 304.0v6.7M68.8 304.0v6.7M73.3 304.0v6.7M77.8 304.0v6.7M80.8 304.0v6.7M82.3 304.0v6.7M86.8 304.0v6.7M89.8 304.0v6.7M195.0 304.0v6.7M282.1 304.0v6.7M315.1 304.0v6.7M59.8 310.7v6.6M62.8 310.7v6.6M79.3 310.7v6.6M80.8 310.7v6.6M83.8 310.7v6.6M85.3 310.7v6.6M88.3 310.7v6.6M92.8 310.7v6.6M115.3 310.7v6.6M139.4 310.7v6.6M181.4 310.7v6.6M253.5 310.7v6.6M62.8 317.3v6.6M64.3 317.3v6.6M65.8 317.3v6.6M68.8 317.3v6.6M74.8 317.3v6.6M91.3 317.3v6.6M97.3 317.3v6.6M104.8 317.3v6.6M112.3 317.3v6.6M279.1 317.3v6.6M61.3 323.9v6.6M74.8 323.9v6.6M76.3 323.9v6.6M92.8 323.9v6.6M101.8 323.9v6.6M112.3 323.9v6.6M80.8 330.5v5.6M97.3 330.5v5.6M100.3 330.5v5.6M103.3 330.5v5.6M112.3 330.5v5.6M115.3 330.5v5.6M119.8 330.5v5.6M155.9 330.5v5.6M195.0 330.5v5.6M279.1 330.5v5.6M313.6 330.5v5.6M322.6 330.5v5.6M325.6 330.5v5.6M101.8 336.1v5.6M109.3 336.1v5.6M116.8 336.1v5.6M118.3 336.1v5.6M204.0 336.1v5.6M282.1 336.1v5.6M304.6 336.1v5.6M94.3 341.6v5.6M97.3 341.6v5.6M98.8 341.6v5.6M101.8 341.6v5.6M107.8 341.6v5.6M112.3 341.6v5.6M113.8 341.6v5.6M149.9 341.6v5.6M188.9 341.6v5.6M247.5 341.6v5.6M179.9 347.2v7.4M184.4 347.2v7.4M207.0 347.2v7.4M247.5 347.2v7.4M303.1 347.2v7.4M65.8 354.6v8.6M67.3 354.6v8.6M178.4 354.6v8.6M179.9 354.6v8.6M182.9 354.6v8.6M184.4 354.6v8.6M207.0 354.6v8.6M247.5 354.6v8.6M253.5 354.6v8.6M304.6 354.6v8.6M98.8 363.2v5.9M116.8 363.2v5.9M121.3 363.2v5.9M142.4 363.2v5.9M166.4 363.2v5.9M322.6 363.2v5.9M140.9 369.1v5.9M143.9 369.1v5.9M149.9 369.1v5.9M155.9 369.1v5.9M173.9 369.1v5.9M188.9 369.1v5.9M304.6 369.1v5.9M65.8 375.0v5.2M65.8 380.2v3.8M80.8 380.2v3.8M113.8 380.2v3.8M181.4 380.2v3.8M294.1 380.2v3.8M304.6 380.2v3.8M104.8 384.0v4.4M122.8 384.0v4.4M139.4 384.0v4.4M188.9 384.0v4.4M195.0 384.0v4.4M65.8 388.4v6.5M301.6 388.4v6.5M307.6 388.4v6.5M104.8 394.9v6.5M113.8 394.9v6.5M121.3 394.9v6.5M195.0 394.9v6.5M279.1 394.9v6.5M310.6 394.9v6.5M313.6 394.9v6.5M121.3 401.3v6.5M181.4 401.3v6.5M310.6 401.3v6.5M65.8 407.8v5.8M122.8 407.8v5.8M204.0 407.8v5.8M253.5 407.8v5.8M315.1 407.8v5.8M67.3 413.6v5.8M85.3 413.6v5.8M104.8 413.6v5.8M181.4 413.6v5.8M279.1 413.6v5.8M282.1 413.6v5.8M318.1 413.6v5.8M65.8 419.5v5.8M67.3 419.5v5.8M85.3 419.5v5.8M188.9 419.5v5.8M303.1 419.5v5.8M304.6 419.5v5.8M98.8 425.4v5.8M104.8 425.4v5.8M121.3 425.4v5.8M85.3 431.2v5.8M107.8 431.2v5.8M115.3 431.2v5.8M303.1 431.2v5.8M304.6 431.2v5.8M85.3 437.0v5.8M118.3 437.0v5.8M303.1 437.0v5.8M148.4 442.7v5.8M313.6 442.7v5.8"/>
<path stroke="#32648e" stroke-width="1.55" fill="none" d="M216.0 243.3v6.8M94.3 250.1v6.8M222.0 250.1v6.8M80.8 256.8v6.7M166.4 256.8v6.7M122.8 263.5v6.7M294.1 263.5v6.7M304.6 263.5v6.7M73.3 270.3v6.7M253.5 270.3v6.7M89.8 277.0v6.7M222.0 277.0v6.7M313.6 277.0v6.7M92.8 283.8v6.7M122.8 283.8v6.7M304.6 283.8v6.7M313.6 283.8v6.7M58.3 297.2v6.7M62.8 297.2v6.7M83.8 297.2v6.7M139.4 297.2v6.7M207.0 297.2v6.7M67.3 304.0v6.7M92.8 304.0v6.7M122.8 304.0v6.7M101.8 310.7v6.6M119.8 310.7v6.6M94.3 317.3v6.6M109.3 317.3v6.6M166.4 317.3v6.6M188.9 317.3v6.6M216.0 317.3v6.6M325.6 317.3v6.6M98.8 323.9v6.6M100.3 323.9v6.6M139.4 323.9v6.6M207.0 323.9v6.6M313.6 323.9v6.6M110.8 330.5v5.6M137.9 330.5v5.6M146.9 330.5v5.6M166.4 330.5v5.6M64.3 336.1v5.6M139.4 336.1v5.6M151.4 336.1v5.6M154.4 336.1v5.6M166.4 336.1v5.6M61.3 341.6v5.6M110.8 341.6v5.6M152.9 341.6v5.6M216.0 341.6v5.6M127.4 347.2v7.4M172.4 347.2v7.4M175.4 347.2v7.4M181.4 347.2v7.4M182.9 347.2v7.4M185.9 347.2v7.4M304.6 347.2v7.4M64.3 354.6v8.6M85.3 354.6v8.6M238.5 354.6v8.6M216.0 363.2v5.9M85.3 369.1v5.9M157.4 369.1v5.9M160.4 369.1v5.9M169.4 369.1v5.9M172.4 369.1v5.9M325.6 369.1v5.9M313.6 375.0v5.2M139.4 380.2v3.8M166.4 380.2v3.8M198.0 380.2v3.8M250.5 380.2v3.8M298.6 380.2v3.8M303.1 380.2v3.8M306.1 380.2v3.8M322.6 380.2v3.8M207.0 388.4v6.5M297.1 394.9v6.5M315.1 394.9v6.5M124.3 401.3v6.5M139.4 401.3v6.5M166.4 401.3v6.5M292.6 401.3v6.5M325.6 401.3v6.5M316.6 407.8v5.8M318.1 407.8v5.8M222.0 413.6v5.8M122.8 419.5v5.8M318.1 419.5v5.8M319.6 419.5v5.8M61.3 425.4v5.8M85.3 425.4v5.8M222.0 425.4v5.8M316.6 425.4v5.8M321.1 425.4v5.8M101.8 431.2v5.8M104.8 431.2v5.8M106.3 431.2v5.8M110.8 431.2v5.8M113.8 431.2v5.8M61.3 437.0v5.8M98.8 437.0v5.8M103.3 437.0v5.8M112.3 437.0v5.8M119.8 437.0v5.8M207.0 437.0v5.8M222.0 437.0v5.8M110.8 442.7v5.8M116.8 442.7v5.8"/>
<path stroke="#4ec36b" stroke-width="1.55" fill="none" d="M238.5 243.3v6.8M238.5 388.4v6.5M238.5 401.3v6.5M238.5 419.5v5.8"/>
<path stroke="#63cb5f" stroke-width="1.55" fill="none" d="M238.5 297.2v6.7M238.5 425.4v5.8"/>
<defs><pattern id="speck" width="67" height="49" patternUnits="userSpaceOnUse" x="56.0" y="243.3"><path fill="#440154" fill-opacity="0.85" d="M6 0h1v1h-1zM11 0h1v1h-1zM12 0h1v1h-1zM14 0h1v1h-1zM18 0h1v1h-1zM19 0h1v1h-1zM29 0h1v1h-1zM30 0h1v1h-1zM31 0h1v1h-1zM32 0h1v1h-1zM33 0h1v1h-1zM34 0h1v1h-1zM39 0h1v1h-1zM44 0h1v1h-1zM52 0h1v1h-1zM55 0h1v1h-1zM59 0h1v1h-1zM60 0h1v1h-1zM61 0h1v1h-1zM64 0h1v1h-1zM0 1h1v1h-1zM10 1h1v1h-1zM11 1h1v1h-1zM13 1h1v1h-1zM15 1h1v1h-1zM22 1h1v1h-1zM23 1h1v1h-1zM28 1h1v1h-1zM30 1h1v1h-1zM32 1h1v1h-1zM33 1h1v1h-1zM35 1h1v1h-1zM38 1h1v1h-1zM40 1h1v1h-1zM43 1h1v1h-1zM47 1h1v1h-1zM55 1h1v1h-1zM58 1h1v1h-1zM59 1h1v1h-1zM61 1h1v1h-1zM66 1h1v1h-1zM2 2h1v1h-1zM8 2h1v1h-1zM9 2h1v1h-1zM10 2h1v1h-1zM14 2h1v1h-1zM23 2h1v1h-1zM25 2h1v1h-1zM33 2h1v1h-1zM34 2h1v1h-1zM38 2h1v1h-1zM44 2h1v1h-1zM46 2h1v1h-1zM47 2h1v1h-1zM53 2h1v1h-1zM65 2h1v1h-1zM2 3h1v1h-1zM4 3h1v1h-1zM5 3h1v1h-1zM8 3h1v1h-1zM11 3h1v1h-1zM12 3h1v1h-1zM13 3h1v1h-1zM14 3h1v1h-1zM20 3h1v1h-1zM21 3h1v1h-1zM22 3h1v1h-1zM26 3h1v1h-1zM35 3h1v1h-1zM38 3h1v1h-1zM39 3h1v1h-1zM41 3h1v1h-1zM45 3h1v1h-1zM50 3h1v1h-1zM54 3h1v1h-1zM56 3h1v1h-1zM64 3h1v1h-1zM4 4h1v1h-1zM6 4h1v1h-1zM14 4h1v1h-1zM19 4h1v1h-1zM21 4h1v1h-1zM27 4h1v1h-1zM29 4h1v1h-1zM32 4h1v1h-1zM39 4h1v1h-1zM41 4h1v1h-1zM42 4h1v1h-1zM43 4h1v1h-1zM45 4h1v1h-1zM46 4h1v1h-1zM49 4h1v1h-1zM51 4h1v1h-1zM56 4h1v1h-1zM64 4h1v1h-1zM3 5h1v1h-1zM7 5h1v1h-1zM8 5h1v1h-1zM10 5h1v1h-1zM11 5h1v1h-1zM14 5h1v1h-1zM17 5h1v1h-1zM23 5h1v1h-1zM24 5h1v1h-1zM30 5h1v1h-1zM32 5h1v1h-1zM40 5h1v1h-1zM42 5h1v1h-1zM43 5h1v1h-1zM47 5h1v1h-1zM50 5h1v1h-1zM52 5h1v1h-1zM55 5h1v1h-1zM57 5h1v1h-1zM58 5h1v1h-1zM59 5h1v1h-1zM2 6h1v1h-1zM4 6h1v1h-1zM7 6h1v1h-1zM8 6h1v1h-1zM10 6h1v1h-1zM11 6h1v1h-1zM17 6h1v1h-1zM20 6h1v1h-1zM27 6h1v1h-1zM28 6h1v1h-1zM32 6h1v1h-1zM34 6h1v1h-1zM35 6h1v1h-1zM36 6h1v1h-1zM37 6h1v1h-1zM39 6h1v1h-1zM41 6h1v1h-1zM42 6h1v1h-1zM44 6h1v1h-1zM45 6h1v1h-1zM48 6h1v1h-1zM50 6h1v1h-1zM53 6h1v1h-1zM54 6h1v1h-1zM55 6h1v1h-1zM59 6h1v1h-1zM66 6h1v1h-1zM1 7h1v1h-1zM3 7h1v1h-1zM8 7h1v1h-1zM10 7h1v1h-1zM12 7h1v1h-1zM14 7h1v1h-1zM15 7h1v1h-1zM16 7h1v1h-1zM17 7h1v1h-1zM22 7h1v1h-1zM25 7h1v1h-1zM28 7h1v1h-1zM32 7h1v1h-1zM38 7h1v1h-1zM39 7h1v1h-1zM42 7h1v1h-1zM43 7h1v1h-1zM44 7h1v1h-1zM57 7h1v1h-1zM58 7h1v1h-1zM61 7h1v1h-1zM64 7h1v1h-1zM66 7h1v1h-1zM0 8h1v1h-1zM1 8h1v1h-1zM8 8h1v1h-1zM9 8h1v1h-1zM13 8h1v1h-1zM15 8h1v1h-1zM23 8h1v1h-1zM26 8h1v1h-1zM44 8h1v1h-1zM49 8h1v1h-1zM55 8h1v1h-1zM57 8h1v1h-1zM60 8h1v1h-1zM64 8h1v1h-1zM65 8h1v1h-1zM7 9h1v1h-1zM8 9h1v1h-1zM10 9h1v1h-1zM12 9h1v1h-1zM13 9h1v1h-1zM20 9h1v1h-1zM25 9h1v1h-1zM35 9h1v1h-1zM39 9h1v1h-1zM49 9h1v1h-1zM54 9h1v1h-1zM60 9h1v1h-1zM1 10h1v1h-1zM3 10h1v1h-1zM5 10h1v1h-1zM6 10h1v1h-1zM7 10h1v1h-1zM11 10h1v1h-1zM15 10h1v1h-1zM16 10h1v1h-1zM21 10h1v1h-1zM27 10h1v1h-1zM36 10h1v1h-1zM47 10h1v1h-1zM49 10h1v1h-1zM51 10h1v1h-1zM52 10h1v1h-1zM53 10h1v1h-1zM55 10h1v1h-1zM57 10h1v1h-1zM61 10h1v1h-1zM62 10h1v1h-1zM65 10h1v1h-1zM66 10h1v1h-1zM2 11h1v1h-1zM3 11h1v1h-1zM6 11h1v1h-1zM10 11h1v1h-1zM19 11h1v1h-1zM24 11h1v1h-1zM25 11h1v1h-1zM27 11h1v1h-1zM29 11h1v1h-1zM34 11h1v1h-1zM35 11h1v1h-1zM36 11h1v1h-1zM37 11h1v1h-1zM39 11h1v1h-1zM41 11h1v1h-1zM42 11h1v1h-1zM43 11h1v1h-1zM44 11h1v1h-1zM48 11h1v1h-1zM51 11h1v1h-1zM55 11h1v1h-1zM56 11h1v1h-1zM62 11h1v1h-1zM65 11h1v1h-1zM3 12h1v1h-1zM4 12h1v1h-1zM10 12h1v1h-1zM12 12h1v1h-1zM15 12h1v1h-1zM16 12h1v1h-1zM18 12h1v1h-1zM21 12h1v1h-1zM24 12h1v1h-1zM25 12h1v1h-1zM26 12h1v1h-1zM28 12h1v1h-1zM30 12h1v1h-1zM42 12h1v1h-1zM44 12h1v1h-1zM45 12h1v1h-1zM47 12h1v1h-1zM48 12h1v1h-1zM51 12h1v1h-1zM53 12h1v1h-1zM55 12h1v1h-1zM56 12h1v1h-1zM62 12h1v1h-1zM64 12h1v1h-1zM65 12h1v1h-1zM0 13h1v1h-1zM4 13h1v1h-1zM7 13h1v1h-1zM13 13h1v1h-1zM15 13h1v1h-1zM20 13h1v1h-1zM21 13h1v1h-1zM23 13h1v1h-1zM25 13h1v1h-1zM27 13h1v1h-1zM35 13h1v1h-1zM36 13h1v1h-1zM37 13h1v1h-1zM40 13h1v1h-1zM42 13h1v1h-1zM44 13h1v1h-1zM45 13h1v1h-1zM46 13h1v1h-1zM54 13h1v1h-1zM55 13h1v1h-1zM60 13h1v1h-1zM62 13h1v1h-1zM63 13h1v1h-1zM64 13h1v1h-1zM3 14h1v1h-1zM5 14h1v1h-1zM14 14h1v1h-1zM15 14h1v1h-1zM23 14h1v1h-1zM35 14h1v1h-1zM36 14h1v1h-1zM38 14h1v1h-1zM39 14h1v1h-1zM40 14h1v1h-1zM50 14h1v1h-1zM51 14h1v1h-1zM52 14h1v1h-1zM53 14h1v1h-1zM58 14h1v1h-1zM65 14h1v1h-1zM1 15h1v1h-1zM5 15h1v1h-1zM8 15h1v1h-1zM9 15h1v1h-1zM13 15h1v1h-1zM15 15h1v1h-1zM18 15h1v1h-1zM23 15h1v1h-1zM28 15h1v1h-1zM29 15h1v1h-1zM31 15h1v1h-1zM32 15h1v1h-1zM33 15h1v1h-1zM35 15h1v1h-1zM36 15h1v1h-1zM37 15h1v1h-1zM38 15h1v1h-1zM44 15h1v1h-1zM45 15h1v1h-1zM47 15h1v1h-1zM48 15h1v1h-1zM59 15h1v1h-1zM60 15h1v1h-1zM62 15h1v1h-1zM65 15h1v1h-1zM2 16h1v1h-1zM4 16h1v1h-1zM7 16h1v1h-1zM10 16h1v1h-1zM11 16h1v1h-1zM13 16h1v1h-1zM19 16h1v1h-1zM20 16h1v1h-1zM21 16h1v1h-1zM30 16h1v1h-1zM36 16h1v1h-1zM39 16h1v1h-1zM42 16h1v1h-1zM47 16h1v1h-1zM48 16h1v1h-1zM54 16h1v1h-1zM58 16h1v1h-1zM59 16h1v1h-1zM61 16h1v1h-1zM1 17h1v1h-1zM7 17h1v1h-1zM10 17h1v1h-1zM13 17h1v1h-1zM14 17h1v1h-1zM20 17h1v1h-1zM21 17h1v1h-1zM23 17h1v1h-1zM24 17h1v1h-1zM26 17h1v1h-1zM30 17h1v1h-1zM35 17h1v1h-1zM38 17h1v1h-1zM40 17h1v1h-1zM41 17h1v1h-1zM44 17h1v1h-1zM46 17h1v1h-1zM48 17h1v1h-1zM50 17h1v1h-1zM52 17h1v1h-1zM54 17h1v1h-1zM55 17h1v1h-1zM58 17h1v1h-1zM63 17h1v1h-1zM1 18h1v1h-1zM2 18h1v1h-1zM4 18h1v1h-1zM5 18h1v1h-1zM7 18h1v1h-1zM18 18h1v1h-1zM21 18h1v1h-1zM22 18h1v1h-1zM24 18h1v1h-1zM28 18h1v1h-1zM29 18h1v1h-1zM30 18h1v1h-1zM31 18h1v1h-1zM39 18h1v1h-1zM40 18h1v1h-1zM46 18h1v1h-1zM47 18h1v1h-1zM48 18h1v1h-1zM53 18h1v1h-1zM54 18h1v1h-1zM62 18h1v1h-1zM63 18h1v1h-1zM66 18h1v1h-1zM0 19h1v1h-1zM1 19h1v1h-1zM5 19h1v1h-1zM7 19h1v1h-1zM8 19h1v1h-1zM16 19h1v1h-1zM20 19h1v1h-1zM24 19h1v1h-1zM26 19h1v1h-1zM27 19h1v1h-1zM31 19h1v1h-1zM35 19h1v1h-1zM36 19h1v1h-1zM40 19h1v1h-1zM42 19h1v1h-1zM44 19h1v1h-1zM47 19h1v1h-1zM48 19h1v1h-1zM49 19h1v1h-1zM50 19h1v1h-1zM52 19h1v1h-1zM55 19h1v1h-1zM56 19h1v1h-1zM59 19h1v1h-1zM63 19h1v1h-1zM64 19h1v1h-1zM65 19h1v1h-1zM7 20h1v1h-1zM8 20h1v1h-1zM11 20h1v1h-1zM20 20h1v1h-1zM22 20h1v1h-1zM23 20h1v1h-1zM29 20h1v1h-1zM33 20h1v1h-1zM40 20h1v1h-1zM44 20h1v1h-1zM45 20h1v1h-1zM50 20h1v1h-1zM54 20h1v1h-1zM55 20h1v1h-1zM61 20h1v1h-1zM1 21h1v1h-1zM3 21h1v1h-1zM5 21h1v1h-1zM8 21h1v1h-1zM27 21h1v1h-1zM29 21h1v1h-1zM33 21h1v1h-1zM34 21h1v1h-1zM36 21h1v1h-1zM41 21h1v1h-1zM45 21h1v1h-1zM50 21h1v1h-1zM51 21h1v1h-1zM55 21h1v1h-1zM56 21h1v1h-1zM59 21h1v1h-1zM62 21h1v1h-1zM64 21h1v1h-1zM2 22h1v1h-1zM4 22h1v1h-1zM7 22h1v1h-1zM14 22h1v1h-1zM15 22h1v1h-1zM18 22h1v1h-1zM27 22h1v1h-1zM30 22h1v1h-1zM32 22h1v1h-1zM33 22h1v1h-1zM35 22h1v1h-1zM38 22h1v1h-1zM41 22h1v1h-1zM42 22h1v1h-1zM46 22h1v1h-1zM48 22h1v1h-1zM52 22h1v1h-1zM53 22h1v1h-1zM55 22h1v1h-1zM57 22h1v1h-1zM58 22h1v1h-1zM62 22h1v1h-1zM3 23h1v1h-1zM7 23h1v1h-1zM9 23h1v1h-1zM10 23h1v1h-1zM11 23h1v1h-1zM13 23h1v1h-1zM20 23h1v1h-1zM22 23h1v1h-1zM35 23h1v1h-1zM37 23h1v1h-1zM46 23h1v1h-1zM49 23h1v1h-1zM50 23h1v1h-1zM55 23h1v1h-1zM57 23h1v1h-1zM59 23h1v1h-1zM60 23h1v1h-1zM61 23h1v1h-1zM62 23h1v1h-1zM4 24h1v1h-1zM7 24h1v1h-1zM8 24h1v1h-1zM11 24h1v1h-1zM13 24h1v1h-1zM19 24h1v1h-1zM21 24h1v1h-1zM22 24h1v1h-1zM27 24h1v1h-1zM31 24h1v1h-1zM35 24h1v1h-1zM43 24h1v1h-1zM44 24h1v1h-1zM49 24h1v1h-1zM51 24h1v1h-1zM54 24h1v1h-1zM7 25h1v1h-1zM13 25h1v1h-1zM14 25h1v1h-1zM17 25h1v1h-1zM18 25h1v1h-1zM20 25h1v1h-1zM26 25h1v1h-1zM29 25h1v1h-1zM30 25h1v1h-1zM34 25h1v1h-1zM35 25h1v1h-1zM38 25h1v1h-1zM39 25h1v1h-1zM40 25h1v1h-1zM42 25h1v1h-1zM43 25h1v1h-1zM44 25h1v1h-1zM46 25h1v1h-1zM47 25h1v1h-1zM49 25h1v1h-1zM54 25h1v1h-1zM56 25h1v1h-1zM57 25h1v1h-1zM58 25h1v1h-1zM60 25h1v1h-1zM65 25h1v1h-1zM1 26h1v1h-1zM4 26h1v1h-1zM6 26h1v1h-1zM9 26h1v1h-1zM12 26h1v1h-1zM16 26h1v1h-1zM17 26h1v1h-1zM18 26h1v1h-1zM19 26h1v1h-1zM20 26h1v1h-1zM21 26h1v1h-1zM28 26h1v1h-1zM29 26h1v1h-1zM32 26h1v1h-1zM34 26h1v1h-1zM38 26h1v1h-1zM45 26h1v1h-1zM49 26h1v1h-1zM50 26h1v1h-1zM55 26h1v1h-1zM57 26h1v1h-1zM59 26h1v1h-1zM60 26h1v1h-1zM62 26h1v1h-1zM63 26h1v1h-1zM0 27h1v1h-1zM1 27h1v1h-1zM8 27h1v1h-1zM13 27h1v1h-1zM19 27h1v1h-1zM22 27h1v1h-1zM28 27h1v1h-1zM29 27h1v1h-1zM30 27h1v1h-1zM31 27h1v1h-1zM33 27h1v1h-1zM35 27h1v1h-1zM37 27h1v1h-1zM38 27h1v1h-1zM42 27h1v1h-1zM51 27h1v1h-1zM54 27h1v1h-1zM57 27h1v1h-1zM59 27h1v1h-1zM60 27h1v1h-1zM61 27h1v1h-1zM63 27h1v1h-1zM0 28h1v1h-1zM3 28h1v1h-1zM6 28h1v1h-1zM7 28h1v1h-1zM9 28h1v1h-1zM14 28h1v1h-1zM15 28h1v1h-1zM16 28h1v1h-1zM23 28h1v1h-1zM25 28h1v1h-1zM28 28h1v1h-1zM31 28h1v1h-1zM35 28h1v1h-1zM37 28h1v1h-1zM38 28h1v1h-1zM39 28h1v1h-1zM41 28h1v1h-1zM43 28h1v1h-1zM45 28h1v1h-1zM46 28h1v1h-1zM63 28h1v1h-1zM64 28h1v1h-1zM65 28h1v1h-1zM66 28h1v1h-1zM0 29h1v1h-1zM6 29h1v1h-1zM7 29h1v1h-1zM8 29h1v1h-1zM11 29h1v1h-1zM12 29h1v1h-1zM18 29h1v1h-1zM21 29h1v1h-1zM23 29h1v1h-1zM24 29h1v1h-1zM32 29h1v1h-1zM33 29h1v1h-1zM34 29h1v1h-1zM35 29h1v1h-1zM39 29h1v1h-1zM48 29h1v1h-1zM49 29h1v1h-1zM53 29h1v1h-1zM54 29h1v1h-1zM57 29h1v1h-1zM59 29h1v1h-1zM2 30h1v1h-1zM3 30h1v1h-1zM4 30h1v1h-1zM5 30h1v1h-1zM6 30h1v1h-1zM12 30h1v1h-1zM19 30h1v1h-1zM20 30h1v1h-1zM21 30h1v1h-1zM24 30h1v1h-1zM27 30h1v1h-1zM38 30h1v1h-1zM41 30h1v1h-1zM43 30h1v1h-1zM44 30h1v1h-1zM49 30h1v1h-1zM55 30h1v1h-1zM57 30h1v1h-1zM61 30h1v1h-1zM63 30h1v1h-1zM65 30h1v1h-1zM1 31h1v1h-1zM4 31h1v1h-1zM6 31h1v1h-1zM10 31h1v1h-1zM17 31h1v1h-1zM25 31h1v1h-1zM27 31h1v1h-1zM30 31h1v1h-1zM31 31h1v1h-1zM32 31h1v1h-1zM34 31h1v1h-1zM35 31h1v1h-1zM36 31h1v1h-1zM38 31h1v1h-1zM41 31h1v1h-1zM43 31h1v1h-1zM47 31h1v1h-1zM48 31h1v1h-1zM50 31h1v1h-1zM53 31h1v1h-1zM56 31h1v1h-1zM59 31h1v1h-1zM60 31h1v1h-1zM64 31h1v1h-1zM66 31h1v1h-1zM1 32h1v1h-1zM5 32h1v1h-1zM6 32h1v1h-1zM8 32h1v1h-1zM12 32h1v1h-1zM22 32h1v1h-1zM25 32h1v1h-1zM28 32h1v1h-1zM30 32h1v1h-1zM39 32h1v1h-1zM40 32h1v1h-1zM41 32h1v1h-1zM47 32h1v1h-1zM50 32h1v1h-1zM54 32h1v1h-1zM55 32h1v1h-1zM56 32h1v1h-1zM58 32h1v1h-1zM59 32h1v1h-1zM63 32h1v1h-1zM66 32h1v1h-1zM0 33h1v1h-1zM2 33h1v1h-1zM8 33h1v1h-1zM11 33h1v1h-1zM13 33h1v1h-1zM14 33h1v1h-1zM16 33h1v1h-1zM17 33h1v1h-1zM19 33h1v1h-1zM23 33h1v1h-1zM28 33h1v1h-1zM32 33h1v1h-1zM33 33h1v1h-1zM40 33h1v1h-1zM42 33h1v1h-1zM47 33h1v1h-1zM54 33h1v1h-1zM57 33h1v1h-1zM60 33h1v1h-1zM63 33h1v1h-1zM65 33h1v1h-1zM3 34h1v1h-1zM4 34h1v1h-1zM7 34h1v1h-1zM8 34h1v1h-1zM12 34h1v1h-1zM14 34h1v1h-1zM17 34h1v1h-1zM22 34h1v1h-1zM24 34h1v1h-1zM25 34h1v1h-1zM26 34h1v1h-1zM30 34h1v1h-1zM31 34h1v1h-1zM32 34h1v1h-1zM34 34h1v1h-1zM35 34h1v1h-1zM45 34h1v1h-1zM46 34h1v1h-1zM51 34h1v1h-1zM52 34h1v1h-1zM53 34h1v1h-1zM54 34h1v1h-1zM56 34h1v1h-1zM57 34h1v1h-1zM61 34h1v1h-1zM66 34h1v1h-1zM1 35h1v1h-1zM5 35h1v1h-1zM8 35h1v1h-1zM9 35h1v1h-1zM11 35h1v1h-1zM13 35h1v1h-1zM14 35h1v1h-1zM19 35h1v1h-1zM20 35h1v1h-1zM21 35h1v1h-1zM23 35h1v1h-1zM26 35h1v1h-1zM27 35h1v1h-1zM29 35h1v1h-1zM37 35h1v1h-1zM42 35h1v1h-1zM47 35h1v1h-1zM48 35h1v1h-1zM51 35h1v1h-1zM56 35h1v1h-1zM59 35h1v1h-1zM61 35h1v1h-1zM4 36h1v1h-1zM5 36h1v1h-1zM10 36h1v1h-1zM13 36h1v1h-1zM16 36h1v1h-1zM21 36h1v1h-1zM23 36h1v1h-1zM26 36h1v1h-1zM31 36h1v1h-1zM35 36h1v1h-1zM37 36h1v1h-1zM38 36h1v1h-1zM39 36h1v1h-1zM41 36h1v1h-1zM42 36h1v1h-1zM48 36h1v1h-1zM50 36h1v1h-1zM53 36h1v1h-1zM58 36h1v1h-1zM66 36h1v1h-1zM5 37h1v1h-1zM6 37h1v1h-1zM9 37h1v1h-1zM13 37h1v1h-1zM15 37h1v1h-1zM16 37h1v1h-1zM20 37h1v1h-1zM25 37h1v1h-1zM26 37h1v1h-1zM27 37h1v1h-1zM28 37h1v1h-1zM29 37h1v1h-1zM31 37h1v1h-1zM35 37h1v1h-1zM37 37h1v1h-1zM44 37h1v1h-1zM46 37h1v1h-1zM47 37h1v1h-1zM48 37h1v1h-1zM59 37h1v1h-1zM60 37h1v1h-1zM61 37h1v1h-1zM0 38h1v1h-1zM4 38h1v1h-1zM9 38h1v1h-1zM12 38h1v1h-1zM17 38h1v1h-1zM29 38h1v1h-1zM31 38h1v1h-1zM34 38h1v1h-1zM45 38h1v1h-1zM46 38h1v1h-1zM47 38h1v1h-1zM51 38h1v1h-1zM53 38h1v1h-1zM61 38h1v1h-1zM62 38h1v1h-1zM64 38h1v1h-1zM1 39h1v1h-1zM2 39h1v1h-1zM6 39h1v1h-1zM8 39h1v1h-1zM9 39h1v1h-1zM11 39h1v1h-1zM14 39h1v1h-1zM15 39h1v1h-1zM16 39h1v1h-1zM17 39h1v1h-1zM19 39h1v1h-1zM24 39h1v1h-1zM29 39h1v1h-1zM32 39h1v1h-1zM38 39h1v1h-1zM43 39h1v1h-1zM46 39h1v1h-1zM49 39h1v1h-1zM50 39h1v1h-1zM54 39h1v1h-1zM58 39h1v1h-1zM64 39h1v1h-1zM1 40h1v1h-1zM6 40h1v1h-1zM7 40h1v1h-1zM8 40h1v1h-1zM10 40h1v1h-1zM15 40h1v1h-1zM16 40h1v1h-1zM21 40h1v1h-1zM31 40h1v1h-1zM44 40h1v1h-1zM47 40h1v1h-1zM48 40h1v1h-1zM50 40h1v1h-1zM52 40h1v1h-1zM54 40h1v1h-1zM55 40h1v1h-1zM60 40h1v1h-1zM61 40h1v1h-1zM64 40h1v1h-1zM66 40h1v1h-1zM0 41h1v1h-1zM6 41h1v1h-1zM7 41h1v1h-1zM12 41h1v1h-1zM16 41h1v1h-1zM17 41h1v1h-1zM19 41h1v1h-1zM23 41h1v1h-1zM27 41h1v1h-1zM28 41h1v1h-1zM29 41h1v1h-1zM33 41h1v1h-1zM34 41h1v1h-1zM40 41h1v1h-1zM43 41h1v1h-1zM47 41h1v1h-1zM52 41h1v1h-1zM53 41h1v1h-1zM56 41h1v1h-1zM59 41h1v1h-1zM63 41h1v1h-1zM2 42h1v1h-1zM4 42h1v1h-1zM6 42h1v1h-1zM9 42h1v1h-1zM10 42h1v1h-1zM14 42h1v1h-1zM17 42h1v1h-1zM23 42h1v1h-1zM29 42h1v1h-1zM30 42h1v1h-1zM31 42h1v1h-1zM36 42h1v1h-1zM38 42h1v1h-1zM40 42h1v1h-1zM42 42h1v1h-1zM43 42h1v1h-1zM51 42h1v1h-1zM52 42h1v1h-1zM53 42h1v1h-1zM57 42h1v1h-1zM58 42h1v1h-1zM63 42h1v1h-1zM0 43h1v1h-1zM2 43h1v1h-1zM3 43h1v1h-1zM5 43h1v1h-1zM8 43h1v1h-1zM9 43h1v1h-1zM11 43h1v1h-1zM16 43h1v1h-1zM18 43h1v1h-1zM19 43h1v1h-1zM21 43h1v1h-1zM28 43h1v1h-1zM39 43h1v1h-1zM41 43h1v1h-1zM45 43h1v1h-1zM46 43h1v1h-1zM47 43h1v1h-1zM49 43h1v1h-1zM55 43h1v1h-1zM58 43h1v1h-1zM60 43h1v1h-1zM0 44h1v1h-1zM9 44h1v1h-1zM12 44h1v1h-1zM13 44h1v1h-1zM16 44h1v1h-1zM18 44h1v1h-1zM21 44h1v1h-1zM23 44h1v1h-1zM26 44h1v1h-1zM27 44h1v1h-1zM28 44h1v1h-1zM30 44h1v1h-1zM31 44h1v1h-1zM35 44h1v1h-1zM36 44h1v1h-1zM38 44h1v1h-1zM41 44h1v1h-1zM42 44h1v1h-1zM43 44h1v1h-1zM46 44h1v1h-1zM47 44h1v1h-1zM49 44h1v1h-1zM58 44h1v1h-1zM62 44h1v1h-1zM64 44h1v1h-1zM66 44h1v1h-1zM0 45h1v1h-1zM5 45h1v1h-1zM7 45h1v1h-1zM12 45h1v1h-1zM16 45h1v1h-1zM24 45h1v1h-1zM26 45h1v1h-1zM28 45h1v1h-1zM29 45h1v1h-1zM30 45h1v1h-1zM31 45h1v1h-1zM32 45h1v1h-1zM34 45h1v1h-1zM35 45h1v1h-1zM36 45h1v1h-1zM40 45h1v1h-1zM42 45h1v1h-1zM46 45h1v1h-1zM47 45h1v1h-1zM50 45h1v1h-1zM51 45h1v1h-1zM52 45h1v1h-1zM53 45h1v1h-1zM55 45h1v1h-1zM57 45h1v1h-1zM59 45h1v1h-1zM64 45h1v1h-1zM66 45h1v1h-1zM0 46h1v1h-1zM1 46h1v1h-1zM5 46h1v1h-1zM6 46h1v1h-1zM10 46h1v1h-1zM11 46h1v1h-1zM13 46h1v1h-1zM16 46h1v1h-1zM20 46h1v1h-1zM22 46h1v1h-1zM30 46h1v1h-1zM36 46h1v1h-1zM37 46h1v1h-1zM40 46h1v1h-1zM42 46h1v1h-1zM44 46h1v1h-1zM46 46h1v1h-1zM47 46h1v1h-1zM50 46h1v1h-1zM51 46h1v1h-1zM53 46h1v1h-1zM59 46h1v1h-1zM60 46h1v1h-1zM62 46h1v1h-1zM64 46h1v1h-1zM0 47h1v1h-1zM2 47h1v1h-1zM3 47h1v1h-1zM9 47h1v1h-1zM10 47h1v1h-1zM15 47h1v1h-1zM16 47h1v1h-1zM21 47h1v1h-1zM22 47h1v1h-1zM23 47h1v1h-1zM26 47h1v1h-1zM31 47h1v1h-1zM37 47h1v1h-1zM38 47h1v1h-1zM39 47h1v1h-1zM42 47h1v1h-1zM43 47h1v1h-1zM49 47h1v1h-1zM50 47h1v1h-1zM56 47h1v1h-1zM59 47h1v1h-1zM63 47h1v1h-1zM66 47h1v1h-1zM1 48h1v1h-1zM4 48h1v1h-1zM9 48h1v1h-1zM12 48h1v1h-1zM13 48h1v1h-1zM14 48h1v1h-1zM17 48h1v1h-1zM20 48h1v1h-1zM23 48h1v1h-1zM25 48h1v1h-1zM27 48h1v1h-1zM32 48h1v1h-1zM34 48h1v1h-1zM36 48h1v1h-1zM37 48h1v1h-1zM38 48h1v1h-1zM39 48h1v1h-1zM42 48h1v1h-1zM44 48h1v1h-1zM45 48h1v1h-1zM46 48h1v1h-1zM51 48h1v1h-1zM52 48h1v1h-1zM58 48h1v1h-1zM63 48h1v1h-1z"/><path fill="#2fb47c" d="M15 0h1v1h-1zM36 0h1v1h-1zM38 0h1v1h-1zM54 1h1v1h-1zM22 2h1v1h-1zM37 2h1v1h-1zM55 2h1v1h-1zM63 2h1v1h-1zM29 3h1v1h-1zM38 5h1v1h-1zM9 6h1v1h-1zM32 8h1v1h-1zM39 8h1v1h-1zM24 9h1v1h-1zM17 10h1v1h-1zM1 12h1v1h-1zM11 12h1v1h-1zM0 17h1v1h-1zM65 17h1v1h-1zM66 17h1v1h-1zM57 18h1v1h-1zM1 20h1v1h-1zM14 20h1v1h-1zM38 20h1v1h-1zM24 21h1v1h-1zM54 22h1v1h-1zM17 24h1v1h-1zM60 24h1v1h-1zM13 26h1v1h-1zM12 27h1v1h-1zM44 27h1v1h-1zM10 29h1v1h-1zM63 29h1v1h-1zM16 31h1v1h-1zM29 34h1v1h-1zM7 36h1v1h-1zM51 36h1v1h-1zM52 38h1v1h-1zM4 39h1v1h-1zM42 39h1v1h-1zM46 40h1v1h-1zM13 45h1v1h-1zM33 45h1v1h-1zM4 47h1v1h-1zM8 47h1v1h-1z"/><path fill="#7ad151" d="M16 0h1v1h-1zM29 1h1v1h-1zM57 6h1v1h-1zM20 7h1v1h-1zM56 7h1v1h-1zM63 7h1v1h-1zM22 9h1v1h-1zM26 9h1v1h-1zM38 10h1v1h-1zM49 12h1v1h-1zM28 16h1v1h-1zM60 19h1v1h-1zM46 20h1v1h-1zM24 23h1v1h-1zM25 23h1v1h-1zM40 23h1v1h-1zM2 24h1v1h-1zM38 24h1v1h-1zM21 27h1v1h-1zM36 27h1v1h-1zM56 27h1v1h-1zM27 28h1v1h-1zM48 28h1v1h-1zM10 35h1v1h-1zM10 38h1v1h-1zM12 39h1v1h-1zM34 39h1v1h-1zM24 41h1v1h-1zM57 41h1v1h-1zM50 42h1v1h-1zM26 48h1v1h-1z"/><path fill="#25848e" d="M25 1h1v1h-1zM37 1h1v1h-1zM49 2h1v1h-1zM31 4h1v1h-1zM66 5h1v1h-1zM1 6h1v1h-1zM37 9h1v1h-1zM25 10h1v1h-1zM21 11h1v1h-1zM37 14h1v1h-1zM16 15h1v1h-1zM57 15h1v1h-1zM66 15h1v1h-1zM24 20h1v1h-1zM30 20h1v1h-1zM16 21h1v1h-1zM45 22h1v1h-1zM26 24h1v1h-1zM65 24h1v1h-1zM49 32h1v1h-1zM46 33h1v1h-1zM7 35h1v1h-1zM21 37h1v1h-1zM55 37h1v1h-1zM22 38h1v1h-1zM59 38h1v1h-1zM13 41h1v1h-1zM12 42h1v1h-1zM41 42h1v1h-1zM41 45h1v1h-1zM62 45h1v1h-1zM55 46h1v1h-1zM59 48h1v1h-1z"/><path fill="#2f6c8e" d="M12 2h1v1h-1zM39 2h1v1h-1zM10 3h1v1h-1zM61 3h1v1h-1zM26 4h1v1h-1zM66 4h1v1h-1zM15 5h1v1h-1zM33 6h1v1h-1zM36 7h1v1h-1zM60 11h1v1h-1zM49 14h1v1h-1zM52 15h1v1h-1zM6 19h1v1h-1zM19 19h1v1h-1zM6 20h1v1h-1zM33 23h1v1h-1zM12 24h1v1h-1zM10 25h1v1h-1zM58 26h1v1h-1zM52 27h1v1h-1zM36 28h1v1h-1zM28 30h1v1h-1zM61 33h1v1h-1zM28 34h1v1h-1zM44 35h1v1h-1zM64 37h1v1h-1zM35 41h1v1h-1zM35 42h1v1h-1zM66 42h1v1h-1zM3 45h1v1h-1zM65 47h1v1h-1zM21 48h1v1h-1zM40 48h1v1h-1zM61 48h1v1h-1z"/><path fill="#1e9c89" d="M28 2h1v1h-1zM24 3h1v1h-1zM53 3h1v1h-1zM18 4h1v1h-1zM5 5h1v1h-1zM34 5h1v1h-1zM46 5h1v1h-1zM27 7h1v1h-1zM36 8h1v1h-1zM66 8h1v1h-1zM6 9h1v1h-1zM52 9h1v1h-1zM18 10h1v1h-1zM14 12h1v1h-1zM5 13h1v1h-1zM6 13h1v1h-1zM48 13h1v1h-1zM2 14h1v1h-1zM50 16h1v1h-1zM49 17h1v1h-1zM3 18h1v1h-1zM60 18h1v1h-1zM9 19h1v1h-1zM25 19h1v1h-1zM32 19h1v1h-1zM6 23h1v1h-1zM46 27h1v1h-1zM1 30h1v1h-1zM17 30h1v1h-1zM46 31h1v1h-1zM51 33h1v1h-1zM49 34h1v1h-1zM65 37h1v1h-1zM18 38h1v1h-1zM55 38h1v1h-1zM56 38h1v1h-1zM62 39h1v1h-1zM45 41h1v1h-1zM1 42h1v1h-1zM64 42h1v1h-1zM15 43h1v1h-1zM51 44h1v1h-1zM65 44h1v1h-1zM18 47h1v1h-1zM53 47h1v1h-1zM2 48h1v1h-1z"/></pattern></defs>
<rect x="56.0" y="243.3" width="274.9" height="205.2" fill="url(#speck)"/>
<path stroke="#63cb5f" stroke-width="1.55" fill="none" d="M56.8 243.3v1.7M64.3 243.3v1.7M64.3 246.7v1.7M70.3 246.7v1.7M70.3 248.4v1.7M73.3 245.0v1.7M77.8 245.0v1.7M80.8 243.3v1.7M82.3 243.3v1.7M82.3 245.0v1.7M85.3 245.0v1.7M56.8 253.4v1.7M59.8 251.7v1.7M61.3 251.7v1.7M68.8 250.1v1.7M73.3 253.4v1.7M74.8 251.7v1.7M77.8 253.4v1.7M79.3 250.1v1.7M79.3 253.4v1.7M80.8 251.7v1.7M80.8 253.4v1.7M85.3 250.1v1.7M85.3 253.4v1.7M88.3 253.4v1.7M89.8 250.1v1.7M89.8 253.4v1.7M91.3 250.1v1.7M91.3 253.4v1.7M97.3 256.8v1.7M98.8 261.9v1.7M103.3 261.9v1.7M110.8 260.2v1.7M112.3 261.9v1.7M113.8 256.8v1.7M113.8 260.2v1.7M116.8 256.8v1.7M118.3 261.9v1.7M98.8 263.5v1.7M103.3 266.9v1.7M106.3 265.2v1.7M109.3 266.9v1.7M109.3 268.6v1.7M113.8 266.9v1.7M113.8 268.6v1.7M115.3 263.5v1.7M97.3 273.6v1.7M100.3 270.3v1.7M103.3 273.6v1.7M106.3 270.3v1.7M107.8 270.3v1.7M109.3 272.0v1.7M110.8 270.3v1.7M112.3 272.0v1.7M118.3 270.3v1.7M95.8 280.4v1.7M100.3 282.1v1.7M106.3 280.4v1.7M106.3 282.1v1.7M110.8 282.1v1.7M94.3 288.8v1.7M95.8 288.8v1.7M97.3 285.4v1.7M100.3 288.8v1.7M104.8 287.1v1.7M106.3 285.4v1.7M106.3 288.8v1.7M107.8 283.8v1.7M109.3 285.4v1.7M119.8 288.8v1.7M97.3 293.9v1.7M97.3 295.5v1.7M100.3 290.5v1.7M101.8 290.5v1.7M101.8 292.2v1.7M103.3 290.5v1.7M103.3 292.2v1.7M106.3 290.5v1.7M106.3 295.5v1.7M107.8 295.5v1.7M110.8 290.5v1.7M112.3 293.9v1.7M116.8 292.2v1.7M98.8 300.6v1.7M100.3 300.6v1.7M101.8 302.3v1.7M104.8 298.9v1.7M110.8 298.9v1.7M110.8 300.6v1.7M110.8 302.3v1.7M112.3 298.9v1.7M112.3 300.6v1.7M116.8 302.3v1.7M118.3 300.6v1.7M118.3 302.3v1.7M119.8 297.2v1.7M119.8 302.3v1.7M97.3 309.0v1.7M100.3 304.0v1.7M106.3 304.0v1.7M106.3 309.0v1.7M109.3 307.3v1.7M112.3 304.0v1.7M113.8 309.0v1.7M119.8 307.3v1.7M121.3 330.5v1.9M128.9 332.4v1.9M133.4 332.4v1.9M134.9 330.5v1.9M134.9 332.4v1.9M121.3 336.1v1.9M133.4 339.8v1.9M134.9 337.9v1.9M121.3 341.6v1.9M128.9 345.3v1.9M130.4 343.5v1.9M130.4 345.3v1.9M131.9 341.6v1.9M133.4 341.6v1.9M133.4 345.3v1.9M136.4 343.5v1.9M139.4 350.2v1.5M142.4 347.2v1.5M146.9 348.7v1.5M148.4 351.6v1.5M149.9 348.7v1.5M151.4 350.2v1.5M152.9 353.1v1.5M155.9 353.1v1.5M157.4 354.6v1.7M157.4 361.5v1.7M158.9 361.5v1.7M161.9 361.5v1.7M170.9 361.5v1.7M172.4 356.3v1.7M172.4 359.8v1.7M176.9 363.2v1.5M176.9 364.7v1.5M176.9 366.1v1.5M178.4 366.1v1.5M178.4 367.6v1.5M179.9 364.7v1.5M181.4 372.1v1.5M182.9 372.1v1.5M184.4 369.1v1.5M184.4 370.6v1.5M187.4 376.7v1.7M190.4 378.5v1.7M195.0 375.0v1.7M195.0 378.5v1.7M202.5 386.9v1.5M204.0 386.9v1.5M207.0 384.0v1.5M213.0 385.5v1.5M214.5 385.5v1.5M220.5 384.0v1.5M220.5 386.9v1.5M226.5 385.5v1.5M231.0 384.0v1.5M232.5 386.9v1.5M235.5 386.9v1.5M237.0 386.9v1.5M241.5 385.5v1.5M243.0 384.0v1.5M249.0 384.0v1.5M249.0 386.9v1.5M253.5 384.0v1.5M253.5 386.9v1.5M267.1 385.5v1.5M279.1 384.0v1.5M318.1 393.2v1.6M319.6 388.4v1.6M319.6 393.2v1.6M316.6 394.9v1.6M316.6 399.7v1.6M318.1 401.3v1.6M319.6 406.2v1.6M321.1 406.2v1.6M325.6 409.3v1.5M327.1 409.3v1.5M328.6 407.8v1.5M330.1 407.8v1.5M330.1 409.3v1.5M330.1 410.7v1.5M330.1 412.2v1.5M327.1 416.6v1.5M330.1 415.1v1.5M324.1 419.5v1.5M324.1 421.0v1.5M327.1 419.5v1.5M328.6 422.4v1.5M322.6 426.8v1.5M322.6 428.3v1.5M325.6 429.7v1.5M327.1 429.7v1.5M330.1 428.3v1.5"/>
<path stroke="#22a884" stroke-width="1.55" fill="none" d="M56.8 245.0v1.7M59.8 243.3v1.7M65.8 245.0v1.7M71.8 245.0v1.7M76.3 248.4v1.7M80.8 248.4v1.7M82.3 246.7v1.7M83.8 245.0v1.7M86.8 243.3v1.7M88.3 243.3v1.7M56.8 250.1v1.7M65.8 255.1v1.7M77.8 251.7v1.7M77.8 255.1v1.7M79.3 251.7v1.7M83.8 250.1v1.7M86.8 251.7v1.7M95.8 260.2v1.7M98.8 258.5v1.7M103.3 256.8v1.7M104.8 266.9v1.7M119.8 263.5v1.7M119.8 268.6v1.7M98.8 270.3v1.7M98.8 272.0v1.7M104.8 273.6v1.7M94.3 277.0v1.7M95.8 277.0v1.7M100.3 278.7v1.7M112.3 282.1v1.7M116.8 280.4v1.7M94.3 285.4v1.7M98.8 285.4v1.7M104.8 285.4v1.7M103.3 293.9v1.7M103.3 295.5v1.7M104.8 290.5v1.7M109.3 295.5v1.7M101.8 300.6v1.7M118.3 298.9v1.7M112.3 307.3v1.7M136.4 330.5v1.9M136.4 337.9v1.9M136.4 341.6v1.9M139.4 348.7v1.5M139.4 353.1v1.5M142.4 350.2v1.5M149.9 347.2v1.5M151.4 348.7v1.5M152.9 350.2v1.5M155.9 348.7v1.5M161.9 354.6v1.7M164.9 354.6v1.7M164.9 356.3v1.7M164.9 361.5v1.7M166.4 358.0v1.7M172.4 361.5v1.7M179.9 366.1v1.5M176.9 373.5v1.5M181.4 369.1v1.5M190.4 375.0v1.7M198.0 385.5v1.5M199.5 385.5v1.5M217.5 384.0v1.5M217.5 385.5v1.5M222.0 385.5v1.5M231.0 386.9v1.5M234.0 386.9v1.5M241.5 386.9v1.5M276.1 385.5v1.5M276.1 386.9v1.5M277.6 384.0v1.5M280.6 386.9v1.5M282.1 385.5v1.5M292.6 385.5v1.5M292.6 386.9v1.5M294.1 385.5v1.5M295.6 385.5v1.5M297.1 386.9v1.5M301.6 386.9v1.5M304.6 384.0v1.5M307.6 386.9v1.5M309.1 386.9v1.5M315.1 385.5v1.5M187.4 391.6v1.6M188.9 391.6v1.6M188.9 393.2v1.6M190.4 390.0v1.6M190.4 391.6v1.6M191.9 390.0v1.6M187.4 396.5v1.6M187.4 399.7v1.6M190.4 396.5v1.6M190.4 399.7v1.6M321.1 396.5v1.6M187.4 406.2v1.6M190.4 406.2v1.6M321.1 404.6v1.6M325.6 413.6v1.5M322.6 425.4v1.5M325.6 428.3v1.5"/>
<path stroke="#4ec36b" stroke-width="1.55" fill="none" d="M56.8 246.7v1.7M58.3 246.7v1.7M62.8 248.4v1.7M65.8 243.3v1.7M68.8 248.4v1.7M73.3 243.3v1.7M74.8 243.3v1.7M74.8 245.0v1.7M74.8 248.4v1.7M77.8 246.7v1.7M83.8 246.7v1.7M86.8 245.0v1.7M86.8 248.4v1.7M91.3 248.4v1.7M56.8 255.1v1.7M58.3 251.7v1.7M58.3 255.1v1.7M64.3 253.4v1.7M80.8 250.1v1.7M83.8 253.4v1.7M88.3 251.7v1.7M89.8 255.1v1.7M97.3 260.2v1.7M100.3 261.9v1.7M101.8 258.5v1.7M104.8 261.9v1.7M106.3 260.2v1.7M107.8 256.8v1.7M115.3 258.5v1.7M118.3 256.8v1.7M119.8 261.9v1.7M94.3 265.2v1.7M98.8 268.6v1.7M100.3 265.2v1.7M100.3 266.9v1.7M101.8 265.2v1.7M101.8 266.9v1.7M101.8 268.6v1.7M107.8 263.5v1.7M110.8 265.2v1.7M110.8 266.9v1.7M112.3 268.6v1.7M119.8 265.2v1.7M119.8 266.9v1.7M94.3 275.3v1.7M95.8 270.3v1.7M95.8 273.6v1.7M100.3 273.6v1.7M103.3 272.0v1.7M103.3 275.3v1.7M104.8 275.3v1.7M107.8 272.0v1.7M109.3 273.6v1.7M94.3 280.4v1.7M95.8 278.7v1.7M98.8 278.7v1.7M98.8 282.1v1.7M100.3 277.0v1.7M104.8 280.4v1.7M109.3 278.7v1.7M109.3 280.4v1.7M113.8 280.4v1.7M118.3 282.1v1.7M119.8 280.4v1.7M94.3 287.1v1.7M95.8 285.4v1.7M98.8 288.8v1.7M100.3 283.8v1.7M101.8 288.8v1.7M106.3 283.8v1.7M109.3 283.8v1.7M119.8 285.4v1.7M119.8 287.1v1.7M94.3 290.5v1.7M97.3 290.5v1.7M98.8 292.2v1.7M109.3 290.5v1.7M110.8 295.5v1.7M112.3 295.5v1.7M94.3 302.3v1.7M104.8 297.2v1.7M104.8 300.6v1.7M109.3 298.9v1.7M113.8 297.2v1.7M95.8 307.3v1.7M110.8 309.0v1.7M118.3 307.3v1.7M118.3 309.0v1.7M128.9 336.1v1.9M130.4 341.6v1.9M134.9 341.6v1.9M137.9 351.6v1.5M140.9 351.6v1.5M146.9 350.2v1.5M149.9 350.2v1.5M166.4 354.6v1.7M169.4 359.8v1.7M169.4 361.5v1.7M170.9 359.8v1.7M175.4 367.6v1.5M179.9 363.2v1.5M181.4 367.6v1.5M182.9 366.1v1.5M184.4 363.2v1.5M184.4 367.6v1.5M185.9 363.2v1.5M175.4 369.1v1.5M175.4 372.1v1.5M178.4 372.1v1.5M179.9 372.1v1.5M188.9 378.5v1.7M201.0 384.0v1.5M208.5 386.9v1.5M213.0 386.9v1.5M216.0 384.0v1.5M223.5 386.9v1.5M225.0 384.0v1.5M229.5 386.9v1.5M247.5 386.9v1.5M252.0 386.9v1.5M255.0 384.0v1.5M256.5 384.0v1.5M256.5 385.5v1.5M259.5 384.0v1.5M262.6 386.9v1.5M264.1 384.0v1.5M264.1 386.9v1.5M268.6 384.0v1.5M273.1 386.9v1.5M289.6 384.0v1.5M321.1 393.2v1.6M188.9 394.9v1.6M188.9 398.1v1.6M316.6 402.9v1.6M322.6 407.8v1.5M322.6 409.3v1.5M325.6 410.7v1.5M328.6 410.7v1.5M322.6 413.6v1.5M324.1 415.1v1.5M324.1 416.6v1.5M327.1 418.0v1.5M330.1 416.6v1.5M325.6 421.0v1.5M322.6 429.7v1.5M327.1 426.8v1.5M328.6 426.8v1.5M328.6 428.3v1.5M330.1 426.8v1.5"/>
<path stroke="#1f9f88" stroke-width="1.55" fill="none" d="M56.8 248.4v1.7M61.3 246.7v1.7M67.3 243.3v1.7M74.8 246.7v1.7M76.3 245.0v1.7M77.8 248.4v1.7M82.3 248.4v1.7M88.3 246.7v1.7M68.8 251.7v1.7M74.8 250.1v1.7M86.8 250.1v1.7M86.8 255.1v1.7M91.3 255.1v1.7M94.3 260.2v1.7M101.8 256.8v1.7M104.8 256.8v1.7M95.8 265.2v1.7M95.8 266.9v1.7M100.3 268.6v1.7M115.3 265.2v1.7M97.3 270.3v1.7M115.3 270.3v1.7M115.3 272.0v1.7M115.3 275.3v1.7M118.3 272.0v1.7M94.3 282.1v1.7M103.3 280.4v1.7M118.3 280.4v1.7M115.3 287.1v1.7M94.3 295.5v1.7M100.3 293.9v1.7M97.3 300.6v1.7M101.8 297.2v1.7M103.3 298.9v1.7M106.3 297.2v1.7M113.8 302.3v1.7M94.3 304.0v1.7M94.3 309.0v1.7M95.8 309.0v1.7M100.3 309.0v1.7M103.3 305.6v1.7M115.3 307.3v1.7M118.3 304.0v1.7M121.3 334.2v1.9M131.9 330.5v1.9M134.9 334.2v1.9M133.4 336.1v1.9M134.9 345.3v1.9M142.4 348.7v1.5M146.9 347.2v1.5M154.4 353.1v1.5M164.9 358.0v1.7M166.4 361.5v1.7M169.4 356.3v1.7M178.4 364.7v1.5M182.9 363.2v1.5M179.9 370.6v1.5M187.4 378.5v1.7M201.0 386.9v1.5M205.5 385.5v1.5M210.0 385.5v1.5M222.0 386.9v1.5M234.0 385.5v1.5M246.0 384.0v1.5M270.1 384.0v1.5M282.1 384.0v1.5M294.1 384.0v1.5M294.1 386.9v1.5M304.6 385.5v1.5M312.1 386.9v1.5M313.6 386.9v1.5M318.1 391.6v1.6M188.9 399.7v1.6M190.4 401.3v1.6M191.9 402.9v1.6M328.6 416.6v1.5M330.1 413.6v1.5M322.6 421.0v1.5M327.1 421.0v1.5M327.1 422.4v1.5M330.1 423.9v1.5M324.1 426.8v1.5M325.6 425.4v1.5M327.1 428.3v1.5"/>
<path stroke="#2cb17e" stroke-width="1.55" fill="none" d="M58.3 243.3v1.7M58.3 248.4v1.7M62.8 246.7v1.7M65.8 246.7v1.7M67.3 246.7v1.7M79.3 245.0v1.7M79.3 248.4v1.7M88.3 245.0v1.7M89.8 246.7v1.7M65.8 251.7v1.7M65.8 253.4v1.7M70.3 255.1v1.7M100.3 258.5v1.7M116.8 261.9v1.7M103.3 263.5v1.7M118.3 263.5v1.7M94.3 273.6v1.7M107.8 273.6v1.7M113.8 270.3v1.7M116.8 272.0v1.7M100.3 280.4v1.7M104.8 278.7v1.7M101.8 285.4v1.7M110.8 288.8v1.7M118.3 283.8v1.7M95.8 290.5v1.7M112.3 292.2v1.7M116.8 300.6v1.7M118.3 297.2v1.7M104.8 304.0v1.7M107.8 307.3v1.7M112.3 309.0v1.7M128.9 330.5v1.9M131.9 332.4v1.9M131.9 337.9v1.9M127.4 341.6v1.9M127.4 343.5v1.9M133.4 343.5v1.9M140.9 350.2v1.5M145.4 348.7v1.5M151.4 351.6v1.5M182.9 367.6v1.5M185.9 367.6v1.5M176.9 370.6v1.5M178.4 369.1v1.5M179.9 369.1v1.5M184.4 372.1v1.5M195.0 376.7v1.7M196.5 376.7v1.7M198.0 386.9v1.5M201.0 385.5v1.5M205.5 384.0v1.5M214.5 386.9v1.5M216.0 385.5v1.5M226.5 386.9v1.5M228.0 385.5v1.5M234.0 384.0v1.5M249.0 385.5v1.5M258.0 386.9v1.5M274.6 384.0v1.5M280.6 384.0v1.5M280.6 385.5v1.5M283.6 386.9v1.5M295.6 384.0v1.5M295.6 386.9v1.5M300.1 384.0v1.5M303.1 386.9v1.5M310.6 384.0v1.5M187.4 388.4v1.6M187.4 390.0v1.6M188.9 388.4v1.6M188.9 390.0v1.6M190.4 388.4v1.6M319.6 391.6v1.6M321.1 390.0v1.6M187.4 398.1v1.6M188.9 396.5v1.6M191.9 394.9v1.6M191.9 399.7v1.6M318.1 398.1v1.6M187.4 402.9v1.6M188.9 402.9v1.6M319.6 404.6v1.6M321.1 401.3v1.6M322.6 416.6v1.5M327.1 415.1v1.5M322.6 422.4v1.5M324.1 429.7v1.5M327.1 425.4v1.5M328.6 425.4v1.5"/>
<path stroke="#7ad151" stroke-width="1.55" fill="none" d="M58.3 245.0v1.7M59.8 245.0v1.7M59.8 246.7v1.7M61.3 245.0v1.7M61.3 248.4v1.7M62.8 245.0v1.7M65.8 248.4v1.7M67.3 248.4v1.7M71.8 243.3v1.7M73.3 246.7v1.7M73.3 248.4v1.7M79.3 246.7v1.7M85.3 246.7v1.7M91.3 243.3v1.7M92.8 248.4v1.7M58.3 250.1v1.7M61.3 253.4v1.7M64.3 250.1v1.7M67.3 250.1v1.7M68.8 255.1v1.7M70.3 251.7v1.7M70.3 253.4v1.7M71.8 253.4v1.7M71.8 255.1v1.7M73.3 250.1v1.7M73.3 255.1v1.7M74.8 255.1v1.7M76.3 251.7v1.7M76.3 255.1v1.7M77.8 250.1v1.7M79.3 255.1v1.7M80.8 255.1v1.7M82.3 253.4v1.7M82.3 255.1v1.7M94.3 261.9v1.7M95.8 258.5v1.7M97.3 258.5v1.7M106.3 256.8v1.7M107.8 260.2v1.7M113.8 258.5v1.7M116.8 258.5v1.7M116.8 260.2v1.7M119.8 260.2v1.7M104.8 263.5v1.7M104.8 265.2v1.7M104.8 268.6v1.7M106.3 263.5v1.7M107.8 266.9v1.7M112.3 263.5v1.7M112.3 265.2v1.7M116.8 266.9v1.7M116.8 268.6v1.7M94.3 272.0v1.7M104.8 272.0v1.7M106.3 272.0v1.7M106.3 275.3v1.7M119.8 270.3v1.7M119.8 272.0v1.7M119.8 273.6v1.7M95.8 282.1v1.7M97.3 280.4v1.7M98.8 277.0v1.7M98.8 280.4v1.7M101.8 277.0v1.7M101.8 282.1v1.7M103.3 282.1v1.7M107.8 277.0v1.7M115.3 282.1v1.7M116.8 277.0v1.7M116.8 278.7v1.7M118.3 277.0v1.7M97.3 283.8v1.7M112.3 287.1v1.7M115.3 283.8v1.7M115.3 285.4v1.7M116.8 285.4v1.7M94.3 292.2v1.7M97.3 292.2v1.7M98.8 290.5v1.7M104.8 295.5v1.7M107.8 290.5v1.7M107.8 293.9v1.7M110.8 292.2v1.7M112.3 290.5v1.7M113.8 290.5v1.7M113.8 295.5v1.7M115.3 292.2v1.7M116.8 293.9v1.7M118.3 295.5v1.7M119.8 292.2v1.7M94.3 300.6v1.7M95.8 297.2v1.7M98.8 297.2v1.7M100.3 298.9v1.7M106.3 300.6v1.7M109.3 300.6v1.7M109.3 302.3v1.7M110.8 297.2v1.7M113.8 298.9v1.7M115.3 297.2v1.7M119.8 298.9v1.7M119.8 300.6v1.7M95.8 305.6v1.7M97.3 307.3v1.7M98.8 304.0v1.7M98.8 305.6v1.7M100.3 305.6v1.7M100.3 307.3v1.7M101.8 307.3v1.7M101.8 309.0v1.7M104.8 305.6v1.7M104.8 307.3v1.7M104.8 309.0v1.7M106.3 307.3v1.7M109.3 304.0v1.7M112.3 305.6v1.7M113.8 307.3v1.7M116.8 305.6v1.7M119.8 304.0v1.7M119.8 305.6v1.7M121.3 332.4v1.9M133.4 334.2v1.9M128.9 337.9v1.9M130.4 339.8v1.9M134.9 336.1v1.9M134.9 339.8v1.9M121.3 343.5v1.9M121.3 345.3v1.9M128.9 341.6v1.9M128.9 343.5v1.9M137.9 350.2v1.5M143.9 347.2v1.5M149.9 353.1v1.5M152.9 348.7v1.5M154.4 347.2v1.5M157.4 359.8v1.7M158.9 354.6v1.7M160.4 356.3v1.7M164.9 359.8v1.7M167.9 356.3v1.7M167.9 359.8v1.7M169.4 358.0v1.7M170.9 354.6v1.7M170.9 358.0v1.7M172.4 358.0v1.7M173.9 354.6v1.7M175.4 366.1v1.5M176.9 367.6v1.5M178.4 363.2v1.5M181.4 363.2v1.5M175.4 373.5v1.5M176.9 372.1v1.5M178.4 370.6v1.5M182.9 369.1v1.5M185.9 373.5v1.5M191.9 378.5v1.7M193.4 378.5v1.7M196.5 375.0v1.7M199.5 386.9v1.5M202.5 384.0v1.5M205.5 386.9v1.5M207.0 386.9v1.5M208.5 385.5v1.5M210.0 386.9v1.5M211.5 386.9v1.5M222.0 384.0v1.5M223.5 385.5v1.5M228.0 386.9v1.5M229.5 384.0v1.5M231.0 385.5v1.5M232.5 385.5v1.5M235.5 384.0v1.5M238.5 384.0v1.5M240.0 385.5v1.5M247.5 385.5v1.5M250.5 385.5v1.5M252.0 385.5v1.5M258.0 384.0v1.5M259.5 386.9v1.5M261.0 384.0v1.5M262.6 385.5v1.5M267.1 384.0v1.5M268.6 385.5v1.5M270.1 385.5v1.5M271.6 384.0v1.5M271.6 386.9v1.5M274.6 386.9v1.5M277.6 386.9v1.5M282.1 386.9v1.5M285.1 384.0v1.5M288.1 384.0v1.5M288.1 385.5v1.5M321.1 388.4v1.6M318.1 399.7v1.6M319.6 399.7v1.6M316.6 401.3v1.6M318.1 404.6v1.6M324.1 407.8v1.5M324.1 409.3v1.5M325.6 407.8v1.5M327.1 407.8v1.5M324.1 413.6v1.5M330.1 418.0v1.5M322.6 419.5v1.5M330.1 422.4v1.5"/>
<path stroke="#26828e" stroke-width="1.55" fill="none" d="M59.8 248.4v1.7M76.3 250.1v1.7M82.3 250.1v1.7M92.8 251.7v1.7M182.9 373.5v1.5M204.0 384.0v1.5M204.0 385.5v1.5M244.5 386.9v1.5M246.0 386.9v1.5M279.1 386.9v1.5M301.6 384.0v1.5M303.1 385.5v1.5M312.1 385.5v1.5M318.1 388.4v1.6M190.4 394.9v1.6M191.9 401.3v1.6M316.6 406.2v1.6M327.1 410.7v1.5M328.6 412.2v1.5"/>
<path stroke="#95d840" stroke-width="1.55" fill="none" d="M61.3 243.3v1.7M70.3 243.3v1.7M71.8 246.7v1.7M80.8 246.7v1.7M88.3 248.4v1.7M89.8 243.3v1.7M92.8 246.7v1.7M56.8 251.7v1.7M64.3 251.7v1.7M64.3 255.1v1.7M70.3 250.1v1.7M86.8 253.4v1.7M91.3 251.7v1.7M94.3 256.8v1.7M97.3 261.9v1.7M100.3 260.2v1.7M104.8 258.5v1.7M107.8 261.9v1.7M115.3 260.2v1.7M118.3 260.2v1.7M119.8 256.8v1.7M119.8 258.5v1.7M94.3 268.6v1.7M98.8 266.9v1.7M103.3 268.6v1.7M106.3 266.9v1.7M109.3 263.5v1.7M112.3 266.9v1.7M94.3 270.3v1.7M100.3 272.0v1.7M103.3 270.3v1.7M109.3 270.3v1.7M109.3 275.3v1.7M110.8 272.0v1.7M110.8 275.3v1.7M118.3 275.3v1.7M94.3 278.7v1.7M103.3 277.0v1.7M104.8 282.1v1.7M106.3 277.0v1.7M106.3 278.7v1.7M107.8 278.7v1.7M109.3 282.1v1.7M110.8 280.4v1.7M112.3 277.0v1.7M112.3 280.4v1.7M113.8 278.7v1.7M94.3 283.8v1.7M95.8 283.8v1.7M95.8 287.1v1.7M107.8 285.4v1.7M107.8 287.1v1.7M112.3 283.8v1.7M113.8 288.8v1.7M118.3 288.8v1.7M95.8 295.5v1.7M98.8 293.9v1.7M98.8 295.5v1.7M101.8 293.9v1.7M104.8 293.9v1.7M107.8 292.2v1.7M115.3 290.5v1.7M119.8 293.9v1.7M119.8 295.5v1.7M98.8 302.3v1.7M103.3 297.2v1.7M103.3 300.6v1.7M107.8 297.2v1.7M107.8 300.6v1.7M107.8 302.3v1.7M115.3 300.6v1.7M94.3 305.6v1.7M95.8 304.0v1.7M97.3 305.6v1.7M98.8 309.0v1.7M101.8 305.6v1.7M107.8 304.0v1.7M107.8 305.6v1.7M110.8 304.0v1.7M110.8 307.3v1.7M113.8 304.0v1.7M115.3 305.6v1.7M115.3 309.0v1.7M116.8 307.3v1.7M128.9 334.2v1.9M136.4 339.8v1.9M125.9 341.6v1.9M127.4 345.3v1.9M134.9 343.5v1.9M139.4 351.6v1.5M142.4 351.6v1.5M145.4 353.1v1.5M146.9 353.1v1.5M155.9 347.2v1.5M155.9 351.6v1.5M158.9 356.3v1.7M158.9 358.0v1.7M158.9 359.8v1.7M160.4 361.5v1.7M161.9 356.3v1.7M161.9 359.8v1.7M163.4 356.3v1.7M166.4 359.8v1.7M167.9 361.5v1.7M169.4 354.6v1.7M173.9 356.3v1.7M182.9 364.7v1.5M184.4 364.7v1.5M184.4 366.1v1.5M175.4 370.6v1.5M176.9 369.1v1.5M179.9 373.5v1.5M181.4 370.6v1.5M185.9 369.1v1.5M187.4 375.0v1.7M188.9 376.7v1.7M190.4 376.7v1.7M193.4 375.0v1.7M193.4 376.7v1.7M196.5 378.5v1.7M199.5 384.0v1.5M208.5 384.0v1.5M220.5 385.5v1.5M225.0 386.9v1.5M238.5 386.9v1.5M250.5 386.9v1.5M253.5 385.5v1.5M261.0 385.5v1.5M262.6 384.0v1.5M265.6 385.5v1.5M267.1 386.9v1.5M270.1 386.9v1.5M279.1 385.5v1.5M286.6 384.0v1.5M286.6 385.5v1.5M316.6 388.4v1.6M316.6 391.6v1.6M316.6 393.2v1.6M316.6 398.1v1.6M321.1 398.1v1.6M322.6 410.7v1.5M322.6 412.2v1.5M324.1 410.7v1.5M328.6 409.3v1.5M322.6 418.0v1.5M328.6 413.6v1.5M328.6 418.0v1.5M324.1 422.4v1.5M324.1 423.9v1.5M325.6 419.5v1.5M325.6 423.9v1.5M327.1 423.9v1.5M330.1 419.5v1.5M324.1 428.3v1.5M328.6 429.7v1.5"/>
<path stroke="#228b8d" stroke-width="1.55" fill="none" d="M62.8 243.3v1.7M64.3 245.0v1.7M70.3 245.0v1.7M76.3 246.7v1.7M77.8 243.3v1.7M80.8 245.0v1.7M91.3 246.7v1.7M92.8 245.0v1.7M58.3 253.4v1.7M61.3 250.1v1.7M62.8 250.1v1.7M67.3 253.4v1.7M67.3 255.1v1.7M76.3 253.4v1.7M109.3 260.2v1.7M110.8 256.8v1.7M112.3 260.2v1.7M98.8 265.2v1.7M113.8 263.5v1.7M115.3 266.9v1.7M116.8 265.2v1.7M98.8 275.3v1.7M104.8 270.3v1.7M106.3 273.6v1.7M116.8 275.3v1.7M119.8 275.3v1.7M112.3 278.7v1.7M98.8 287.1v1.7M101.8 283.8v1.7M110.8 283.8v1.7M112.3 288.8v1.7M113.8 287.1v1.7M116.8 288.8v1.7M106.3 292.2v1.7M106.3 293.9v1.7M109.3 293.9v1.7M110.8 293.9v1.7M113.8 293.9v1.7M116.8 295.5v1.7M118.3 290.5v1.7M112.3 297.2v1.7M106.3 305.6v1.7M109.3 309.0v1.7M113.8 305.6v1.7M116.8 304.0v1.7M119.8 309.0v1.7M125.9 330.5v1.9M121.3 337.9v1.9M137.9 347.2v1.5M151.4 353.1v1.5M157.4 356.3v1.7M161.9 358.0v1.7M166.4 356.3v1.7M167.9 358.0v1.7M181.4 364.7v1.5M185.9 364.7v1.5M185.9 366.1v1.5M185.9 370.6v1.5M191.9 376.7v1.7M223.5 384.0v1.5M237.0 385.5v1.5M240.0 384.0v1.5M243.0 385.5v1.5M268.6 386.9v1.5M273.1 384.0v1.5M274.6 385.5v1.5M277.6 385.5v1.5M289.6 385.5v1.5M291.1 384.0v1.5M297.1 384.0v1.5M298.6 384.0v1.5M309.1 385.5v1.5M312.1 384.0v1.5M315.1 384.0v1.5M191.9 398.1v1.6M321.1 394.9v1.6M321.1 399.7v1.6M324.1 412.2v1.5M327.1 412.2v1.5M322.6 415.1v1.5M324.1 418.0v1.5M322.6 423.9v1.5M325.6 422.4v1.5M330.1 421.0v1.5"/>
<path stroke="#3bbb75" stroke-width="1.55" fill="none" d="M64.3 248.4v1.7M71.8 248.4v1.7M83.8 243.3v1.7M83.8 248.4v1.7M59.8 250.1v1.7M61.3 255.1v1.7M62.8 255.1v1.7M71.8 250.1v1.7M73.3 251.7v1.7M74.8 253.4v1.7M82.3 251.7v1.7M83.8 251.7v1.7M83.8 255.1v1.7M85.3 251.7v1.7M85.3 255.1v1.7M88.3 250.1v1.7M88.3 255.1v1.7M92.8 250.1v1.7M92.8 253.4v1.7M103.3 258.5v1.7M103.3 260.2v1.7M115.3 256.8v1.7M94.3 266.9v1.7M95.8 268.6v1.7M97.3 266.9v1.7M97.3 268.6v1.7M106.3 268.6v1.7M107.8 268.6v1.7M110.8 263.5v1.7M118.3 265.2v1.7M98.8 273.6v1.7M101.8 272.0v1.7M101.8 275.3v1.7M112.3 270.3v1.7M112.3 273.6v1.7M115.3 273.6v1.7M116.8 273.6v1.7M104.8 277.0v1.7M110.8 278.7v1.7M115.3 278.7v1.7M115.3 280.4v1.7M97.3 288.8v1.7M101.8 287.1v1.7M103.3 287.1v1.7M106.3 287.1v1.7M113.8 285.4v1.7M95.8 292.2v1.7M113.8 292.2v1.7M115.3 293.9v1.7M115.3 295.5v1.7M118.3 292.2v1.7M95.8 302.3v1.7M97.3 297.2v1.7M109.3 297.2v1.7M98.8 307.3v1.7M103.3 304.0v1.7M125.9 334.2v1.9M127.4 332.4v1.9M130.4 334.2v1.9M121.3 339.8v1.9M128.9 339.8v1.9M133.4 337.9v1.9M131.9 343.5v1.9M142.4 353.1v1.5M143.9 348.7v1.5M145.4 350.2v1.5M146.9 351.6v1.5M148.4 353.1v1.5M152.9 347.2v1.5M163.4 354.6v1.7M163.4 361.5v1.7M182.9 370.6v1.5M184.4 373.5v1.5M198.0 384.0v1.5M202.5 385.5v1.5M210.0 384.0v1.5M211.5 385.5v1.5M217.5 386.9v1.5M219.0 384.0v1.5M219.0 386.9v1.5M237.0 384.0v1.5M240.0 386.9v1.5M241.5 384.0v1.5M246.0 385.5v1.5M247.5 384.0v1.5M250.5 384.0v1.5M255.0 385.5v1.5M255.0 386.9v1.5M258.0 385.5v1.5M265.6 386.9v1.5M276.1 384.0v1.5M283.6 384.0v1.5M283.6 385.5v1.5M285.1 385.5v1.5M286.6 386.9v1.5M288.1 386.9v1.5M291.1 385.5v1.5M291.1 386.9v1.5M187.4 393.2v1.6M190.4 393.2v1.6M191.9 391.6v1.6M191.9 393.2v1.6M316.6 390.0v1.6M318.1 390.0v1.6M319.6 390.0v1.6M321.1 391.6v1.6M187.4 394.9v1.6M316.6 396.5v1.6M318.1 394.9v1.6M318.1 396.5v1.6M319.6 394.9v1.6M319.6 396.5v1.6M319.6 398.1v1.6M187.4 401.3v1.6M188.9 401.3v1.6M191.9 404.6v1.6M318.1 402.9v1.6M319.6 401.3v1.6M321.1 402.9v1.6M325.6 416.6v1.5M328.6 415.1v1.5M328.6 419.5v1.5M325.6 426.8v1.5M330.1 425.4v1.5"/>
<path stroke="#1f958b" stroke-width="1.55" fill="none" d="M67.3 245.0v1.7M68.8 243.3v1.7M76.3 243.3v1.7M85.3 243.3v1.7M91.3 245.0v1.7M59.8 253.4v1.7M59.8 255.1v1.7M89.8 251.7v1.7M92.8 255.1v1.7M94.3 258.5v1.7M98.8 256.8v1.7M101.8 260.2v1.7M110.8 258.5v1.7M112.3 258.5v1.7M113.8 261.9v1.7M115.3 261.9v1.7M97.3 265.2v1.7M107.8 265.2v1.7M115.3 268.6v1.7M118.3 266.9v1.7M118.3 268.6v1.7M95.8 275.3v1.7M100.3 275.3v1.7M107.8 275.3v1.7M112.3 275.3v1.7M113.8 272.0v1.7M97.3 278.7v1.7M103.3 283.8v1.7M103.3 285.4v1.7M103.3 288.8v1.7M104.8 288.8v1.7M110.8 287.1v1.7M94.3 293.9v1.7M100.3 297.2v1.7M103.3 302.3v1.7M106.3 298.9v1.7M116.8 297.2v1.7M116.8 298.9v1.7M97.3 304.0v1.7M115.3 304.0v1.7M125.9 337.9v1.9M125.9 339.8v1.9M127.4 336.1v1.9M136.4 336.1v1.9M137.9 348.7v1.5M140.9 348.7v1.5M145.4 351.6v1.5M148.4 347.2v1.5M148.4 350.2v1.5M151.4 347.2v1.5M160.4 354.6v1.7M170.9 356.3v1.7M173.9 359.8v1.7M175.4 363.2v1.5M181.4 366.1v1.5M188.9 375.0v1.7M207.0 385.5v1.5M214.5 384.0v1.5M225.0 385.5v1.5M226.5 384.0v1.5M235.5 385.5v1.5M244.5 384.0v1.5M252.0 384.0v1.5M259.5 385.5v1.5M261.0 386.9v1.5M264.1 385.5v1.5M273.1 385.5v1.5M289.6 386.9v1.5M298.6 385.5v1.5M300.1 385.5v1.5M300.1 386.9v1.5M303.1 384.0v1.5M307.6 384.0v1.5M309.1 384.0v1.5M310.6 386.9v1.5M191.9 388.4v1.6M190.4 398.1v1.6M187.4 404.6v1.6M188.9 406.2v1.6M190.4 402.9v1.6M190.4 404.6v1.6M316.6 404.6v1.6M325.6 412.2v1.5M325.6 415.1v1.5M325.6 418.0v1.5M327.1 413.6v1.5M328.6 423.9v1.5M324.1 425.4v1.5M330.1 429.7v1.5"/>
<path stroke="#32648e" stroke-width="1.55" fill="none" d="M68.8 245.0v1.7M89.8 245.0v1.7M89.8 248.4v1.7M116.8 263.5v1.7M97.3 272.0v1.7M101.8 270.3v1.7M110.8 273.6v1.7M113.8 283.8v1.7M115.3 302.3v1.7M127.4 337.9v1.9M125.9 343.5v1.9M173.9 358.0v1.7M185.9 372.1v1.5M219.0 385.5v1.5M228.0 384.0v1.5M244.5 385.5v1.5M307.6 385.5v1.5M313.6 385.5v1.5M191.9 406.2v1.6"/>
<path stroke="#3c4f8a" stroke-width="1.55" fill="none" d="M68.8 246.7v1.7M85.3 248.4v1.7M62.8 253.4v1.7M65.8 250.1v1.7M67.3 251.7v1.7M97.3 277.0v1.7M100.3 292.2v1.7M94.3 297.2v1.7M97.3 302.3v1.7M107.8 298.9v1.7M110.8 305.6v1.7M118.3 305.6v1.7M130.4 336.1v1.9M125.9 345.3v1.9M136.4 345.3v1.9M154.4 351.6v1.5M160.4 358.0v1.7M211.5 384.0v1.5M238.5 385.5v1.5"/>
<path stroke="#2e6f8e" stroke-width="1.55" fill="none" d="M79.3 243.3v1.7M292.6 384.0v1.5M297.1 385.5v1.5M306.1 384.0v1.5M306.1 385.5v1.5"/>
<path stroke="#453781" stroke-width="1.55" fill="none" d="M86.8 246.7v1.7M92.8 243.3v1.7M62.8 251.7v1.7M68.8 253.4v1.7M104.8 260.2v1.7M94.3 263.5v1.7M101.8 263.5v1.7M113.8 265.2v1.7M107.8 282.1v1.7M119.8 277.0v1.7M106.3 302.3v1.7M107.8 309.0v1.7M133.4 330.5v1.9M125.9 336.1v1.9M179.9 367.6v1.5M213.0 384.0v1.5M243.0 386.9v1.5M265.6 384.0v1.5M191.9 396.5v1.6M318.1 406.2v1.6"/>
<path stroke="#375a8c" stroke-width="1.55" fill="none" d="M71.8 251.7v1.7M106.3 258.5v1.7M100.3 263.5v1.7M118.3 273.6v1.7M101.8 278.7v1.7M103.3 278.7v1.7M109.3 277.0v1.7M98.8 283.8v1.7M104.8 283.8v1.7M103.3 309.0v1.7M116.8 309.0v1.7M125.9 332.4v1.9M130.4 332.4v1.9M140.9 347.2v1.5M143.9 353.1v1.5M181.4 373.5v1.5M216.0 386.9v1.5M232.5 384.0v1.5M256.5 386.9v1.5"/>
<path stroke="#b0dd2f" stroke-width="1.55" fill="none" d="M95.8 256.8v1.7M95.8 261.9v1.7M98.8 260.2v1.7M100.3 256.8v1.7M106.3 261.9v1.7M109.3 256.8v1.7M109.3 258.5v1.7M109.3 261.9v1.7M110.8 261.9v1.7M112.3 256.8v1.7M118.3 258.5v1.7M97.3 263.5v1.7M103.3 265.2v1.7M109.3 265.2v1.7M110.8 268.6v1.7M95.8 272.0v1.7M97.3 275.3v1.7M101.8 273.6v1.7M113.8 273.6v1.7M113.8 275.3v1.7M116.8 270.3v1.7M97.3 282.1v1.7M101.8 280.4v1.7M107.8 280.4v1.7M110.8 277.0v1.7M113.8 277.0v1.7M113.8 282.1v1.7M115.3 277.0v1.7M119.8 278.7v1.7M119.8 282.1v1.7M97.3 287.1v1.7M100.3 285.4v1.7M100.3 287.1v1.7M107.8 288.8v1.7M109.3 287.1v1.7M109.3 288.8v1.7M112.3 285.4v1.7M115.3 288.8v1.7M116.8 283.8v1.7M116.8 287.1v1.7M118.3 285.4v1.7M118.3 287.1v1.7M119.8 283.8v1.7M95.8 293.9v1.7M100.3 295.5v1.7M101.8 295.5v1.7M104.8 292.2v1.7M109.3 292.2v1.7M116.8 290.5v1.7M118.3 293.9v1.7M94.3 298.9v1.7M95.8 298.9v1.7M97.3 298.9v1.7M98.8 298.9v1.7M100.3 302.3v1.7M101.8 298.9v1.7M104.8 302.3v1.7M112.3 302.3v1.7M113.8 300.6v1.7M115.3 298.9v1.7M94.3 307.3v1.7M101.8 304.0v1.7M103.3 307.3v1.7M109.3 305.6v1.7M127.4 330.5v1.9M127.4 334.2v1.9M130.4 330.5v1.9M131.9 334.2v1.9M136.4 332.4v1.9M136.4 334.2v1.9M127.4 339.8v1.9M130.4 337.9v1.9M131.9 339.8v1.9M131.9 345.3v1.9M137.9 353.1v1.5M139.4 347.2v1.5M140.9 353.1v1.5M143.9 350.2v1.5M143.9 351.6v1.5M145.4 347.2v1.5M148.4 348.7v1.5M149.9 351.6v1.5M154.4 350.2v1.5M155.9 350.2v1.5M157.4 358.0v1.7M160.4 359.8v1.7M163.4 359.8v1.7M167.9 354.6v1.7M172.4 354.6v1.7M173.9 361.5v1.7"/>
<path stroke="#414487" stroke-width="1.55" fill="none" d="M101.8 261.9v1.7M107.8 258.5v1.7M95.8 263.5v1.7M118.3 278.7v1.7M131.9 336.1v1.9M152.9 351.6v1.5M191.9 375.0v1.7M229.5 385.5v1.5M298.6 386.9v1.5M310.6 385.5v1.5M328.6 421.0v1.5"/>
<path stroke="#472a7a" stroke-width="1.55" fill="none" d="M116.8 282.1v1.7M110.8 285.4v1.7M119.8 290.5v1.7M95.8 300.6v1.7M154.4 348.7v1.5M163.4 358.0v1.7M175.4 364.7v1.5M178.4 373.5v1.5M271.6 385.5v1.5M285.1 386.9v1.5M313.6 384.0v1.5M319.6 402.9v1.6"/>
<path stroke="#2a788e" stroke-width="1.55" fill="none" d="M301.6 385.5v1.5M304.6 386.9v1.5M306.1 386.9v1.5M315.1 386.9v1.5M188.9 404.6v1.6"/>
<line x1="56.0" y1="256.8" x2="330.9" y2="256.8" stroke="#111" stroke-width="0.6"/>
<line x1="56.0" y1="310.7" x2="330.9" y2="310.7" stroke="#111" stroke-width="0.6"/>
<line x1="56.0" y1="330.5" x2="330.9" y2="330.5" stroke="#111" stroke-width="0.6"/>
<line x1="56.0" y1="347.2" x2="330.9" y2="347.2" stroke="#111" stroke-width="0.6"/>
<line x1="56.0" y1="354.6" x2="330.9" y2="354.6" stroke="#111" stroke-width="0.6"/>
<line x1="56.0" y1="363.2" x2="330.9" y2="363.2" stroke="#111" stroke-width="0.6"/>
<line x1="56.0" y1="375.0" x2="330.9" y2="375.0" stroke="#111" stroke-width="0.6"/>
<line x1="56.0" y1="380.2" x2="330.9" y2="380.2" stroke="#111" stroke-width="0.6"/>
<line x1="56.0" y1="384.0" x2="330.9" y2="384.0" stroke="#111" stroke-width="0.6"/>
<line x1="56.0" y1="388.4" x2="330.9" y2="388.4" stroke="#111" stroke-width="0.6"/>
<line x1="56.0" y1="407.8" x2="330.9" y2="407.8" stroke="#111" stroke-width="0.6"/>
<line x1="56.0" y1="431.2" x2="330.9" y2="431.2" stroke="#111" stroke-width="0.6"/>
<rect x="48.2" y="243.3" width="6.5" height="13.50" fill="#17becf"/>
<text x="44.2" y="252.8" font-size="7.3" fill="#111" text-anchor="end" >Mac_4</text>
<rect x="48.2" y="256.8" width="6.5" height="53.90" fill="#b5bd61"/>
<text x="44.2" y="286.2" font-size="7.3" fill="#111" text-anchor="end" >Mac_1-2-3</text>
<rect x="48.2" y="310.7" width="6.5" height="19.80" fill="#98df8a"/>
<text x="44.2" y="322.3" font-size="7.3" fill="#111" text-anchor="end" >Monocyte</text>
<rect x="48.2" y="330.5" width="6.5" height="16.70" fill="#ff9896"/>
<text x="44.2" y="341.5" font-size="7.3" fill="#111" text-anchor="end" >Myeloblast</text>
<rect x="48.2" y="347.2" width="6.5" height="7.40" fill="#279e68"/>
<text x="44.2" y="352.7" font-size="7.3" fill="#111" text-anchor="end" >GMP</text>
<rect x="48.2" y="354.6" width="6.5" height="8.60" fill="#aec7e8"/>
<text x="44.2" y="360.9" font-size="7.3" fill="#111" text-anchor="end" >Mast cell</text>
<rect x="48.2" y="363.2" width="6.5" height="11.80" fill="#ff7f0e"/>
<text x="44.2" y="371.0" font-size="7.3" fill="#111" text-anchor="end" >ErP</text>
<rect x="48.2" y="375.0" width="6.5" height="5.20" fill="#d62728"/>
<text x="44.2" y="379.6" font-size="7.3" fill="#111" text-anchor="end" >HSPC</text>
<rect x="48.2" y="380.2" width="6.5" height="3.80" fill="#ffbb78"/>
<text x="44.2" y="384.2" font-size="7.3" fill="#111" text-anchor="end" >MkP</text>
<rect x="48.2" y="384.0" width="6.5" height="4.40" fill="#aa40fc"/>
<text x="44.2" y="389.2" font-size="7.3" fill="#111" text-anchor="end" >ILC</text>
<rect x="48.2" y="388.4" width="6.5" height="19.40" fill="#1f77b4"/>
<text x="44.2" y="400.8" font-size="7.3" fill="#111" text-anchor="end" >EMP</text>
<rect x="48.2" y="407.8" width="6.5" height="23.40" fill="#e377c2"/>
<text x="44.2" y="422.1" font-size="7.3" fill="#111" text-anchor="end" >Lymphoblast</text>
<rect x="48.2" y="431.2" width="6.5" height="17.30" fill="#8c564b"/>
<text x="44.2" y="441.7" font-size="7.3" fill="#111" text-anchor="end" >LMP</text>
<rect x="55.4" y="243.5" width="65.6" height="67.1" fill="none" stroke="#d42a2a" stroke-width="1"/>
<path d="M332.9 283.8L344.8 283.8M332.9 320.6L344.8 320.6M344.8 283.8L344.8 320.6M332.9 250.1L348.0 250.1M344.8 302.2L348.0 302.2M348.0 250.1L348.0 302.2M332.9 338.9L342.7 338.9M332.9 350.9L342.7 350.9M342.7 338.9L342.7 350.9M332.9 369.1L337.5 369.1M332.9 377.6L337.5 377.6M337.5 369.1L337.5 377.6M332.9 358.9L339.0 358.9M337.5 373.4L339.0 373.4M339.0 358.9L339.0 373.4M332.9 382.1L337.8 382.1M332.9 386.2L337.8 386.2M337.8 382.1L337.8 386.2M339.0 366.1L347.0 366.1M337.8 384.1L347.0 384.1M347.0 366.1L347.0 384.1M332.9 398.1L344.0 398.1M344.0 398.1L344.0 398.1M332.9 419.5L339.8 419.5M332.9 439.9L339.8 439.9M339.8 419.5L339.8 439.9M344.0 398.1L349.5 398.1M339.8 429.7L349.5 429.7M349.5 398.1L349.5 429.7M342.7 344.9L354.5 344.9M347.0 375.1L354.5 375.1M354.5 344.9L354.5 375.1M354.5 360.0L359.5 360.0M349.5 413.9L359.5 413.9M359.5 360.0L359.5 413.9M348.0 276.1L365.3 276.1M359.5 386.9L365.3 386.9M365.3 276.1L365.3 386.9" stroke="#555" stroke-width="0.7" fill="none"/>
<defs><linearGradient id="dvir" x1="0" y1="1" x2="0" y2="0"><stop offset="0.0" stop-color="#440154"/><stop offset="0.1" stop-color="#482475"/><stop offset="0.2" stop-color="#414487"/><stop offset="0.3" stop-color="#355f8d"/><stop offset="0.4" stop-color="#2a788e"/><stop offset="0.5" stop-color="#21918c"/><stop offset="0.6" stop-color="#22a884"/><stop offset="0.7" stop-color="#44bf70"/><stop offset="0.8" stop-color="#7ad151"/><stop offset="0.9" stop-color="#bddf26"/><stop offset="1.0" stop-color="#fde725"/></linearGradient></defs>
<rect x="368.3" y="324.2" width="6.2" height="124.3" fill="url(#dvir)" stroke="#222" stroke-width="0.4"/>
<line x1="374.5" y1="324.2" x2="376.8" y2="324.2" stroke="#222" stroke-width="0.5"/>
<text x="378.3" y="327.5" font-size="9.3" fill="#222" text-anchor="start" >1.0</text>
<line x1="374.5" y1="349.1" x2="376.8" y2="349.1" stroke="#222" stroke-width="0.5"/>
<text x="378.3" y="352.4" font-size="9.3" fill="#222" text-anchor="start" >0.8</text>
<line x1="374.5" y1="373.9" x2="376.8" y2="373.9" stroke="#222" stroke-width="0.5"/>
<text x="378.3" y="377.2" font-size="9.3" fill="#222" text-anchor="start" >0.6</text>
<line x1="374.5" y1="398.8" x2="376.8" y2="398.8" stroke="#222" stroke-width="0.5"/>
<text x="378.3" y="402.1" font-size="9.3" fill="#222" text-anchor="start" >0.4</text>
<line x1="374.5" y1="423.6" x2="376.8" y2="423.6" stroke="#222" stroke-width="0.5"/>
<text x="378.3" y="426.9" font-size="9.3" fill="#222" text-anchor="start" >0.2</text>
<line x1="374.5" y1="448.5" x2="376.8" y2="448.5" stroke="#222" stroke-width="0.5"/>
<text x="378.3" y="451.8" font-size="9.3" fill="#222" text-anchor="start" >0.0</text>
<rect x="112.2" y="229.4" width="139.6" height="12.2" rx="3" fill="#e9f6fa" stroke="#888" stroke-width="0.6"/>
<text x="180.3" y="237.7" font-size="6.0" fill="#111" text-anchor="middle" >Unique markers per group Bian et al. 2020</text>
<text x="2.8" y="246.8" font-size="16.2" fill="#000" text-anchor="start" >D</text>
<!-- panel_e -->
<text x="382.8" y="250.8" font-size="16.2" fill="#000" text-anchor="start" >E</text>
<text x="536.5" y="242.2" font-size="7.16" fill="#222" text-anchor="middle" >Workflow for bulk RNAseq differential expression</text>
<rect x="397.8" y="247.0" width="285.5" height="56.8" rx="10" fill="#f0f0fb" stroke="#5aa6bd" stroke-width="1.1" stroke-dasharray="3.2 2.4"/>
<text x="539.7" y="255.4" font-size="6.2" fill="#2c6fbf" text-anchor="middle" font-weight="bold" >Engrafted MG</text>
<g><rect x="406.4" y="268.8" width="7.6" height="25.3" rx="0.8" fill="#f4f4f6" stroke="#8a8a90" stroke-width="0.4"/><rect x="406.4" y="268.8" width="7.6" height="1.2" fill="#3a64b8"/><rect x="406.4" y="270.0" width="7.6" height="4.2" fill="#9a9aa0"/><rect x="407.0" y="276.3" width="6.3999999999999995" height="3.2" fill="#fff" stroke="#bbb" stroke-width="0.2"/><rect x="407.9" y="281.3" width="4.6" height="1.1" fill="#2a55c8"/><rect x="407.59999999999997" y="283.0" width="5.199999999999999" height="1.1" fill="#2a55c8"/><rect x="406.4" y="290.1" width="7.6" height="4" fill="#c8c8cc"/><rect x="406.4" y="291.90000000000003" width="7.6" height="0.6" fill="#777"/></g>
<path d="M410.5 266.5 Q416 257 427 263" stroke="#3a9bb0" stroke-width="0.7" fill="none"/><path d="M425 261.2 L427.6 263.4 L424.6 264.6" stroke="#3a9bb0" stroke-width="0.6" fill="none"/>
<rect x="429.5" y="256.8" width="1.3" height="12" fill="#c8c8cc" stroke="#888" stroke-width="0.3"/><rect x="429.7" y="268" width="0.9" height="2.5" fill="#3a6ad0"/>
<path d="M467.5 287.2 Q476.5 287.5 477.8 292.5 Q477.5 296 468 295.6 L447 295.2" stroke="#e8b2ae" stroke-width="1.1" fill="none"/>
<path d="M430.5 288.5 Q429 292 432 292.8 L437 292.6 M454.5 289 Q453 292 456 292.4 L463 292.2" stroke="#eab0ac" stroke-width="1.2" fill="none"/>
<path d="M422.2 278.6 Q424 275.5 429 274 Q433 271.5 436 271.8 Q444 270.5 455 271.5 Q466 273.5 468.8 282 Q469.5 288 466 289.5 L458 290 Q445 291 435 289.5 Q428 287.5 425 283 Q422.5 281 422.2 278.6Z" fill="#f1ece7" stroke="#d8cec6" stroke-width="0.4"/>
<ellipse cx="437.2" cy="276" rx="2.2" ry="3" fill="#f0c2c0"/>
<circle cx="429" cy="277.1" r="0.75" fill="#d02020"/>
<path d="M437 280.7 h6.5" stroke="#aaa" stroke-width="0.9" stroke-dasharray="0.6 0.3"/>
<circle cx="455.4" cy="278.8" r="9.8" fill="#fbfbf6" stroke="#888" stroke-width="0.5"/>
<rect x="452.6" y="272.7" width="5.1" height="1.9" fill="#2a5fc0"/>
<path d="M447.3 281.6 H453.3 V275.5 M463.5 281.6 H457.4 V275.5 M449 272.6 H451.5 M459 272.6 H461.5" stroke="#999" stroke-width="0.5" fill="none"/>
<text x="453.7" y="263.8" font-size="4.75" fill="#222" text-anchor="middle" font-weight="bold" >NSGG</text>
<rect x="435.0" y="266.2" width="11.0" height="2.8" fill="#79c8ec" stroke="#888" stroke-width="0.2"/><path d="M437.0 267.6 h7.0" stroke="#333" stroke-width="0.9" stroke-dasharray="0.7 0.5" opacity="0.55"/>
<rect x="446" y="266.2" width="10" height="2.8" fill="#9ae89a" stroke="#888" stroke-width="0.2"/><path d="M448 267.6 h6" stroke="#333" stroke-width="0.9" stroke-dasharray="0.7 0.5" opacity="0.55"/>
<rect x="456" y="266.2" width="11" height="2.8" fill="#f0f07a" stroke="#888" stroke-width="0.2"/><path d="M458 267.6 h7" stroke="#333" stroke-width="0.9" stroke-dasharray="0.7 0.5" opacity="0.55"/>
<rect x="467" y="266.2" width="10" height="2.8" fill="#f59ed4" stroke="#888" stroke-width="0.2"/><path d="M469 267.6 h6" stroke="#333" stroke-width="0.9" stroke-dasharray="0.7 0.5" opacity="0.55"/>
<rect x="481.6" y="270.0" width="49.5" height="20.6" rx="5" fill="#fff" stroke="#3f87b5" stroke-width="0.9"/>
<text x="506.3" y="279.2" font-size="5.0" fill="#222" text-anchor="middle" >Hippocampus</text>
<text x="506.3" y="285.2" font-size="5.0" fill="#222" text-anchor="middle" >intra-parenchymal</text>
<path d="M531 275.6 H576.6 V271.3 L585.5 281.0 L576.6 290.6 V287.0 H531 Z" fill="#4f9fc2"/>
<text x="554.2" y="284.5" font-size="7.37" fill="#fff" text-anchor="middle" font-weight="bold" >5.5 Months</text>
<rect x="588.6" y="267.0" width="88" height="29.6" fill="#e6e6ec" stroke="#9a9aa4" stroke-width="0.5"/>
<rect x="588.6" y="267.0" width="24" height="29.6" fill="#d6d6de" stroke="#9a9aa4" stroke-width="0.4"/><path d="M625 267 L640 296.6 H650 L635 267Z" fill="#f2f2f6" opacity="0.6"/>
<path d="M627.2 274.2 C632.2 274.2 634.5 277.5 634.5 281.5 C634.5 285.0 632.7 288.0 630.2 288.7 L628.7 286.7 L627.2 287.7 L625.7 286.7 L624.2 288.7 C621.7 288.0 619.9000000000001 285.0 619.9000000000001 281.5 C619.9000000000001 277.5 622.2 274.2 627.2 274.2Z" fill="#f3cccc" stroke="#e2aaaa" stroke-width="0.4"/>
<path d="M627.2 274.5 V286.5 M622.7 282.5 q2 -3 4.5 -2.5 q2.5 -0.5 4.5 2.5 M622.2 285.0 q5 -2 10 0" stroke="#e0a4a4" stroke-width="0.4" fill="none"/>
<path d="M620.2 280.5 Q620.2 275.0 626.2 274.5 M620.7 280.5 Q624.2 283.0 628.2 280.0 L628.2 277.0" stroke="#e02828" stroke-width="0.6" stroke-dasharray="0.9 0.7" fill="none"/>
<path d="M656.0 274.2 C661.0 274.2 663.3 277.5 663.3 281.5 C663.3 285.0 661.5 288.0 659.0 288.7 L657.5 286.7 L656.0 287.7 L654.5 286.7 L653.0 288.7 C650.5 288.0 648.7 285.0 648.7 281.5 C648.7 277.5 651.0 274.2 656.0 274.2Z" fill="#f3cccc" stroke="#e2aaaa" stroke-width="0.4"/>
<path d="M656.0 274.5 V286.5 M651.5 282.5 q2 -3 4.5 -2.5 q2.5 -0.5 4.5 2.5 M651.0 285.0 q5 -2 10 0" stroke="#e0a4a4" stroke-width="0.4" fill="none"/>
<path d="M649.0 280.5 Q649.0 275.0 655.0 274.5 M649.5 280.5 Q653.0 283.0 657.0 280.0 L657.0 277.0" stroke="#e02828" stroke-width="0.6" stroke-dasharray="0.9 0.7" fill="none"/>
<text x="635.3" y="259.0" font-size="5.3" fill="#222" text-anchor="middle" >Cryosectioning and</text>
<text x="635.3" y="264.3" font-size="5.3" fill="#222" text-anchor="middle" >MG graft dissection</text>
<path d="M661 303.6 H671.7 V347.5 H657.5 V350.6 L648.9 341 L657.5 331.3 V336.8 H661 Z" fill="#c6dde4"/>
<rect x="397.2" y="313.9" width="68.3" height="51.3" rx="9" fill="#fdeef1" stroke="#ef7b7b" stroke-width="0.9" stroke-dasharray="2.6 1.8"/>
<text x="432.1" y="323.5" font-size="6.6" fill="#b83232" text-anchor="middle" font-weight="bold" >Post-thaw MG</text>
<g><rect x="406.4" y="329.5" width="7.4" height="25" rx="0.8" fill="#f4f4f6" stroke="#8a8a90" stroke-width="0.4"/><rect x="406.4" y="329.5" width="7.4" height="1.2" fill="#3a64b8"/><rect x="406.4" y="330.7" width="7.4" height="4.2" fill="#9a9aa0"/><rect x="407.0" y="337.0" width="6.2" height="3.2" fill="#fff" stroke="#bbb" stroke-width="0.2"/><rect x="407.9" y="342.0" width="4.4" height="1.1" fill="#2a55c8"/><rect x="407.59999999999997" y="343.7" width="5.0" height="1.1" fill="#2a55c8"/><rect x="406.4" y="350.5" width="7.4" height="4" fill="#c8c8cc"/><rect x="406.4" y="352.3" width="7.4" height="0.6" fill="#777"/></g>
<path d="M417 341.2 H430" stroke="#4a9aa0" stroke-width="0.5"/><path d="M428.6 340.1 L430.4 341.2 L428.6 342.3" stroke="#4a9aa0" stroke-width="0.5" fill="none"/>
<text x="423.5" y="339.8" font-size="2.8" fill="#333" text-anchor="middle" >Thaw</text>
<circle cx="440.5" cy="332.5" r="4.3" fill="#5f8df0"/><circle cx="440.5" cy="332.5" r="2.8" fill="#1f4fd8"/><circle cx="440.9" cy="333.0" r="0.7" fill="#e8a0c0"/>
<circle cx="449.5" cy="330.2" r="4.3" fill="#5f8df0"/><circle cx="449.5" cy="330.2" r="2.8" fill="#1f4fd8"/><circle cx="449.9" cy="330.7" r="0.7" fill="#e8a0c0"/>
<circle cx="436.8" cy="341.5" r="4.3" fill="#5f8df0"/><circle cx="436.8" cy="341.5" r="2.8" fill="#1f4fd8"/><circle cx="437.2" cy="342.0" r="0.7" fill="#e8a0c0"/>
<circle cx="445.6" cy="339.0" r="4.3" fill="#5f8df0"/><circle cx="445.6" cy="339.0" r="2.8" fill="#1f4fd8"/><circle cx="446.0" cy="339.5" r="0.7" fill="#e8a0c0"/>
<circle cx="454.3" cy="339.8" r="4.3" fill="#5f8df0"/><circle cx="454.3" cy="339.8" r="2.8" fill="#1f4fd8"/><circle cx="454.7" cy="340.3" r="0.7" fill="#e8a0c0"/>
<circle cx="447.2" cy="349.0" r="4.3" fill="#5f8df0"/><circle cx="447.2" cy="349.0" r="2.8" fill="#1f4fd8"/><circle cx="447.59999999999997" cy="349.5" r="0.7" fill="#e8a0c0"/>
<text x="445.9" y="359.3" font-size="4.8" fill="#2050b0" text-anchor="middle" font-weight="bold" >BRT-MG01</text>
<path d="M465.5 336 H479 V333.5 L489.6 342 L479 350.5 V348 H465.5 Z" fill="#f9b9cb"/>
<path d="M526.5 336 H535 V333.5 L543 341.5 L535 349.5 V347 H526.5 Z" fill="#f9b9cb"/>
<text x="506.6" y="322.6" font-size="6.1" fill="#666" text-anchor="middle" >RNA extraction</text>
<g transform="translate(488.0,327.0) scale(1.0)"><path d="M0 5 L2 0 L6 3.5" stroke="#aaa" stroke-width="0.6" fill="#f4f4f4"/><path d="M2.5 6 H9.5 V13 L7 25 H5 L2.5 13 Z" fill="#f7f9fa" stroke="#9aa" stroke-width="0.5"/><path d="M2.9 14 H9.1 L7 24.5 H5 Z" fill="#8fd0ec"/><rect x="2" y="5.2" width="8" height="1.6" fill="#dde" stroke="#9aa" stroke-width="0.4"/></g>
<circle cx="513.7" cy="346.6" r="8.3" fill="#f7fbff" stroke="#9ab" stroke-width="0.5"/><path d="M508.7 343.9 q1.2 -1.5 2.5 -0.6 t2.5 -0.6 t2.5 -0.6 t2.5 -0.6" stroke="#c03030" stroke-width="0.55" fill="none"/><path d="M508.7 347.4 q1.2 -1.5 2.5 -0.6 t2.5 -0.6 t2.5 -0.6 t2.5 -0.6" stroke="#c03030" stroke-width="0.55" fill="none"/><path d="M508.7 350.8 q1.2 -1.5 2.5 -0.6 t2.5 -0.6 t2.5 -0.6 t2.5 -0.6" stroke="#c03030" stroke-width="0.55" fill="none"/>
<path d="M500 344 L506 343" stroke="#aaa" stroke-width="0.3"/>
<text x="567.8" y="320.6" font-size="6.1" fill="#444" text-anchor="middle" >Sequencing</text>
<path d="M550 329.5 L552 326 H570 V358 H551 Z" fill="#cfd2d6" stroke="#999" stroke-width="0.3"/>
<path d="M563.5 325 L566 323.8 H586 L588.5 336 V357.5 H563.5 Z" fill="#3b3b3e"/>
<path d="M566.5 325.5 H584.5 L585.8 334 H567.5 Z" fill="#bfe0ec" stroke="#555" stroke-width="0.4"/>
<path d="M550 336 H588.5 V357.5 H551 Z" fill="#444447"/>
<path d="M550 336 H588.5 V338 H550 Z" fill="#5a5f63"/>
<path d="M569 338 V357.5" stroke="#2a2a2c" stroke-width="0.5"/>
<path d="M610.3 337 H602 V333.7 L593.5 342 L602 350.6 V347.3 H610.3 Z" fill="#c6dde4"/>
<text x="631.0" y="318.0" font-size="5.6" fill="#444" text-anchor="middle" >FF tissue</text>
<text x="631.0" y="323.8" font-size="5.6" fill="#444" text-anchor="middle" >RNA extraction</text>
<g transform="translate(612.7,327.5) scale(1.0)"><path d="M0 5 L2 0 L6 3.5" stroke="#aaa" stroke-width="0.6" fill="#f4f4f4"/><path d="M2.5 6 H9.5 V13 L7 25 H5 L2.5 13 Z" fill="#f7f9fa" stroke="#9aa" stroke-width="0.5"/><path d="M2.9 14 H9.1 L7 24.5 H5 Z" fill="#7cc6ea"/><rect x="2" y="5.2" width="8" height="1.6" fill="#dde" stroke="#9aa" stroke-width="0.4"/></g>
<circle cx="638.7" cy="348.2" r="8.9" fill="#f7fbff" stroke="#9ab" stroke-width="0.5"/><path d="M633.4 345.2 q1.3 -1.5 2.7 -0.6 t2.7 -0.6 t2.7 -0.6 t2.7 -0.6" stroke="#3050d0" stroke-width="0.55" fill="none"/><path d="M633.4 348.9 q1.3 -1.5 2.7 -0.6 t2.7 -0.6 t2.7 -0.6 t2.7 -0.6" stroke="#d03030" stroke-width="0.55" fill="none"/><path d="M633.4 352.7 q1.3 -1.5 2.7 -0.6 t2.7 -0.6 t2.7 -0.6 t2.7 -0.6" stroke="#3050d0" stroke-width="0.55" fill="none"/>
<path d="M625 344 L630 345" stroke="#aaa" stroke-width="0.3"/>
<path d="M567 358.5 H574 V379.3 H494.5 V379.6 L504.4 379.6 L493.7 389.5 L483 379.6 H487.5 V370 H567 Z" fill="#dccaf6"/>
<path d="M475 400.5 Q480 402 481 398 Q482 394.5 484 394" stroke="#e6aaa8" stroke-width="0.7" fill="none"/>
<path d="M464 403.5 l-1 1.8 M471 404 l0.5 1.8" stroke="#e6aaa8" stroke-width="0.9"/>
<ellipse cx="469.3" cy="398.6" rx="6.6" ry="5.6" fill="#ece8e4" stroke="#cfc6be" stroke-width="0.35"/>
<ellipse cx="464.3" cy="394.2" rx="4.2" ry="3.4" fill="#ece8e4" stroke="#cfc6be" stroke-width="0.35"/>
<circle cx="468.3" cy="391.7" r="2.3" fill="#f0c0bc" stroke="#d8aaa6" stroke-width="0.3"/>
<circle cx="463.2" cy="393.6" r="0.55" fill="#c02020"/>
<text x="468.2" y="410.9" font-size="5.5" fill="#2846a8" text-anchor="middle" font-weight="bold" >Mouse</text>
<path d="M458.8 414 q2.4 -1.4 4.8 0 t4.8 0 t4.8 0 t4.8 0" stroke="#2846a8" stroke-width="1.0" fill="none"/>
<path d="M458.8 414 q2.4 1.2 4.8 0 t4.8 0 t4.8 0 t4.8 0" stroke="#6a84c8" stroke-width="0.5" fill="none"/>
<circle cx="491.1" cy="406.9" r="8.2" fill="#f7fbff" stroke="#9ab" stroke-width="0.5"/><path d="M486.2 404.2 q1.2 -1.5 2.5 -0.6 t2.5 -0.6 t2.5 -0.6 t2.5 -0.6" stroke="#3050d0" stroke-width="0.55" fill="none"/><path d="M486.2 407.7 q1.2 -1.5 2.5 -0.6 t2.5 -0.6 t2.5 -0.6 t2.5 -0.6" stroke="#d03030" stroke-width="0.55" fill="none"/><path d="M486.2 411.1 q1.2 -1.5 2.5 -0.6 t2.5 -0.6 t2.5 -0.6 t2.5 -0.6" stroke="#3050d0" stroke-width="0.55" fill="none"/>
<path d="M504.8 405.5 Q505.5 399.6 513.2 399.3 Q521 399.6 521.8 405.5 Z" fill="#efc9aa"/>
<rect x="511.4" y="396.5" width="3.6" height="3.5" fill="#e8bc9c"/>
<ellipse cx="513.2" cy="393.2" rx="6.2" ry="5.4" fill="#4a2e22"/>
<ellipse cx="513.4" cy="394.6" rx="3.8" ry="4.3" fill="#f0ccae"/>
<text x="513.4" y="410.9" font-size="5.5" fill="#d02828" text-anchor="middle" font-weight="bold" >Human</text>
<path d="M505.5 414.3 q2.1 -1.4 4.2 0 t4.2 0 t4.2 0 t4.2 0" stroke="#d02828" stroke-width="1.0" fill="none"/>
<path d="M505.5 414.3 q2.1 1.2 4.2 0 t4.2 0 t4.2 0 t4.2 0" stroke="#e07070" stroke-width="0.5" fill="none"/>
<text x="490.6" y="424.6" font-size="5.4" fill="#666" text-anchor="middle" >Transcript deconvolution</text>
<text x="490.6" y="429.9" font-size="5.4" fill="#666" text-anchor="middle" >by species</text>
<path d="M532.3 402.5 H547 V399.7 L557.3 408.6 L547 417.6 V414.7 H532.3 Z" fill="#dccaf6"/>
<path d="M568.1 389 V418.2 H603.4" stroke="#666" stroke-width="0.35" fill="none"/>
<path d="M567 392 h1.1 M572.0 418.2 v1.1" stroke="#666" stroke-width="0.3"/>
<path d="M567 398 h1.1 M579.5 418.2 v1.1" stroke="#666" stroke-width="0.3"/>
<path d="M567 404 h1.1 M587.0 418.2 v1.1" stroke="#666" stroke-width="0.3"/>
<path d="M567 410 h1.1 M594.5 418.2 v1.1" stroke="#666" stroke-width="0.3"/>
<path d="M567 416 h1.1 M602.0 418.2 v1.1" stroke="#666" stroke-width="0.3"/>
<path stroke="#b0b0b0" stroke-width="0.7" stroke-linecap="round" fill="none"  d="M585.3 415.2h0M595.3 408.6h0M586.4 416.7h0M581.8 413.3h0M575.2 412.0h0M582.9 410.9h0M583.8 414.3h0M575.0 410.9h0M587.8 414.4h0M583.1 415.0h0M573.5 410.7h0M583.0 411.7h0M580.2 417.0h0M580.4 416.2h0M583.6 412.6h0M590.5 414.6h0M579.7 413.5h0M585.7 416.4h0M579.3 414.4h0M587.3 409.9h0M588.0 416.6h0M580.1 410.9h0M581.9 417.4h0M581.7 412.8h0M578.0 413.8h0M583.6 416.8h0M586.2 414.4h0M591.2 415.8h0M582.2 413.9h0M584.5 416.7h0M580.0 417.0h0M583.3 403.3h0M581.1 412.4h0M585.2 417.2h0M585.2 416.1h0M583.3 417.0h0M581.7 416.0h0M584.7 417.2h0M587.7 411.4h0M583.2 416.7h0M589.3 416.2h0M584.3 416.2h0M584.0 412.7h0M587.4 412.6h0M579.6 415.4h0M582.0 414.9h0M573.8 410.4h0M578.2 412.6h0M577.7 415.8h0M587.3 416.9h0M588.7 406.6h0M581.1 413.5h0M578.1 410.7h0M582.2 411.3h0M571.5 412.4h0M590.6 415.1h0M577.6 413.0h0M587.0 416.3h0M581.5 413.1h0M584.7 416.1h0M583.4 416.8h0M589.1 412.2h0M582.8 416.7h0M574.4 413.0h0M576.2 415.8h0M582.5 416.7h0M584.5 411.2h0M583.3 416.2h0M587.5 416.9h0M580.6 416.4h0M589.3 415.6h0M575.7 414.2h0M583.5 417.6h0M581.5 417.4h0M583.8 412.1h0M586.9 415.9h0M582.7 416.2h0M589.7 412.4h0M590.0 415.1h0M577.1 415.2h0M588.4 411.8h0M579.5 412.0h0M576.9 415.9h0M583.8 412.0h0M574.9 409.9h0M572.9 411.2h0M574.1 414.3h0M577.9 413.7h0M592.5 414.0h0M580.7 415.4h0"/>
<path stroke="#4a88cc" stroke-width="0.7" stroke-linecap="round" fill="none"  d="M581.1 395.6h0M582.0 394.5h0M581.4 397.4h0M577.5 393.5h0M579.7 401.1h0M581.2 402.3h0M578.3 401.0h0M580.0 393.9h0M581.6 409.2h0M572.1 391.6h0M576.6 395.2h0M580.1 397.8h0M580.5 392.7h0M571.1 407.5h0M579.8 396.8h0M581.7 402.3h0M581.4 400.6h0M579.7 393.5h0M576.4 400.1h0M581.6 401.4h0M577.3 396.2h0M575.4 398.3h0M578.4 405.0h0M580.5 390.5h0M582.2 407.5h0M574.6 395.3h0M581.5 402.7h0M581.0 390.6h0M578.1 409.6h0M581.7 402.8h0M581.3 401.2h0M581.3 392.0h0M581.6 391.1h0M581.4 407.6h0M580.0 400.5h0M579.9 393.3h0M581.3 402.0h0M579.2 404.3h0M581.6 391.3h0M579.9 394.2h0M579.1 402.8h0M580.7 406.8h0M582.4 407.7h0M579.2 402.1h0M581.0 392.8h0M571.7 399.6h0M577.7 395.6h0M581.0 393.9h0M582.2 401.3h0M579.1 407.4h0M582.2 405.9h0M576.3 401.0h0M576.6 402.8h0M574.2 403.9h0M578.2 405.2h0M580.5 392.4h0M581.4 392.0h0M577.4 392.4h0M575.7 401.6h0M581.0 392.7h0M581.9 391.5h0M576.4 397.0h0M580.4 401.4h0M581.1 407.3h0M582.4 392.8h0M580.0 399.8h0M580.2 399.7h0M575.6 394.5h0M580.0 405.5h0M581.2 396.4h0M579.4 397.0h0M581.6 400.1h0M582.3 408.2h0M580.4 402.3h0M582.2 400.0h0M575.9 402.3h0M581.3 399.8h0M581.7 391.4h0M581.0 407.1h0M579.2 403.2h0M580.1 401.9h0M581.0 406.9h0M578.1 398.5h0M580.7 396.1h0M582.0 398.3h0M576.2 397.2h0M572.6 397.7h0M580.8 398.6h0M582.2 391.9h0M581.0 408.6h0M582.4 404.8h0M581.9 398.0h0M570.3 410.1h0M582.1 399.2h0M581.9 390.7h0M581.8 399.1h0M576.7 404.5h0M577.8 402.6h0M582.3 391.1h0M580.6 397.1h0M581.3 399.7h0M579.9 405.6h0M579.4 399.3h0M580.6 397.2h0M578.5 392.2h0M579.0 408.2h0M582.3 395.9h0M582.0 406.5h0M582.0 405.3h0M579.9 401.2h0M581.9 403.1h0M580.9 390.7h0M580.6 403.3h0M580.5 405.2h0M577.5 403.1h0M581.7 407.6h0M581.0 403.5h0M581.9 399.2h0M580.8 395.6h0M581.8 390.7h0M581.5 400.6h0M580.0 393.6h0M582.0 405.4h0M577.3 404.7h0M581.0 391.8h0M582.4 392.7h0M576.3 406.3h0M580.0 408.1h0M580.3 404.6h0M582.3 401.6h0"/>
<path stroke="#d85050" stroke-width="0.7" stroke-linecap="round" fill="none"  d="M584.8 399.0h0M586.4 402.2h0M586.6 398.3h0M585.1 404.9h0M586.4 396.7h0M586.4 405.3h0M587.4 401.3h0M584.9 404.2h0M586.2 403.8h0M586.4 401.7h0M588.8 398.9h0M586.7 406.7h0M585.9 404.5h0M585.0 400.6h0M585.3 393.6h0M586.1 405.0h0M587.5 405.4h0M585.4 407.5h0M585.6 396.6h0M590.4 405.5h0M586.2 400.4h0M588.9 398.5h0M594.1 398.2h0M586.7 397.5h0M588.4 397.5h0M588.1 396.3h0M585.1 402.8h0M589.3 402.0h0M595.3 407.8h0M585.3 404.1h0M585.9 396.5h0M585.2 408.9h0M585.0 394.0h0M586.5 403.0h0M584.9 398.2h0M585.1 408.4h0M585.0 399.5h0M586.8 399.6h0M589.8 396.0h0M588.3 405.4h0M590.6 401.5h0M584.9 397.8h0M589.0 396.4h0M591.1 398.7h0M588.9 401.7h0M588.0 397.8h0M584.9 404.6h0M590.1 408.8h0M586.4 405.5h0M585.3 409.4h0M588.5 397.8h0M585.5 410.0h0M585.0 395.4h0M585.0 404.7h0M586.2 403.7h0M585.3 398.2h0M586.7 406.1h0M586.2 395.9h0M585.3 402.8h0M592.6 396.2h0M585.0 408.5h0M586.9 403.1h0M585.0 408.3h0M586.6 404.5h0M586.3 400.1h0M586.1 401.0h0M587.6 398.7h0M588.0 400.6h0M585.4 407.5h0M585.4 398.5h0M590.9 402.9h0M586.9 402.0h0M593.8 398.2h0M585.5 407.9h0M584.8 404.1h0M585.2 404.5h0M585.5 399.0h0M587.1 396.8h0M587.6 401.6h0M586.6 396.2h0M587.6 409.8h0M586.9 405.1h0M587.8 409.5h0M587.3 403.3h0M587.9 398.7h0"/>
<path d="M613.5 401 H611 V408 H613.5 M611 404.5 H608.5 V413 H613.5 M608.5 413 H607.4 M610 417 H613.5 M610 413 V417" stroke="#444" stroke-width="0.35" fill="none"/>
<path d="M615.7 397.4 V394.5 H619.3 V397.4 M617.5 394.5 V392 H628 V394.5 M626 394.5 H630 V397.4 M626 394.5 V397.4 M622.9 397.4 V392" stroke="#444" stroke-width="0.35" fill="none"/>
<defs><linearGradient id="eor" x1="0" x2="1"><stop offset="0" stop-color="#fff3c4"/><stop offset="1" stop-color="#e8402a"/></linearGradient></defs><rect x="608.3" y="389.6" width="6.4" height="2.3" fill="url(#eor)"/>
<rect x="613.9" y="397.7" width="3.65" height="3.65" fill="#fedd7e"/>
<rect x="617.5" y="397.7" width="3.65" height="3.65" fill="#ffe691"/>
<rect x="621.1" y="397.7" width="3.65" height="3.65" fill="#ffeb9c"/>
<rect x="624.7" y="397.7" width="3.65" height="3.65" fill="#ffe691"/>
<rect x="628.3" y="397.7" width="3.65" height="3.65" fill="#fc592d"/>
<rect x="631.9" y="397.7" width="3.65" height="3.65" fill="#fc5f2f"/>
<rect x="613.9" y="401.3" width="3.65" height="3.65" fill="#fedd7e"/>
<rect x="617.5" y="401.3" width="3.65" height="3.65" fill="#ffeb9c"/>
<rect x="621.1" y="401.3" width="3.65" height="3.65" fill="#ffe691"/>
<rect x="624.7" y="401.3" width="3.65" height="3.65" fill="#fed673"/>
<rect x="628.3" y="401.3" width="3.65" height="3.65" fill="#fc5f2f"/>
<rect x="631.9" y="401.3" width="3.65" height="3.65" fill="#fc592d"/>
<rect x="613.9" y="404.9" width="3.65" height="3.65" fill="#ffe691"/>
<rect x="617.5" y="404.9" width="3.65" height="3.65" fill="#ffeb9c"/>
<rect x="621.1" y="404.9" width="3.65" height="3.65" fill="#fed673"/>
<rect x="624.7" y="404.9" width="3.65" height="3.65" fill="#fc592d"/>
<rect x="628.3" y="404.9" width="3.65" height="3.65" fill="#fedd7e"/>
<rect x="631.9" y="404.9" width="3.65" height="3.65" fill="#ffe691"/>
<rect x="613.9" y="408.5" width="3.65" height="3.65" fill="#feba55"/>
<rect x="617.5" y="408.5" width="3.65" height="3.65" fill="#fc5f2f"/>
<rect x="621.1" y="408.5" width="3.65" height="3.65" fill="#fc592d"/>
<rect x="624.7" y="408.5" width="3.65" height="3.65" fill="#fedd7e"/>
<rect x="628.3" y="408.5" width="3.65" height="3.65" fill="#ffeb9c"/>
<rect x="631.9" y="408.5" width="3.65" height="3.65" fill="#ffeb9c"/>
<rect x="613.9" y="412.1" width="3.65" height="3.65" fill="#fea848"/>
<rect x="617.5" y="412.1" width="3.65" height="3.65" fill="#fc592d"/>
<rect x="621.1" y="412.1" width="3.65" height="3.65" fill="#fc5f2f"/>
<rect x="624.7" y="412.1" width="3.65" height="3.65" fill="#ffe691"/>
<rect x="628.3" y="412.1" width="3.65" height="3.65" fill="#ffeb9c"/>
<rect x="631.9" y="412.1" width="3.65" height="3.65" fill="#ffeb9c"/>
<rect x="613.9" y="415.7" width="3.65" height="3.65" fill="#fc592d"/>
<rect x="617.5" y="415.7" width="3.65" height="3.65" fill="#feba55"/>
<rect x="621.1" y="415.7" width="3.65" height="3.65" fill="#fea848"/>
<rect x="624.7" y="415.7" width="3.65" height="3.65" fill="#ffeb9c"/>
<rect x="628.3" y="415.7" width="3.65" height="3.65" fill="#ffefa5"/>
<rect x="631.9" y="415.7" width="3.65" height="3.65" fill="#ffefa5"/>
<path d="M615.7 419.5 v1.2" stroke="#666" stroke-width="0.3"/>
<path d="M619.3 419.5 v1.2" stroke="#666" stroke-width="0.3"/>
<path d="M622.9 419.5 v1.2" stroke="#666" stroke-width="0.3"/>
<path d="M626.5 419.5 v1.2" stroke="#666" stroke-width="0.3"/>
<path d="M630.1 419.5 v1.2" stroke="#666" stroke-width="0.3"/>
<path d="M633.7 419.5 v1.2" stroke="#666" stroke-width="0.3"/>
<text x="603.8" y="430.8" font-size="6.2" fill="#333" text-anchor="middle" >Transcript quantification and</text>
<text x="603.8" y="437.4" font-size="6.2" fill="#333" text-anchor="middle" >differential expression</text>
<!-- panel_f -->
<rect x="68.8" y="486.9" width="563.8" height="40.7" fill="#fff" stroke="#bbb" stroke-width="0.8"/>
<path d="M68.8 486.9V527.6H632.6V486.9" stroke="#555" stroke-width="0.8" fill="none"/>
<circle cx="75.7" cy="493.6" r="2.85" fill="#67000d"/>
<circle cx="75.7" cy="500.4" r="0.52" fill="#fee8dd"/>
<circle cx="75.7" cy="507.1" r="1.23" fill="#fca486"/>
<circle cx="75.7" cy="513.9" r="0.52" fill="#fee8dd"/>
<circle cx="75.7" cy="520.8" r="0.52" fill="#fee8dd"/>
<line x1="75.7" y1="527.6" x2="75.7" y2="529.2" stroke="#555" stroke-width="0.4"/>
<text transform="translate(77.3,530.1) rotate(-90)" font-size="4.6" fill="#333" text-anchor="end">C3</text>
<circle cx="84.4" cy="493.6" r="2.85" fill="#67000d"/>
<circle cx="84.4" cy="500.4" r="1.61" fill="#fc9474"/>
<circle cx="84.4" cy="507.1" r="0.52" fill="#fee8dd"/>
<circle cx="84.4" cy="513.9" r="0.95" fill="#fdd7c6"/>
<line x1="84.4" y1="527.6" x2="84.4" y2="529.2" stroke="#555" stroke-width="0.4"/>
<text transform="translate(86.0,530.1) rotate(-90)" font-size="4.6" fill="#333" text-anchor="end">P2RY12</text>
<circle cx="93.1" cy="493.6" r="2.85" fill="#67000d"/>
<circle cx="93.1" cy="500.4" r="1.23" fill="#fdccb8"/>
<circle cx="93.1" cy="507.1" r="0.52" fill="#fee8dd"/>
<circle cx="93.1" cy="513.9" r="1.04" fill="#fee0d2"/>
<circle cx="93.1" cy="520.8" r="1.42" fill="#fcb398"/>
<line x1="93.1" y1="527.6" x2="93.1" y2="529.2" stroke="#555" stroke-width="0.4"/>
<text transform="translate(94.7,530.1) rotate(-90)" font-size="4.6" fill="#333" text-anchor="end">OLFML3</text>
<circle cx="101.9" cy="493.6" r="2.85" fill="#67000d"/>
<circle cx="101.9" cy="500.4" r="1.14" fill="#fdccb8"/>
<circle cx="101.9" cy="507.1" r="0.52" fill="#fee8dd"/>
<circle cx="101.9" cy="513.9" r="0.52" fill="#fee8dd"/>
<circle cx="101.9" cy="520.8" r="0.52" fill="#fee8dd"/>
<line x1="101.9" y1="527.6" x2="101.9" y2="529.2" stroke="#555" stroke-width="0.4"/>
<text transform="translate(103.5,530.1) rotate(-90)" font-size="4.6" fill="#333" text-anchor="end">GAL3ST4</text>
<circle cx="110.6" cy="493.6" r="2.85" fill="#67000d"/>
<circle cx="110.6" cy="500.4" r="2.38" fill="#f44d38"/>
<circle cx="110.6" cy="507.1" r="2.38" fill="#f44d38"/>
<circle cx="110.6" cy="513.9" r="1.33" fill="#fcc1a8"/>
<line x1="110.6" y1="527.6" x2="110.6" y2="529.2" stroke="#555" stroke-width="0.4"/>
<text transform="translate(112.2,530.1) rotate(-90)" font-size="4.6" fill="#333" text-anchor="end">TREM2</text>
<circle cx="119.3" cy="493.6" r="2.85" fill="#67000d"/>
<circle cx="119.3" cy="500.4" r="0.52" fill="#fee8dd"/>
<circle cx="119.3" cy="507.1" r="1.23" fill="#fdccb8"/>
<circle cx="119.3" cy="513.9" r="0.52" fill="#fee8dd"/>
<circle cx="119.3" cy="520.8" r="0.52" fill="#fee8dd"/>
<line x1="119.3" y1="527.6" x2="119.3" y2="529.2" stroke="#555" stroke-width="0.4"/>
<text transform="translate(120.9,530.1) rotate(-90)" font-size="4.6" fill="#333" text-anchor="end">BHLHE41</text>
<circle cx="128.0" cy="493.6" r="2.85" fill="#67000d"/>
<circle cx="128.0" cy="500.4" r="1.61" fill="#fcc1a8"/>
<circle cx="128.0" cy="507.1" r="2.38" fill="#e63328"/>
<circle cx="128.0" cy="513.9" r="1.61" fill="#fee9df" stroke="#d8b8b0" stroke-width="0.3"/>
<circle cx="128.0" cy="520.8" r="1.52" fill="#fee9df" stroke="#d8b8b0" stroke-width="0.3"/>
<line x1="128.0" y1="527.6" x2="128.0" y2="529.2" stroke="#555" stroke-width="0.4"/>
<text transform="translate(129.6,530.1) rotate(-90)" font-size="4.6" fill="#333" text-anchor="end">PLXDC2</text>
<circle cx="136.7" cy="493.6" r="2.85" fill="#67000d"/>
<circle cx="136.7" cy="500.4" r="1.90" fill="#fc8565"/>
<circle cx="136.7" cy="507.1" r="1.33" fill="#fcc1a8"/>
<circle cx="136.7" cy="513.9" r="1.71" fill="#fc9474"/>
<line x1="136.7" y1="527.6" x2="136.7" y2="529.2" stroke="#555" stroke-width="0.4"/>
<text transform="translate(138.3,530.1) rotate(-90)" font-size="4.6" fill="#333" text-anchor="end">RGS1</text>
<circle cx="145.5" cy="493.6" r="2.66" fill="#67000d"/>
<circle cx="145.5" cy="500.4" r="0.52" fill="#fee8dd"/>
<circle cx="145.5" cy="507.1" r="0.52" fill="#fee8dd"/>
<circle cx="145.5" cy="513.9" r="0.52" fill="#fee8dd"/>
<circle cx="145.5" cy="520.8" r="1.52" fill="#fc8565"/>
<line x1="145.5" y1="527.6" x2="145.5" y2="529.2" stroke="#555" stroke-width="0.4"/>
<text transform="translate(147.1,530.1) rotate(-90)" font-size="4.6" fill="#333" text-anchor="end">HTRA1</text>
<circle cx="154.2" cy="493.6" r="2.85" fill="#67000d"/>
<circle cx="154.2" cy="500.4" r="2.18" fill="#f44d38"/>
<circle cx="154.2" cy="507.1" r="2.18" fill="#f44d38"/>
<circle cx="154.2" cy="513.9" r="1.14" fill="#fcc1a8"/>
<line x1="154.2" y1="527.6" x2="154.2" y2="529.2" stroke="#555" stroke-width="0.4"/>
<text transform="translate(155.8,530.1) rotate(-90)" font-size="4.6" fill="#333" text-anchor="end">FCGR3A</text>
<circle cx="162.9" cy="493.6" r="2.85" fill="#67000d"/>
<circle cx="162.9" cy="500.4" r="2.56" fill="#dc2924"/>
<circle cx="162.9" cy="507.1" r="1.71" fill="#fc8565"/>
<circle cx="162.9" cy="513.9" r="1.14" fill="#fdccb8"/>
<line x1="162.9" y1="527.6" x2="162.9" y2="529.2" stroke="#555" stroke-width="0.4"/>
<text transform="translate(164.5,530.1) rotate(-90)" font-size="4.6" fill="#333" text-anchor="end">IGF1</text>
<circle cx="171.6" cy="493.6" r="2.66" fill="#67000d"/>
<circle cx="171.6" cy="500.4" r="1.42" fill="#fdd7c6"/>
<circle cx="171.6" cy="507.1" r="1.42" fill="#fca486"/>
<circle cx="171.6" cy="513.9" r="1.04" fill="#fdd7c6"/>
<circle cx="171.6" cy="520.8" r="0.52" fill="#fee8dd"/>
<line x1="171.6" y1="527.6" x2="171.6" y2="529.2" stroke="#555" stroke-width="0.4"/>
<text transform="translate(173.2,530.1) rotate(-90)" font-size="4.6" fill="#333" text-anchor="end">LPL</text>
<circle cx="180.3" cy="493.6" r="2.66" fill="#67000d"/>
<circle cx="180.3" cy="500.4" r="0.52" fill="#fee8dd"/>
<circle cx="180.3" cy="507.1" r="0.52" fill="#fee8dd"/>
<circle cx="180.3" cy="513.9" r="0.52" fill="#fee8dd"/>
<line x1="180.3" y1="527.6" x2="180.3" y2="529.2" stroke="#555" stroke-width="0.4"/>
<text transform="translate(181.9,530.1) rotate(-90)" font-size="4.6" fill="#333" text-anchor="end">OLR1</text>
<circle cx="189.1" cy="493.6" r="2.66" fill="#67000d"/>
<circle cx="189.1" cy="500.4" r="1.61" fill="#fc9474"/>
<circle cx="189.1" cy="507.1" r="2.28" fill="#ed392b"/>
<circle cx="189.1" cy="513.9" r="0.52" fill="#fee8dd"/>
<circle cx="189.1" cy="520.8" r="1.52" fill="#fc9474"/>
<line x1="189.1" y1="527.6" x2="189.1" y2="529.2" stroke="#555" stroke-width="0.4"/>
<text transform="translate(190.7,530.1) rotate(-90)" font-size="4.6" fill="#333" text-anchor="end">DOCK4</text>
<circle cx="197.8" cy="493.6" r="2.85" fill="#cb181d"/>
<circle cx="197.8" cy="500.4" r="1.42" fill="#fcb398"/>
<circle cx="197.8" cy="507.1" r="1.90" fill="#fb7555"/>
<circle cx="197.8" cy="513.9" r="1.33" fill="#fee5d9"/>
<circle cx="197.8" cy="520.8" r="3.04" fill="#67000d"/>
<line x1="197.8" y1="527.6" x2="197.8" y2="529.2" stroke="#555" stroke-width="0.4"/>
<text transform="translate(199.4,530.1) rotate(-90)" font-size="4.6" fill="#333" text-anchor="end">APOE</text>
<circle cx="206.5" cy="493.6" r="2.85" fill="#67000d"/>
<circle cx="206.5" cy="500.4" r="1.90" fill="#fc8565"/>
<circle cx="206.5" cy="507.1" r="1.23" fill="#fcc1a8"/>
<circle cx="206.5" cy="513.9" r="1.23" fill="#fcc1a8"/>
<line x1="206.5" y1="527.6" x2="206.5" y2="529.2" stroke="#555" stroke-width="0.4"/>
<text transform="translate(208.1,530.1) rotate(-90)" font-size="4.6" fill="#333" text-anchor="end">P2RY13</text>
<circle cx="215.2" cy="493.6" r="2.66" fill="#67000d"/>
<circle cx="215.2" cy="500.4" r="1.14" fill="#fca486"/>
<circle cx="215.2" cy="507.1" r="0.52" fill="#fee8dd"/>
<circle cx="215.2" cy="513.9" r="0.95" fill="#fcc1a8"/>
<line x1="215.2" y1="527.6" x2="215.2" y2="529.2" stroke="#555" stroke-width="0.4"/>
<text transform="translate(216.8,530.1) rotate(-90)" font-size="4.6" fill="#333" text-anchor="end">LILRB4</text>
<circle cx="224.0" cy="493.6" r="2.66" fill="#67000d"/>
<circle cx="224.0" cy="500.4" r="0.52" fill="#fee8dd"/>
<circle cx="224.0" cy="513.9" r="0.52" fill="#fee8dd"/>
<circle cx="224.0" cy="520.8" r="2.66" fill="#860811"/>
<line x1="224.0" y1="527.6" x2="224.0" y2="529.2" stroke="#555" stroke-width="0.4"/>
<text transform="translate(225.6,530.1) rotate(-90)" font-size="4.6" fill="#333" text-anchor="end">PDPN</text>
<circle cx="232.7" cy="493.6" r="2.85" fill="#67000d"/>
<circle cx="232.7" cy="500.4" r="1.42" fill="#fee0d2"/>
<circle cx="232.7" cy="507.1" r="1.23" fill="#fcc1a8"/>
<circle cx="232.7" cy="513.9" r="1.23" fill="#fee9df" stroke="#d8b8b0" stroke-width="0.3"/>
<circle cx="232.7" cy="520.8" r="1.52" fill="#fc9474"/>
<line x1="232.7" y1="527.6" x2="232.7" y2="529.2" stroke="#555" stroke-width="0.4"/>
<text transform="translate(234.3,530.1) rotate(-90)" font-size="4.6" fill="#333" text-anchor="end">LHFPL2</text>
<circle cx="241.4" cy="493.6" r="2.85" fill="#67000d"/>
<circle cx="241.4" cy="500.4" r="1.90" fill="#fdccb8"/>
<circle cx="241.4" cy="507.1" r="1.42" fill="#fdd7c6"/>
<circle cx="241.4" cy="513.9" r="1.52" fill="#fee9df" stroke="#d8b8b0" stroke-width="0.3"/>
<circle cx="241.4" cy="520.8" r="2.38" fill="#f96245"/>
<line x1="241.4" y1="527.6" x2="241.4" y2="529.2" stroke="#555" stroke-width="0.4"/>
<text transform="translate(243.0,530.1) rotate(-90)" font-size="4.6" fill="#333" text-anchor="end">APOC1</text>
<circle cx="250.1" cy="493.6" r="2.85" fill="#67000d"/>
<circle cx="250.1" cy="500.4" r="1.90" fill="#f96245"/>
<circle cx="250.1" cy="507.1" r="1.23" fill="#fcb398"/>
<circle cx="250.1" cy="513.9" r="1.14" fill="#fdccb8"/>
<line x1="250.1" y1="527.6" x2="250.1" y2="529.2" stroke="#555" stroke-width="0.4"/>
<text transform="translate(251.7,530.1) rotate(-90)" font-size="4.6" fill="#333" text-anchor="end">FPR1</text>
<circle cx="258.8" cy="493.6" r="2.66" fill="#67000d"/>
<circle cx="258.8" cy="500.4" r="0.52" fill="#fee8dd"/>
<circle cx="258.8" cy="507.1" r="0.52" fill="#fee8dd"/>
<circle cx="258.8" cy="513.9" r="0.52" fill="#fee8dd"/>
<circle cx="258.8" cy="520.8" r="2.38" fill="#a60f15"/>
<line x1="258.8" y1="527.6" x2="258.8" y2="529.2" stroke="#555" stroke-width="0.4"/>
<text transform="translate(260.4,530.1) rotate(-90)" font-size="4.6" fill="#333" text-anchor="end">SYT6</text>
<circle cx="267.6" cy="493.6" r="2.85" fill="#67000d"/>
<circle cx="267.6" cy="500.4" r="1.42" fill="#fcb398"/>
<circle cx="267.6" cy="507.1" r="1.71" fill="#f96245"/>
<circle cx="267.6" cy="513.9" r="1.04" fill="#fdccb8"/>
<circle cx="267.6" cy="520.8" r="0.52" fill="#fee8dd"/>
<line x1="267.6" y1="527.6" x2="267.6" y2="529.2" stroke="#555" stroke-width="0.4"/>
<text transform="translate(269.2,530.1) rotate(-90)" font-size="4.6" fill="#333" text-anchor="end">CXCL16</text>
<circle cx="276.3" cy="493.6" r="2.66" fill="#67000d"/>
<circle cx="276.3" cy="500.4" r="1.14" fill="#fdccb8"/>
<circle cx="276.3" cy="507.1" r="0.52" fill="#fee8dd"/>
<circle cx="276.3" cy="513.9" r="0.95" fill="#fdd7c6"/>
<circle cx="276.3" cy="520.8" r="0.52" fill="#fee8dd"/>
<line x1="276.3" y1="527.6" x2="276.3" y2="529.2" stroke="#555" stroke-width="0.4"/>
<text transform="translate(277.9,530.1) rotate(-90)" font-size="4.6" fill="#333" text-anchor="end">CSF1</text>
<circle cx="285.0" cy="493.6" r="2.66" fill="#67000d"/>
<circle cx="285.0" cy="500.4" r="1.42" fill="#fdccb8"/>
<circle cx="285.0" cy="507.1" r="1.71" fill="#f96245"/>
<circle cx="285.0" cy="513.9" r="0.95" fill="#fdd7c6"/>
<circle cx="285.0" cy="520.8" r="1.71" fill="#f96245"/>
<line x1="285.0" y1="527.6" x2="285.0" y2="529.2" stroke="#555" stroke-width="0.4"/>
<text transform="translate(286.6,530.1) rotate(-90)" font-size="4.6" fill="#333" text-anchor="end">DNASE2</text>
<circle cx="293.7" cy="493.6" r="2.38" fill="#67000d"/>
<circle cx="293.7" cy="500.4" r="0.52" fill="#fee8dd"/>
<circle cx="293.7" cy="507.1" r="0.52" fill="#fee8dd"/>
<circle cx="293.7" cy="513.9" r="0.52" fill="#fee8dd"/>
<line x1="293.7" y1="527.6" x2="293.7" y2="529.2" stroke="#555" stroke-width="0.4"/>
<text transform="translate(295.3,530.1) rotate(-90)" font-size="4.6" fill="#333" text-anchor="end">TMEM52B</text>
<circle cx="302.4" cy="493.6" r="2.38" fill="#67000d"/>
<circle cx="302.4" cy="500.4" r="0.52" fill="#fee8dd"/>
<circle cx="302.4" cy="507.1" r="0.52" fill="#fee8dd"/>
<circle cx="302.4" cy="513.9" r="0.52" fill="#fee8dd"/>
<line x1="302.4" y1="527.6" x2="302.4" y2="529.2" stroke="#555" stroke-width="0.4"/>
<text transform="translate(304.0,530.1) rotate(-90)" font-size="4.6" fill="#333" text-anchor="end">KCNQ3</text>
<circle cx="311.2" cy="493.6" r="2.66" fill="#67000d"/>
<circle cx="311.2" cy="500.4" r="1.42" fill="#fc9474"/>
<circle cx="311.2" cy="507.1" r="2.66" fill="#67000d"/>
<circle cx="311.2" cy="513.9" r="0.52" fill="#fee8dd"/>
<line x1="311.2" y1="527.6" x2="311.2" y2="529.2" stroke="#555" stroke-width="0.4"/>
<text transform="translate(312.8,530.1) rotate(-90)" font-size="4.6" fill="#333" text-anchor="end">ADORA3</text>
<circle cx="319.9" cy="493.6" r="2.38" fill="#67000d"/>
<circle cx="319.9" cy="500.4" r="1.33" fill="#fc9474"/>
<circle cx="319.9" cy="507.1" r="1.90" fill="#cb181d"/>
<circle cx="319.9" cy="513.9" r="0.52" fill="#fee8dd"/>
<line x1="319.9" y1="527.6" x2="319.9" y2="529.2" stroke="#555" stroke-width="0.4"/>
<text transform="translate(321.5,530.1) rotate(-90)" font-size="4.6" fill="#333" text-anchor="end">SUCNR1</text>
<circle cx="328.6" cy="493.6" r="2.18" fill="#cb181d"/>
<circle cx="328.6" cy="520.8" r="2.66" fill="#67000d"/>
<line x1="328.6" y1="527.6" x2="328.6" y2="529.2" stroke="#555" stroke-width="0.4"/>
<text transform="translate(330.2,530.1) rotate(-90)" font-size="4.6" fill="#333" text-anchor="end">SALL1</text>
<circle cx="337.3" cy="493.6" r="2.38" fill="#67000d"/>
<circle cx="337.3" cy="500.4" r="0.52" fill="#fee8dd"/>
<circle cx="337.3" cy="507.1" r="0.52" fill="#fee8dd"/>
<circle cx="337.3" cy="513.9" r="0.52" fill="#fee8dd"/>
<circle cx="337.3" cy="520.8" r="1.61" fill="#dc2924"/>
<line x1="337.3" y1="527.6" x2="337.3" y2="529.2" stroke="#555" stroke-width="0.4"/>
<text transform="translate(338.9,530.1) rotate(-90)" font-size="4.6" fill="#333" text-anchor="end">NNAT</text>
<circle cx="346.0" cy="493.6" r="2.38" fill="#67000d"/>
<circle cx="346.0" cy="500.4" r="0.52" fill="#fee8dd"/>
<circle cx="346.0" cy="507.1" r="0.52" fill="#fee8dd"/>
<circle cx="346.0" cy="513.9" r="0.52" fill="#fee8dd"/>
<line x1="346.0" y1="527.6" x2="346.0" y2="529.2" stroke="#555" stroke-width="0.4"/>
<text transform="translate(347.6,530.1) rotate(-90)" font-size="4.6" fill="#333" text-anchor="end">TMEM119</text>
<circle cx="354.8" cy="493.6" r="2.18" fill="#67000d"/>
<circle cx="354.8" cy="500.4" r="0.52" fill="#fee8dd"/>
<circle cx="354.8" cy="507.1" r="1.14" fill="#fca486"/>
<circle cx="354.8" cy="513.9" r="0.52" fill="#fee8dd"/>
<circle cx="354.8" cy="520.8" r="1.71" fill="#cb181d"/>
<line x1="354.8" y1="527.6" x2="354.8" y2="529.2" stroke="#555" stroke-width="0.4"/>
<text transform="translate(356.4,530.1) rotate(-90)" font-size="4.6" fill="#333" text-anchor="end">MMP2</text>
<circle cx="363.5" cy="493.6" r="1.90" fill="#b81419"/>
<circle cx="363.5" cy="500.4" r="0.52" fill="#fee8dd"/>
<circle cx="363.5" cy="507.1" r="1.52" fill="#dc2924"/>
<circle cx="363.5" cy="513.9" r="0.52" fill="#fee8dd"/>
<circle cx="363.5" cy="520.8" r="2.18" fill="#860811"/>
<line x1="363.5" y1="527.6" x2="363.5" y2="529.2" stroke="#555" stroke-width="0.4"/>
<text transform="translate(365.1,530.1) rotate(-90)" font-size="4.6" fill="#333" text-anchor="end">SDC2</text>
<circle cx="372.2" cy="493.6" r="1.71" fill="#67000d"/>
<circle cx="372.2" cy="507.1" r="0.52" fill="#fee8dd"/>
<line x1="372.2" y1="527.6" x2="372.2" y2="529.2" stroke="#555" stroke-width="0.4"/>
<text transform="translate(373.8,530.1) rotate(-90)" font-size="4.6" fill="#333" text-anchor="end">GLDN</text>
<circle cx="380.9" cy="493.6" r="1.71" fill="#fca486"/>
<circle cx="380.9" cy="500.4" r="0.52" fill="#fee8dd"/>
<circle cx="380.9" cy="513.9" r="0.52" fill="#fee8dd"/>
<circle cx="380.9" cy="520.8" r="2.85" fill="#67000d"/>
<line x1="380.9" y1="527.6" x2="380.9" y2="529.2" stroke="#555" stroke-width="0.4"/>
<text transform="translate(382.5,530.1) rotate(-90)" font-size="4.6" fill="#333" text-anchor="end">TUBB2B</text>
<circle cx="389.6" cy="493.6" r="1.52" fill="#fcb398"/>
<circle cx="389.6" cy="500.4" r="2.85" fill="#67000d"/>
<circle cx="389.6" cy="507.1" r="2.38" fill="#cb181d"/>
<circle cx="389.6" cy="513.9" r="1.42" fill="#fcb398"/>
<line x1="389.6" y1="527.6" x2="389.6" y2="529.2" stroke="#555" stroke-width="0.4"/>
<text transform="translate(391.2,530.1) rotate(-90)" font-size="4.6" fill="#333" text-anchor="end">CD163</text>
<circle cx="398.4" cy="493.6" r="1.52" fill="#fcb398"/>
<circle cx="398.4" cy="500.4" r="2.85" fill="#67000d"/>
<circle cx="398.4" cy="507.1" r="1.14" fill="#fdccb8"/>
<circle cx="398.4" cy="513.9" r="1.42" fill="#fcb398"/>
<line x1="398.4" y1="527.6" x2="398.4" y2="529.2" stroke="#555" stroke-width="0.4"/>
<text transform="translate(400.0,530.1) rotate(-90)" font-size="4.6" fill="#333" text-anchor="end">LYVE1</text>
<circle cx="407.1" cy="493.6" r="1.71" fill="#fca486"/>
<circle cx="407.1" cy="500.4" r="2.66" fill="#a60f15"/>
<circle cx="407.1" cy="507.1" r="2.85" fill="#67000d"/>
<circle cx="407.1" cy="513.9" r="1.33" fill="#fcc1a8"/>
<line x1="407.1" y1="527.6" x2="407.1" y2="529.2" stroke="#555" stroke-width="0.4"/>
<text transform="translate(408.7,530.1) rotate(-90)" font-size="4.6" fill="#333" text-anchor="end">MRC1</text>
<circle cx="415.8" cy="493.6" r="1.90" fill="#fc8565"/>
<circle cx="415.8" cy="500.4" r="2.85" fill="#67000d"/>
<circle cx="415.8" cy="507.1" r="2.85" fill="#9a0c14"/>
<circle cx="415.8" cy="513.9" r="1.33" fill="#fcc1a8"/>
<line x1="415.8" y1="527.6" x2="415.8" y2="529.2" stroke="#555" stroke-width="0.4"/>
<text transform="translate(417.4,530.1) rotate(-90)" font-size="4.6" fill="#333" text-anchor="end">NRP1</text>
<circle cx="424.5" cy="493.6" r="2.85" fill="#67000d"/>
<circle cx="424.5" cy="500.4" r="2.85" fill="#67000d"/>
<circle cx="424.5" cy="507.1" r="2.28" fill="#dc2924"/>
<circle cx="424.5" cy="513.9" r="1.14" fill="#fdccb8"/>
<line x1="424.5" y1="527.6" x2="424.5" y2="529.2" stroke="#555" stroke-width="0.4"/>
<text transform="translate(426.1,530.1) rotate(-90)" font-size="4.6" fill="#333" text-anchor="end">VSIG4</text>
<circle cx="433.2" cy="493.6" r="1.90" fill="#f96245"/>
<circle cx="433.2" cy="500.4" r="2.85" fill="#67000d"/>
<circle cx="433.2" cy="507.1" r="1.71" fill="#f96245"/>
<circle cx="433.2" cy="513.9" r="1.14" fill="#fee0d2"/>
<circle cx="433.2" cy="520.8" r="2.47" fill="#9a0c14"/>
<line x1="433.2" y1="527.6" x2="433.2" y2="529.2" stroke="#555" stroke-width="0.4"/>
<text transform="translate(434.8,530.1) rotate(-90)" font-size="4.6" fill="#333" text-anchor="end">SLC7A8</text>
<circle cx="442.0" cy="493.6" r="2.85" fill="#67000d"/>
<circle cx="442.0" cy="500.4" r="2.66" fill="#a60f15"/>
<circle cx="442.0" cy="507.1" r="2.38" fill="#dc2924"/>
<circle cx="442.0" cy="513.9" r="1.33" fill="#fcc1a8"/>
<line x1="442.0" y1="527.6" x2="442.0" y2="529.2" stroke="#555" stroke-width="0.4"/>
<text transform="translate(443.6,530.1) rotate(-90)" font-size="4.6" fill="#333" text-anchor="end">A2M</text>
<circle cx="450.7" cy="493.6" r="2.47" fill="#cb181d"/>
<circle cx="450.7" cy="500.4" r="2.85" fill="#67000d"/>
<circle cx="450.7" cy="507.1" r="2.18" fill="#dc2924"/>
<circle cx="450.7" cy="513.9" r="1.42" fill="#fee9df" stroke="#d8b8b0" stroke-width="0.3"/>
<circle cx="450.7" cy="520.8" r="1.23" fill="#fee5d9"/>
<line x1="450.7" y1="527.6" x2="450.7" y2="529.2" stroke="#555" stroke-width="0.4"/>
<text transform="translate(452.3,530.1) rotate(-90)" font-size="4.6" fill="#333" text-anchor="end">CTSL</text>
<circle cx="459.4" cy="493.6" r="1.42" fill="#fdd7c6"/>
<circle cx="459.4" cy="500.4" r="2.85" fill="#67000d"/>
<circle cx="459.4" cy="507.1" r="1.52" fill="#fcb398"/>
<circle cx="459.4" cy="513.9" r="1.14" fill="#fee9df" stroke="#d8b8b0" stroke-width="0.3"/>
<circle cx="459.4" cy="520.8" r="1.61" fill="#fc9474"/>
<line x1="459.4" y1="527.6" x2="459.4" y2="529.2" stroke="#555" stroke-width="0.4"/>
<text transform="translate(461.0,530.1) rotate(-90)" font-size="4.6" fill="#333" text-anchor="end">IGFBP4</text>
<circle cx="468.1" cy="493.6" r="2.85" fill="#67000d"/>
<circle cx="468.1" cy="500.4" r="2.75" fill="#9a0c14"/>
<circle cx="468.1" cy="507.1" r="2.85" fill="#67000d"/>
<circle cx="468.1" cy="513.9" r="1.14" fill="#fdd7c6"/>
<line x1="468.1" y1="527.6" x2="468.1" y2="529.2" stroke="#555" stroke-width="0.4"/>
<text transform="translate(469.7,530.1) rotate(-90)" font-size="4.6" fill="#333" text-anchor="end">SLCO2B1</text>
<circle cx="476.8" cy="493.6" r="1.90" fill="#f96245"/>
<circle cx="476.8" cy="500.4" r="2.66" fill="#9a0c14"/>
<circle cx="476.8" cy="507.1" r="2.85" fill="#67000d"/>
<circle cx="476.8" cy="513.9" r="1.04" fill="#fdd7c6"/>
<line x1="476.8" y1="527.6" x2="476.8" y2="529.2" stroke="#555" stroke-width="0.4"/>
<text transform="translate(478.4,530.1) rotate(-90)" font-size="4.6" fill="#333" text-anchor="end">MS4A4A</text>
<circle cx="485.6" cy="493.6" r="0.52" fill="#fee8dd"/>
<circle cx="485.6" cy="500.4" r="2.47" fill="#67000d"/>
<circle cx="485.6" cy="507.1" r="2.28" fill="#a60f15"/>
<circle cx="485.6" cy="513.9" r="0.52" fill="#fee8dd"/>
<line x1="485.6" y1="527.6" x2="485.6" y2="529.2" stroke="#555" stroke-width="0.4"/>
<text transform="translate(487.2,530.1) rotate(-90)" font-size="4.6" fill="#333" text-anchor="end">COLEC12</text>
<circle cx="494.3" cy="493.6" r="1.71" fill="#fc8565"/>
<circle cx="494.3" cy="500.4" r="2.85" fill="#67000d"/>
<circle cx="494.3" cy="507.1" r="2.66" fill="#67000d"/>
<circle cx="494.3" cy="513.9" r="1.14" fill="#fee9df" stroke="#d8b8b0" stroke-width="0.3"/>
<circle cx="494.3" cy="520.8" r="2.38" fill="#f44d38"/>
<line x1="494.3" y1="527.6" x2="494.3" y2="529.2" stroke="#555" stroke-width="0.4"/>
<text transform="translate(495.9,530.1) rotate(-90)" font-size="4.6" fill="#333" text-anchor="end">ATP13A3</text>
<circle cx="503.0" cy="493.6" r="0.52" fill="#fee8dd"/>
<circle cx="503.0" cy="500.4" r="2.66" fill="#67000d"/>
<circle cx="503.0" cy="507.1" r="2.28" fill="#a60f15"/>
<circle cx="503.0" cy="513.9" r="1.04" fill="#fdd7c6"/>
<line x1="503.0" y1="527.6" x2="503.0" y2="529.2" stroke="#555" stroke-width="0.4"/>
<text transform="translate(504.6,530.1) rotate(-90)" font-size="4.6" fill="#333" text-anchor="end">SIGLEC1</text>
<circle cx="511.7" cy="493.6" r="2.47" fill="#e63328"/>
<circle cx="511.7" cy="500.4" r="2.66" fill="#b81419"/>
<circle cx="511.7" cy="507.1" r="2.85" fill="#67000d"/>
<circle cx="511.7" cy="513.9" r="1.23" fill="#fdccb8"/>
<circle cx="511.7" cy="520.8" r="0.52" fill="#fee8dd"/>
<line x1="511.7" y1="527.6" x2="511.7" y2="529.2" stroke="#555" stroke-width="0.4"/>
<text transform="translate(513.3,530.1) rotate(-90)" font-size="4.6" fill="#333" text-anchor="end">NPL</text>
<circle cx="520.5" cy="493.6" r="2.47" fill="#ed392b"/>
<circle cx="520.5" cy="500.4" r="2.85" fill="#67000d"/>
<circle cx="520.5" cy="507.1" r="1.71" fill="#fca486"/>
<circle cx="520.5" cy="513.9" r="1.42" fill="#fee9df" stroke="#d8b8b0" stroke-width="0.3"/>
<circle cx="520.5" cy="520.8" r="1.33" fill="#fee9df" stroke="#d8b8b0" stroke-width="0.3"/>
<line x1="520.5" y1="527.6" x2="520.5" y2="529.2" stroke="#555" stroke-width="0.4"/>
<text transform="translate(522.1,530.1) rotate(-90)" font-size="4.6" fill="#333" text-anchor="end">MAFB</text>
<circle cx="529.2" cy="493.6" r="2.66" fill="#b81419"/>
<circle cx="529.2" cy="500.4" r="2.85" fill="#67000d"/>
<circle cx="529.2" cy="507.1" r="1.71" fill="#f96245"/>
<circle cx="529.2" cy="513.9" r="1.23" fill="#fee9df" stroke="#d8b8b0" stroke-width="0.3"/>
<circle cx="529.2" cy="520.8" r="0.52" fill="#fee8dd"/>
<line x1="529.2" y1="527.6" x2="529.2" y2="529.2" stroke="#555" stroke-width="0.4"/>
<text transform="translate(530.8,530.1) rotate(-90)" font-size="4.6" fill="#333" text-anchor="end">GATM</text>
<circle cx="537.9" cy="493.6" r="1.14" fill="#fcb398"/>
<circle cx="537.9" cy="500.4" r="2.66" fill="#67000d"/>
<circle cx="537.9" cy="507.1" r="0.52" fill="#fee8dd"/>
<circle cx="537.9" cy="513.9" r="1.42" fill="#fcb398"/>
<line x1="537.9" y1="527.6" x2="537.9" y2="529.2" stroke="#555" stroke-width="0.4"/>
<text transform="translate(539.5,530.1) rotate(-90)" font-size="4.6" fill="#333" text-anchor="end">TIMD4</text>
<circle cx="546.6" cy="493.6" r="2.18" fill="#ed392b"/>
<circle cx="546.6" cy="500.4" r="2.85" fill="#67000d"/>
<circle cx="546.6" cy="507.1" r="1.42" fill="#fcb398"/>
<circle cx="546.6" cy="513.9" r="1.23" fill="#fee9df" stroke="#d8b8b0" stroke-width="0.3"/>
<circle cx="546.6" cy="520.8" r="1.42" fill="#fdd7c6"/>
<line x1="546.6" y1="527.6" x2="546.6" y2="529.2" stroke="#555" stroke-width="0.4"/>
<text transform="translate(548.2,530.1) rotate(-90)" font-size="4.6" fill="#333" text-anchor="end">NLRP3</text>
<circle cx="555.3" cy="493.6" r="1.14" fill="#fee9df" stroke="#d8b8b0" stroke-width="0.3"/>
<circle cx="555.3" cy="500.4" r="2.38" fill="#f14130"/>
<circle cx="555.3" cy="507.1" r="2.85" fill="#67000d"/>
<circle cx="555.3" cy="513.9" r="1.23" fill="#fee9df" stroke="#d8b8b0" stroke-width="0.3"/>
<line x1="555.3" y1="527.6" x2="555.3" y2="529.2" stroke="#555" stroke-width="0.4"/>
<text transform="translate(556.9,530.1) rotate(-90)" font-size="4.6" fill="#333" text-anchor="end">F13A1</text>
<circle cx="564.1" cy="493.6" r="1.42" fill="#fcb398"/>
<circle cx="564.1" cy="500.4" r="2.38" fill="#f14130"/>
<circle cx="564.1" cy="507.1" r="2.85" fill="#67000d"/>
<circle cx="564.1" cy="513.9" r="1.04" fill="#fdd7c6"/>
<circle cx="564.1" cy="520.8" r="0.52" fill="#fee8dd"/>
<line x1="564.1" y1="527.6" x2="564.1" y2="529.2" stroke="#555" stroke-width="0.4"/>
<text transform="translate(565.7,530.1) rotate(-90)" font-size="4.6" fill="#333" text-anchor="end">FMP22</text>
<circle cx="572.8" cy="493.6" r="1.14" fill="#fcc1a8"/>
<circle cx="572.8" cy="500.4" r="2.47" fill="#67000d"/>
<circle cx="572.8" cy="507.1" r="1.33" fill="#fca486"/>
<circle cx="572.8" cy="513.9" r="0.52" fill="#fee8dd"/>
<line x1="572.8" y1="527.6" x2="572.8" y2="529.2" stroke="#555" stroke-width="0.4"/>
<text transform="translate(574.4,530.1) rotate(-90)" font-size="4.6" fill="#333" text-anchor="end">LILRB5</text>
<circle cx="581.5" cy="493.6" r="1.42" fill="#fc9474"/>
<circle cx="581.5" cy="500.4" r="2.66" fill="#67000d"/>
<circle cx="581.5" cy="507.1" r="1.52" fill="#fc8565"/>
<circle cx="581.5" cy="513.9" r="0.52" fill="#fee8dd"/>
<circle cx="581.5" cy="520.8" r="0.52" fill="#fee8dd"/>
<line x1="581.5" y1="527.6" x2="581.5" y2="529.2" stroke="#555" stroke-width="0.4"/>
<text transform="translate(583.1,530.1) rotate(-90)" font-size="4.6" fill="#333" text-anchor="end">HRH1</text>
<circle cx="590.2" cy="493.6" r="1.23" fill="#fcb398"/>
<circle cx="590.2" cy="500.4" r="2.66" fill="#67000d"/>
<circle cx="590.2" cy="507.1" r="1.33" fill="#fc9474"/>
<circle cx="590.2" cy="513.9" r="0.52" fill="#fee8dd"/>
<line x1="590.2" y1="527.6" x2="590.2" y2="529.2" stroke="#555" stroke-width="0.4"/>
<text transform="translate(591.8,530.1) rotate(-90)" font-size="4.6" fill="#333" text-anchor="end">PCDH12</text>
<circle cx="598.9" cy="493.6" r="1.71" fill="#f96245"/>
<circle cx="598.9" cy="500.4" r="2.66" fill="#67000d"/>
<circle cx="598.9" cy="507.1" r="2.47" fill="#860811"/>
<circle cx="598.9" cy="513.9" r="0.52" fill="#fee8dd"/>
<circle cx="598.9" cy="520.8" r="1.52" fill="#fca486"/>
<line x1="598.9" y1="527.6" x2="598.9" y2="529.2" stroke="#555" stroke-width="0.4"/>
<text transform="translate(600.5,530.1) rotate(-90)" font-size="4.6" fill="#333" text-anchor="end">NRP2</text>
<circle cx="607.7" cy="493.6" r="2.18" fill="#b81419"/>
<circle cx="607.7" cy="500.4" r="2.66" fill="#67000d"/>
<circle cx="607.7" cy="507.1" r="1.52" fill="#f44d38"/>
<circle cx="607.7" cy="513.9" r="0.52" fill="#fee8dd"/>
<line x1="607.7" y1="527.6" x2="607.7" y2="529.2" stroke="#555" stroke-width="0.4"/>
<text transform="translate(609.3,530.1) rotate(-90)" font-size="4.6" fill="#333" text-anchor="end">C2</text>
<circle cx="616.4" cy="493.6" r="0.52" fill="#fee8dd"/>
<circle cx="616.4" cy="500.4" r="2.28" fill="#67000d"/>
<circle cx="616.4" cy="507.1" r="1.33" fill="#fc9474"/>
<circle cx="616.4" cy="513.9" r="0.52" fill="#fee8dd"/>
<circle cx="616.4" cy="520.8" r="1.33" fill="#fca486"/>
<line x1="616.4" y1="527.6" x2="616.4" y2="529.2" stroke="#555" stroke-width="0.4"/>
<text transform="translate(618.0,530.1) rotate(-90)" font-size="4.6" fill="#333" text-anchor="end">TMEM37</text>
<circle cx="625.1" cy="493.6" r="0.52" fill="#fee8dd"/>
<circle cx="625.1" cy="500.4" r="2.28" fill="#67000d"/>
<circle cx="625.1" cy="507.1" r="1.23" fill="#fc8565"/>
<circle cx="625.1" cy="513.9" r="0.52" fill="#fee8dd"/>
<line x1="625.1" y1="527.6" x2="625.1" y2="529.2" stroke="#555" stroke-width="0.4"/>
<text transform="translate(626.7,530.1) rotate(-90)" font-size="4.6" fill="#333" text-anchor="end">CD163L1</text>
<text x="65.5" y="495.3" font-size="4.9" fill="#2b2bd9" text-anchor="end" font-weight="bold" >Mac 4</text>
<text x="65.5" y="502.1" font-size="4.9" fill="#1e8c1e" text-anchor="end" font-weight="bold" >Mac 1(2)3</text>
<text x="65.5" y="508.8" font-size="4.9" fill="#777" text-anchor="end" >MG01</text>
<text x="65.5" y="515.6" font-size="4.9" fill="#e02020" text-anchor="end" font-weight="bold" >Fetal non-mac</text>
<text x="65.5" y="522.5" font-size="4.9" fill="#9b30e0" text-anchor="end" >hiPSCs</text>
<path d="M71.5 542.3V553.4H385.3V543" stroke="#22b5cc" stroke-width="1.1" stroke-dasharray="4.2 2.2" fill="none"/>
<path d="M386.2 543V553.4H630.3V543" stroke="#8c9c16" stroke-width="1.1" stroke-dasharray="4.2 2.2" fill="none"/>
<text x="198.7" y="567.6" font-size="11.3" fill="#1d98a8" text-anchor="start" >Mac 4 markers</text>
<text x="470.6" y="567.6" font-size="11.3" fill="#8a9a14" text-anchor="start" >Mac 1-3 markers</text>
<text x="658.4" y="488.9" font-size="4.65" fill="#333" text-anchor="middle" >Fraction of cells</text>
<text x="658.4" y="493.7" font-size="4.65" fill="#333" text-anchor="middle" >in group (%)</text>
<circle cx="643.1" cy="499.0" r="0.75" fill="#8a8a8a"/>
<text x="643.1" y="509.0" font-size="4.65" fill="#333" text-anchor="middle" >20</text>
<circle cx="650.1" cy="499.0" r="1.25" fill="#8a8a8a"/>
<text x="650.1" y="509.0" font-size="4.65" fill="#333" text-anchor="middle" >40</text>
<circle cx="657.2" cy="499.0" r="1.8" fill="#8a8a8a"/>
<text x="657.2" y="509.0" font-size="4.65" fill="#333" text-anchor="middle" >60</text>
<circle cx="664.2" cy="499.0" r="2.25" fill="#8a8a8a"/>
<text x="664.2" y="509.0" font-size="4.65" fill="#333" text-anchor="middle" >80</text>
<circle cx="671.3" cy="499.0" r="2.7" fill="#8a8a8a"/>
<text x="671.3" y="509.0" font-size="4.65" fill="#333" text-anchor="middle" >100</text>
<text x="658.4" y="516.2" font-size="4.65" fill="#333" text-anchor="middle" >Mean expression</text>
<text x="658.4" y="520.8" font-size="4.65" fill="#333" text-anchor="middle" >in group</text>
<defs><linearGradient id="freds" x1="0" y1="0" x2="1" y2="0"><stop offset="0.0" stop-color="#fdf0ea"/><stop offset="0.1" stop-color="#fee5d9"/><stop offset="0.2" stop-color="#fdd7c6"/><stop offset="0.3" stop-color="#fcc1a8"/><stop offset="0.4" stop-color="#fca486"/><stop offset="0.5" stop-color="#fc8565"/><stop offset="0.6" stop-color="#f96245"/><stop offset="0.7" stop-color="#ed392b"/><stop offset="0.8" stop-color="#cb181d"/><stop offset="0.9" stop-color="#a60f15"/><stop offset="1.0" stop-color="#67000d"/></linearGradient></defs>
<rect x="640.2" y="523.8" width="36.2" height="4.4" fill="url(#freds)" stroke="#555" stroke-width="0.3"/>
<text x="640.2" y="534.0" font-size="4.4" fill="#333" text-anchor="middle" >0.0</text>
<text x="658.3" y="534.0" font-size="4.4" fill="#333" text-anchor="middle" >0.5</text>
<text x="676.4" y="534.0" font-size="4.4" fill="#333" text-anchor="middle" >1.0</text>
<text x="15.3" y="489.7" font-size="15.5" fill="#000" text-anchor="start" >F</text>
<path d="M55.2 310.6L68.6 485" stroke="#e83030" stroke-width="0.8" fill="none"/>
<path d="M121 310.6L355.3 459H521.2L631.2 484" stroke="#e83030" stroke-width="0.8" fill="none"/>
<path d="M68.2 531.5L66.2 597" stroke="#e83030" stroke-width="0.8" fill="none"/>
<path d="M632.6 528L635 597" stroke="#e83030" stroke-width="0.8" fill="none"/>
<rect x="196.6" y="577.8" width="336.2" height="11.6" rx="3" fill="#fbf7e4" stroke="#666" stroke-width="0.6"/>
<text x="362.0" y="586.2" font-size="7.15" fill="#111" text-anchor="middle" >Engrafted MG01 and MG01 bulk RNAseq differential expression of Mac1-3 and Mac 4 markers</text>
<!-- panel_g -->
<rect x="67.0" y="595.5" width="567.6" height="252.0" fill="#ebebeb"/>
<path stroke="#bddf26" stroke-width="8.41" fill="none" d="M71.1 600.0v40.8M330.5 600.0v40.8M395.4 600.0v40.8M200.8 681.0v40.8M241.3 681.0v40.8M379.2 721.5v40.8M403.5 721.5v40.8M403.5 762.0v40.8"/>
<path stroke="#25848e" stroke-width="8.41" fill="none" d="M79.2 600.0v40.8M184.6 600.0v40.8M622.4 600.0v40.8M411.6 640.5v40.8M184.6 721.5v40.8M346.7 721.5v40.8M79.2 762.0v40.8M346.7 762.0v40.8M249.4 802.5v40.8M346.7 802.5v40.8"/>
<path stroke="#44bf70" stroke-width="8.41" fill="none" d="M87.3 600.0v40.8M614.3 600.0v40.8M87.3 640.5v40.8M371.1 640.5v40.8M598.1 640.5v40.8M427.8 681.0v40.8M306.2 762.0v40.8M508.9 762.0v40.8M565.7 802.5v40.8"/>
<path stroke="#b0dd2f" stroke-width="8.41" fill="none" d="M95.4 600.0v40.8M103.5 600.0v40.8M346.7 600.0v40.8M281.9 640.5v40.8M565.7 640.5v40.8M144.0 681.0v40.8M298.1 681.0v40.8M508.9 721.5v40.8M306.2 802.5v40.8M508.9 802.5v40.8"/>
<path stroke="#86d549" stroke-width="8.41" fill="none" d="M111.6 600.0v40.8M208.9 640.5v40.8M111.6 681.0v40.8M119.7 681.0v40.8M160.2 681.0v40.8M168.4 681.0v40.8M176.5 681.0v40.8M225.1 681.0v40.8M630.5 681.0v40.8"/>
<path stroke="#4ec36b" stroke-width="8.41" fill="none" d="M119.7 600.0v40.8M160.2 600.0v40.8M387.3 600.0v40.8M500.8 600.0v40.8M135.9 640.5v40.8M298.1 640.5v40.8M217.0 681.0v40.8M314.3 681.0v40.8M322.4 681.0v40.8M630.5 721.5v40.8M557.6 762.0v40.8M460.3 802.5v40.8M590.0 802.5v40.8"/>
<path stroke="#fde725" stroke-width="8.41" fill="none" d="M127.8 600.0v40.8M135.9 600.0v40.8M144.0 600.0v40.8M152.1 600.0v40.8M176.5 600.0v40.8M200.8 600.0v40.8M217.0 600.0v40.8M225.1 600.0v40.8M241.3 600.0v40.8M290.0 600.0v40.8M298.1 600.0v40.8M306.2 600.0v40.8M314.3 600.0v40.8M354.9 600.0v40.8M363.0 600.0v40.8M371.1 600.0v40.8M427.8 600.0v40.8M476.5 600.0v40.8M484.6 600.0v40.8M508.9 600.0v40.8M533.2 600.0v40.8M581.9 600.0v40.8M606.2 600.0v40.8M79.2 640.5v40.8M95.4 640.5v40.8M103.5 640.5v40.8M111.6 640.5v40.8M119.7 640.5v40.8M160.2 640.5v40.8M168.4 640.5v40.8M184.6 640.5v40.8M192.7 640.5v40.8M241.3 640.5v40.8M249.4 640.5v40.8M265.7 640.5v40.8M273.8 640.5v40.8M306.2 640.5v40.8M322.4 640.5v40.8M346.7 640.5v40.8M395.4 640.5v40.8M444.0 640.5v40.8M452.2 640.5v40.8M468.4 640.5v40.8M492.7 640.5v40.8M517.0 640.5v40.8M525.1 640.5v40.8M541.4 640.5v40.8M573.8 640.5v40.8M606.2 640.5v40.8M614.3 640.5v40.8M630.5 640.5v40.8M71.1 681.0v40.8M87.3 681.0v40.8M135.9 681.0v40.8M208.9 681.0v40.8M233.2 681.0v40.8M281.9 681.0v40.8M330.5 681.0v40.8M387.3 681.0v40.8M395.4 681.0v40.8M435.9 681.0v40.8M492.7 681.0v40.8M500.8 681.0v40.8M565.7 681.0v40.8M598.1 681.0v40.8M257.6 721.5v40.8M411.6 721.5v40.8M419.7 721.5v40.8M460.3 721.5v40.8M557.6 721.5v40.8M622.4 721.5v40.8M338.6 762.0v40.8M379.2 762.0v40.8M419.7 762.0v40.8M549.5 762.0v40.8M590.0 762.0v40.8M403.5 802.5v40.8"/>
<path stroke="#cae11f" stroke-width="8.41" fill="none" d="M168.4 600.0v40.8M192.7 600.0v40.8M387.3 640.5v40.8M338.6 721.5v40.8"/>
<path stroke="#dfe318" stroke-width="8.41" fill="none" d="M208.9 600.0v40.8M533.2 640.5v40.8M103.5 681.0v40.8M273.8 681.0v40.8M379.2 802.5v40.8"/>
<path stroke="#22a884" stroke-width="8.41" fill="none" d="M233.2 600.0v40.8M500.8 640.5v40.8M622.4 640.5v40.8M346.7 681.0v40.8M371.1 681.0v40.8M460.3 681.0v40.8"/>
<path stroke="#2fb47c" stroke-width="8.41" fill="none" d="M249.4 600.0v40.8M233.2 640.5v40.8M427.8 640.5v40.8M249.4 681.0v40.8M338.6 802.5v40.8M411.6 802.5v40.8M419.7 802.5v40.8"/>
<path stroke="#481d6f" stroke-width="8.41" fill="none" d="M257.6 600.0v40.8M590.0 600.0v40.8M476.5 721.5v40.8M476.5 762.0v40.8"/>
<path stroke="#1f958b" stroke-width="8.41" fill="none" d="M265.7 600.0v40.8M484.6 762.0v40.8M281.9 802.5v40.8"/>
<path stroke="#5ec962" stroke-width="8.41" fill="none" d="M273.8 600.0v40.8M152.1 640.5v40.8M200.8 640.5v40.8M217.0 640.5v40.8M419.7 640.5v40.8M95.4 681.0v40.8M152.1 681.0v40.8M184.6 681.0v40.8M573.8 681.0v40.8M208.9 721.5v40.8M306.2 721.5v40.8"/>
<path stroke="#2f6c8e" stroke-width="8.41" fill="none" d="M281.9 600.0v40.8M590.0 640.5v40.8M403.5 681.0v40.8M127.8 721.5v40.8M281.9 721.5v40.8M492.7 721.5v40.8M492.7 802.5v40.8M549.5 802.5v40.8M606.2 802.5v40.8"/>
<path stroke="#21918c" stroke-width="8.41" fill="none" d="M322.4 600.0v40.8M517.0 600.0v40.8M541.4 600.0v40.8M290.0 640.5v40.8M379.2 640.5v40.8M476.5 640.5v40.8M363.0 681.0v40.8M468.4 681.0v40.8M508.9 681.0v40.8"/>
<path stroke="#471365" stroke-width="8.41" fill="none" d="M338.6 600.0v40.8M257.6 640.5v40.8M338.6 640.5v40.8M363.0 640.5v40.8M257.6 681.0v40.8M338.6 681.0v40.8M95.4 721.5v40.8M144.0 721.5v40.8M387.3 721.5v40.8M500.8 721.5v40.8M144.0 762.0v40.8M225.1 762.0v40.8M233.2 762.0v40.8M500.8 762.0v40.8M500.8 802.5v40.8"/>
<path stroke="#2c738e" stroke-width="8.41" fill="none" d="M379.2 600.0v40.8M379.2 681.0v40.8M249.4 721.5v40.8"/>
<path stroke="#2a788e" stroke-width="8.41" fill="none" d="M403.5 600.0v40.8M249.4 762.0v40.8"/>
<path stroke="#46085c" stroke-width="8.41" fill="none" d="M411.6 600.0v40.8M435.9 600.0v40.8M411.6 681.0v40.8M176.5 721.5v40.8M192.7 721.5v40.8M176.5 762.0v40.8M95.4 802.5v40.8M176.5 802.5v40.8M427.8 802.5v40.8M517.0 802.5v40.8"/>
<path stroke="#1e9c89" stroke-width="8.41" fill="none" d="M419.7 600.0v40.8M565.7 600.0v40.8M290.0 681.0v40.8M354.9 681.0v40.8M517.0 681.0v40.8M525.1 681.0v40.8M152.1 721.5v40.8M549.5 721.5v40.8M565.7 721.5v40.8M565.7 762.0v40.8M581.9 762.0v40.8M622.4 762.0v40.8M208.9 802.5v40.8M630.5 802.5v40.8"/>
<path stroke="#20a386" stroke-width="8.41" fill="none" d="M444.0 600.0v40.8M127.8 640.5v40.8M541.4 681.0v40.8M184.6 762.0v40.8"/>
<path stroke="#6ece58" stroke-width="8.41" fill="none" d="M452.2 600.0v40.8M468.4 600.0v40.8M573.8 600.0v40.8M71.1 640.5v40.8M452.2 681.0v40.8M460.3 762.0v40.8M557.6 802.5v40.8M622.4 802.5v40.8"/>
<path stroke="#32648e" stroke-width="8.41" fill="none" d="M460.3 600.0v40.8M484.6 640.5v40.8M533.2 681.0v40.8M606.2 681.0v40.8"/>
<path stroke="#228b8d" stroke-width="8.41" fill="none" d="M492.7 600.0v40.8M598.1 600.0v40.8M508.9 640.5v40.8M484.6 721.5v40.8M152.1 762.0v40.8M492.7 762.0v40.8M152.1 802.5v40.8M484.6 802.5v40.8"/>
<path stroke="#9bd93c" stroke-width="8.41" fill="none" d="M525.1 600.0v40.8M144.0 640.5v40.8M176.5 640.5v40.8M225.1 640.5v40.8M314.3 640.5v40.8M192.7 681.0v40.8M419.7 681.0v40.8M614.3 681.0v40.8M590.0 721.5v40.8M257.6 762.0v40.8M606.2 762.0v40.8M257.6 802.5v40.8"/>
<path stroke="#440154" stroke-width="8.41" fill="none" d="M549.5 600.0v40.8M549.5 640.5v40.8M581.9 640.5v40.8M549.5 681.0v40.8M71.1 721.5v40.8M135.9 721.5v40.8M217.0 721.5v40.8M233.2 721.5v40.8M273.8 721.5v40.8M314.3 721.5v40.8M363.0 721.5v40.8M435.9 721.5v40.8M517.0 721.5v40.8M71.1 762.0v40.8M135.9 762.0v40.8M192.7 762.0v40.8M217.0 762.0v40.8M273.8 762.0v40.8M314.3 762.0v40.8M363.0 762.0v40.8M427.8 762.0v40.8M435.9 762.0v40.8M517.0 762.0v40.8M71.1 802.5v40.8M135.9 802.5v40.8M192.7 802.5v40.8M217.0 802.5v40.8M233.2 802.5v40.8M273.8 802.5v40.8M314.3 802.5v40.8"/>
<path stroke="#414487" stroke-width="8.41" fill="none" d="M557.6 600.0v40.8M127.8 681.0v40.8M160.2 721.5v40.8M241.3 721.5v40.8M322.4 721.5v40.8M160.2 762.0v40.8M241.3 762.0v40.8M265.7 762.0v40.8M322.4 762.0v40.8M241.3 802.5v40.8M265.7 802.5v40.8M371.1 802.5v40.8M525.1 802.5v40.8"/>
<path stroke="#3bbb75" stroke-width="8.41" fill="none" d="M630.5 600.0v40.8M79.2 681.0v40.8M444.0 681.0v40.8M484.6 681.0v40.8M606.2 721.5v40.8M630.5 762.0v40.8"/>
<path stroke="#3b528b" stroke-width="8.41" fill="none" d="M330.5 640.5v40.8M476.5 681.0v40.8M103.5 721.5v40.8M119.7 721.5v40.8M330.5 721.5v40.8M444.0 721.5v40.8M103.5 762.0v40.8M119.7 762.0v40.8M411.6 762.0v40.8M468.4 762.0v40.8M525.1 762.0v40.8M119.7 802.5v40.8M200.8 802.5v40.8M435.9 802.5v40.8M444.0 802.5v40.8"/>
<path stroke="#7ad151" stroke-width="8.41" fill="none" d="M354.9 640.5v40.8M306.2 681.0v40.8"/>
<path stroke="#355f8d" stroke-width="8.41" fill="none" d="M403.5 640.5v40.8M460.3 640.5v40.8M265.7 681.0v40.8M590.0 681.0v40.8M200.8 721.5v40.8M452.2 721.5v40.8M614.3 721.5v40.8M127.8 762.0v40.8M444.0 762.0v40.8M452.2 762.0v40.8M598.1 762.0v40.8M79.2 802.5v40.8M127.8 802.5v40.8M452.2 802.5v40.8"/>
<path stroke="#3e4989" stroke-width="8.41" fill="none" d="M435.9 640.5v40.8M557.6 681.0v40.8M581.9 681.0v40.8M354.9 721.5v40.8M468.4 721.5v40.8M525.1 721.5v40.8M598.1 721.5v40.8M200.8 762.0v40.8M290.0 762.0v40.8M354.9 762.0v40.8M614.3 762.0v40.8M322.4 802.5v40.8M330.5 802.5v40.8M533.2 802.5v40.8M581.9 802.5v40.8M598.1 802.5v40.8M614.3 802.5v40.8"/>
<path stroke="#433e85" stroke-width="8.41" fill="none" d="M557.6 640.5v40.8M265.7 721.5v40.8M298.1 721.5v40.8M330.5 762.0v40.8M533.2 762.0v40.8M541.4 762.0v40.8"/>
<path stroke="#463480" stroke-width="8.41" fill="none" d="M622.4 681.0v40.8M371.1 721.5v40.8M427.8 721.5v40.8M533.2 721.5v40.8M541.4 721.5v40.8M371.1 762.0v40.8M573.8 762.0v40.8M103.5 802.5v40.8M160.2 802.5v40.8M298.1 802.5v40.8M468.4 802.5v40.8M476.5 802.5v40.8M573.8 802.5v40.8"/>
<path stroke="#375a8c" stroke-width="8.41" fill="none" d="M79.2 721.5v40.8"/>
<path stroke="#482475" stroke-width="8.41" fill="none" d="M87.3 721.5v40.8M111.6 721.5v40.8M168.4 721.5v40.8M225.1 721.5v40.8M573.8 721.5v40.8M581.9 721.5v40.8M95.4 762.0v40.8M111.6 762.0v40.8M168.4 762.0v40.8M87.3 802.5v40.8M111.6 802.5v40.8M144.0 802.5v40.8M168.4 802.5v40.8M225.1 802.5v40.8M363.0 802.5v40.8M387.3 802.5v40.8"/>
<path stroke="#472a7a" stroke-width="8.41" fill="none" d="M290.0 721.5v40.8M395.4 721.5v40.8M87.3 762.0v40.8M298.1 762.0v40.8M387.3 762.0v40.8M395.4 762.0v40.8M290.0 802.5v40.8M354.9 802.5v40.8M395.4 802.5v40.8M541.4 802.5v40.8"/>
<path stroke="#26ad81" stroke-width="8.41" fill="none" d="M208.9 762.0v40.8M281.9 762.0v40.8"/>
<path stroke="#287d8e" stroke-width="8.41" fill="none" d="M184.6 802.5v40.8"/>
<line x1="71.05" y1="848.3" x2="71.05" y2="850" stroke="#555" stroke-width="0.5"/>
<text transform="translate(73.15,865) rotate(-90)" font-size="5.8" fill="#555" text-anchor="middle">C3</text>
<line x1="79.16" y1="848.3" x2="79.16" y2="850" stroke="#555" stroke-width="0.5"/>
<text transform="translate(81.26,865) rotate(-90)" font-size="5.8" fill="#555" text-anchor="middle">P2RY12</text>
<path d="M78.16 887V879.4H76.46L79.16 876.5L81.86 879.4H80.16V887Z" fill="#19a319"/>
<line x1="87.27" y1="848.3" x2="87.27" y2="850" stroke="#555" stroke-width="0.5"/>
<text transform="translate(89.37,865) rotate(-90)" font-size="5.8" fill="#555" text-anchor="middle">OLFML3</text>
<path d="M86.27 887V879.4H84.57L87.27 876.5L89.97 879.4H88.27V887Z" fill="#19a319"/>
<line x1="95.38" y1="848.3" x2="95.38" y2="850" stroke="#555" stroke-width="0.5"/>
<text transform="translate(97.48,865) rotate(-90)" font-size="5.8" fill="#555" text-anchor="middle">GAL3ST4</text>
<line x1="103.49" y1="848.3" x2="103.49" y2="850" stroke="#555" stroke-width="0.5"/>
<text transform="translate(105.59,865) rotate(-90)" font-size="5.8" fill="#555" text-anchor="middle">TREM2</text>
<path d="M102.49 887V879.4H100.79L103.49 876.5L106.19 879.4H104.49V887Z" fill="#19a319"/>
<line x1="111.60" y1="848.3" x2="111.60" y2="850" stroke="#555" stroke-width="0.5"/>
<text transform="translate(113.70,865) rotate(-90)" font-size="5.8" fill="#555" text-anchor="middle">BHLHE41</text>
<line x1="119.71" y1="848.3" x2="119.71" y2="850" stroke="#555" stroke-width="0.5"/>
<text transform="translate(121.81,865) rotate(-90)" font-size="5.8" fill="#555" text-anchor="middle">PLXDC2</text>
<line x1="127.81" y1="848.3" x2="127.81" y2="850" stroke="#555" stroke-width="0.5"/>
<text transform="translate(129.91,865) rotate(-90)" font-size="5.8" fill="#555" text-anchor="middle">RGS1</text>
<line x1="135.92" y1="848.3" x2="135.92" y2="850" stroke="#555" stroke-width="0.5"/>
<text transform="translate(138.02,865) rotate(-90)" font-size="5.8" fill="#555" text-anchor="middle">HTRA1</text>
<line x1="144.03" y1="848.3" x2="144.03" y2="850" stroke="#555" stroke-width="0.5"/>
<text transform="translate(146.13,865) rotate(-90)" font-size="5.8" fill="#555" text-anchor="middle">FCGR3A</text>
<line x1="152.14" y1="848.3" x2="152.14" y2="850" stroke="#555" stroke-width="0.5"/>
<text transform="translate(154.24,865) rotate(-90)" font-size="5.8" fill="#555" text-anchor="middle">SLCO2B1</text>
<line x1="160.25" y1="848.3" x2="160.25" y2="850" stroke="#555" stroke-width="0.5"/>
<text transform="translate(162.35,865) rotate(-90)" font-size="5.8" fill="#555" text-anchor="middle">IGF1</text>
<line x1="168.36" y1="848.3" x2="168.36" y2="850" stroke="#555" stroke-width="0.5"/>
<text transform="translate(170.46,865) rotate(-90)" font-size="5.8" fill="#555" text-anchor="middle">LPL</text>
<line x1="176.47" y1="848.3" x2="176.47" y2="850" stroke="#555" stroke-width="0.5"/>
<text transform="translate(178.57,865) rotate(-90)" font-size="5.8" fill="#555" text-anchor="middle">OLR1</text>
<line x1="184.57" y1="848.3" x2="184.57" y2="850" stroke="#555" stroke-width="0.5"/>
<text transform="translate(186.67,865) rotate(-90)" font-size="5.8" fill="#555" text-anchor="middle">DOCK4</text>
<line x1="192.68" y1="848.3" x2="192.68" y2="850" stroke="#555" stroke-width="0.5"/>
<text transform="translate(194.78,865) rotate(-90)" font-size="5.8" fill="#555" text-anchor="middle">APOE</text>
<line x1="200.79" y1="848.3" x2="200.79" y2="850" stroke="#555" stroke-width="0.5"/>
<text transform="translate(202.89,865) rotate(-90)" font-size="5.8" fill="#555" text-anchor="middle">P2RY13</text>
<line x1="208.90" y1="848.3" x2="208.90" y2="850" stroke="#555" stroke-width="0.5"/>
<text transform="translate(211.00,865) rotate(-90)" font-size="5.8" fill="#555" text-anchor="middle">HMOX1</text>
<line x1="217.01" y1="848.3" x2="217.01" y2="850" stroke="#555" stroke-width="0.5"/>
<text transform="translate(219.11,865) rotate(-90)" font-size="5.8" fill="#555" text-anchor="middle">LILRB4</text>
<line x1="225.12" y1="848.3" x2="225.12" y2="850" stroke="#555" stroke-width="0.5"/>
<text transform="translate(227.22,865) rotate(-90)" font-size="5.8" fill="#555" text-anchor="middle">SORL1</text>
<line x1="233.23" y1="848.3" x2="233.23" y2="850" stroke="#555" stroke-width="0.5"/>
<text transform="translate(235.33,865) rotate(-90)" font-size="5.8" fill="#555" text-anchor="middle">PDPN</text>
<line x1="241.33" y1="848.3" x2="241.33" y2="850" stroke="#555" stroke-width="0.5"/>
<text transform="translate(243.43,865) rotate(-90)" font-size="5.8" fill="#555" text-anchor="middle">LHFPL2</text>
<line x1="249.44" y1="848.3" x2="249.44" y2="850" stroke="#555" stroke-width="0.5"/>
<text transform="translate(251.54,865) rotate(-90)" font-size="5.8" fill="#555" text-anchor="middle">MERTK</text>
<path d="M248.44 887V879.4H246.74L249.44 876.5L252.14 879.4H250.44V887Z" fill="#19a319"/>
<line x1="257.55" y1="848.3" x2="257.55" y2="850" stroke="#555" stroke-width="0.5"/>
<text transform="translate(259.65,865) rotate(-90)" font-size="5.8" fill="#555" text-anchor="middle">EIF3</text>
<line x1="265.66" y1="848.3" x2="265.66" y2="850" stroke="#555" stroke-width="0.5"/>
<text transform="translate(267.76,865) rotate(-90)" font-size="5.8" fill="#555" text-anchor="middle">FCGR1A</text>
<line x1="273.77" y1="848.3" x2="273.77" y2="850" stroke="#555" stroke-width="0.5"/>
<text transform="translate(275.87,865) rotate(-90)" font-size="5.8" fill="#555" text-anchor="middle">APOC1</text>
<line x1="281.88" y1="848.3" x2="281.88" y2="850" stroke="#555" stroke-width="0.5"/>
<text transform="translate(283.98,865) rotate(-90)" font-size="5.8" fill="#555" text-anchor="middle">FPR1</text>
<line x1="289.99" y1="848.3" x2="289.99" y2="850" stroke="#555" stroke-width="0.5"/>
<text transform="translate(292.09,865) rotate(-90)" font-size="5.8" fill="#555" text-anchor="middle">SYT6</text>
<line x1="298.09" y1="848.3" x2="298.09" y2="850" stroke="#555" stroke-width="0.5"/>
<text transform="translate(300.19,865) rotate(-90)" font-size="5.8" fill="#555" text-anchor="middle">CXCL16</text>
<line x1="306.20" y1="848.3" x2="306.20" y2="850" stroke="#555" stroke-width="0.5"/>
<text transform="translate(308.30,865) rotate(-90)" font-size="5.8" fill="#555" text-anchor="middle">LPAR5</text>
<line x1="314.31" y1="848.3" x2="314.31" y2="850" stroke="#555" stroke-width="0.5"/>
<text transform="translate(316.41,865) rotate(-90)" font-size="5.8" fill="#555" text-anchor="middle">CSF1</text>
<line x1="322.42" y1="848.3" x2="322.42" y2="850" stroke="#555" stroke-width="0.5"/>
<text transform="translate(324.52,865) rotate(-90)" font-size="5.8" fill="#555" text-anchor="middle">DNASE2</text>
<line x1="330.53" y1="848.3" x2="330.53" y2="850" stroke="#555" stroke-width="0.5"/>
<text transform="translate(332.63,865) rotate(-90)" font-size="5.8" fill="#555" text-anchor="middle">TMIESF1</text>
<line x1="338.64" y1="848.3" x2="338.64" y2="850" stroke="#555" stroke-width="0.5"/>
<text transform="translate(340.74,865) rotate(-90)" font-size="5.8" fill="#555" text-anchor="middle">MTUS1</text>
<line x1="346.75" y1="848.3" x2="346.75" y2="850" stroke="#555" stroke-width="0.5"/>
<text transform="translate(348.85,865) rotate(-90)" font-size="5.8" fill="#555" text-anchor="middle">MGAT4A</text>
<line x1="354.85" y1="848.3" x2="354.85" y2="850" stroke="#555" stroke-width="0.5"/>
<text transform="translate(356.95,865) rotate(-90)" font-size="5.8" fill="#555" text-anchor="middle">FMNL3</text>
<line x1="362.96" y1="848.3" x2="362.96" y2="850" stroke="#555" stroke-width="0.5"/>
<text transform="translate(365.06,865) rotate(-90)" font-size="5.8" fill="#555" text-anchor="middle">TMEM52B</text>
<line x1="371.07" y1="848.3" x2="371.07" y2="850" stroke="#555" stroke-width="0.5"/>
<text transform="translate(373.17,865) rotate(-90)" font-size="5.8" fill="#555" text-anchor="middle">SIGLEC10</text>
<line x1="379.18" y1="848.3" x2="379.18" y2="850" stroke="#555" stroke-width="0.5"/>
<text transform="translate(381.28,865) rotate(-90)" font-size="5.8" fill="#555" text-anchor="middle">TMIGD3</text>
<line x1="387.29" y1="848.3" x2="387.29" y2="850" stroke="#555" stroke-width="0.5"/>
<text transform="translate(389.39,865) rotate(-90)" font-size="5.8" fill="#555" text-anchor="middle">KCNQ3</text>
<line x1="395.40" y1="848.3" x2="395.40" y2="850" stroke="#555" stroke-width="0.5"/>
<text transform="translate(397.50,865) rotate(-90)" font-size="5.8" fill="#555" text-anchor="middle">FCGR1BP</text>
<line x1="403.51" y1="848.3" x2="403.51" y2="850" stroke="#555" stroke-width="0.5"/>
<text transform="translate(405.61,865) rotate(-90)" font-size="5.8" fill="#555" text-anchor="middle">ADORA3</text>
<line x1="411.61" y1="848.3" x2="411.61" y2="850" stroke="#555" stroke-width="0.5"/>
<text transform="translate(413.71,865) rotate(-90)" font-size="5.8" fill="#555" text-anchor="middle">CCL3</text>
<line x1="419.72" y1="848.3" x2="419.72" y2="850" stroke="#555" stroke-width="0.5"/>
<text transform="translate(421.82,865) rotate(-90)" font-size="5.8" fill="#555" text-anchor="middle">SUCNR1</text>
<line x1="427.83" y1="848.3" x2="427.83" y2="850" stroke="#555" stroke-width="0.5"/>
<text transform="translate(429.93,865) rotate(-90)" font-size="5.8" fill="#555" text-anchor="middle">SALL1</text>
<path d="M426.83 887V879.4H425.13L427.83 876.5L430.53 879.4H428.83V887Z" fill="#19a319"/>
<line x1="435.94" y1="848.3" x2="435.94" y2="850" stroke="#555" stroke-width="0.5"/>
<text transform="translate(438.04,865) rotate(-90)" font-size="5.8" fill="#555" text-anchor="middle">NNAT</text>
<line x1="444.05" y1="848.3" x2="444.05" y2="850" stroke="#555" stroke-width="0.5"/>
<text transform="translate(446.15,865) rotate(-90)" font-size="5.8" fill="#555" text-anchor="middle">TLR7</text>
<line x1="452.16" y1="848.3" x2="452.16" y2="850" stroke="#555" stroke-width="0.5"/>
<text transform="translate(454.26,865) rotate(-90)" font-size="5.8" fill="#555" text-anchor="middle">UTAF</text>
<line x1="460.27" y1="848.3" x2="460.27" y2="850" stroke="#555" stroke-width="0.5"/>
<text transform="translate(462.37,865) rotate(-90)" font-size="5.8" fill="#555" text-anchor="middle">CRYBB1</text>
<line x1="468.37" y1="848.3" x2="468.37" y2="850" stroke="#555" stroke-width="0.5"/>
<text transform="translate(470.47,865) rotate(-90)" font-size="5.8" fill="#555" text-anchor="middle">JAG1</text>
<line x1="476.48" y1="848.3" x2="476.48" y2="850" stroke="#555" stroke-width="0.5"/>
<text transform="translate(478.58,865) rotate(-90)" font-size="5.8" fill="#555" text-anchor="middle">TMEM119</text>
<path d="M475.48 887V879.4H473.78L476.48 876.5L479.18 879.4H477.48V887Z" fill="#19a319"/>
<line x1="484.59" y1="848.3" x2="484.59" y2="850" stroke="#555" stroke-width="0.5"/>
<text transform="translate(486.69,865) rotate(-90)" font-size="5.8" fill="#555" text-anchor="middle">MMP2</text>
<line x1="492.70" y1="848.3" x2="492.70" y2="850" stroke="#555" stroke-width="0.5"/>
<text transform="translate(494.80,865) rotate(-90)" font-size="5.8" fill="#555" text-anchor="middle">SLC1A3</text>
<line x1="500.81" y1="848.3" x2="500.81" y2="850" stroke="#555" stroke-width="0.5"/>
<text transform="translate(502.91,865) rotate(-90)" font-size="5.8" fill="#555" text-anchor="middle">CCL2</text>
<line x1="508.92" y1="848.3" x2="508.92" y2="850" stroke="#555" stroke-width="0.5"/>
<text transform="translate(511.02,865) rotate(-90)" font-size="5.8" fill="#555" text-anchor="middle">SDC2</text>
<line x1="517.03" y1="848.3" x2="517.03" y2="850" stroke="#555" stroke-width="0.5"/>
<text transform="translate(519.13,865) rotate(-90)" font-size="5.8" fill="#555" text-anchor="middle">GLDN</text>
<line x1="525.13" y1="848.3" x2="525.13" y2="850" stroke="#555" stroke-width="0.5"/>
<text transform="translate(527.23,865) rotate(-90)" font-size="5.8" fill="#555" text-anchor="middle">SKIL</text>
<line x1="533.24" y1="848.3" x2="533.24" y2="850" stroke="#555" stroke-width="0.5"/>
<text transform="translate(535.34,865) rotate(-90)" font-size="5.8" fill="#555" text-anchor="middle">SERPINB9</text>
<line x1="541.35" y1="848.3" x2="541.35" y2="850" stroke="#555" stroke-width="0.5"/>
<text transform="translate(543.45,865) rotate(-90)" font-size="5.8" fill="#555" text-anchor="middle">SLC6A1</text>
<line x1="549.46" y1="848.3" x2="549.46" y2="850" stroke="#555" stroke-width="0.5"/>
<text transform="translate(551.56,865) rotate(-90)" font-size="5.8" fill="#555" text-anchor="middle">TUBB2B</text>
<line x1="557.57" y1="848.3" x2="557.57" y2="850" stroke="#555" stroke-width="0.5"/>
<text transform="translate(559.67,865) rotate(-90)" font-size="5.8" fill="#555" text-anchor="middle">PIK3IP1</text>
<line x1="565.68" y1="848.3" x2="565.68" y2="850" stroke="#555" stroke-width="0.5"/>
<text transform="translate(567.78,865) rotate(-90)" font-size="5.8" fill="#555" text-anchor="middle">SIPA1L2</text>
<line x1="573.79" y1="848.3" x2="573.79" y2="850" stroke="#555" stroke-width="0.5"/>
<text transform="translate(575.89,865) rotate(-90)" font-size="5.8" fill="#555" text-anchor="middle">LGALS3</text>
<line x1="581.89" y1="848.3" x2="581.89" y2="850" stroke="#555" stroke-width="0.5"/>
<text transform="translate(583.99,865) rotate(-90)" font-size="5.8" fill="#555" text-anchor="middle">TSPAN7</text>
<line x1="590.00" y1="848.3" x2="590.00" y2="850" stroke="#555" stroke-width="0.5"/>
<text transform="translate(592.10,865) rotate(-90)" font-size="5.8" fill="#555" text-anchor="middle">PDGFB</text>
<line x1="598.11" y1="848.3" x2="598.11" y2="850" stroke="#555" stroke-width="0.5"/>
<text transform="translate(600.21,865) rotate(-90)" font-size="5.8" fill="#555" text-anchor="middle">PALD1</text>
<line x1="606.22" y1="848.3" x2="606.22" y2="850" stroke="#555" stroke-width="0.5"/>
<text transform="translate(608.32,865) rotate(-90)" font-size="5.8" fill="#555" text-anchor="middle">LRRK1</text>
<line x1="614.33" y1="848.3" x2="614.33" y2="850" stroke="#555" stroke-width="0.5"/>
<text transform="translate(616.43,865) rotate(-90)" font-size="5.8" fill="#555" text-anchor="middle">NAV3</text>
<line x1="622.44" y1="848.3" x2="622.44" y2="850" stroke="#555" stroke-width="0.5"/>
<text transform="translate(624.54,865) rotate(-90)" font-size="5.8" fill="#555" text-anchor="middle">MAP1B</text>
<line x1="630.55" y1="848.3" x2="630.55" y2="850" stroke="#555" stroke-width="0.5"/>
<text transform="translate(632.65,865) rotate(-90)" font-size="5.8" fill="#555" text-anchor="middle">HSD17B14</text>
<text x="49.3" y="615.1" font-size="7.1" fill="#1f4e79" text-anchor="middle" font-weight="bold" >Engrafted</text>
<text x="49.3" y="622.9" font-size="7.1" fill="#1f4e79" text-anchor="middle" font-weight="bold" >MG01</text>
<text x="49.3" y="630.6" font-size="7.1" fill="#1f4e79" text-anchor="middle" font-weight="bold" >rep 1</text>
<text x="49.3" y="655.6" font-size="7.1" fill="#1f4e79" text-anchor="middle" font-weight="bold" >Engrafted</text>
<text x="49.3" y="663.4" font-size="7.1" fill="#1f4e79" text-anchor="middle" font-weight="bold" >MG01</text>
<text x="49.3" y="671.1" font-size="7.1" fill="#1f4e79" text-anchor="middle" font-weight="bold" >rep 2</text>
<text x="49.3" y="696.1" font-size="7.1" fill="#1f4e79" text-anchor="middle" font-weight="bold" >Engrafted</text>
<text x="49.3" y="703.9" font-size="7.1" fill="#1f4e79" text-anchor="middle" font-weight="bold" >MG01</text>
<text x="49.3" y="711.6" font-size="7.1" fill="#1f4e79" text-anchor="middle" font-weight="bold" >rep 3</text>
<text x="49.3" y="740.5" font-size="7.1" fill="#8b4513" text-anchor="middle" font-weight="bold" >MG01</text>
<text x="49.3" y="748.2" font-size="7.1" fill="#8b4513" text-anchor="middle" font-weight="bold" >rep 1</text>
<text x="49.3" y="781.0" font-size="7.1" fill="#8b4513" text-anchor="middle" font-weight="bold" >MG01</text>
<text x="49.3" y="788.7" font-size="7.1" fill="#8b4513" text-anchor="middle" font-weight="bold" >rep 2</text>
<text x="49.3" y="821.5" font-size="7.1" fill="#8b4513" text-anchor="middle" font-weight="bold" >MG01</text>
<text x="49.3" y="829.2" font-size="7.1" fill="#8b4513" text-anchor="middle" font-weight="bold" >rep 3</text>
<text x="646.2" y="697.3" font-size="6.4" fill="#222" text-anchor="start" >count</text>
<defs><linearGradient id="gvir" x1="0" y1="1" x2="0" y2="0"><stop offset="0.0" stop-color="#440154"/><stop offset="0.1" stop-color="#482475"/><stop offset="0.2" stop-color="#414487"/><stop offset="0.3" stop-color="#355f8d"/><stop offset="0.4" stop-color="#2a788e"/><stop offset="0.5" stop-color="#21918c"/><stop offset="0.6" stop-color="#22a884"/><stop offset="0.7" stop-color="#44bf70"/><stop offset="0.8" stop-color="#7ad151"/><stop offset="0.9" stop-color="#bddf26"/><stop offset="1.0" stop-color="#fde725"/></linearGradient></defs>
<rect x="646.2" y="701.2" width="10.6" height="52.2" rx="1" fill="url(#gvir)"/>
<text x="660.2" y="703.9" font-size="5.6" fill="#333" text-anchor="start" >1.00</text>
<path d="M646.2 714.2h2M654.8 714.2h2" stroke="#fff" stroke-width="0.5"/>
<text x="660.2" y="716.2" font-size="5.6" fill="#333" text-anchor="start" >0.75</text>
<path d="M646.2 727.3h2M654.8 727.3h2" stroke="#fff" stroke-width="0.5"/>
<text x="660.2" y="729.3" font-size="5.6" fill="#333" text-anchor="start" >0.50</text>
<path d="M646.2 740.4h2M654.8 740.4h2" stroke="#fff" stroke-width="0.5"/>
<text x="660.2" y="742.4" font-size="5.6" fill="#333" text-anchor="start" >0.25</text>
<text x="660.2" y="754.8" font-size="5.6" fill="#333" text-anchor="start" >0.00</text>
<text x="13.9" y="601.4" font-size="16" fill="#000" text-anchor="start" >G</text>
</svg>
</body></html>
